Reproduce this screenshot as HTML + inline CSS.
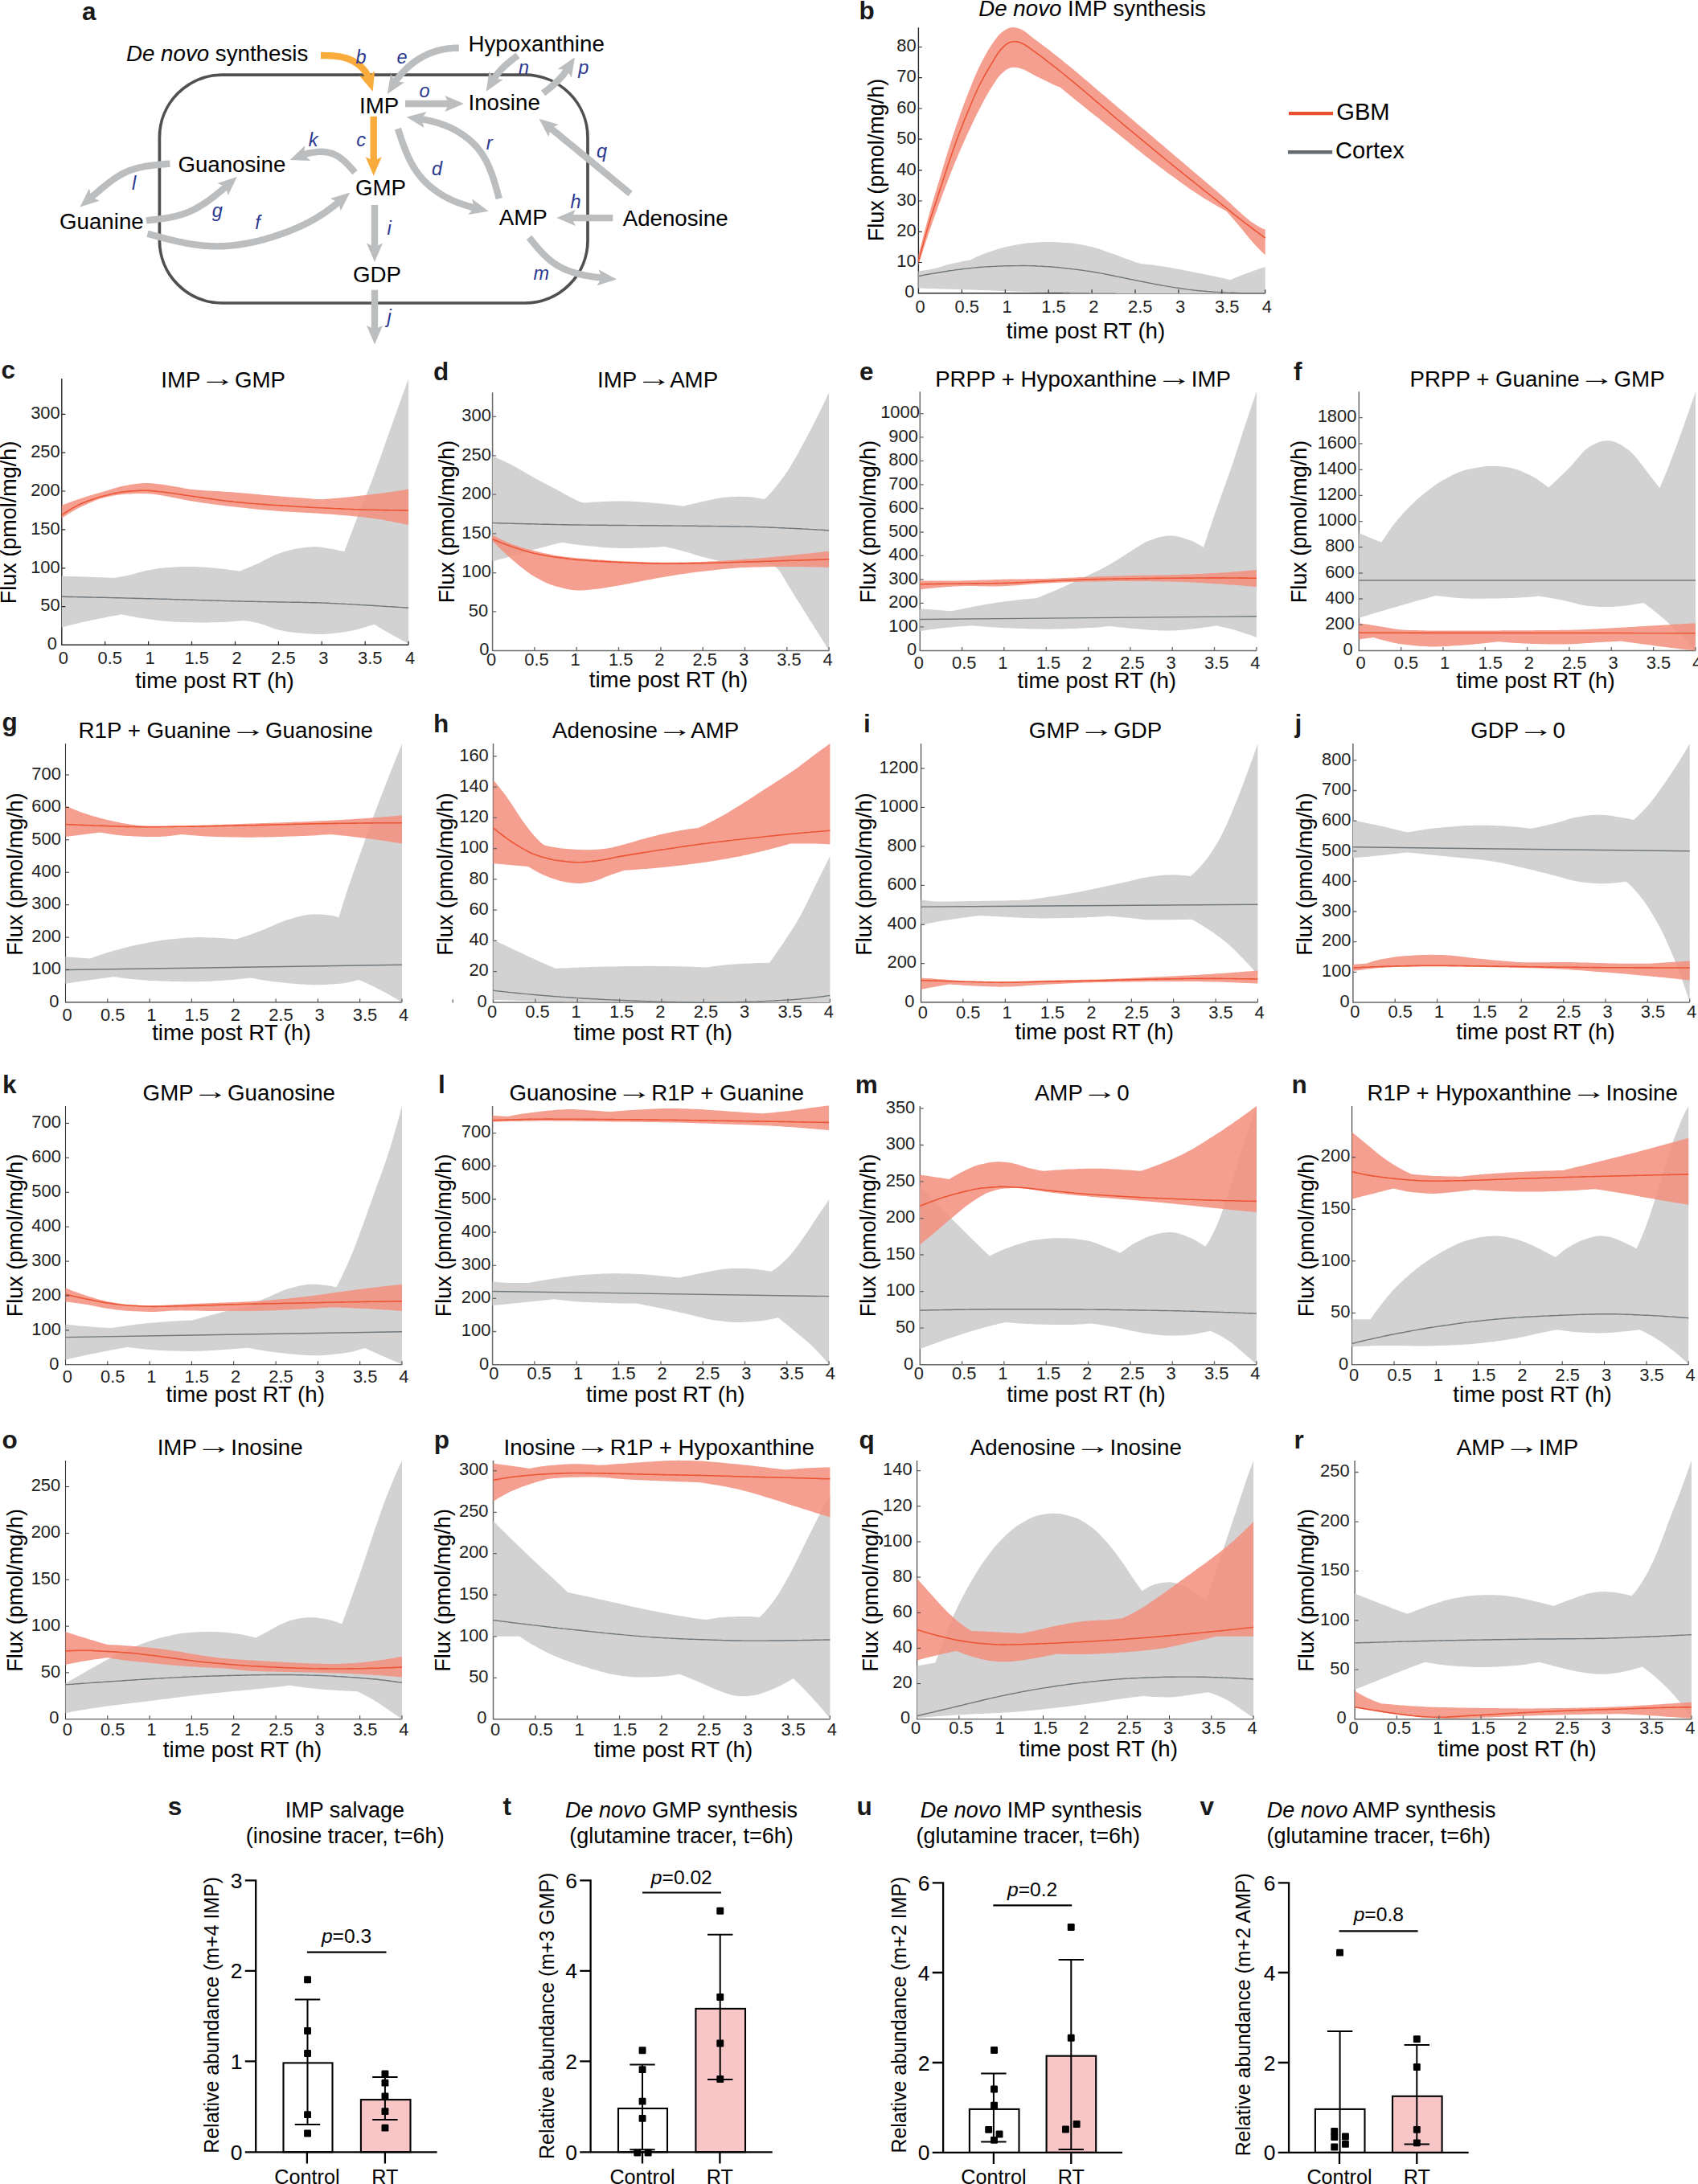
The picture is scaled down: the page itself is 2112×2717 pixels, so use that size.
<!DOCTYPE html>
<html><head><meta charset="utf-8"><title>Figure</title>
<style>html,body{margin:0;padding:0;background:#fff}svg{display:block}text{font-family:"Liberation Sans", sans-serif}</style></head><body>
<svg width="2112" height="2717" viewBox="0 0 2112 2717" font-family='"Liberation Sans", sans-serif' fill="#000">
<rect width="2112" height="2717" fill="#fff"/>
<g>
<text x="102" y="24.5" font-size="31.5" font-weight="bold" fill="#1a1a1a">a</text>
<rect x="198.4" y="93.2" width="532.6" height="283.8" rx="78" ry="78" fill="none" stroke="#505050" stroke-width="3.7"/>
<path d="M211.4,203.7 L209.9,203.8 L208.4,203.9 L206.8,204 L205.3,204.2 L203.8,204.3 L202.3,204.4 L200.8,204.5 L199.2,204.7 L197.7,204.8 L196.2,205 L194.7,205.1 L193.2,205.3 L191.7,205.4 L190.2,205.6 L188.6,205.8 L187.1,206 L185.6,206.2 L184.1,206.5 L182.6,206.7 L181.1,206.9 L179.6,207.2 L178.1,207.5 L176.6,207.8 L175.1,208.1 L173.6,208.4 L172.2,208.8 L170.7,209.2 L169.2,209.6 L167.7,210 L166.3,210.4 L164.8,210.9 L163.4,211.4 L162,211.9 L160.5,212.4 L159.1,213 L157.7,213.6 L156.3,214.2 L154.9,214.9 L153.6,215.6 L152.2,216.2 L150.9,217 L149.6,217.7 L148.2,218.5 L146.9,219.3 L145.6,220.1 L144.4,220.9 L143.1,221.8 L141.8,222.6 L140.6,223.5 L139.4,224.4 L138.1,225.3 L136.9,226.2 L135.7,227.1 L134.5,228.1 L133.3,229 L132.1,230 L130.9,230.9 L129.7,231.9 L128.6,232.8 L127.4,233.8 L126.2,234.8 L125,235.8 L123.9,236.7 L122.7,237.7 L121.5,238.7 L120.4,239.7 L119.2,240.7 L118,241.7 L116.9,242.6 L115.7,243.6 L114.6,244.6 L113.4,245.6" fill="none" stroke="#bbbdbf" stroke-width="8.4"/>
<path d="M99.5,257.5 L110.9,234.6 L113.7,245.3 L123.9,249.8Z" fill="#bbbdbf"/>
<path d="M181.9,274.3 L183.4,274.1 L184.9,274 L186.5,273.8 L188,273.7 L189.5,273.5 L191,273.3 L192.6,273.2 L194.1,273 L195.6,272.8 L197.1,272.6 L198.6,272.4 L200.2,272.2 L201.7,272 L203.2,271.8 L204.7,271.6 L206.2,271.3 L207.7,271.1 L209.2,270.8 L210.7,270.6 L212.3,270.3 L213.8,270 L215.3,269.7 L216.7,269.3 L218.2,269 L219.7,268.6 L221.2,268.2 L222.7,267.8 L224.2,267.4 L225.6,267 L227.1,266.5 L228.5,266 L230,265.5 L231.4,265 L232.9,264.4 L234.3,263.9 L235.7,263.3 L237.1,262.6 L238.5,262 L239.8,261.3 L241.2,260.7 L242.6,260 L243.9,259.2 L245.3,258.5 L246.6,257.7 L247.9,257 L249.2,256.2 L250.6,255.4 L251.8,254.6 L253.1,253.7 L254.4,252.9 L255.7,252 L257,251.2 L258.2,250.3 L259.5,249.4 L260.7,248.5 L261.9,247.6 L263.2,246.7 L264.4,245.8 L265.6,244.9 L266.8,243.9 L268,243 L269.2,242 L270.4,241.1 L271.6,240.1 L272.8,239.1 L274,238.2 L275.2,237.2 L276.3,236.2 L277.5,235.2 L278.7,234.2 L279.8,233.2 L281,232.2" fill="none" stroke="#bbbdbf" stroke-width="8.4"/>
<path d="M294.8,220.1 L283.7,243.1 L280.7,232.4 L270.5,228.1Z" fill="#bbbdbf"/>
<path d="M183.5,290.7 L185,291.1 L186.4,291.5 L187.9,291.9 L189.3,292.3 L190.8,292.7 L192.2,293.1 L193.7,293.5 L195.2,293.9 L196.6,294.3 L198.1,294.7 L199.5,295.1 L201,295.4 L202.5,295.8 L203.9,296.2 L205.4,296.6 L206.9,297 L208.3,297.3 L209.8,297.7 L211.3,298.1 L212.7,298.4 L214.2,298.8 L215.7,299.1 L217.1,299.5 L218.6,299.8 L220.1,300.1 L221.6,300.5 L223,300.8 L224.5,301.1 L226,301.4 L227.5,301.7 L229,302 L230.4,302.3 L231.9,302.6 L233.4,302.9 L234.9,303.1 L236.4,303.4 L237.9,303.6 L239.4,303.9 L240.9,304.1 L242.4,304.3 L243.9,304.5 L245.4,304.7 L246.9,304.9 L248.4,305.1 L249.9,305.3 L251.4,305.4 L252.9,305.6 L254.4,305.7 L255.9,305.8 L257.4,305.9 L258.9,306 L260.4,306.1 L261.9,306.2 L263.4,306.3 L264.9,306.3 L266.4,306.3 L267.9,306.4 L269.5,306.4 L271,306.4 L272.5,306.4 L274,306.3 L275.5,306.3 L277,306.2 L278.5,306.2 L280,306.1 L281.5,306 L283,305.9 L284.6,305.8 L286.1,305.6 L287.6,305.5 L289.1,305.4 L290.6,305.2 L292.1,305 L293.6,304.8 L295.1,304.7 L296.6,304.5 L298.1,304.2 L299.6,304 L301.1,303.8 L302.5,303.5 L304,303.3 L305.5,303 L307,302.8 L308.5,302.5 L310,302.2 L311.5,301.9 L312.9,301.6 L314.4,301.3 L315.9,300.9 L317.4,300.6 L318.8,300.3 L320.3,299.9 L321.8,299.6 L323.2,299.2 L324.7,298.8 L326.2,298.4 L327.6,298.1 L329.1,297.7 L330.5,297.2 L332,296.8 L333.5,296.4 L334.9,296 L336.4,295.6 L337.8,295.1 L339.2,294.7 L340.7,294.2 L342.1,293.8 L343.6,293.3 L345,292.8 L346.4,292.3 L347.9,291.8 L349.3,291.4 L350.7,290.8 L352.1,290.3 L353.6,289.8 L355,289.3 L356.4,288.8 L357.8,288.2 L359.2,287.7 L360.6,287.1 L362,286.6 L363.4,286 L364.8,285.4 L366.2,284.8 L367.6,284.2 L369,283.6 L370.4,283 L371.7,282.4 L373.1,281.8 L374.5,281.2 L375.9,280.5 L377.2,279.9 L378.6,279.2 L379.9,278.5 L381.3,277.8 L382.6,277.2 L384,276.5 L385.3,275.7 L386.6,275 L388,274.3 L389.3,273.6 L390.6,272.8 L391.9,272.1 L393.2,271.3 L394.5,270.5 L395.8,269.7 L397.1,268.9 L398.4,268.1 L399.6,267.3 L400.9,266.5 L402.2,265.7 L403.4,264.8 L404.7,264 L405.9,263.1 L407.1,262.2 L408.4,261.3 L409.6,260.5 L410.8,259.6 L412,258.6 L413.2,257.7 L414.4,256.8 L415.6,255.9 L416.8,254.9 L418,254 L419.1,253 L420.3,252.1 L421.4,251.1" fill="none" stroke="#bbbdbf" stroke-width="8.4"/>
<path d="M435.3,239.4 L423.8,262.2 L421,251.5 L410.9,246.9Z" fill="#bbbdbf"/>
<path d="M441.5,214.6 L440.5,213.4 L439.5,212.3 L438.5,211.1 L437.5,210 L436.5,208.9 L435.4,207.7 L434.4,206.6 L433.4,205.5 L432.3,204.4 L431.2,203.3 L430.1,202.2 L429,201.2 L427.9,200.2 L426.7,199.2 L425.6,198.2 L424.4,197.3 L423.1,196.3 L421.9,195.5 L420.6,194.6 L419.3,193.9 L417.9,193.1 L416.6,192.5 L415.2,191.8 L413.8,191.3 L412.3,190.8 L410.9,190.3 L409.4,190 L407.9,189.6 L406.4,189.4 L404.9,189.2 L403.3,189 L401.8,188.9 L400.3,188.8 L398.8,188.8 L397.2,188.9 L395.7,188.9 L394.2,189 L392.7,189.2 L391.2,189.3 L389.7,189.6 L388.1,189.8 L386.6,190.1 L385.2,190.4 L383.7,190.7 L382.2,191.1 L380.7,191.5 L379.2,191.9 L377.8,192.5" fill="none" stroke="#bbbdbf" stroke-width="8.4"/>
<path d="M360.7,199 L379.1,181.3 L378.2,192.4 L386.2,200Z" fill="#bbbdbf"/>
<path d="M570.8,59.7 L569.3,59.7 L567.7,59.7 L566.2,59.8 L564.7,59.8 L563.2,59.9 L561.6,60.1 L560.1,60.2 L558.6,60.4 L557.1,60.5 L555.6,60.7 L554,61 L552.5,61.2 L551,61.5 L549.5,61.8 L548,62.1 L546.5,62.5 L545.1,62.9 L543.6,63.3 L542.1,63.7 L540.7,64.2 L539.2,64.7 L537.8,65.2 L536.3,65.7 L534.9,66.2 L533.5,66.8 L532.1,67.4 L530.7,68.1 L529.3,68.7 L527.9,69.4 L526.6,70.1 L525.2,70.8 L523.9,71.6 L522.6,72.3 L521.3,73.1 L520,74 L518.7,74.8 L517.4,75.7 L516.2,76.5 L515,77.4 L513.7,78.4 L512.5,79.3 L511.3,80.3 L510.2,81.2 L509,82.2 L507.8,83.2 L506.7,84.3 L505.6,85.3 L504.5,86.4 L503.4,87.5 L502.4,88.6 L501.3,89.7 L500.3,90.8 L499.2,91.9 L498.2,93.1 L497.2,94.3 L496.3,95.4 L495.3,96.6 L494.4,97.8 L493.4,99 L492.5,100.3 L491.7,101.5" fill="none" stroke="#bbbdbf" stroke-width="8.4"/>
<path d="M481.8,117 L486,91.8 L491.9,101.2 L502.9,102.6Z" fill="#bbbdbf"/>
<path d="M644,69 L642.8,69.9 L641.5,70.9 L640.3,71.8 L639.1,72.7 L637.9,73.7 L636.7,74.6 L635.5,75.6 L634.3,76.6 L633.1,77.5 L631.9,78.5 L630.7,79.5 L629.5,80.6 L628.4,81.6 L627.3,82.6 L626.2,83.7 L625.1,84.8 L624,85.9 L622.9,87 L621.9,88.1 L620.9,89.3 L619.9,90.5 L618.9,91.7 L618,92.9 L617,94.1 L616.1,95.4 L615.2,96.6 L614.4,97.9" fill="none" stroke="#bbbdbf" stroke-width="8.4"/>
<path d="M604.7,113.7 L608.5,88.5 L614.5,97.8 L625.6,99Z" fill="#bbbdbf"/>
<path d="M675.7,115.9 L676.9,114.9 L678.2,113.9 L679.4,113 L680.6,112 L681.9,111 L683.1,110 L684.3,109 L685.5,108 L686.7,106.9 L687.9,105.9 L689.1,104.9 L690.3,103.8 L691.4,102.7 L692.6,101.6 L693.7,100.5 L694.8,99.4 L695.9,98.3 L697,97.1 L698,96 L699.1,94.8 L700.1,93.6 L701.1,92.3 L702,91.1 L703,89.8 L703.9,88.6 L704.8,87.3 L705.6,86" fill="none" stroke="#bbbdbf" stroke-width="8.4"/>
<path d="M715,71.3 L710.8,96.5 L705,87.1 L693.9,85.7Z" fill="#bbbdbf"/>
<path d="M504,129 L505.6,129 L507.1,129 L508.7,129 L510.2,129 L511.8,129 L513.3,129 L514.9,129 L516.4,129 L518,129 L519.5,129 L521.1,129 L522.6,129 L524.2,129 L525.7,129 L527.3,129 L528.9,129 L530.4,129 L532,129 L533.5,129 L535.1,129 L536.6,129 L538.2,129 L539.7,129 L541.3,129 L542.8,129 L544.4,129 L545.9,129 L547.5,129 L549,129 L550.6,129 L552.1,129 L553.7,129 L555.3,129 L556.8,129 L558.3,129" fill="none" stroke="#bbbdbf" stroke-width="8.4"/>
<path d="M577,129 L553.5,139 L558.3,129 L553.5,119Z" fill="#bbbdbf"/>
<path d="M620.8,247.2 L620.4,245.7 L620,244.3 L619.6,242.8 L619.2,241.3 L618.9,239.9 L618.5,238.4 L618.1,237 L617.7,235.5 L617.2,234 L616.8,232.6 L616.4,231.1 L616,229.7 L615.6,228.2 L615.1,226.8 L614.7,225.3 L614.2,223.9 L613.8,222.5 L613.3,221 L612.8,219.6 L612.3,218.2 L611.8,216.7 L611.3,215.3 L610.7,213.9 L610.2,212.5 L609.6,211.1 L609.1,209.7 L608.5,208.3 L607.9,206.9 L607.2,205.5 L606.6,204.1 L606,202.8 L605.3,201.4 L604.6,200.1 L603.9,198.7 L603.1,197.4 L602.4,196.1 L601.6,194.8 L600.8,193.5 L600,192.2 L599.2,191 L598.3,189.7 L597.4,188.5 L596.5,187.3 L595.6,186.1 L594.6,184.9 L593.7,183.8 L592.7,182.6 L591.7,181.5 L590.6,180.4 L589.6,179.3 L588.5,178.2 L587.4,177.2 L586.3,176.1 L585.2,175.1 L584,174.1 L582.9,173.1 L581.7,172.2 L580.5,171.2 L579.3,170.3 L578.1,169.4 L576.9,168.5 L575.7,167.7 L574.4,166.8 L573.1,166 L571.9,165.2 L570.6,164.4 L569.3,163.6 L568,162.8 L566.6,162.1 L565.3,161.4 L564,160.7 L562.6,160 L561.3,159.3 L559.9,158.7 L558.5,158 L557.1,157.4 L555.7,156.8 L554.3,156.3 L552.9,155.7 L551.5,155.2 L550.1,154.7 L548.7,154.2 L547.2,153.7 L545.8,153.2 L544.3,152.8 L542.9,152.4 L541.4,152 L540,151.6 L538.5,151.2 L537,150.8 L535.5,150.5 L534.1,150.2 L532.6,149.8 L531.1,149.5 L529.6,149.2 L528.1,149 L526.7,148.7 L525.2,148.4 L523.7,148.2" fill="none" stroke="#bbbdbf" stroke-width="8.4"/>
<path d="M505.7,145.5 L530.4,139.1 L524.2,148.3 L527.5,158.9Z" fill="#bbbdbf"/>
<path d="M494.9,160.1 L495.4,161.6 L495.9,163 L496.3,164.5 L496.8,165.9 L497.3,167.3 L497.8,168.8 L498.3,170.2 L498.7,171.7 L499.2,173.1 L499.7,174.6 L500.2,176 L500.8,177.5 L501.3,178.9 L501.8,180.3 L502.3,181.8 L502.9,183.2 L503.4,184.6 L504,186 L504.5,187.4 L505.1,188.9 L505.7,190.3 L506.3,191.7 L506.9,193.1 L507.5,194.5 L508.2,195.8 L508.8,197.2 L509.5,198.6 L510.2,200 L510.9,201.3 L511.6,202.7 L512.3,204 L513.1,205.3 L513.8,206.7 L514.6,208 L515.4,209.3 L516.2,210.6 L517.1,211.8 L517.9,213.1 L518.8,214.3 L519.7,215.6 L520.6,216.8 L521.6,218 L522.5,219.2 L523.5,220.4 L524.5,221.5 L525.5,222.7 L526.5,223.8 L527.6,224.9 L528.6,226 L529.7,227.1 L530.8,228.1 L531.9,229.2 L533.1,230.2 L534.2,231.2 L535.4,232.2 L536.6,233.2 L537.7,234.1 L538.9,235.1 L540.2,236 L541.4,236.9 L542.6,237.8 L543.9,238.7 L545.1,239.5 L546.4,240.4 L547.7,241.2 L549,242 L550.3,242.8 L551.6,243.6 L552.9,244.3 L554.3,245.1 L555.6,245.8 L557,246.5 L558.3,247.2 L559.7,247.8 L561.1,248.5 L562.5,249.1 L563.9,249.8 L565.3,250.4 L566.7,250.9 L568.1,251.5 L569.5,252.1 L570.9,252.6 L572.4,253.1 L573.8,253.6 L575.3,254.1 L576.7,254.6 L578.2,255.1 L579.6,255.5 L581.1,256 L582.5,256.4 L584,256.8 L585.5,257.2 L586.9,257.7 L588.4,258 L589.9,258.4" fill="none" stroke="#bbbdbf" stroke-width="8.4"/>
<path d="M607.7,262.7 L582.5,266.9 L589.5,258.3 L587.2,247.5Z" fill="#bbbdbf"/>
<path d="M784,241 L782.8,240 L781.6,239.1 L780.5,238.1 L779.3,237.1 L778.1,236.1 L776.9,235.2 L775.7,234.2 L774.6,233.2 L773.4,232.2 L772.2,231.3 L771,230.3 L769.8,229.3 L768.6,228.3 L767.5,227.4 L766.3,226.4 L765.1,225.4 L763.9,224.4 L762.7,223.5 L761.6,222.5 L760.4,221.5 L759.2,220.6 L758,219.6 L756.8,218.6 L755.7,217.6 L754.5,216.7 L753.3,215.7 L752.1,214.7 L750.9,213.7 L749.8,212.8 L748.6,211.8 L747.4,210.8 L746.2,209.8 L745,208.9 L743.9,207.9 L742.7,206.9 L741.5,205.9 L740.3,205 L739.1,204 L737.9,203 L736.8,202.1 L735.6,201.1 L734.4,200.1 L733.2,199.1 L732,198.2 L730.9,197.2 L729.7,196.2 L728.5,195.2 L727.3,194.3 L726.1,193.3 L725,192.3 L723.8,191.4 L722.6,190.4 L721.4,189.4 L720.2,188.4 L719,187.5 L717.9,186.5 L716.7,185.5 L715.5,184.6 L714.3,183.6 L713.1,182.6 L711.9,181.7 L710.7,180.7 L709.6,179.7 L708.4,178.7 L707.2,177.8 L706,176.8 L704.8,175.8 L703.6,174.9 L702.5,173.9 L701.3,172.9 L700.1,172 L698.9,171 L697.7,170 L696.5,169 L695.4,168.1 L694.2,167.1 L693,166.1 L691.8,165.2 L690.6,164.2 L689.4,163.2 L688.3,162.3 L687.1,161.3 L685.9,160.3 L684.7,159.4" fill="none" stroke="#bbbdbf" stroke-width="8.4"/>
<path d="M670.5,147.7 L695,154.9 L685,159.6 L682.3,170.3Z" fill="#bbbdbf"/>
<path d="M762.3,271.1 L760.7,271.1 L759.2,271.1 L757.6,271.1 L756.1,271.1 L754.5,271.1 L753,271.1 L751.4,271.1 L749.9,271.1 L748.3,271.1 L746.7,271.1 L745.2,271.1 L743.6,271.1 L742.1,271.1 L740.5,271.1 L739,271.1 L737.4,271.1 L735.9,271.1 L734.3,271.1 L732.7,271.1 L731.2,271.1 L729.6,271.1 L728.1,271.1 L726.5,271.1 L725,271.1 L723.4,271.1 L721.9,271.1 L720.3,271.1 L718.7,271.1 L717.2,271.1 L715.6,271.1 L714.1,271.1 L712.5,271.1 L711,271.1" fill="none" stroke="#bbbdbf" stroke-width="8.4"/>
<path d="M692.3,271.1 L715.8,261.1 L711,271.1 L715.8,281.1Z" fill="#bbbdbf"/>
<path d="M658.1,295.4 L659.1,296.6 L660,297.8 L661,299 L661.9,300.1 L662.9,301.3 L663.8,302.5 L664.8,303.7 L665.8,304.8 L666.8,306 L667.7,307.1 L668.7,308.3 L669.7,309.4 L670.7,310.6 L671.8,311.7 L672.8,312.8 L673.8,313.9 L674.9,315 L675.9,316.1 L677,317.2 L678.1,318.3 L679.2,319.3 L680.3,320.4 L681.4,321.4 L682.6,322.4 L683.7,323.4 L684.9,324.3 L686.1,325.3 L687.3,326.2 L688.5,327.1 L689.8,327.9 L691,328.8 L692.3,329.6 L693.6,330.4 L694.9,331.2 L696.3,331.9 L697.6,332.6 L699,333.3 L700.3,334 L701.7,334.6 L703.1,335.2 L704.5,335.8 L705.9,336.4 L707.3,336.9 L708.8,337.4 L710.2,337.9 L711.6,338.4 L713.1,338.9 L714.6,339.3 L716,339.7 L717.5,340.1 L718.9,340.5 L720.4,340.9 L721.9,341.3 L723.4,341.6 L724.9,341.9 L726.3,342.3 L727.8,342.6 L729.3,342.9 L730.8,343.2 L732.3,343.4 L733.8,343.7 L735.3,343.9 L736.8,344.2 L738.3,344.4 L739.8,344.6 L741.3,344.8 L742.8,345 L744.3,345.2 L745.8,345.4 L747.3,345.6 L748.8,345.8" fill="none" stroke="#bbbdbf" stroke-width="8.4"/>
<path d="M767,347.6 L742.6,355.2 L748.4,345.7 L744.6,335.3Z" fill="#bbbdbf"/>
<path d="M466,255 L466,256.5 L466,258.1 L466,259.6 L466,261.2 L466,262.7 L466,264.2 L466,265.8 L466,267.3 L466,268.9 L466,270.4 L466,272 L466,273.5 L466,275 L466,276.6 L466,278.1 L466,279.7 L466,281.2 L466,282.7 L466,284.3 L466,285.8 L466,287.4 L466,288.9 L466,290.4 L466,292 L466,293.5 L466,295.1 L466,296.6 L466,298.2 L466,299.7 L466,301.2 L466,302.8 L466,304.3 L466,305.9 L466,307.4" fill="none" stroke="#bbbdbf" stroke-width="8.4"/>
<path d="M466,325.9 L456,302.4 L466,307.2 L476,302.4Z" fill="#bbbdbf"/>
<path d="M466,360.7 L466,362.2 L466,363.8 L466,365.3 L466,366.9 L466,368.4 L466,369.9 L466,371.5 L466,373 L466,374.6 L466,376.1 L466,377.6 L466,379.2 L466,380.7 L466,382.3 L466,383.8 L466,385.4 L466,386.9 L466,388.4 L466,390 L466,391.5 L466,393.1 L466,394.6 L466,396.1 L466,397.7 L466,399.2 L466,400.8 L466,402.3 L466,403.8 L466,405.4 L466,406.9 L466,408.5 L466,410" fill="none" stroke="#bbbdbf" stroke-width="8.4"/>
<path d="M466,428.5 L456,405 L466,409.8 L476,405Z" fill="#bbbdbf"/>
<path d="M399,69 L400.5,69 L402.1,69 L403.6,69.1 L405.2,69.1 L406.7,69.1 L408.3,69.2 L409.8,69.2 L411.3,69.3 L412.9,69.4 L414.4,69.5 L416,69.6 L417.5,69.8 L419,70 L420.6,70.2 L422.1,70.4 L423.6,70.7 L425.1,71 L426.6,71.3 L428.1,71.7 L429.6,72.1 L431.1,72.5 L432.5,73 L434,73.6 L435.4,74.2 L436.8,74.8 L438.2,75.5 L439.6,76.2 L440.9,77 L442.2,77.8 L443.5,78.6 L444.8,79.5 L446,80.4 L447.2,81.4 L448.4,82.4 L449.5,83.5 L450.6,84.6 L451.6,85.7 L452.6,86.9 L453.6,88.1 L454.5,89.3 L455.4,90.6 L456.2,91.9 L456.9,93.3 L457.6,94.6 L458.1,96.1" fill="none" stroke="#f9ac3c" stroke-width="8.4"/>
<path d="M463.7,113.7 L447,94.3 L458,95.9 L466.1,88.3Z" fill="#f9ac3c"/>
<path d="M464.7,144.8 L464.7,146.3 L464.7,147.9 L464.7,149.4 L464.7,151 L464.7,152.5 L464.7,154.1 L464.7,155.6 L464.7,157.1 L464.7,158.7 L464.7,160.2 L464.7,161.8 L464.7,163.3 L464.7,164.8 L464.7,166.4 L464.7,167.9 L464.7,169.5 L464.7,171 L464.7,172.6 L464.7,174.1 L464.7,175.6 L464.7,177.2 L464.7,178.7 L464.7,180.3 L464.7,181.8 L464.7,183.3 L464.7,184.9 L464.7,186.4 L464.7,188 L464.7,189.5 L464.7,191.1 L464.7,192.6 L464.7,194.1 L464.7,195.7 L464.7,197.2 L464.7,198.8 L464.7,200.3" fill="none" stroke="#f9ac3c" stroke-width="8.4"/>
<path d="M464.7,218.8 L454.7,195.3 L464.7,200.1 L474.7,195.3Z" fill="#f9ac3c"/>
<g font-size="27.7">
<text x="582.5" y="63.7">Hypoxanthine</text>
<text x="447" y="140.5">IMP</text>
<text x="582.5" y="136.8">Inosine</text>
<text x="442" y="242.5">GMP</text>
<text x="620.8" y="280">AMP</text>
<text x="774.7" y="280.8">Adenosine</text>
<text x="439" y="350.7">GDP</text>
<text x="221.4" y="214">Guanosine</text>
<text x="74" y="284.5">Guanine</text>
<text x="157" y="76.2"><tspan font-style="italic">De novo</tspan> synthesis</text>
</g>
<g font-size="23.5" font-style="italic" fill="#2b3990">
<text x="442.5" y="78.8">b</text>
<text x="493.4" y="78.8">e</text>
<text x="645" y="91.9">n</text>
<text x="719.2" y="91.5">p</text>
<text x="521.6" y="121.2">o</text>
<text x="383.8" y="181.6">k</text>
<text x="443.2" y="181.6">c</text>
<text x="604.7" y="185.8">r</text>
<text x="536.9" y="217.6">d</text>
<text x="742" y="195.9">q</text>
<text x="709.4" y="258.7">h</text>
<text x="663.4" y="348.3">m</text>
<text x="481.5" y="291.7">i</text>
<text x="481.5" y="402.3">j</text>
<text x="163.9" y="235.7">l</text>
<text x="263.7" y="269.9">g</text>
<text x="317.2" y="284.5">f</text>
</g>
</g>
<path d="M1603,141.1 H1658" stroke="#e9502f" stroke-width="4.4"/>
<path d="M1602,189.3 H1657.2" stroke="#646c72" stroke-width="4.4"/>
<text x="1662.3" y="148.7" font-size="29.1">GBM</text>
<text x="1661" y="196.7" font-size="29.1">Cortex</text>
<path d="M563.2,1243.3 v4.2" stroke="#333" stroke-width="1"/>
<g>
<path d="M76.8,471.1 V802.3 H508.1" fill="none" stroke="#2a2a2a" stroke-width="1.4"/>
<clipPath id="clip-c"><rect x="75.8" y="470.1" width="434.3" height="333.2"/></clipPath>
<g clip-path="url(#clip-c)">
<path d="M76.8,716.7 L79.9,716.8 L83,716.9 L86,717 L89.1,717.1 L92.2,717.2 L95.3,717.3 L98.4,717.3 L101.4,717.4 L104.5,717.5 L107.6,717.6 L110.7,717.7 L113.8,717.8 L116.8,718 L119.9,718.1 L123,718.2 L126.1,718.3 L129.2,718.4 L132.2,718.5 L135.3,718.7 L138.4,718.8 L141.5,718.9 L144.5,718.5 L147.5,718 L150.5,717.5 L153.5,716.9 L156.5,716.3 L159.5,715.7 L162.5,715 L165.5,714.3 L168.6,713.5 L171.6,712.6 L174.6,711.7 L177.6,710.9 L180.6,710.1 L183.6,709.5 L186.6,709 L189.6,708.5 L192.6,708 L195.6,707.5 L198.6,707.1 L201.6,706.7 L204.6,706.4 L207.7,706.1 L210.7,705.9 L213.7,705.7 L216.7,705.6 L219.7,705.4 L222.7,705.2 L225.7,705.1 L228.7,705 L231.7,704.9 L234.7,704.9 L237.7,704.9 L240.7,705 L243.8,705.1 L246.8,705.2 L249.8,705.4 L252.8,705.6 L255.8,705.8 L258.8,706.1 L261.8,706.3 L264.8,706.6 L267.8,706.8 L270.8,707.1 L273.8,707.4 L276.8,707.7 L279.8,708.1 L282.9,708.5 L285.9,708.9 L288.9,709.3 L291.9,709.7 L294.9,710.1 L297.9,710.5 L300.9,709.4 L304,708.1 L307,706.9 L310,705.6 L313,704.4 L316.1,703 L319.1,701.7 L322.1,700.4 L325.2,698.9 L328.2,697.3 L331.2,695.8 L334.3,694.2 L337.3,692.7 L340.3,691.2 L343.3,689.9 L346.4,688.8 L349.4,687.7 L352.4,686.8 L355.5,685.8 L358.5,685 L361.5,684.2 L364.6,683.4 L367.6,682.8 L370.6,682.3 L373.6,681.9 L376.7,681.5 L379.7,681.1 L382.7,680.8 L385.8,680.5 L388.8,680.3 L391.8,680.3 L394.9,680.4 L397.9,680.6 L400.9,681 L403.9,681.4 L407,682 L410,682.5 L413,683.1 L416.1,683.6 L419.1,684.2 L422.1,684.9 L425.2,685.6 L428.2,686.3 L431.3,678.3 L434.3,670.2 L437.4,662.2 L440.5,654 L443.6,646 L446.6,638.1 L449.7,630.5 L452.8,623 L455.8,615.3 L458.9,607.4 L462,599.4 L465.1,591.2 L468.1,582.8 L471.2,574.4 L474.3,565.7 L477.4,557 L480.4,548.3 L483.5,539.6 L486.6,530.9 L489.7,522.2 L492.7,513.6 L495.8,505 L498.9,496.5 L502,488 L505,479.5 L508.1,471.1 L508.1,800.7 L505.1,799.1 L502,797.5 L499,795.9 L495.9,794.3 L492.9,792.6 L489.8,790.9 L486.8,789.2 L483.8,787.5 L480.7,785.8 L477.7,784 L474.6,782.2 L471.6,780.4 L468.5,778.6 L465.5,776.8 L462.5,777.7 L459.5,778.6 L456.5,779.6 L453.5,780.5 L450.5,781.3 L447.5,782.2 L444.5,783 L441.5,783.7 L438.4,784.4 L435.4,785 L432.4,785.6 L429.4,786 L426.4,786.5 L423.4,786.9 L420.4,787.3 L417.4,787.6 L414.4,788 L411.4,788.3 L408.4,788.5 L405.4,788.7 L402.4,788.9 L399.4,788.9 L396.4,788.9 L393.4,788.8 L390.4,788.7 L387.3,788.6 L384.3,788.4 L381.3,788.2 L378.3,788 L375.3,787.8 L372.3,787.6 L369.3,787.3 L366.3,787 L363.3,786.6 L360.3,786.2 L357.3,785.7 L354.3,785.2 L351.3,784.6 L348.3,784 L345.3,783.3 L342.3,782.5 L339.3,781.5 L336.2,780.3 L333.2,779.2 L330.2,778 L327.2,776.9 L324.2,776 L321.2,775.3 L318.2,774.6 L315.2,773.9 L312.2,773.3 L309.2,772.8 L306.2,772.4 L303.2,772.1 L300.1,772.3 L297.1,772.6 L294.1,772.8 L291,773.1 L288,773.3 L285,773.5 L281.9,773.7 L278.9,773.9 L275.9,774 L272.8,774.1 L269.8,774.2 L266.8,774.3 L263.7,774.3 L260.7,774.3 L257.7,774.4 L254.6,774.4 L251.6,774.4 L248.6,774.4 L245.5,774.3 L242.5,774.3 L239.4,774.3 L236.4,774.2 L233.4,774.2 L230.3,774.1 L227.3,774 L224.3,773.9 L221.2,773.8 L218.2,773.7 L215.2,773.5 L212.1,773.3 L209.1,773.1 L206.1,772.8 L203,772.5 L200,772.2 L197,771.8 L193.9,771.4 L190.9,771 L187.9,770.6 L184.8,770.2 L181.8,769.8 L178.7,769.4 L175.7,768.9 L172.7,768.4 L169.6,767.9 L166.6,767.3 L163.6,766.8 L160.5,766.2 L157.5,765.6 L154.5,764.9 L151.4,764.3 L148.3,764.9 L145.2,765.4 L142.1,766 L139,766.6 L135.9,767.1 L132.8,767.7 L129.7,768.4 L126.6,769 L123.4,769.6 L120.3,770.3 L117.2,770.9 L114.1,771.6 L111,772.2 L107.9,772.9 L104.8,773.6 L101.7,774.3 L98.6,775.1 L95.5,775.8 L92.4,776.5 L89.2,777.3 L86.1,778.1 L83,778.9 L79.9,779.7 L76.8,780.5Z" fill="#d2d2d2"/>
<path d="M76.8,742.2 L79.8,742.3 L82.8,742.4 L85.9,742.4 L88.9,742.5 L91.9,742.6 L94.9,742.6 L97.9,742.7 L100.9,742.7 L103.9,742.8 L107,742.9 L110,742.9 L113,743 L116,743.1 L119,743.1 L122,743.2 L125.1,743.3 L128.1,743.3 L131.1,743.4 L134.1,743.5 L137.1,743.6 L140.1,743.6 L143.2,743.7 L146.2,743.8 L149.2,743.8 L152.2,743.9 L155.2,744 L158.2,744.1 L161.3,744.1 L164.3,744.2 L167.3,744.3 L170.3,744.4 L173.3,744.4 L176.3,744.5 L179.4,744.6 L182.4,744.7 L185.4,744.8 L188.4,744.8 L191.4,744.9 L194.4,745 L197.4,745.1 L200.5,745.2 L203.5,745.2 L206.5,745.3 L209.5,745.4 L212.5,745.5 L215.5,745.6 L218.6,745.7 L221.6,745.8 L224.6,745.9 L227.6,746 L230.6,746 L233.6,746.1 L236.7,746.2 L239.7,746.3 L242.7,746.4 L245.7,746.5 L248.7,746.6 L251.7,746.7 L254.8,746.8 L257.8,746.9 L260.8,747 L263.8,747 L266.8,747.1 L269.8,747.2 L272.8,747.3 L275.9,747.4 L278.9,747.5 L281.9,747.6 L284.9,747.6 L287.9,747.7 L290.9,747.8 L294,747.9 L297,748 L300,748 L303,748.1 L306,748.2 L309,748.2 L312.1,748.3 L315.1,748.3 L318.1,748.4 L321.1,748.5 L324.1,748.5 L327.1,748.6 L330.2,748.6 L333.2,748.7 L336.2,748.7 L339.2,748.8 L342.2,748.8 L345.2,748.9 L348.2,748.9 L351.3,749 L354.3,749 L357.3,749.1 L360.3,749.1 L363.3,749.2 L366.3,749.2 L369.4,749.3 L372.4,749.3 L375.4,749.4 L378.4,749.5 L381.4,749.5 L384.4,749.6 L387.5,749.7 L390.5,749.7 L393.5,749.8 L396.5,749.9 L399.5,750 L402.5,750.1 L405.6,750.2 L408.6,750.3 L411.6,750.5 L414.6,750.6 L417.6,750.7 L420.6,750.9 L423.6,751.1 L426.7,751.2 L429.7,751.4 L432.7,751.6 L435.7,751.7 L438.7,751.9 L441.7,752.1 L444.8,752.3 L447.8,752.5 L450.8,752.6 L453.8,752.8 L456.8,753 L459.8,753.2 L462.9,753.3 L465.9,753.5 L468.9,753.7 L471.9,753.9 L474.9,754.1 L477.9,754.3 L481,754.5 L484,754.6 L487,754.8 L490,755 L493,755.2 L496,755.4 L499.1,755.6 L502.1,755.8 L505.1,756 L508.1,756.2" fill="none" stroke="#70787d" stroke-width="1.45"/>
<path d="M76.8,628.7 L79.8,627.6 L82.9,626.4 L85.9,625.3 L88.9,624.2 L91.9,623.1 L94.9,622 L98,621 L101,620 L104,619 L107,618 L110.1,617.1 L113.1,616.1 L116.1,615.2 L119.1,614.3 L122.1,613.5 L125.2,612.6 L128.2,611.7 L131.2,610.8 L134.2,610 L137.3,609 L140.3,608.1 L143.3,607.2 L146.3,606.3 L149.3,605.5 L152.4,604.8 L155.4,604.2 L158.4,603.7 L161.4,603.1 L164.5,602.6 L167.5,602.2 L170.5,601.8 L173.5,601.5 L176.5,601.2 L179.6,601.1 L182.6,601 L185.6,601.1 L188.6,601.3 L191.7,601.5 L194.7,601.9 L197.7,602.2 L200.7,602.6 L203.7,603.1 L206.8,603.5 L209.8,603.9 L212.8,604.4 L215.8,604.9 L218.9,605.5 L221.9,606 L224.9,606.6 L227.9,607.2 L230.9,607.8 L234,608.3 L237,608.7 L240,609 L243,609.3 L246.1,609.5 L249.1,609.8 L252.1,610 L255.1,610.2 L258.1,610.4 L261.2,610.6 L264.2,610.8 L267.2,611 L270.2,611.1 L273.3,611.3 L276.3,611.5 L279.3,611.7 L282.3,611.9 L285.3,612.1 L288.4,612.3 L291.4,612.5 L294.4,612.8 L297.4,613 L300.5,613.3 L303.5,613.5 L306.5,613.8 L309.5,614 L312.5,614.3 L315.6,614.6 L318.6,614.9 L321.6,615.1 L324.6,615.4 L327.7,615.7 L330.7,615.9 L333.7,616.2 L336.7,616.4 L339.8,616.7 L342.8,616.9 L345.8,617.2 L348.8,617.4 L351.8,617.7 L354.9,617.9 L357.9,618.2 L360.9,618.4 L363.9,618.6 L367,618.9 L370,619.1 L373,619.3 L376,619.5 L379,619.8 L382.1,620 L385.1,620.2 L388.1,620.4 L391.1,620.7 L394.2,620.9 L397.2,621.1 L400.2,621.3 L403.3,621.1 L406.4,620.8 L409.4,620.6 L412.5,620.3 L415.6,620.1 L418.7,619.8 L421.8,619.5 L424.9,619.2 L427.9,618.9 L431,618.6 L434.1,618.3 L437.2,618 L440.3,617.6 L443.4,617.2 L446.4,616.9 L449.5,616.5 L452.6,616.2 L455.7,615.8 L458.8,615.4 L461.9,615.1 L464.9,614.7 L468,614.3 L471.1,614 L474.2,613.6 L477.3,613.2 L480.4,612.8 L483.4,612.4 L486.5,611.9 L489.6,611.5 L492.7,611 L495.8,610.6 L498.9,610.1 L501.9,609.6 L505,609.1 L508.1,608.5 L508.1,653 L505.1,652.4 L502.1,651.8 L499.1,651.2 L496,650.6 L493,650 L490,649.4 L487,648.8 L484,648.2 L481,647.7 L477.9,647.1 L474.9,646.6 L471.9,646.1 L468.9,645.7 L465.9,645.2 L462.9,644.8 L459.8,644.4 L456.8,644 L453.8,643.7 L450.8,643.3 L447.8,643 L444.8,642.7 L441.7,642.4 L438.7,642.1 L435.7,641.8 L432.7,641.6 L429.7,641.3 L426.7,641 L423.6,640.8 L420.6,640.5 L417.6,640.3 L414.6,640.1 L411.6,639.8 L408.6,639.6 L405.6,639.4 L402.5,639.2 L399.5,639 L396.5,638.8 L393.5,638.6 L390.5,638.4 L387.5,638.2 L384.4,638.1 L381.4,637.9 L378.4,637.8 L375.4,637.6 L372.4,637.4 L369.4,637.3 L366.3,637.1 L363.3,637 L360.3,636.8 L357.3,636.6 L354.3,636.4 L351.3,636.2 L348.2,636 L345.2,635.8 L342.2,635.6 L339.2,635.3 L336.2,635.1 L333.2,634.8 L330.2,634.5 L327.1,634.3 L324.1,634 L321.1,633.7 L318.1,633.4 L315.1,633.1 L312.1,632.8 L309,632.4 L306,632.1 L303,631.8 L300,631.5 L297,631.1 L294,630.8 L290.9,630.5 L287.9,630.1 L284.9,629.8 L281.9,629.4 L278.9,629.1 L275.9,628.7 L272.8,628.3 L269.8,627.9 L266.8,627.6 L263.8,627.2 L260.8,626.7 L257.8,626.3 L254.8,625.9 L251.7,625.5 L248.7,625 L245.7,624.6 L242.7,624.1 L239.7,623.6 L236.7,623.2 L233.6,622.6 L230.6,622 L227.6,621.4 L224.6,620.8 L221.6,620.2 L218.6,619.5 L215.5,618.9 L212.5,618.4 L209.5,617.8 L206.5,617.3 L203.5,616.7 L200.5,616.2 L197.4,615.7 L194.4,615.2 L191.4,614.8 L188.4,614.5 L185.4,614.2 L182.4,614 L179.4,613.9 L176.3,613.9 L173.3,613.9 L170.3,613.9 L167.3,614.1 L164.3,614.2 L161.3,614.4 L158.2,614.6 L155.2,614.8 L152.2,615 L149.2,615.4 L146.2,615.8 L143.2,616.3 L140.1,616.8 L137.1,617.4 L134.1,618 L131.1,618.7 L128.1,619.4 L125.1,620.3 L122,621.3 L119,622.4 L116,623.7 L113,625 L110,626.3 L107,627.7 L103.9,629.1 L100.9,630.5 L97.9,632 L94.9,633.6 L91.9,635.3 L88.9,637 L85.9,638.8 L82.8,640.7 L79.8,642.7 L76.8,644.6Z" fill="rgb(243,145,127)" fill-opacity="0.87"/>
<path d="M76.8,640.6 L79.8,638.6 L82.8,636.7 L85.9,634.8 L88.9,632.9 L91.9,631.2 L94.9,629.6 L97.9,628 L100.9,626.7 L103.9,625.4 L107,624.2 L110,623.1 L113,622 L116,620.9 L119,619.9 L122,619 L125.1,618.1 L128.1,617.3 L131.1,616.5 L134.1,615.8 L137.1,615 L140.1,614.3 L143.2,613.6 L146.2,613 L149.2,612.5 L152.2,612 L155.2,611.7 L158.2,611.4 L161.3,611.1 L164.3,610.9 L167.3,610.7 L170.3,610.5 L173.3,610.4 L176.3,610.3 L179.4,610.3 L182.4,610.3 L185.4,610.4 L188.4,610.6 L191.4,610.9 L194.4,611.1 L197.4,611.5 L200.5,611.8 L203.5,612.2 L206.5,612.6 L209.5,613 L212.5,613.3 L215.5,613.8 L218.6,614.2 L221.6,614.7 L224.6,615.1 L227.6,615.6 L230.6,616.1 L233.6,616.5 L236.7,617 L239.7,617.4 L242.7,617.8 L245.7,618.3 L248.7,618.7 L251.7,619.1 L254.8,619.6 L257.8,620 L260.8,620.4 L263.8,620.9 L266.8,621.3 L269.8,621.7 L272.8,622.1 L275.9,622.5 L278.9,622.9 L281.9,623.3 L284.9,623.6 L287.9,623.9 L290.9,624.3 L294,624.6 L297,624.9 L300,625.1 L303,625.4 L306,625.7 L309,626 L312.1,626.2 L315.1,626.5 L318.1,626.7 L321.1,626.9 L324.1,627.2 L327.1,627.4 L330.2,627.6 L333.2,627.9 L336.2,628.1 L339.2,628.3 L342.2,628.5 L345.2,628.7 L348.2,628.9 L351.3,629.1 L354.3,629.3 L357.3,629.4 L360.3,629.6 L363.3,629.8 L366.3,630 L369.4,630.2 L372.4,630.4 L375.4,630.5 L378.4,630.7 L381.4,630.9 L384.4,631.1 L387.5,631.2 L390.5,631.4 L393.5,631.5 L396.5,631.7 L399.5,631.8 L402.5,632 L405.6,632.1 L408.6,632.3 L411.6,632.4 L414.6,632.5 L417.6,632.7 L420.6,632.8 L423.6,632.9 L426.7,633.1 L429.7,633.2 L432.7,633.3 L435.7,633.5 L438.7,633.6 L441.7,633.7 L444.8,633.8 L447.8,633.9 L450.8,634 L453.8,634 L456.8,634.1 L459.8,634.2 L462.9,634.2 L465.9,634.3 L468.9,634.4 L471.9,634.5 L474.9,634.5 L477.9,634.6 L481,634.6 L484,634.7 L487,634.7 L490,634.8 L493,634.8 L496,634.9 L499.1,634.9 L502.1,634.9 L505.1,635 L508.1,635" fill="none" stroke="#ec5535" stroke-width="1.6"/>
</g>
<path d="M76.8,754.7 h4.5 M76.8,706.8 h4.5 M76.8,658.9 h4.5 M76.8,611 h4.5 M76.8,563.1 h4.5 M76.8,515.3 h4.5 M130.7,802.3 v-4.5 M184.6,802.3 v-4.5 M238.5,802.3 v-4.5 M292.5,802.3 v-4.5 M346.4,802.3 v-4.5 M400.3,802.3 v-4.5 M454.2,802.3 v-4.5 M508.1,802.3 v-4.5 " stroke="#2a2a2a" stroke-width="1.2" fill="none"/>
<g font-size="21.9" fill="#1e1e1e">
<text x="71" y="808" text-anchor="end">0</text>
<text x="74.7" y="760.4" text-anchor="end">50</text>
<text x="74.7" y="712.5" text-anchor="end">100</text>
<text x="74.7" y="664.6" text-anchor="end">150</text>
<text x="74.7" y="616.7" text-anchor="end">200</text>
<text x="74.7" y="568.8" text-anchor="end">250</text>
<text x="74.7" y="521" text-anchor="end">300</text>
<text x="78.8" y="825.6" text-anchor="middle">0</text>
<text x="136.8" y="825.6" text-anchor="middle">0.5</text>
<text x="186.6" y="825.6" text-anchor="middle">1</text>
<text x="244.6" y="825.6" text-anchor="middle">1.5</text>
<text x="294.5" y="825.6" text-anchor="middle">2</text>
<text x="352.5" y="825.6" text-anchor="middle">2.5</text>
<text x="402.3" y="825.6" text-anchor="middle">3</text>
<text x="460.3" y="825.6" text-anchor="middle">3.5</text>
<text x="510.1" y="825.6" text-anchor="middle">4</text>
</g>
<text x="277.7" y="481.5" font-size="27.7" text-anchor="middle">IMP <tspan dx="-8.5" dy="-2" textLength="44.5" lengthAdjust="spacingAndGlyphs">→</tspan><tspan dx="-8.5" dy="2"> GMP</tspan></text>
<text x="267.1" y="856.4" font-size="27.7" text-anchor="middle">time post RT (h)</text>
<text transform="translate(19.9,649.9) rotate(-90)" font-size="27" text-anchor="middle">Flux (pmol/mg/h)</text>
<text x="1.6" y="471.1" font-size="31.5" font-weight="bold" fill="#1a1a1a">c</text>
</g>
<g>
<path d="M612.6,488.2 V809.4 H1031.1" fill="none" stroke="#686868" stroke-width="1.5"/>
<clipPath id="clip-d"><rect x="611.6" y="487.2" width="421.5" height="323.2"/></clipPath>
<g clip-path="url(#clip-d)">
<path d="M612.6,567.5 L615.6,568.7 L618.6,570 L621.6,571.3 L624.6,572.7 L627.6,574.1 L630.6,575.6 L633.7,577.1 L636.7,578.6 L639.7,580.1 L642.7,581.7 L645.7,583.4 L648.7,585.2 L651.7,586.9 L654.7,588.7 L657.7,590.5 L660.8,592.3 L663.8,594 L666.8,595.7 L669.8,597.3 L672.8,598.9 L675.8,600.5 L678.8,602.1 L681.8,603.6 L684.9,605.2 L687.9,606.7 L690.9,608.3 L693.9,609.9 L696.9,611.5 L699.9,613.2 L702.9,614.9 L705.9,616.6 L708.9,618.2 L712,619.8 L715,621.3 L718,622.7 L721,623.9 L724,625 L727,625.6 L730.1,625.3 L733.2,625.1 L736.2,624.8 L739.3,624.6 L742.4,624.4 L745.4,624.2 L748.5,624.1 L751.6,623.9 L754.6,623.8 L757.7,623.7 L760.8,623.6 L763.9,623.5 L766.9,623.5 L770,623.5 L773.1,623.5 L776.1,623.5 L779.2,623.5 L782.3,623.6 L785.4,623.7 L788.4,623.9 L791.5,624 L794.6,624.2 L797.6,624.4 L800.7,624.7 L803.8,624.9 L806.8,625.1 L809.9,625.4 L813,625.7 L816.1,625.9 L819.1,626.2 L822.2,626.5 L825.3,626.7 L828.3,627 L831.4,627.4 L834.5,627.7 L837.6,628.1 L840.6,628.5 L843.7,628.9 L846.8,629.3 L849.8,629.7 L852.9,628.9 L856,628.1 L859,627.4 L862.1,626.7 L865.1,625.9 L868.2,625.2 L871.3,624.5 L874.3,623.9 L877.4,623.2 L880.5,622.6 L883.5,621.9 L886.6,621.2 L889.6,620.6 L892.7,620 L895.8,619.5 L898.8,619.1 L901.9,618.7 L905,618.4 L908,618.2 L911.1,618 L914.1,617.9 L917.2,617.8 L920.3,617.8 L923.3,617.8 L926.4,617.9 L929.5,618 L932.5,618.3 L935.6,618.6 L938.6,619 L941.7,619.5 L944.8,619.9 L947.8,620.5 L950.9,621 L954,618 L957.1,614.8 L960.2,611.4 L963.2,607.8 L966.3,604 L969.4,600.1 L972.5,596 L975.6,591.7 L978.7,587.3 L981.8,582.6 L984.8,577.6 L987.9,572.3 L991,566.9 L994.1,561.3 L997.2,555.5 L1000.3,549.7 L1003.4,544 L1006.4,538.2 L1009.5,532.3 L1012.6,526.3 L1015.7,520.2 L1018.8,514 L1021.9,507.7 L1025,501.3 L1028,494.8 L1031.1,488.2 L1031.1,809.4 L1028.1,804.5 L1025.1,799.6 L1022.1,794.8 L1019.1,789.9 L1016.1,785.2 L1013,780.4 L1010,775.6 L1007,770.9 L1004,766.1 L1001,761.3 L998,756.5 L995,751.6 L991.9,746.7 L988.9,741.9 L985.9,737 L982.9,732.2 L979.9,727.4 L976.9,722.3 L973.9,717 L970.8,712.2 L967.8,708.2 L964.8,705.4 L961.8,703.5 L958.8,702.4 L955.8,701.9 L952.8,702.1 L949.8,701.9 L946.8,701.7 L943.7,701.5 L940.7,701.3 L937.7,701.1 L934.7,700.9 L931.7,700.8 L928.7,700.6 L925.7,700.4 L922.7,700.2 L919.7,700 L916.7,699.8 L913.7,699.6 L910.7,699.5 L907.7,699.2 L904.7,699 L901.7,698.8 L898.7,698.4 L895.7,698 L892.6,697.4 L889.6,696.8 L886.6,696.1 L883.6,695.3 L880.6,694.5 L877.6,693.8 L874.6,693 L871.6,692.2 L868.6,691.3 L865.6,690.4 L862.6,689.4 L859.6,688.5 L856.6,687.6 L853.6,686.7 L850.6,685.8 L847.6,685.1 L844.6,684.3 L841.5,683.5 L838.5,682.8 L835.5,682.1 L832.5,681.4 L829.5,680.7 L826.5,680.1 L823.5,680.3 L820.4,680.6 L817.4,680.8 L814.4,681 L811.3,681.1 L808.3,681.3 L805.3,681.4 L802.2,681.5 L799.2,681.6 L796.2,681.7 L793.1,681.8 L790.1,681.8 L787.1,681.9 L784,681.9 L781,681.9 L777.9,681.9 L774.9,681.9 L771.9,681.9 L768.8,681.9 L765.8,681.8 L762.8,681.7 L759.7,681.5 L756.7,681.4 L753.7,681.2 L750.6,680.9 L747.6,680.7 L744.6,680.4 L741.5,680.1 L738.5,679.8 L735.5,679.5 L732.4,679.2 L729.4,678.9 L726.3,678.6 L723.3,678.2 L720.3,677.9 L717.2,677.6 L714.2,677.2 L711.2,676.8 L708.1,676.3 L705.1,675.8 L702.1,675.3 L699,674.8 L695.9,675.5 L692.9,676.2 L689.8,677 L686.7,677.8 L683.6,678.6 L680.5,679.4 L677.4,680.2 L674.3,681 L671.2,681.8 L668.2,682.7 L665.1,683.5 L662,684.4 L658.9,685.4 L655.8,686.3 L652.7,687.3 L649.6,688.2 L646.5,689.2 L643.5,690.1 L640.4,691 L637.3,691.8 L634.2,692.6 L631.1,693.5 L628,694.3 L624.9,695.1 L621.8,695.8 L618.8,696.6 L615.7,697.4 L612.6,698.1Z" fill="#d2d2d2"/>
<path d="M612.6,650.5 L615.6,650.6 L618.6,650.7 L621.6,650.8 L624.6,650.9 L627.6,650.9 L630.6,651 L633.7,651.1 L636.7,651.2 L639.7,651.3 L642.7,651.4 L645.7,651.4 L648.7,651.5 L651.7,651.6 L654.7,651.7 L657.7,651.8 L660.8,651.8 L663.8,651.9 L666.8,652 L669.8,652.1 L672.8,652.1 L675.8,652.2 L678.8,652.3 L681.8,652.3 L684.8,652.4 L687.9,652.5 L690.9,652.5 L693.9,652.6 L696.9,652.6 L699.9,652.7 L702.9,652.8 L705.9,652.8 L708.9,652.9 L711.9,652.9 L715,652.9 L718,653 L721,653 L724,653.1 L727,653.1 L730,653.1 L733,653.2 L736,653.2 L739,653.2 L742.1,653.2 L745.1,653.3 L748.1,653.3 L751.1,653.3 L754.1,653.3 L757.1,653.4 L760.1,653.4 L763.1,653.4 L766.1,653.4 L769.2,653.5 L772.2,653.5 L775.2,653.5 L778.2,653.5 L781.2,653.6 L784.2,653.6 L787.2,653.6 L790.2,653.6 L793.2,653.6 L796.3,653.7 L799.3,653.7 L802.3,653.7 L805.3,653.7 L808.3,653.8 L811.3,653.8 L814.3,653.8 L817.3,653.8 L820.3,653.9 L823.4,653.9 L826.4,653.9 L829.4,654 L832.4,654 L835.4,654 L838.4,654.1 L841.4,654.1 L844.4,654.1 L847.4,654.1 L850.5,654.2 L853.5,654.2 L856.5,654.2 L859.5,654.3 L862.5,654.3 L865.5,654.3 L868.5,654.4 L871.5,654.4 L874.5,654.4 L877.6,654.5 L880.6,654.5 L883.6,654.5 L886.6,654.6 L889.6,654.6 L892.6,654.6 L895.6,654.7 L898.6,654.7 L901.6,654.8 L904.7,654.8 L907.7,654.9 L910.7,654.9 L913.7,654.9 L916.7,655 L919.7,655 L922.7,655.1 L925.7,655.1 L928.7,655.2 L931.8,655.2 L934.8,655.3 L937.8,655.4 L940.8,655.5 L943.8,655.6 L946.8,655.7 L949.8,655.8 L952.8,655.9 L955.8,656 L958.9,656.2 L961.9,656.3 L964.9,656.4 L967.9,656.6 L970.9,656.7 L973.9,656.8 L976.9,657 L979.9,657.1 L982.9,657.2 L986,657.4 L989,657.5 L992,657.7 L995,657.8 L998,658 L1001,658.1 L1004,658.3 L1007,658.5 L1010,658.6 L1013.1,658.8 L1016.1,659 L1019.1,659.1 L1022.1,659.3 L1025.1,659.5 L1028.1,659.7 L1031.1,659.8" fill="none" stroke="#70787d" stroke-width="1.45"/>
<path d="M612.6,665.4 L615.6,667 L618.6,668.6 L621.6,670.2 L624.6,671.7 L627.6,673.1 L630.6,674.5 L633.7,675.7 L636.7,676.9 L639.7,678 L642.7,679 L645.7,680 L648.7,680.9 L651.7,681.8 L654.7,682.7 L657.7,683.5 L660.8,684.3 L663.8,685 L666.8,685.7 L669.8,686.5 L672.8,687.2 L675.8,687.9 L678.8,688.5 L681.8,689.2 L684.8,689.8 L687.9,690.4 L690.9,690.9 L693.9,691.4 L696.9,691.8 L699.9,692.2 L702.9,692.6 L705.9,692.9 L708.9,693.3 L711.9,693.6 L715,693.9 L718,694.2 L721,694.5 L724,694.7 L727,694.9 L730,695.2 L733,695.4 L736,695.7 L739,695.9 L742.1,696.1 L745.1,696.4 L748.1,696.6 L751.1,696.8 L754.1,697 L757.1,697.2 L760.1,697.4 L763.1,697.6 L766.1,697.7 L769.2,697.9 L772.2,698 L775.2,698.2 L778.2,698.3 L781.2,698.4 L784.2,698.5 L787.2,698.6 L790.2,698.8 L793.2,698.9 L796.3,699 L799.3,699.1 L802.3,699.2 L805.3,699.3 L808.3,699.4 L811.3,699.4 L814.3,699.5 L817.3,699.6 L820.3,699.6 L823.4,699.6 L826.4,699.6 L829.4,699.7 L832.4,699.6 L835.4,699.6 L838.4,699.6 L841.4,699.6 L844.4,699.5 L847.4,699.5 L850.5,699.4 L853.5,699.4 L856.5,699.3 L859.5,699.2 L862.5,699.1 L865.5,699 L868.5,699 L871.5,698.9 L874.5,698.8 L877.6,698.7 L880.6,698.6 L883.6,698.4 L886.6,698.3 L889.6,698.2 L892.6,698 L895.6,697.8 L898.6,697.7 L901.6,697.5 L904.7,697.3 L907.7,697.1 L910.7,696.9 L913.7,696.7 L916.7,696.5 L919.7,696.3 L922.7,696.1 L925.7,695.8 L928.7,695.6 L931.8,695.4 L934.8,695.2 L937.8,695 L940.8,694.7 L943.8,694.5 L946.8,694.2 L949.8,694 L952.8,693.7 L955.8,693.4 L958.9,693.1 L961.9,692.9 L964.9,692.6 L967.9,692.3 L970.9,692 L973.9,691.7 L976.9,691.4 L979.9,691.1 L982.9,690.9 L986,690.6 L989,690.3 L992,690 L995,689.6 L998,689.3 L1001,689 L1004,688.7 L1007,688.4 L1010,688 L1013.1,687.7 L1016.1,687.4 L1019.1,687 L1022.1,686.7 L1025.1,686.3 L1028.1,686 L1031.1,685.7 L1031.1,705.9 L1028.1,705.8 L1025.1,705.7 L1022.1,705.6 L1019.1,705.6 L1016.1,705.5 L1013.1,705.4 L1010,705.4 L1007,705.3 L1004,705.2 L1001,705.2 L998,705.1 L995,705.1 L992,705 L989,705 L986,705 L982.9,705 L979.9,704.9 L976.9,704.9 L973.9,704.9 L970.9,704.9 L967.9,705 L964.9,705 L961.9,705 L958.9,705.1 L955.8,705.1 L952.8,705.2 L949.8,705.3 L946.8,705.4 L943.8,705.4 L940.8,705.5 L937.8,705.6 L934.8,705.7 L931.8,705.8 L928.7,705.9 L925.7,706 L922.7,706.1 L919.7,706.3 L916.7,706.5 L913.7,706.7 L910.7,707 L907.7,707.2 L904.7,707.5 L901.6,707.8 L898.6,708.1 L895.6,708.4 L892.6,708.7 L889.6,709.1 L886.6,709.4 L883.6,709.7 L880.6,710.1 L877.6,710.4 L874.5,710.7 L871.5,711.1 L868.5,711.4 L865.5,711.8 L862.5,712.2 L859.5,712.6 L856.5,713 L853.5,713.5 L850.5,713.9 L847.4,714.3 L844.4,714.8 L841.4,715.3 L838.4,715.8 L835.4,716.2 L832.4,716.7 L829.4,717.2 L826.4,717.7 L823.4,718.2 L820.3,718.7 L817.3,719.3 L814.3,719.8 L811.3,720.4 L808.3,721 L805.3,721.6 L802.3,722.1 L799.3,722.7 L796.3,723.3 L793.2,723.9 L790.2,724.5 L787.2,725.1 L784.2,725.7 L781.2,726.2 L778.2,726.8 L775.2,727.4 L772.2,727.9 L769.2,728.4 L766.1,729 L763.1,729.5 L760.1,730 L757.1,730.5 L754.1,731 L751.1,731.5 L748.1,732 L745.1,732.4 L742.1,732.8 L739,733.1 L736,733.5 L733,733.7 L730,734 L727,734.2 L724,734.4 L721,734.5 L718,734.5 L715,734.3 L711.9,733.9 L708.9,733.5 L705.9,732.9 L702.9,732.2 L699.9,731.5 L696.9,730.7 L693.9,730 L690.9,729.2 L687.9,728.3 L684.8,727.2 L681.8,726 L678.8,724.7 L675.8,723.2 L672.8,721.7 L669.8,720.1 L666.8,718.5 L663.8,716.8 L660.8,714.9 L657.7,712.8 L654.7,710.6 L651.7,708.3 L648.7,705.9 L645.7,703.4 L642.7,700.9 L639.7,698.4 L636.7,695.9 L633.7,693.3 L630.6,690.6 L627.6,687.8 L624.6,685 L621.6,682.1 L618.6,679.2 L615.6,676.2 L612.6,673.2Z" fill="rgb(243,145,127)" fill-opacity="0.87"/>
<path d="M612.6,670.7 L615.6,672 L618.6,673.2 L621.6,674.5 L624.6,675.7 L627.6,676.8 L630.6,678 L633.7,679.1 L636.7,680.1 L639.7,681.1 L642.7,682.1 L645.7,683.1 L648.7,684 L651.7,684.9 L654.7,685.8 L657.7,686.7 L660.8,687.5 L663.8,688.2 L666.8,688.8 L669.8,689.5 L672.8,690.1 L675.8,690.6 L678.8,691.2 L681.8,691.7 L684.8,692.2 L687.9,692.7 L690.9,693.1 L693.9,693.5 L696.9,693.9 L699.9,694.3 L702.9,694.7 L705.9,695.1 L708.9,695.5 L711.9,695.8 L715,696.1 L718,696.4 L721,696.6 L724,696.8 L727,697 L730,697.3 L733,697.5 L736,697.7 L739,697.9 L742.1,698.1 L745.1,698.2 L748.1,698.4 L751.1,698.6 L754.1,698.8 L757.1,698.9 L760.1,699.1 L763.1,699.2 L766.1,699.3 L769.2,699.5 L772.2,699.6 L775.2,699.7 L778.2,699.8 L781.2,699.9 L784.2,700.1 L787.2,700.2 L790.2,700.3 L793.2,700.4 L796.3,700.5 L799.3,700.6 L802.3,700.7 L805.3,700.8 L808.3,700.9 L811.3,701 L814.3,701.1 L817.3,701.1 L820.3,701.2 L823.4,701.2 L826.4,701.2 L829.4,701.2 L832.4,701.2 L835.4,701.2 L838.4,701.2 L841.4,701.2 L844.4,701.1 L847.4,701.1 L850.5,701.1 L853.5,701 L856.5,701 L859.5,700.9 L862.5,700.9 L865.5,700.8 L868.5,700.7 L871.5,700.7 L874.5,700.6 L877.6,700.5 L880.6,700.5 L883.6,700.4 L886.6,700.3 L889.6,700.2 L892.6,700.2 L895.6,700.1 L898.6,700 L901.6,699.9 L904.7,699.8 L907.7,699.7 L910.7,699.6 L913.7,699.5 L916.7,699.4 L919.7,699.3 L922.7,699.2 L925.7,699.1 L928.7,699 L931.8,698.9 L934.8,698.9 L937.8,698.8 L940.8,698.7 L943.8,698.6 L946.8,698.5 L949.8,698.4 L952.8,698.3 L955.8,698.2 L958.9,698.1 L961.9,698 L964.9,697.9 L967.9,697.8 L970.9,697.7 L973.9,697.6 L976.9,697.5 L979.9,697.4 L982.9,697.3 L986,697.3 L989,697.2 L992,697.1 L995,697 L998,696.9 L1001,696.8 L1004,696.7 L1007,696.6 L1010,696.5 L1013.1,696.4 L1016.1,696.4 L1019.1,696.3 L1022.1,696.2 L1025.1,696.1 L1028.1,696 L1031.1,695.9" fill="none" stroke="#ec5535" stroke-width="1.6"/>
</g>
<path d="M612.6,760.9 h4.5 M612.6,712.7 h4.5 M612.6,663.9 h4.5 M612.6,615.1 h4.5 M612.6,566.9 h4.5 M612.6,518.4 h4.5 M664.9,809.4 v-4.5 M717.2,809.4 v-4.5 M769.5,809.4 v-4.5 M821.9,809.4 v-4.5 M874.2,809.4 v-4.5 M926.5,809.4 v-4.5 M978.8,809.4 v-4.5 M1031.1,809.4 v-4.5 " stroke="#686868" stroke-width="1.3" fill="none"/>
<g font-size="21.9" fill="#1e1e1e">
<text x="608.4" y="815.1" text-anchor="end">0</text>
<text x="607.1" y="766.6" text-anchor="end">50</text>
<text x="610.9" y="718.4" text-anchor="end">100</text>
<text x="610.9" y="669.6" text-anchor="end">150</text>
<text x="610.9" y="620.8" text-anchor="end">200</text>
<text x="610.9" y="572.6" text-anchor="end">250</text>
<text x="610.9" y="524.1" text-anchor="end">300</text>
<text x="611.1" y="827.8" text-anchor="middle">0</text>
<text x="667.5" y="827.8" text-anchor="middle">0.5</text>
<text x="715.7" y="827.8" text-anchor="middle">1</text>
<text x="772.1" y="827.8" text-anchor="middle">1.5</text>
<text x="820.4" y="827.8" text-anchor="middle">2</text>
<text x="876.8" y="827.8" text-anchor="middle">2.5</text>
<text x="925" y="827.8" text-anchor="middle">3</text>
<text x="981.4" y="827.8" text-anchor="middle">3.5</text>
<text x="1029.6" y="827.8" text-anchor="middle">4</text>
</g>
<text x="818.1" y="481.5" font-size="27.7" text-anchor="middle">IMP <tspan dx="-8.5" dy="-2" textLength="44.5" lengthAdjust="spacingAndGlyphs">→</tspan><tspan dx="-8.5" dy="2"> AMP</tspan></text>
<text x="831.5" y="855.1" font-size="27.7" text-anchor="middle">time post RT (h)</text>
<text transform="translate(565.3,649.1) rotate(-90)" font-size="27" text-anchor="middle">Flux (pmol/mg/h)</text>
<text x="538.9" y="472.7" font-size="31.5" font-weight="bold" fill="#1a1a1a">d</text>
</g>
<g>
<path d="M1144.3,487.3 V809.4 H1562.9" fill="none" stroke="#686868" stroke-width="1.5"/>
<clipPath id="clip-e"><rect x="1143.3" y="486.3" width="421.5" height="324.1"/></clipPath>
<g clip-path="url(#clip-e)">
<path d="M1144.3,757.2 L1183.5,760.3 L1186.5,759.6 L1189.5,759 L1192.6,758.4 L1195.6,757.8 L1198.6,757.2 L1201.6,756.6 L1204.6,756 L1207.7,755.4 L1210.7,754.8 L1213.7,754.3 L1216.7,753.7 L1219.7,753.2 L1222.8,752.6 L1225.8,752.1 L1228.8,751.6 L1231.8,751 L1234.8,750.5 L1237.9,750.1 L1240.9,749.6 L1243.9,749.1 L1246.9,748.7 L1249.9,748.3 L1253,747.9 L1256,747.5 L1259,747.2 L1262,746.8 L1265,746.5 L1268.1,746.1 L1271.1,745.8 L1274.1,745.5 L1277.1,745.2 L1280.2,744.9 L1283.2,744.6 L1286.2,744.4 L1289.2,744.1 L1292.2,742.9 L1295.2,741.7 L1298.2,740.5 L1301.3,739.3 L1304.3,738 L1307.3,736.8 L1310.3,735.5 L1313.3,734.2 L1316.3,732.9 L1319.3,731.6 L1322.3,730.2 L1325.3,728.9 L1328.4,727.5 L1331.4,726.1 L1334.4,724.7 L1337.4,723.3 L1340.4,721.9 L1343.4,720.5 L1346.4,719.1 L1349.4,717.6 L1352.4,716.2 L1355.4,714.8 L1358.5,713.3 L1361.5,711.9 L1364.5,710.4 L1367.5,709 L1370.5,707.5 L1373.5,705.9 L1376.5,704.3 L1379.5,702.7 L1382.5,701 L1385.5,699.1 L1388.6,697.2 L1391.6,695.3 L1394.6,693.4 L1397.6,691.4 L1400.6,689.5 L1403.6,687.6 L1406.6,685.7 L1409.6,683.8 L1412.6,681.8 L1415.7,679.9 L1418.7,678 L1421.7,676.2 L1424.7,674.6 L1427.7,673.2 L1430.7,672 L1433.7,670.9 L1436.7,669.9 L1439.7,668.9 L1442.7,668.1 L1445.8,667.4 L1448.8,666.9 L1451.8,666.5 L1454.8,666.4 L1457.8,666.5 L1460.8,666.8 L1463.8,667.3 L1466.8,668 L1469.8,668.8 L1472.8,669.7 L1475.9,670.7 L1478.9,671.7 L1481.9,672.8 L1484.9,674.1 L1487.9,675.7 L1490.9,677.3 L1493.9,679.1 L1496.9,681 L1500.1,671.5 L1503.2,662.1 L1506.4,652.8 L1509.5,643.6 L1512.6,634.6 L1515.8,625.7 L1518.9,617 L1522,608.3 L1525.2,599.6 L1528.3,590.7 L1531.5,581.7 L1534.6,572.4 L1537.7,562.9 L1540.9,553.2 L1544,543.5 L1547.2,533.8 L1550.3,524.3 L1553.4,514.9 L1556.6,505.6 L1559.7,496.4 L1562.9,487.3 L1562.9,792.9 L1559.7,791.8 L1556.6,790.6 L1553.5,789.5 L1550.4,788.4 L1547.3,787.4 L1544.2,786.4 L1541.1,785.4 L1538,784.5 L1534.9,783.6 L1531.8,782.8 L1528.7,781.9 L1525.5,781.1 L1522.4,780.4 L1519.3,779.7 L1516.2,779 L1513.1,778.3 L1510.1,778.8 L1507,779.3 L1504,779.7 L1500.9,780.2 L1497.9,780.6 L1494.9,781 L1491.8,781.4 L1488.8,781.7 L1485.8,782.1 L1482.7,782.4 L1479.7,782.8 L1476.6,783.1 L1473.6,783.5 L1470.6,783.8 L1467.5,784 L1464.5,784.2 L1461.4,784.4 L1458.4,784.5 L1455.4,784.6 L1452.3,784.6 L1449.3,784.5 L1446.2,784.5 L1443.2,784.4 L1440.2,784.2 L1437.1,784.1 L1434.1,783.9 L1431.1,783.7 L1428,783.5 L1425,783.3 L1421.9,783.1 L1418.9,782.8 L1415.9,782.5 L1412.8,782.2 L1409.8,782 L1406.7,781.7 L1403.7,781.4 L1400.7,781.1 L1397.6,780.8 L1394.6,780.5 L1391.5,780.2 L1388.5,779.9 L1385.5,779.6 L1382.4,779.3 L1379.4,778.9 L1376.4,779.3 L1373.4,779.6 L1370.4,779.9 L1367.4,780.2 L1364.4,780.5 L1361.4,780.7 L1358.4,780.9 L1355.4,781.1 L1352.4,781.2 L1349.4,781.3 L1346.4,781.5 L1343.4,781.6 L1340.4,781.7 L1337.4,781.9 L1334.4,782 L1331.4,782.1 L1328.4,782.2 L1325.4,782.3 L1322.4,782.4 L1319.4,782.5 L1316.4,782.5 L1313.4,782.6 L1310.4,782.6 L1307.4,782.7 L1304.4,782.7 L1301.4,782.7 L1298.4,782.7 L1295.4,782.6 L1292.4,782.6 L1289.4,782.5 L1286.4,782.5 L1283.4,782.4 L1280.4,782.3 L1277.4,782.2 L1274.4,782.1 L1271.4,782 L1268.4,781.9 L1265.4,781.8 L1262.4,781.7 L1259.4,781.6 L1256.4,781.4 L1253.4,781.3 L1250.4,781.2 L1247.4,781.1 L1244.4,780.9 L1241.4,780.8 L1238.4,780.6 L1235.4,780.4 L1232.4,780.2 L1229.4,780 L1226.4,779.8 L1223.4,779.5 L1220.4,779.3 L1217.4,779.1 L1214.4,778.8 L1211.4,778.6 L1208.4,778.3 L1205.3,778.5 L1202.3,778.7 L1199.2,778.9 L1196.2,779.1 L1193.1,779.4 L1190.1,779.6 L1187,779.9 L1184,780.2 L1180.9,780.4 L1177.9,780.7 L1174.8,781.1 L1171.8,781.4 L1168.7,781.8 L1165.7,782.1 L1162.6,782.5 L1159.6,782.9 L1156.5,783.3 L1153.5,783.8 L1150.4,784.2 L1147.4,784.7 L1144.3,785.2Z" fill="#d2d2d2"/>
<path d="M1144.3,770.5 L1562.9,766.8" fill="none" stroke="#70787d" stroke-width="1.45"/>
<path d="M1144.3,722.3 L1147.3,722.4 L1150.3,722.4 L1153.3,722.4 L1156.4,722.5 L1159.4,722.5 L1162.4,722.5 L1165.4,722.5 L1168.4,722.5 L1171.4,722.5 L1174.4,722.5 L1177.4,722.5 L1180.4,722.5 L1183.5,722.5 L1186.5,722.5 L1189.5,722.4 L1192.5,722.4 L1195.5,722.4 L1198.5,722.3 L1201.5,722.2 L1204.5,722.2 L1207.5,722.1 L1210.6,722 L1213.6,721.9 L1216.6,721.8 L1219.6,721.7 L1222.6,721.6 L1225.6,721.5 L1228.6,721.4 L1231.6,721.3 L1234.6,721.2 L1237.7,721.1 L1240.7,721 L1243.7,720.9 L1246.7,720.8 L1249.7,720.8 L1252.7,720.7 L1255.7,720.6 L1258.7,720.6 L1261.7,720.5 L1264.8,720.5 L1267.8,720.5 L1270.8,720.4 L1273.8,720.4 L1276.8,720.3 L1279.8,720.3 L1282.8,720.2 L1285.8,720.2 L1288.8,720.1 L1291.9,720.1 L1294.9,720 L1297.9,720 L1300.9,719.9 L1303.9,719.8 L1306.9,719.7 L1309.9,719.6 L1312.9,719.5 L1315.9,719.4 L1319,719.2 L1322,719.1 L1325,719 L1328,718.8 L1331,718.7 L1334,718.5 L1337,718.4 L1340,718.3 L1343,718.1 L1346.1,718 L1349.1,717.9 L1352.1,717.8 L1355.1,717.7 L1358.1,717.6 L1361.1,717.5 L1364.1,717.3 L1367.1,717.2 L1370.1,717.1 L1373.2,717 L1376.2,716.9 L1379.2,716.8 L1382.2,716.8 L1385.2,716.7 L1388.2,716.6 L1391.2,716.5 L1394.2,716.4 L1397.2,716.3 L1400.3,716.2 L1403.3,716.2 L1406.3,716.1 L1409.3,716 L1412.3,716 L1415.3,715.9 L1418.3,715.8 L1421.3,715.8 L1424.3,715.7 L1427.4,715.7 L1430.4,715.7 L1433.4,715.6 L1436.4,715.6 L1439.4,715.5 L1442.4,715.5 L1445.4,715.4 L1448.4,715.4 L1451.4,715.3 L1454.5,715.3 L1457.5,715.2 L1460.5,715.1 L1463.5,715 L1466.5,714.9 L1469.5,714.8 L1472.5,714.7 L1475.5,714.6 L1478.5,714.5 L1481.6,714.4 L1484.6,714.2 L1487.6,714.1 L1490.6,714 L1493.6,713.8 L1496.6,713.7 L1499.6,713.5 L1502.6,713.4 L1505.6,713.2 L1508.7,713.1 L1511.7,712.9 L1514.7,712.8 L1517.7,712.6 L1520.7,712.4 L1523.7,712.2 L1526.7,712 L1529.7,711.8 L1532.7,711.5 L1535.8,711.3 L1538.8,711.1 L1541.8,710.8 L1544.8,710.6 L1547.8,710.3 L1550.8,710 L1553.8,709.8 L1556.8,709.5 L1559.8,709.2 L1562.9,709 L1562.9,730.1 L1559.8,729.9 L1556.8,729.6 L1553.8,729.3 L1550.8,729.1 L1547.8,728.8 L1544.8,728.6 L1541.8,728.3 L1538.8,728.1 L1535.8,727.8 L1532.7,727.6 L1529.7,727.4 L1526.7,727.2 L1523.7,727 L1520.7,726.7 L1517.7,726.5 L1514.7,726.4 L1511.7,726.2 L1508.7,726 L1505.6,725.8 L1502.6,725.7 L1499.6,725.5 L1496.6,725.3 L1493.6,725.1 L1490.6,725 L1487.6,724.8 L1484.6,724.6 L1481.6,724.5 L1478.5,724.3 L1475.5,724.2 L1472.5,724.1 L1469.5,723.9 L1466.5,723.8 L1463.5,723.7 L1460.5,723.7 L1457.5,723.6 L1454.5,723.5 L1451.4,723.5 L1448.4,723.4 L1445.4,723.4 L1442.4,723.3 L1439.4,723.3 L1436.4,723.2 L1433.4,723.2 L1430.4,723.1 L1427.4,723.1 L1424.3,723.1 L1421.3,723 L1418.3,723 L1415.3,723 L1412.3,723 L1409.3,723 L1406.3,723 L1403.3,723 L1400.3,723 L1397.2,723 L1394.2,723 L1391.2,723 L1388.2,723.1 L1385.2,723.1 L1382.2,723.1 L1379.2,723.2 L1376.2,723.2 L1373.2,723.3 L1370.1,723.3 L1367.1,723.4 L1364.1,723.4 L1361.1,723.5 L1358.1,723.5 L1355.1,723.6 L1352.1,723.6 L1349.1,723.7 L1346.1,723.8 L1343,723.8 L1340,723.9 L1337,724 L1334,724.1 L1331,724.2 L1328,724.3 L1325,724.5 L1322,724.6 L1319,724.7 L1315.9,724.8 L1312.9,724.9 L1309.9,725.1 L1306.9,725.2 L1303.9,725.4 L1300.9,725.5 L1297.9,725.7 L1294.9,725.8 L1291.9,726 L1288.8,726.3 L1285.8,726.5 L1282.8,726.7 L1279.8,727 L1276.8,727.2 L1273.8,727.5 L1270.8,727.7 L1267.8,728 L1264.8,728.2 L1261.7,728.4 L1258.7,728.6 L1255.7,728.8 L1252.7,729 L1249.7,729.1 L1246.7,729.3 L1243.7,729.3 L1240.7,729.4 L1237.7,729.4 L1234.6,729.4 L1231.6,729.4 L1228.6,729.4 L1225.6,729.3 L1222.6,729.3 L1219.6,729.2 L1216.6,729.2 L1213.6,729.1 L1210.6,729.1 L1207.5,729.1 L1204.5,729.1 L1201.5,729.1 L1198.5,729.1 L1195.5,729.2 L1192.5,729.3 L1189.5,729.4 L1186.5,729.6 L1183.5,729.7 L1180.4,729.9 L1177.4,730.1 L1174.4,730.4 L1171.4,730.6 L1168.4,730.9 L1165.4,731.1 L1162.4,731.4 L1159.4,731.7 L1156.4,732 L1153.3,732.3 L1150.3,732.6 L1147.3,732.9 L1144.3,733.2Z" fill="rgb(243,145,127)" fill-opacity="0.87"/>
<path d="M1144.3,726.7 L1147.3,726.7 L1150.3,726.6 L1153.3,726.6 L1156.4,726.6 L1159.4,726.5 L1162.4,726.5 L1165.4,726.4 L1168.4,726.4 L1171.4,726.4 L1174.4,726.3 L1177.4,726.3 L1180.4,726.3 L1183.5,726.2 L1186.5,726.2 L1189.5,726.2 L1192.5,726.1 L1195.5,726.1 L1198.5,726 L1201.5,726 L1204.5,726 L1207.5,726 L1210.6,725.9 L1213.6,725.9 L1216.6,725.9 L1219.6,725.8 L1222.6,725.8 L1225.6,725.8 L1228.6,725.7 L1231.6,725.7 L1234.6,725.7 L1237.7,725.6 L1240.7,725.6 L1243.7,725.5 L1246.7,725.5 L1249.7,725.4 L1252.7,725.4 L1255.7,725.3 L1258.7,725.2 L1261.7,725 L1264.8,724.9 L1267.8,724.8 L1270.8,724.6 L1273.8,724.5 L1276.8,724.3 L1279.8,724.1 L1282.8,724 L1285.8,723.8 L1288.8,723.6 L1291.9,723.5 L1294.9,723.3 L1297.9,723.1 L1300.9,723 L1303.9,722.9 L1306.9,722.7 L1309.9,722.6 L1312.9,722.5 L1315.9,722.3 L1319,722.2 L1322,722 L1325,721.9 L1328,721.8 L1331,721.6 L1334,721.5 L1337,721.4 L1340,721.3 L1343,721.1 L1346.1,721 L1349.1,720.9 L1352.1,720.9 L1355.1,720.8 L1358.1,720.7 L1361.1,720.6 L1364.1,720.6 L1367.1,720.5 L1370.1,720.4 L1373.2,720.4 L1376.2,720.3 L1379.2,720.3 L1382.2,720.2 L1385.2,720.1 L1388.2,720.1 L1391.2,720 L1394.2,720 L1397.2,720 L1400.3,719.9 L1403.3,719.9 L1406.3,719.8 L1409.3,719.8 L1412.3,719.8 L1415.3,719.7 L1418.3,719.7 L1421.3,719.6 L1424.3,719.6 L1427.4,719.6 L1430.4,719.5 L1433.4,719.5 L1436.4,719.4 L1439.4,719.4 L1442.4,719.4 L1445.4,719.3 L1448.4,719.3 L1451.4,719.3 L1454.5,719.3 L1457.5,719.2 L1460.5,719.2 L1463.5,719.2 L1466.5,719.2 L1469.5,719.1 L1472.5,719.1 L1475.5,719.1 L1478.5,719.1 L1481.6,719.1 L1484.6,719 L1487.6,719 L1490.6,719 L1493.6,719 L1496.6,719 L1499.6,719 L1502.6,718.9 L1505.6,718.9 L1508.7,718.9 L1511.7,718.9 L1514.7,718.9 L1517.7,718.9 L1520.7,718.9 L1523.7,718.9 L1526.7,719 L1529.7,719 L1532.7,719 L1535.8,719 L1538.8,719 L1541.8,719.1 L1544.8,719.1 L1547.8,719.1 L1550.8,719.1 L1553.8,719.2 L1556.8,719.2 L1559.8,719.2 L1562.9,719.2" fill="none" stroke="#ec5535" stroke-width="1.6"/>
</g>
<path d="M1144.3,779.9 h4.5 M1144.3,750.3 h4.5 M1144.3,720.8 h4.5 M1144.3,691.3 h4.5 M1144.3,662 h4.5 M1144.3,632.5 h4.5 M1144.3,602.9 h4.5 M1144.3,573.4 h4.5 M1144.3,543.9 h4.5 M1144.3,514.6 h4.5 M1196.6,809.4 v-4.5 M1248.9,809.4 v-4.5 M1301.3,809.4 v-4.5 M1353.6,809.4 v-4.5 M1405.9,809.4 v-4.5 M1458.2,809.4 v-4.5 M1510.5,809.4 v-4.5 M1562.9,809.4 v-4.5 " stroke="#686868" stroke-width="1.3" fill="none"/>
<g font-size="21.9" fill="#1e1e1e">
<text x="1140.3" y="815.1" text-anchor="end">0</text>
<text x="1141.9" y="785.6" text-anchor="end">100</text>
<text x="1141.9" y="756" text-anchor="end">200</text>
<text x="1141.9" y="726.5" text-anchor="end">300</text>
<text x="1141.9" y="697" text-anchor="end">400</text>
<text x="1141.9" y="667.7" text-anchor="end">500</text>
<text x="1141.9" y="638.2" text-anchor="end">600</text>
<text x="1141.9" y="608.6" text-anchor="end">700</text>
<text x="1141.9" y="579.1" text-anchor="end">800</text>
<text x="1141.9" y="549.6" text-anchor="end">900</text>
<text x="1143.9" y="520.3" text-anchor="end">1000</text>
<text x="1142.8" y="832.1" text-anchor="middle">0</text>
<text x="1199.2" y="832.1" text-anchor="middle">0.5</text>
<text x="1247.4" y="832.1" text-anchor="middle">1</text>
<text x="1303.9" y="832.1" text-anchor="middle">1.5</text>
<text x="1352.1" y="832.1" text-anchor="middle">2</text>
<text x="1408.5" y="832.1" text-anchor="middle">2.5</text>
<text x="1456.7" y="832.1" text-anchor="middle">3</text>
<text x="1513.1" y="832.1" text-anchor="middle">3.5</text>
<text x="1561.4" y="832.1" text-anchor="middle">4</text>
</g>
<text x="1347.1" y="480.9" font-size="27.7" text-anchor="middle">PRPP + Hypoxanthine <tspan dx="-8.5" dy="-2" textLength="44.5" lengthAdjust="spacingAndGlyphs">→</tspan><tspan dx="-8.5" dy="2"> IMP</tspan></text>
<text x="1364.3" y="856.4" font-size="27.7" text-anchor="middle">time post RT (h)</text>
<text transform="translate(1089.3,649.1) rotate(-90)" font-size="27" text-anchor="middle">Flux (pmol/mg/h)</text>
<text x="1069.1" y="472.7" font-size="31.5" font-weight="bold" fill="#1a1a1a">e</text>
</g>
<g>
<path d="M1690.3,487.3 V809.4 H2108.9" fill="none" stroke="#686868" stroke-width="1.5"/>
<clipPath id="clip-f"><rect x="1689.3" y="486.3" width="421.5" height="324.1"/></clipPath>
<g clip-path="url(#clip-f)">
<path d="M1690.3,663.3 L1718.3,674.8 L1721.3,670.1 L1724.4,665.6 L1727.4,661.1 L1730.4,656.8 L1733.4,652.8 L1736.4,648.9 L1739.4,645.3 L1742.4,641.9 L1745.4,638.6 L1748.4,635.3 L1751.4,632.2 L1754.5,629.1 L1757.5,626.2 L1760.5,623.3 L1763.5,620.6 L1766.5,618 L1769.5,615.6 L1772.5,613.1 L1775.5,610.7 L1778.5,608.4 L1781.6,606.1 L1784.6,603.9 L1787.6,601.8 L1790.6,599.9 L1793.6,598.1 L1796.6,596.4 L1799.6,594.8 L1802.6,593.2 L1805.6,591.6 L1808.6,590.1 L1811.7,588.7 L1814.7,587.4 L1817.7,586.3 L1820.7,585.3 L1823.7,584.5 L1826.7,583.8 L1829.7,583.2 L1832.7,582.5 L1835.7,581.9 L1838.7,581.4 L1841.8,580.9 L1844.8,580.5 L1847.8,580.2 L1850.8,580 L1853.8,579.9 L1856.8,579.9 L1859.8,579.9 L1862.8,580.1 L1865.8,580.3 L1868.9,580.6 L1871.9,580.9 L1874.9,581.3 L1877.9,581.7 L1880.9,582.4 L1883.9,583.2 L1886.9,584.2 L1889.9,585.3 L1892.9,586.6 L1895.9,587.9 L1899,589.2 L1902,590.5 L1905,592 L1908,593.7 L1911,595.6 L1914,597.6 L1917,599.7 L1920,601.8 L1923,604.1 L1926,606.4 L1929.1,603.7 L1932.1,601 L1935.1,598.3 L1938.1,595.5 L1941.1,592.6 L1944.1,589.7 L1947.1,586.8 L1950.1,583.8 L1953.1,580.8 L1956.1,577.4 L1959.1,573.8 L1962.1,570.2 L1965.2,566.7 L1968.2,563.3 L1971.2,560.3 L1974.2,557.8 L1977.2,555.7 L1980.2,553.9 L1983.2,552.4 L1986.2,551 L1989.2,549.9 L1992.2,549.1 L1995.2,548.5 L1998.2,548.2 L2001.3,548.2 L2004.3,548.6 L2007.3,549.4 L2010.3,550.5 L2013.3,551.9 L2016.3,553.5 L2019.3,555.3 L2022.3,557.4 L2025.3,559.5 L2028.3,562 L2031.3,565 L2034.3,568.4 L2037.4,572.1 L2040.4,576 L2043.4,580 L2046.4,584 L2049.4,587.9 L2052.4,591.7 L2055.4,595.5 L2058.4,599.4 L2061.4,603.3 L2064.4,607.3 L2067.6,599.6 L2070.8,591.9 L2074,583.9 L2077.1,575.8 L2080.3,567.6 L2083.5,559.2 L2086.7,550.7 L2089.8,542 L2093,533.2 L2096.2,524.3 L2099.4,515.3 L2102.5,506.1 L2105.7,496.7 L2108.9,487.3 L2108.9,809.4 L2105.8,806 L2102.7,802.6 L2099.7,799.3 L2096.6,796 L2093.5,792.8 L2090.4,789.7 L2087.3,786.6 L2084.3,783.6 L2081.2,780.6 L2078.1,777.7 L2075,774.9 L2071.9,772.1 L2068.9,769.4 L2065.8,766.8 L2062.7,764.2 L2059.6,761.7 L2056.5,759.2 L2053.5,756.8 L2050.4,754.5 L2047.3,752.2 L2044.2,750 L2041.2,750.5 L2038.1,751 L2035.1,751.6 L2032.1,752 L2029,752.5 L2026,752.9 L2023,753.4 L2019.9,753.7 L2016.9,754.1 L2013.8,754.4 L2010.8,754.6 L2007.8,754.8 L2004.7,755 L2001.7,755 L1998.7,755.1 L1995.6,755.1 L1992.6,755 L1989.5,754.9 L1986.5,754.7 L1983.5,754.5 L1980.4,754.3 L1977.4,754 L1974.4,753.7 L1971.3,753.2 L1968.3,752.7 L1965.2,752.1 L1962.2,751.4 L1959.2,750.6 L1956.1,749.8 L1953.1,749 L1950.1,748.2 L1947,747.5 L1944,746.8 L1940.9,746.2 L1937.9,745.6 L1934.9,745 L1931.8,744.5 L1928.8,743.9 L1925.8,743.4 L1922.7,742.9 L1919.7,742.5 L1916.6,742 L1913.6,741.6 L1910.6,741.9 L1907.5,742.2 L1904.5,742.4 L1901.5,742.7 L1898.4,742.9 L1895.4,743.1 L1892.4,743.4 L1889.3,743.6 L1886.3,743.7 L1883.3,743.9 L1880.2,744 L1877.2,744.1 L1874.1,744.2 L1871.1,744.2 L1868.1,744.3 L1865,744.4 L1862,744.4 L1859,744.5 L1855.9,744.5 L1852.9,744.6 L1849.9,744.6 L1846.8,744.7 L1843.8,744.7 L1840.8,744.7 L1837.7,744.7 L1834.7,744.7 L1831.7,744.7 L1828.6,744.7 L1825.6,744.6 L1822.5,744.5 L1819.5,744.3 L1816.5,744.2 L1813.4,743.9 L1810.4,743.7 L1807.4,743.4 L1804.3,743.1 L1801.3,742.8 L1798.3,742.5 L1795.2,742.1 L1792.2,741.8 L1789.2,741.4 L1786.1,741 L1783,741.8 L1779.9,742.7 L1776.9,743.5 L1773.8,744.4 L1770.7,745.2 L1767.6,746.1 L1764.5,747 L1761.4,747.8 L1758.3,748.7 L1755.2,749.6 L1752.1,750.4 L1749,751.3 L1746,752.2 L1742.9,753.1 L1739.8,754 L1736.7,754.9 L1733.6,755.8 L1730.5,756.7 L1727.4,757.6 L1724.3,758.5 L1721.2,759.4 L1718.2,760.3 L1715.1,761.2 L1712,762.1 L1708.9,763.1 L1705.8,764 L1702.7,764.9 L1699.6,765.9 L1696.5,766.8 L1693.4,767.7 L1690.3,768.7Z" fill="#d2d2d2"/>
<path d="M1690.3,722 L2108.9,722" fill="none" stroke="#70787d" stroke-width="1.45"/>
<path d="M1690.3,775.2 L1693.4,775.7 L1696.4,776.2 L1699.4,776.6 L1702.4,777.1 L1705.4,777.6 L1708.4,778 L1711.4,778.5 L1714.4,779 L1717.4,779.4 L1720.5,779.9 L1723.5,780.4 L1726.5,781 L1729.5,781.5 L1732.5,782.1 L1735.5,782.5 L1738.5,783 L1741.5,783.3 L1744.5,783.5 L1747.6,783.7 L1750.6,783.8 L1753.6,783.9 L1756.6,784 L1759.6,784.1 L1762.6,784.1 L1765.6,784.2 L1768.6,784.3 L1771.6,784.3 L1774.7,784.4 L1777.7,784.4 L1780.7,784.5 L1783.7,784.5 L1786.7,784.5 L1789.7,784.5 L1792.7,784.5 L1795.7,784.5 L1798.7,784.5 L1801.8,784.5 L1804.8,784.5 L1807.8,784.5 L1810.8,784.5 L1813.8,784.5 L1816.8,784.5 L1819.8,784.5 L1822.8,784.5 L1825.8,784.5 L1828.9,784.5 L1831.9,784.5 L1834.9,784.5 L1837.9,784.4 L1840.9,784.4 L1843.9,784.4 L1846.9,784.4 L1849.9,784.4 L1852.9,784.4 L1856,784.4 L1859,784.4 L1862,784.4 L1865,784.4 L1868,784.3 L1871,784.3 L1874,784.3 L1877,784.3 L1880,784.3 L1883.1,784.3 L1886.1,784.3 L1889.1,784.3 L1892.1,784.2 L1895.1,784.2 L1898.1,784.2 L1901.1,784.2 L1904.1,784.2 L1907.1,784.2 L1910.2,784.1 L1913.2,784.1 L1916.2,784.1 L1919.2,784.1 L1922.2,784 L1925.2,784 L1928.2,784 L1931.2,783.9 L1934.2,783.9 L1937.3,783.9 L1940.3,783.8 L1943.3,783.8 L1946.3,783.8 L1949.3,783.7 L1952.3,783.7 L1955.3,783.6 L1958.3,783.6 L1961.3,783.5 L1964.4,783.4 L1967.4,783.3 L1970.4,783.2 L1973.4,783.1 L1976.4,782.9 L1979.4,782.8 L1982.4,782.6 L1985.4,782.5 L1988.4,782.3 L1991.5,782.1 L1994.5,781.9 L1997.5,781.8 L2000.5,781.6 L2003.5,781.4 L2006.5,781.3 L2009.5,781.1 L2012.5,780.9 L2015.5,780.8 L2018.6,780.6 L2021.6,780.4 L2024.6,780.3 L2027.6,780.1 L2030.6,779.9 L2033.6,779.7 L2036.6,779.5 L2039.6,779.3 L2042.6,779.2 L2045.7,779 L2048.7,778.8 L2051.7,778.6 L2054.7,778.4 L2057.7,778.3 L2060.7,778.1 L2063.7,777.9 L2066.7,777.7 L2069.7,777.5 L2072.8,777.4 L2075.8,777.2 L2078.8,777 L2081.8,776.8 L2084.8,776.6 L2087.8,776.5 L2090.8,776.3 L2093.8,776.1 L2096.8,775.9 L2099.9,775.7 L2102.9,775.6 L2105.9,775.4 L2108.9,775.2 L2108.9,809.4 L2105.8,809.1 L2102.7,808.7 L2099.6,808.4 L2096.5,808.1 L2093.4,807.7 L2090.4,807.4 L2087.3,807 L2084.2,806.6 L2081.1,806.3 L2078,805.9 L2074.9,805.5 L2071.8,805.1 L2068.7,804.7 L2065.6,804.3 L2062.6,803.9 L2059.5,803.5 L2056.4,803.1 L2053.3,802.6 L2050.2,802.2 L2047.1,801.8 L2044,801.4 L2040.9,801 L2037.8,800.6 L2034.8,800.2 L2031.7,799.7 L2028.6,799.3 L2025.5,798.9 L2022.4,798.5 L2019.3,798 L2016.2,797.6 L2013.2,797.8 L2010.1,797.9 L2007.1,798.1 L2004,798.3 L2001,798.4 L1997.9,798.6 L1994.9,798.8 L1991.8,798.9 L1988.8,799.1 L1985.8,799.3 L1982.7,799.5 L1979.7,799.7 L1976.6,799.9 L1973.6,800.1 L1970.5,800.3 L1967.5,800.5 L1964.4,800.7 L1961.4,800.9 L1958.3,801 L1955.3,801.2 L1952.2,801.3 L1949.2,801.4 L1946.1,801.4 L1943.1,801.5 L1940,801.5 L1937,801.5 L1933.9,801.5 L1930.9,801.5 L1927.9,801.4 L1924.8,801.4 L1921.8,801.3 L1918.7,801.3 L1915.7,801.2 L1912.6,801.1 L1909.6,801 L1906.5,800.9 L1903.5,800.8 L1900.4,800.7 L1897.4,800.6 L1894.3,800.4 L1891.3,800.3 L1888.2,800.1 L1885.2,799.9 L1882.1,799.7 L1879.1,799.4 L1876,799.2 L1873,799 L1870,798.7 L1866.9,798.5 L1863.9,798.2 L1860.8,798.6 L1857.8,798.9 L1854.7,799.3 L1851.7,799.6 L1848.6,799.9 L1845.6,800.2 L1842.5,800.5 L1839.5,800.9 L1836.4,801.1 L1833.4,801.4 L1830.3,801.7 L1827.3,802 L1824.2,802.2 L1821.2,802.4 L1818.1,802.7 L1815.1,802.9 L1812,803.1 L1809,803.3 L1805.9,803.5 L1802.9,803.7 L1799.8,803.9 L1796.8,804.1 L1793.7,804.2 L1790.7,804.3 L1787.6,804.4 L1784.6,804.5 L1781.5,804.5 L1778.5,804.4 L1775.5,804.3 L1772.4,804.1 L1769.4,803.9 L1766.3,803.7 L1763.3,803.4 L1760.2,803.2 L1757.2,802.9 L1754.1,802.5 L1751.1,802.2 L1748,801.9 L1745,801.6 L1741.9,801.2 L1738.9,800.7 L1735.8,800.1 L1732.8,799.5 L1729.7,798.8 L1726.7,798.1 L1723.6,797.3 L1720.6,796.6 L1717.5,795.8 L1714.5,795 L1711.4,794 L1708.4,792.9 L1690.3,795.4Z" fill="rgb(243,145,127)" fill-opacity="0.87"/>
<path d="M1690.3,787.3 L2108.9,787.6" fill="none" stroke="#ec5535" stroke-width="1.6"/>
</g>
<path d="M1690.3,777.1 h4.5 M1690.3,745 h4.5 M1690.3,713 h4.5 M1690.3,680.7 h4.5 M1690.3,648.7 h4.5 M1690.3,616.3 h4.5 M1690.3,584.3 h4.5 M1690.3,551.9 h4.5 M1690.3,519.6 h4.5 M1742.7,809.4 v-4.5 M1795,809.4 v-4.5 M1847.3,809.4 v-4.5 M1899.6,809.4 v-4.5 M1951.9,809.4 v-4.5 M2004.3,809.4 v-4.5 M2056.6,809.4 v-4.5 M2108.9,809.4 v-4.5 " stroke="#686868" stroke-width="1.3" fill="none"/>
<g font-size="21.9" fill="#1e1e1e">
<text x="1682.7" y="815.1" text-anchor="end">0</text>
<text x="1684.7" y="782.8" text-anchor="end">200</text>
<text x="1684.7" y="750.7" text-anchor="end">400</text>
<text x="1684.7" y="718.7" text-anchor="end">600</text>
<text x="1684.7" y="686.4" text-anchor="end">800</text>
<text x="1687.4" y="654.4" text-anchor="end">1000</text>
<text x="1687.4" y="622" text-anchor="end">1200</text>
<text x="1687.4" y="590" text-anchor="end">1400</text>
<text x="1687.4" y="557.6" text-anchor="end">1600</text>
<text x="1687.4" y="525.3" text-anchor="end">1800</text>
<text x="1692.5" y="832.1" text-anchor="middle">0</text>
<text x="1749" y="832.1" text-anchor="middle">0.5</text>
<text x="1797.2" y="832.1" text-anchor="middle">1</text>
<text x="1853.6" y="832.1" text-anchor="middle">1.5</text>
<text x="1901.8" y="832.1" text-anchor="middle">2</text>
<text x="1958.2" y="832.1" text-anchor="middle">2.5</text>
<text x="2006.5" y="832.1" text-anchor="middle">3</text>
<text x="2062.9" y="832.1" text-anchor="middle">3.5</text>
<text x="2111.1" y="832.1" text-anchor="middle">4</text>
</g>
<text x="1912.1" y="480.9" font-size="27.7" text-anchor="middle">PRPP + Guanine <tspan dx="-8.5" dy="-2" textLength="44.5" lengthAdjust="spacingAndGlyphs">→</tspan><tspan dx="-8.5" dy="2"> GMP</tspan></text>
<text x="1910" y="856.4" font-size="27.7" text-anchor="middle">time post RT (h)</text>
<text transform="translate(1625,649.1) rotate(-90)" font-size="27" text-anchor="middle">Flux (pmol/mg/h)</text>
<text x="1608.9" y="472.7" font-size="31.5" font-weight="bold" fill="#1a1a1a">f</text>
</g>
<g>
<path d="M81.5,925.1 V1246.9 H500" fill="none" stroke="#383838" stroke-width="1.1"/>
<clipPath id="clip-g"><rect x="80.5" y="924.1" width="421.5" height="323.8"/></clipPath>
<g clip-path="url(#clip-g)">
<path d="M81.5,1190.3 L111.9,1192.5 L115,1191.4 L118,1190.3 L121,1189.2 L124.1,1188.2 L127.1,1187.2 L130.1,1186.2 L133.2,1185.2 L136.2,1184.3 L139.2,1183.4 L142.3,1182.5 L145.3,1181.7 L148.3,1180.9 L151.4,1180 L154.4,1179.2 L157.4,1178.5 L160.5,1177.7 L163.5,1177 L166.5,1176.3 L169.5,1175.7 L172.6,1175.1 L175.6,1174.5 L178.6,1173.9 L181.7,1173.3 L184.7,1172.7 L187.7,1172.1 L190.8,1171.6 L193.8,1171 L196.8,1170.5 L199.9,1170 L202.9,1169.6 L205.9,1169.2 L209,1168.8 L212,1168.5 L215,1168.2 L218.1,1167.9 L221.1,1167.6 L224.1,1167.4 L227.2,1167.1 L230.2,1166.8 L233.2,1166.6 L236.2,1166.4 L239.3,1166.3 L242.3,1166.2 L245.3,1166.1 L248.4,1166.1 L251.4,1166.1 L254.4,1166.2 L257.5,1166.3 L260.5,1166.4 L263.5,1166.5 L266.6,1166.6 L269.6,1166.8 L272.6,1167 L275.7,1167.1 L278.7,1167.3 L281.7,1167.5 L284.8,1167.8 L287.8,1168 L290.8,1168.3 L293.9,1168.6 L296.9,1167.6 L299.9,1166.6 L303,1165.6 L306,1164.6 L309,1163.5 L312.1,1162.4 L315.1,1161.4 L318.1,1160.3 L321.2,1159.1 L324.2,1158 L327.2,1156.8 L330.3,1155.5 L333.3,1154.2 L336.3,1152.9 L339.4,1151.5 L342.4,1150.2 L345.5,1148.8 L348.5,1147.6 L351.5,1146.4 L354.6,1145.3 L357.6,1144.3 L360.6,1143.4 L363.7,1142.5 L366.7,1141.6 L369.7,1140.8 L372.8,1140 L375.8,1139.3 L378.8,1138.7 L381.9,1138.2 L384.9,1137.8 L388,1137.5 L391,1137.4 L394,1137.4 L397.1,1137.5 L400.1,1137.6 L403.1,1137.9 L406.2,1138.2 L409.2,1138.6 L412.2,1139 L415.3,1139.6 L418.3,1140.4 L421.3,1141.2 L424.4,1131.4 L427.4,1121.8 L430.4,1112.4 L433.4,1103.3 L436.5,1094.4 L439.5,1085.7 L442.5,1077.3 L445.5,1068.9 L448.6,1060.6 L451.6,1052.1 L454.6,1043.6 L457.7,1035 L460.7,1026.5 L463.7,1018 L466.7,1009.8 L469.8,1001.7 L472.8,993.8 L475.8,986 L478.8,978.2 L481.9,970.5 L484.9,962.8 L487.9,955.2 L490.9,947.6 L494,940 L497,932.5 L500,925.1 L500,1246.9 L496.8,1245 L493.7,1243.1 L490.5,1241.2 L487.4,1239.4 L484.2,1237.6 L481,1235.8 L477.9,1234.1 L474.7,1232.4 L471.5,1230.8 L468.4,1229.2 L465.2,1227.6 L462,1226.1 L458.9,1224.6 L455.7,1223.1 L452.5,1221.7 L449.4,1220.3 L446.2,1218.9 L443.2,1219.7 L440.2,1220.4 L437.2,1221.2 L434.2,1221.8 L431.2,1222.4 L428.2,1223 L425.2,1223.4 L422.2,1223.7 L419.2,1223.9 L416.2,1224.2 L413.2,1224.4 L410.1,1224.6 L407.1,1224.8 L404.1,1224.9 L401.1,1225.1 L398.1,1225.2 L395.1,1225.2 L392.1,1225.2 L389.1,1225.2 L386.1,1225.1 L383.1,1225 L380.1,1224.8 L377.1,1224.6 L374.1,1224.4 L371.1,1224.2 L368.1,1224 L365.1,1223.7 L362.1,1223.5 L359,1223.2 L356,1222.9 L353,1222.6 L350,1222.3 L347,1222 L344,1221.6 L341,1221.3 L338,1221 L335,1220.6 L332,1220.1 L329,1219.7 L326,1219.2 L323,1218.7 L320,1218.1 L317,1217.6 L314,1217 L311,1216.5 L307.9,1216.9 L304.9,1217.3 L301.9,1217.6 L298.8,1218 L295.8,1218.3 L292.8,1218.6 L289.8,1218.9 L286.7,1219.1 L283.7,1219.3 L280.7,1219.5 L277.7,1219.8 L274.6,1220 L271.6,1220.1 L268.6,1220.3 L265.6,1220.5 L262.5,1220.7 L259.5,1220.8 L256.5,1220.9 L253.5,1221 L250.4,1221.1 L247.4,1221.1 L244.4,1221.2 L241.4,1221.2 L238.3,1221.2 L235.3,1221.2 L232.3,1221.2 L229.2,1221.2 L226.2,1221.1 L223.2,1221.1 L220.2,1221 L217.1,1221 L214.1,1220.9 L211.1,1220.8 L208.1,1220.7 L205,1220.6 L202,1220.5 L199,1220.4 L196,1220.3 L192.9,1220.1 L189.9,1220 L186.9,1219.9 L183.9,1219.7 L180.8,1219.6 L177.8,1219.3 L174.8,1219.1 L171.7,1218.8 L168.7,1218.5 L165.7,1218.2 L162.7,1217.9 L159.6,1217.5 L156.6,1217.2 L153.6,1216.8 L150.6,1216.4 L147.5,1216 L144.5,1215.6 L141.5,1215.2 L138.5,1215.6 L135.5,1216 L132.5,1216.4 L129.5,1216.8 L126.5,1217.2 L123.5,1217.6 L120.5,1218 L117.5,1218.4 L114.5,1218.8 L111.5,1219.2 L108.5,1219.7 L105.5,1220.1 L102.5,1220.5 L99.5,1221 L96.5,1221.4 L93.5,1221.8 L90.5,1222.3 L87.5,1222.7 L84.5,1223.2 L81.5,1223.6Z" fill="#d2d2d2"/>
<path d="M81.5,1206.5 L500,1200.3" fill="none" stroke="#70787d" stroke-width="1.45"/>
<path d="M81.5,1002.2 L84.5,1003.6 L87.5,1004.9 L90.5,1006.3 L93.5,1007.6 L96.5,1008.8 L99.5,1010 L102.5,1011.1 L105.6,1012.1 L108.6,1013.1 L111.6,1014 L114.6,1014.9 L117.6,1015.8 L120.6,1016.6 L123.6,1017.4 L126.6,1018.2 L129.6,1019 L132.7,1019.7 L135.7,1020.4 L138.7,1021.1 L141.7,1021.7 L144.7,1022.4 L147.7,1023.1 L150.7,1023.7 L153.7,1024.2 L156.7,1024.8 L159.8,1025.3 L162.8,1025.7 L165.8,1026.1 L168.8,1026.5 L171.8,1026.9 L174.8,1027.3 L177.8,1027.6 L180.8,1027.8 L183.8,1028 L186.9,1028 L189.9,1028 L192.9,1028 L195.9,1028 L198.9,1027.9 L201.9,1027.9 L204.9,1027.9 L207.9,1027.8 L210.9,1027.8 L214,1027.7 L217,1027.6 L220,1027.6 L223,1027.5 L226,1027.4 L229,1027.4 L232,1027.3 L235,1027.2 L238,1027.1 L241.1,1027 L244.1,1026.9 L247.1,1026.8 L250.1,1026.7 L253.1,1026.6 L256.1,1026.5 L259.1,1026.4 L262.1,1026.3 L265.1,1026.2 L268.2,1026.1 L271.2,1026 L274.2,1025.9 L277.2,1025.8 L280.2,1025.7 L283.2,1025.6 L286.2,1025.5 L289.2,1025.4 L292.2,1025.3 L295.3,1025.2 L298.3,1025 L301.3,1024.9 L304.3,1024.8 L307.3,1024.7 L310.3,1024.6 L313.3,1024.5 L316.3,1024.4 L319.3,1024.3 L322.4,1024.2 L325.4,1024.1 L328.4,1024 L331.4,1023.9 L334.4,1023.8 L337.4,1023.7 L340.4,1023.6 L343.4,1023.5 L346.4,1023.4 L349.5,1023.3 L352.5,1023.2 L355.5,1023.1 L358.5,1023 L361.5,1022.9 L364.5,1022.7 L367.5,1022.6 L370.5,1022.5 L373.5,1022.4 L376.6,1022.3 L379.6,1022.2 L382.6,1022 L385.6,1021.9 L388.6,1021.8 L391.6,1021.6 L394.6,1021.5 L397.6,1021.3 L400.6,1021.2 L403.7,1021 L406.7,1020.9 L409.7,1020.7 L412.7,1020.6 L415.7,1020.4 L418.7,1020.3 L421.7,1020.1 L424.7,1019.9 L427.7,1019.7 L430.8,1019.6 L433.8,1019.4 L436.8,1019.2 L439.8,1019 L442.8,1018.8 L445.8,1018.6 L448.8,1018.4 L451.8,1018.2 L454.8,1018 L457.9,1017.8 L460.9,1017.6 L463.9,1017.3 L466.9,1017.1 L469.9,1016.9 L472.9,1016.6 L475.9,1016.4 L478.9,1016.1 L481.9,1015.9 L485,1015.6 L488,1015.4 L491,1015.1 L494,1014.9 L497,1014.6 L500,1014.3 L500,1049.5 L496.9,1049 L493.8,1048.5 L490.7,1048 L487.7,1047.5 L484.6,1047 L481.5,1046.5 L478.4,1046.1 L475.3,1045.6 L472.2,1045.2 L469.1,1044.7 L466,1044.3 L463,1043.9 L459.9,1043.5 L456.8,1043.1 L453.7,1042.7 L450.6,1042.3 L447.5,1041.9 L444.4,1041.5 L441.3,1041.2 L438.3,1040.8 L435.2,1040.5 L432.1,1040.1 L429,1039.8 L425.9,1039.5 L422.8,1039.2 L419.7,1038.8 L416.6,1038.5 L413.5,1038.2 L410.5,1038 L407.4,1038.2 L404.4,1038.4 L401.4,1038.6 L398.3,1038.8 L395.3,1039 L392.3,1039.2 L389.2,1039.4 L386.2,1039.5 L383.2,1039.7 L380.1,1039.9 L377.1,1040 L374.1,1040.1 L371,1040.2 L368,1040.3 L365,1040.4 L361.9,1040.5 L358.9,1040.6 L355.9,1040.7 L352.8,1040.8 L349.8,1040.9 L346.8,1041 L343.7,1041.1 L340.7,1041.2 L337.7,1041.3 L334.6,1041.3 L331.6,1041.4 L328.6,1041.5 L325.5,1041.5 L322.5,1041.6 L319.5,1041.6 L316.4,1041.7 L313.4,1041.7 L310.4,1041.7 L307.3,1041.7 L304.3,1041.7 L301.3,1041.7 L298.2,1041.6 L295.2,1041.6 L292.2,1041.5 L289.1,1041.5 L286.1,1041.4 L283.1,1041.3 L280,1041.3 L277,1041.2 L274,1041.1 L270.9,1041 L267.9,1040.9 L264.9,1040.8 L261.8,1040.7 L258.8,1040.5 L255.8,1040.4 L252.7,1040.2 L249.7,1040 L246.7,1039.8 L243.6,1039.5 L240.6,1039.3 L237.6,1039 L234.5,1038.8 L231.5,1038.5 L228.5,1038.2 L225.4,1038 L222.4,1038.4 L219.3,1038.9 L216.3,1039.3 L213.2,1039.7 L210.1,1040.1 L207.1,1040.4 L204,1040.6 L200.9,1040.8 L197.9,1041 L194.8,1041.1 L191.8,1041.1 L188.7,1041.1 L185.6,1041 L182.6,1040.9 L179.5,1040.9 L176.4,1040.8 L173.4,1040.7 L170.3,1040.5 L167.3,1040.4 L164.2,1040.3 L161.1,1040.1 L158.1,1039.9 L155,1039.7 L151.9,1039.4 L148.9,1039.1 L145.8,1038.8 L142.8,1038.4 L139.7,1038 L136.6,1037.5 L133.6,1037 L130.5,1036.5 L127.4,1036 L124.4,1035.5 L81.5,1041.1Z" fill="rgb(243,145,127)" fill-opacity="0.87"/>
<path d="M81.5,1025.5 L84.5,1025.7 L87.5,1025.8 L90.5,1025.9 L93.5,1026 L96.5,1026.2 L99.5,1026.3 L102.5,1026.4 L105.6,1026.6 L108.6,1026.7 L111.6,1026.8 L114.6,1026.9 L117.6,1027.1 L120.6,1027.2 L123.6,1027.3 L126.6,1027.4 L129.6,1027.5 L132.7,1027.6 L135.7,1027.8 L138.7,1027.9 L141.7,1028 L144.7,1028 L147.7,1028.1 L150.7,1028.2 L153.7,1028.3 L156.7,1028.4 L159.8,1028.4 L162.8,1028.5 L165.8,1028.5 L168.8,1028.6 L171.8,1028.6 L174.8,1028.6 L177.8,1028.6 L180.8,1028.6 L183.8,1028.6 L186.9,1028.6 L189.9,1028.6 L192.9,1028.6 L195.9,1028.6 L198.9,1028.6 L201.9,1028.5 L204.9,1028.5 L207.9,1028.5 L210.9,1028.4 L214,1028.4 L217,1028.4 L220,1028.3 L223,1028.3 L226,1028.3 L229,1028.2 L232,1028.2 L235,1028.1 L238,1028.1 L241.1,1028.1 L244.1,1028 L247.1,1028 L250.1,1027.9 L253.1,1027.9 L256.1,1027.8 L259.1,1027.8 L262.1,1027.7 L265.1,1027.7 L268.2,1027.6 L271.2,1027.5 L274.2,1027.5 L277.2,1027.4 L280.2,1027.4 L283.2,1027.3 L286.2,1027.3 L289.2,1027.2 L292.2,1027.1 L295.3,1027.1 L298.3,1027 L301.3,1027 L304.3,1026.9 L307.3,1026.8 L310.3,1026.8 L313.3,1026.7 L316.3,1026.7 L319.3,1026.6 L322.4,1026.5 L325.4,1026.4 L328.4,1026.4 L331.4,1026.3 L334.4,1026.2 L337.4,1026.1 L340.4,1026.1 L343.4,1026 L346.4,1025.9 L349.5,1025.8 L352.5,1025.8 L355.5,1025.7 L358.5,1025.6 L361.5,1025.5 L364.5,1025.4 L367.5,1025.4 L370.5,1025.3 L373.5,1025.2 L376.6,1025.1 L379.6,1025.1 L382.6,1025 L385.6,1024.9 L388.6,1024.9 L391.6,1024.8 L394.6,1024.8 L397.6,1024.7 L400.6,1024.6 L403.7,1024.6 L406.7,1024.6 L409.7,1024.5 L412.7,1024.5 L415.7,1024.4 L418.7,1024.4 L421.7,1024.3 L424.7,1024.3 L427.7,1024.3 L430.8,1024.2 L433.8,1024.2 L436.8,1024.1 L439.8,1024.1 L442.8,1024.1 L445.8,1024 L448.8,1024 L451.8,1024 L454.8,1023.9 L457.9,1023.9 L460.9,1023.9 L463.9,1023.9 L466.9,1023.8 L469.9,1023.8 L472.9,1023.8 L475.9,1023.8 L478.9,1023.8 L481.9,1023.7 L485,1023.7 L488,1023.7 L491,1023.7 L494,1023.7 L497,1023.7 L500,1023.7" fill="none" stroke="#ec5535" stroke-width="1.6"/>
</g>
<path d="M81.5,1206.5 h4.5 M81.5,1166.1 h4.5 M81.5,1125.7 h4.5 M81.5,1085.2 h4.5 M81.5,1044.8 h4.5 M81.5,1004.4 h4.5 M81.5,964 h4.5 M133.8,1246.9 v-4.5 M186.1,1246.9 v-4.5 M238.4,1246.9 v-4.5 M290.7,1246.9 v-4.5 M343.1,1246.9 v-4.5 M395.4,1246.9 v-4.5 M447.7,1246.9 v-4.5 M500,1246.9 v-4.5 " stroke="#383838" stroke-width="1.0" fill="none"/>
<g font-size="21.9" fill="#1e1e1e">
<text x="73.4" y="1252.6" text-anchor="end">0</text>
<text x="75.9" y="1212.2" text-anchor="end">100</text>
<text x="75.9" y="1171.8" text-anchor="end">200</text>
<text x="75.9" y="1131.4" text-anchor="end">300</text>
<text x="75.9" y="1090.9" text-anchor="end">400</text>
<text x="75.9" y="1050.5" text-anchor="end">500</text>
<text x="75.9" y="1010.1" text-anchor="end">600</text>
<text x="75.9" y="969.7" text-anchor="end">700</text>
<text x="83.7" y="1269.6" text-anchor="middle">0</text>
<text x="140.1" y="1269.6" text-anchor="middle">0.5</text>
<text x="188.3" y="1269.6" text-anchor="middle">1</text>
<text x="244.7" y="1269.6" text-anchor="middle">1.5</text>
<text x="292.9" y="1269.6" text-anchor="middle">2</text>
<text x="349.4" y="1269.6" text-anchor="middle">2.5</text>
<text x="397.6" y="1269.6" text-anchor="middle">3</text>
<text x="454" y="1269.6" text-anchor="middle">3.5</text>
<text x="502.2" y="1269.6" text-anchor="middle">4</text>
</g>
<text x="280.8" y="918.4" font-size="27.7" text-anchor="middle">R1P + Guanine <tspan dx="-8.5" dy="-2" textLength="44.5" lengthAdjust="spacingAndGlyphs">→</tspan><tspan dx="-8.5" dy="2"> Guanosine</tspan></text>
<text x="287.9" y="1294.2" font-size="27.7" text-anchor="middle">time post RT (h)</text>
<text transform="translate(28,1087.6) rotate(-90)" font-size="27" text-anchor="middle">Flux (pmol/mg/h)</text>
<text x="2.5" y="908.6" font-size="31.5" font-weight="bold" fill="#1a1a1a">g</text>
</g>
<g>
<path d="M613.5,925.1 V1246.9 H1032.4" fill="none" stroke="#686868" stroke-width="1.5"/>
<clipPath id="clip-h"><rect x="612.5" y="924.1" width="421.9" height="323.8"/></clipPath>
<g clip-path="url(#clip-h)">
<path d="M613.5,1169.2 L616.6,1170.7 L619.7,1172.1 L622.8,1173.6 L626,1175 L629.1,1176.5 L632.2,1178 L635.3,1179.4 L638.4,1180.9 L641.5,1182.4 L644.6,1183.8 L647.7,1185.3 L650.8,1186.8 L653.9,1188.3 L657,1189.7 L660.2,1191.2 L663.3,1192.6 L666.4,1194.1 L669.5,1195.5 L672.6,1196.9 L675.7,1198.2 L678.8,1199.6 L681.9,1201 L685,1202.3 L688.1,1203.6 L691.3,1204.9 L694.3,1204.8 L697.3,1204.6 L700.4,1204.5 L703.4,1204.3 L706.4,1204.2 L709.5,1204.1 L712.5,1203.9 L715.5,1203.8 L718.6,1203.7 L721.6,1203.5 L724.6,1203.4 L727.7,1203.3 L730.7,1203.2 L733.7,1203.1 L736.8,1203 L739.8,1202.9 L742.8,1202.8 L745.9,1202.8 L748.9,1202.7 L751.9,1202.6 L755,1202.6 L758,1202.5 L761,1202.4 L764.1,1202.4 L767.1,1202.3 L770.1,1202.3 L773.2,1202.2 L776.2,1202.1 L779.2,1202.1 L782.3,1202 L785.3,1202 L788.3,1202 L791.4,1201.9 L794.4,1201.9 L797.5,1201.9 L800.5,1201.9 L803.5,1201.8 L806.6,1201.8 L809.6,1201.8 L812.6,1201.8 L815.7,1201.9 L818.7,1201.9 L821.7,1201.9 L824.8,1201.9 L827.8,1202 L830.8,1202 L833.9,1202.1 L836.9,1202.1 L839.9,1202.2 L843,1202.2 L846,1202.3 L849,1202.4 L852.1,1202.5 L855.1,1202.5 L858.1,1202.6 L861.2,1202.7 L864.2,1202.8 L867.2,1202.9 L870.3,1203 L873.3,1203.2 L876.3,1203.3 L879.4,1203.4 L882.5,1203 L885.6,1202.5 L888.7,1202.1 L891.8,1201.7 L894.9,1201.3 L898,1201 L901.1,1200.6 L904.3,1200.3 L907.4,1200 L910.5,1199.8 L913.6,1199.5 L916.7,1199.3 L919.8,1199.2 L922.9,1199 L926,1198.8 L929.1,1198.7 L932.2,1198.5 L935.3,1198.4 L938.5,1198.2 L941.6,1198.1 L944.7,1198 L947.8,1197.9 L950.9,1197.9 L954,1197.8 L957.1,1197.8 L960.1,1193.6 L963.1,1189.3 L966.1,1185 L969.2,1180.6 L972.2,1176.2 L975.2,1171.7 L978.2,1167.1 L981.2,1162.6 L984.2,1158 L987.2,1153.3 L990.2,1148.4 L993.2,1143.3 L996.2,1137.9 L999.3,1132.1 L1002.3,1126.1 L1005.3,1119.9 L1008.3,1113.7 L1011.3,1107.5 L1014.3,1101.4 L1017.3,1095.4 L1020.3,1089.3 L1023.3,1083.3 L1026.3,1077.2 L1029.4,1071.1 L1032.4,1065 L1032.4,1246.9 L1029.4,1246.9 L1026.3,1246.9 L1023.3,1246.9 L1020.3,1246.9 L1017.3,1246.9 L1014.3,1246.9 L1011.3,1246.9 L1008.3,1246.9 L1005.2,1246.9 L1002.2,1246.9 L999.2,1246.9 L996.2,1246.9 L993.2,1246.9 L990.2,1246.9 L987.2,1246.9 L984.2,1246.9 L981.1,1246.9 L978.1,1246.9 L975.1,1246.9 L972.1,1246.9 L969.1,1246.9 L966.1,1246.9 L963.1,1246.9 L960,1246.9 L957,1246.9 L954,1246.9 L951,1246.9 L948,1246.9 L945,1246.9 L942,1246.9 L939,1246.9 L935.9,1246.9 L932.9,1246.9 L929.9,1246.9 L926.9,1246.9 L923.9,1246.9 L920.9,1246.9 L917.9,1246.9 L914.8,1246.8 L911.8,1246.8 L908.8,1246.8 L905.8,1246.8 L902.8,1246.8 L899.8,1246.8 L896.8,1246.8 L893.8,1246.8 L890.7,1246.8 L887.7,1246.8 L884.7,1246.8 L881.7,1246.8 L878.7,1246.8 L875.7,1246.8 L872.7,1246.8 L869.6,1246.8 L866.6,1246.8 L863.6,1246.8 L860.6,1246.8 L857.6,1246.8 L854.6,1246.7 L851.6,1246.7 L848.6,1246.7 L845.5,1246.7 L842.5,1246.7 L839.5,1246.7 L836.5,1246.7 L833.5,1246.7 L830.5,1246.7 L827.5,1246.7 L824.4,1246.7 L821.4,1246.7 L818.4,1246.7 L815.4,1246.7 L812.4,1246.6 L809.4,1246.6 L806.4,1246.6 L803.4,1246.6 L800.3,1246.6 L797.3,1246.6 L794.3,1246.6 L791.3,1246.6 L788.3,1246.6 L785.3,1246.6 L782.3,1246.6 L779.2,1246.5 L776.2,1246.5 L773.2,1246.5 L770.2,1246.5 L767.2,1246.5 L764.2,1246.5 L761.2,1246.5 L758.2,1246.5 L755.1,1246.5 L752.1,1246.5 L749.1,1246.4 L746.1,1246.4 L743.1,1246.4 L740.1,1246.4 L737.1,1246.4 L734,1246.4 L731,1246.4 L728,1246.4 L725,1246.3 L722,1246.3 L719,1246.3 L716,1246.3 L713,1246.3 L709.9,1246.3 L706.9,1246.3 L703.9,1246.2 L700.9,1246.2 L697.9,1246.1 L694.9,1246.1 L691.9,1246 L688.8,1246 L685.8,1245.9 L682.8,1245.9 L679.8,1245.8 L676.8,1245.7 L673.8,1245.6 L670.8,1245.6 L667.8,1245.5 L664.7,1245.4 L661.7,1245.3 L658.7,1245.2 L655.7,1245.1 L652.7,1245.1 L649.7,1245 L646.7,1244.9 L643.6,1244.8 L640.6,1244.7 L637.6,1244.6 L634.6,1244.5 L631.6,1244.4 L628.6,1244.3 L625.6,1244.2 L622.6,1244.1 L619.5,1244 L616.5,1243.9 L613.5,1243.8Z" fill="#d2d2d2"/>
<path d="M613.5,1232.3 L616.5,1232.6 L619.5,1233 L622.6,1233.3 L625.6,1233.6 L628.6,1233.9 L631.6,1234.3 L634.6,1234.6 L637.6,1234.9 L640.6,1235.2 L643.6,1235.5 L646.7,1235.8 L649.7,1236.1 L652.7,1236.4 L655.7,1236.6 L658.7,1236.9 L661.7,1237.2 L664.7,1237.5 L667.8,1237.7 L670.8,1238 L673.8,1238.2 L676.8,1238.5 L679.8,1238.7 L682.8,1239 L685.8,1239.2 L688.8,1239.5 L691.9,1239.7 L694.9,1239.9 L697.9,1240.2 L700.9,1240.4 L703.9,1240.6 L706.9,1240.8 L709.9,1241 L713,1241.2 L716,1241.4 L719,1241.6 L722,1241.8 L725,1242 L728,1242.2 L731,1242.3 L734,1242.5 L737.1,1242.7 L740.1,1242.8 L743.1,1243 L746.1,1243.2 L749.1,1243.3 L752.1,1243.5 L755.1,1243.6 L758.2,1243.8 L761.2,1243.9 L764.2,1244 L767.2,1244.2 L770.2,1244.3 L773.2,1244.4 L776.2,1244.5 L779.2,1244.7 L782.3,1244.8 L785.3,1244.9 L788.3,1245 L791.3,1245.2 L794.3,1245.3 L797.3,1245.4 L800.3,1245.5 L803.4,1245.6 L806.4,1245.7 L809.4,1245.8 L812.4,1245.9 L815.4,1246 L818.4,1246.1 L821.4,1246.2 L824.4,1246.3 L827.5,1246.3 L830.5,1246.4 L833.5,1246.4 L836.5,1246.5 L839.5,1246.5 L842.5,1246.6 L845.5,1246.6 L848.6,1246.7 L851.6,1246.7 L854.6,1246.8 L857.6,1246.8 L860.6,1246.8 L863.6,1246.9 L866.6,1246.9 L869.6,1246.9 L872.7,1246.9 L875.7,1246.9 L878.7,1246.9 L881.7,1246.9 L884.7,1246.9 L887.7,1246.9 L890.7,1246.9 L893.8,1246.9 L896.8,1246.8 L899.8,1246.8 L902.8,1246.7 L905.8,1246.7 L908.8,1246.7 L911.8,1246.6 L914.8,1246.6 L917.9,1246.5 L920.9,1246.4 L923.9,1246.4 L926.9,1246.3 L929.9,1246.3 L932.9,1246.2 L935.9,1246.1 L939,1246.1 L942,1246 L945,1245.8 L948,1245.7 L951,1245.6 L954,1245.4 L957,1245.3 L960,1245.1 L963.1,1245 L966.1,1244.8 L969.1,1244.6 L972.1,1244.4 L975.1,1244.2 L978.1,1244.1 L981.1,1243.9 L984.2,1243.7 L987.2,1243.5 L990.2,1243.2 L993.2,1243 L996.2,1242.7 L999.2,1242.4 L1002.2,1242.1 L1005.2,1241.8 L1008.3,1241.5 L1011.3,1241.1 L1014.3,1240.8 L1017.3,1240.4 L1020.3,1240 L1023.3,1239.7 L1026.3,1239.3 L1029.4,1238.9 L1032.4,1238.5" fill="none" stroke="#70787d" stroke-width="1.45"/>
<path d="M613.5,970.2 L616.5,973.7 L619.6,977.4 L622.6,981.3 L625.7,985.2 L628.7,989.3 L631.7,993.5 L634.8,997.9 L637.8,1002.6 L640.8,1007.3 L643.9,1012 L646.9,1016.5 L649.9,1020.9 L653,1025.1 L656,1029.3 L659,1033.3 L662.1,1037 L665.1,1040.5 L668.2,1043.7 L671.2,1046.7 L674.2,1049.4 L677.3,1051.6 L680.4,1052.3 L683.5,1052.9 L686.6,1053.5 L689.7,1054.1 L692.8,1054.6 L695.9,1055 L699,1055.4 L702.1,1055.7 L705.2,1055.9 L708.4,1056.2 L711.5,1056.4 L714.6,1056.7 L717.7,1056.9 L720.8,1057 L723.9,1057.1 L727,1057.2 L730.1,1057.2 L733.2,1057.2 L736.3,1057.1 L739.4,1057 L742.6,1056.8 L745.7,1056.5 L748.8,1056.2 L751.9,1055.9 L755,1055.5 L758.1,1055.1 L761.2,1054.4 L764.2,1053.6 L767.3,1052.9 L770.4,1052.1 L773.4,1051.3 L776.5,1050.5 L779.6,1049.6 L782.6,1048.8 L785.7,1047.9 L788.8,1047 L791.8,1046 L794.9,1045.1 L798,1044.3 L801,1043.4 L804.1,1042.6 L807.2,1041.8 L810.2,1041 L813.3,1040.2 L816.4,1039.4 L819.4,1038.6 L822.5,1037.9 L825.6,1037.2 L828.6,1036.6 L831.7,1036 L834.8,1035.3 L837.8,1034.8 L840.9,1034.2 L844,1033.6 L847,1033.1 L850.1,1032.6 L853.2,1032.1 L856.2,1031.6 L859.3,1031.1 L862.4,1030.7 L865.4,1030.3 L868.5,1029.9 L871.5,1028.5 L874.6,1027.2 L877.6,1025.7 L880.6,1024.2 L883.7,1022.7 L886.7,1021.2 L889.7,1019.6 L892.8,1018 L895.8,1016.3 L898.8,1014.7 L901.9,1012.9 L904.9,1011.2 L907.9,1009.3 L911,1007.5 L914,1005.6 L917,1003.8 L920.1,1001.9 L923.1,1000 L926.2,998.1 L929.2,996.2 L932.2,994.2 L935.3,992.3 L938.3,990.3 L941.3,988.3 L944.4,986.3 L947.4,984.3 L950.4,982.3 L953.5,980.3 L956.5,978.4 L959.5,976.4 L962.6,974.4 L965.6,972.5 L968.6,970.6 L971.7,968.7 L974.7,966.7 L977.7,964.8 L980.8,962.8 L983.8,960.7 L986.8,958.7 L989.9,956.6 L992.9,954.4 L996,952.1 L999,949.8 L1002,947.5 L1005.1,945.2 L1008.1,942.8 L1011.1,940.5 L1014.2,938.3 L1017.2,936.1 L1020.2,933.8 L1023.3,931.6 L1026.3,929.4 L1029.3,927.3 L1032.4,925.1 L1032.4,1050.4 L1029.3,1050.2 L1026.3,1050.1 L1023.2,1049.9 L1020.2,1049.8 L1017.1,1049.7 L1014.1,1049.6 L1011,1049.5 L1008,1049.5 L1004.9,1049.5 L1001.9,1049.5 L998.8,1049.5 L995.8,1049.5 L992.7,1049.5 L989.7,1049.5 L986.6,1049.5 L983.5,1049.5 L980.5,1050.3 L977.5,1051.2 L974.4,1052.1 L971.4,1052.9 L968.3,1053.7 L965.3,1054.5 L962.3,1055.3 L959.2,1056.1 L956.2,1056.9 L953.1,1057.6 L950.1,1058.4 L947.1,1059.1 L944,1059.9 L941,1060.6 L937.9,1061.3 L934.9,1062 L931.9,1062.7 L928.8,1063.4 L925.8,1064.1 L922.7,1064.7 L919.7,1065.4 L916.6,1066 L913.6,1066.5 L910.6,1067.1 L907.5,1067.7 L904.5,1068.2 L901.4,1068.8 L898.4,1069.3 L895.4,1069.8 L892.3,1070.3 L889.3,1070.8 L886.2,1071.3 L883.2,1071.8 L880.2,1072.2 L877.1,1072.7 L874.1,1073.1 L871,1073.5 L868,1073.9 L865,1074.3 L861.9,1074.7 L858.9,1075.1 L855.8,1075.5 L852.8,1075.9 L849.7,1076.2 L846.7,1076.6 L843.7,1076.9 L840.6,1077.3 L837.6,1077.6 L834.5,1077.9 L831.5,1078.3 L828.5,1078.6 L825.4,1078.9 L822.4,1079.2 L819.3,1079.5 L816.3,1079.8 L813.3,1080.1 L810.2,1080.4 L807.2,1080.6 L804.1,1080.9 L801.1,1081.1 L798,1081.3 L795,1081.6 L792,1081.8 L788.9,1082 L785.9,1082.2 L782.8,1082.4 L779.8,1082.6 L776.8,1082.7 L773.7,1083.7 L770.6,1084.7 L767.6,1085.7 L764.5,1086.7 L761.4,1087.8 L758.3,1088.9 L755.3,1090 L752.2,1091.3 L749.1,1092.7 L746.1,1093.9 L743,1095.1 L739.9,1096 L736.9,1096.7 L733.8,1097.3 L730.7,1097.9 L727.6,1098.3 L724.6,1098.7 L721.5,1098.9 L718.4,1098.9 L715.4,1098.8 L712.3,1098.5 L709.2,1098.2 L706.2,1097.7 L703.1,1097.2 L700,1096.6 L697,1095.9 L693.9,1095.1 L690.8,1094.1 L687.7,1093 L684.7,1091.9 L681.6,1090.7 L678.5,1089.5 L675.5,1088.2 L672.4,1086.8 L669.3,1085.3 L666.3,1083.6 L663.2,1081.8 L660.1,1080 L657,1078.1 L613.5,1074.3Z" fill="rgb(243,145,127)" fill-opacity="0.87"/>
<path d="M613.5,1029.9 L616.5,1032.4 L619.5,1034.8 L622.6,1037.2 L625.6,1039.5 L628.6,1041.8 L631.6,1043.9 L634.6,1046 L637.6,1048 L640.6,1049.9 L643.6,1051.7 L646.7,1053.6 L649.7,1055.4 L652.7,1057.1 L655.7,1058.8 L658.7,1060.3 L661.7,1061.7 L664.7,1062.9 L667.8,1063.9 L670.8,1064.9 L673.8,1065.9 L676.8,1066.8 L679.8,1067.6 L682.8,1068.4 L685.8,1069.1 L688.8,1069.7 L691.9,1070.2 L694.9,1070.6 L697.9,1071 L700.9,1071.4 L703.9,1071.8 L706.9,1072.1 L709.9,1072.4 L713,1072.6 L716,1072.8 L719,1072.8 L722,1072.7 L725,1072.6 L728,1072.4 L731,1072.1 L734,1071.8 L737.1,1071.4 L740.1,1071.1 L743.1,1070.7 L746.1,1070.2 L749.1,1069.8 L752.1,1069.3 L755.1,1068.7 L758.2,1068.1 L761.2,1067.5 L764.2,1066.8 L767.2,1066.2 L770.2,1065.6 L773.2,1065.1 L776.2,1064.6 L779.2,1064.1 L782.3,1063.6 L785.3,1063.1 L788.3,1062.6 L791.3,1062.1 L794.3,1061.6 L797.3,1061.1 L800.3,1060.6 L803.4,1060.2 L806.4,1059.7 L809.4,1059.2 L812.4,1058.8 L815.4,1058.3 L818.4,1057.8 L821.4,1057.4 L824.4,1056.9 L827.5,1056.5 L830.5,1056 L833.5,1055.6 L836.5,1055.1 L839.5,1054.7 L842.5,1054.2 L845.5,1053.8 L848.6,1053.3 L851.6,1052.9 L854.6,1052.4 L857.6,1052 L860.6,1051.6 L863.6,1051.2 L866.6,1050.8 L869.6,1050.3 L872.7,1049.9 L875.7,1049.5 L878.7,1049.2 L881.7,1048.8 L884.7,1048.4 L887.7,1048 L890.7,1047.7 L893.8,1047.3 L896.8,1046.9 L899.8,1046.6 L902.8,1046.2 L905.8,1045.9 L908.8,1045.5 L911.8,1045.2 L914.8,1044.8 L917.9,1044.5 L920.9,1044.2 L923.9,1043.8 L926.9,1043.5 L929.9,1043.2 L932.9,1042.8 L935.9,1042.5 L939,1042.2 L942,1041.8 L945,1041.5 L948,1041.2 L951,1040.8 L954,1040.5 L957,1040.2 L960,1039.9 L963.1,1039.6 L966.1,1039.2 L969.1,1038.9 L972.1,1038.6 L975.1,1038.3 L978.1,1038 L981.1,1037.7 L984.2,1037.4 L987.2,1037.2 L990.2,1036.9 L993.2,1036.6 L996.2,1036.3 L999.2,1036.1 L1002.2,1035.8 L1005.2,1035.5 L1008.3,1035.3 L1011.3,1035 L1014.3,1034.7 L1017.3,1034.5 L1020.3,1034.2 L1023.3,1034 L1026.3,1033.8 L1029.4,1033.5 L1032.4,1033.3" fill="none" stroke="#ec5535" stroke-width="1.6"/>
</g>
<path d="M613.5,1208.7 h4.5 M613.5,1170.4 h4.5 M613.5,1132.2 h4.5 M613.5,1093.9 h4.5 M613.5,1055.7 h4.5 M613.5,1017.4 h4.5 M613.5,979.2 h4.5 M613.5,940.9 h4.5 M665.9,1246.9 v-4.5 M718.2,1246.9 v-4.5 M770.6,1246.9 v-4.5 M822.9,1246.9 v-4.5 M875.3,1246.9 v-4.5 M927.7,1246.9 v-4.5 M980,1246.9 v-4.5 M1032.4,1246.9 v-4.5 " stroke="#686868" stroke-width="1.3" fill="none"/>
<g font-size="21.9" fill="#1e1e1e">
<text x="605.6" y="1252.6" text-anchor="end">0</text>
<text x="607.8" y="1214.4" text-anchor="end">20</text>
<text x="607.8" y="1176.1" text-anchor="end">40</text>
<text x="607.8" y="1137.9" text-anchor="end">60</text>
<text x="607.8" y="1099.6" text-anchor="end">80</text>
<text x="607.8" y="1061.4" text-anchor="end">100</text>
<text x="607.8" y="1023.1" text-anchor="end">120</text>
<text x="607.8" y="984.9" text-anchor="end">140</text>
<text x="607.8" y="946.6" text-anchor="end">160</text>
<text x="612" y="1265.6" text-anchor="middle">0</text>
<text x="668.5" y="1265.6" text-anchor="middle">0.5</text>
<text x="716.7" y="1265.6" text-anchor="middle">1</text>
<text x="773.2" y="1265.6" text-anchor="middle">1.5</text>
<text x="821.4" y="1265.6" text-anchor="middle">2</text>
<text x="877.9" y="1265.6" text-anchor="middle">2.5</text>
<text x="926.2" y="1265.6" text-anchor="middle">3</text>
<text x="982.6" y="1265.6" text-anchor="middle">3.5</text>
<text x="1030.9" y="1265.6" text-anchor="middle">4</text>
</g>
<text x="803.2" y="918.4" font-size="27.7" text-anchor="middle">Adenosine <tspan dx="-8.5" dy="-2" textLength="44.5" lengthAdjust="spacingAndGlyphs">→</tspan><tspan dx="-8.5" dy="2"> AMP</tspan></text>
<text x="812.2" y="1294.2" font-size="27.7" text-anchor="middle">time post RT (h)</text>
<text transform="translate(563.4,1087.6) rotate(-90)" font-size="27" text-anchor="middle">Flux (pmol/mg/h)</text>
<text x="538.9" y="910.5" font-size="31.5" font-weight="bold" fill="#1a1a1a">h</text>
</g>
<g>
<path d="M1145.6,925.1 V1246.9 H1564.4" fill="none" stroke="#383838" stroke-width="1.1"/>
<clipPath id="clip-i"><rect x="1144.6" y="924.1" width="421.9" height="323.8"/></clipPath>
<g clip-path="url(#clip-i)">
<path d="M1145.6,1119.4 L1148.6,1119.8 L1151.7,1120.2 L1154.7,1120.5 L1157.8,1120.9 L1160.8,1121.2 L1163.9,1121.4 L1166.9,1121.5 L1170,1121.6 L1173,1121.6 L1176.1,1121.6 L1179.1,1121.5 L1182.2,1121.5 L1185.2,1121.4 L1188.3,1121.4 L1191.3,1121.3 L1194.4,1121.3 L1197.5,1121.2 L1200.5,1121.2 L1203.6,1121.1 L1206.6,1121.1 L1209.7,1121 L1212.7,1121 L1215.8,1120.9 L1218.8,1120.9 L1221.9,1120.8 L1224.9,1120.8 L1228,1120.7 L1231,1120.7 L1234.1,1120.6 L1237.1,1120.6 L1240.2,1120.5 L1243.3,1120.5 L1246.3,1120.4 L1249.4,1120.4 L1252.4,1120.3 L1255.5,1120.2 L1258.5,1120.1 L1261.6,1120 L1264.6,1119.9 L1267.7,1119.9 L1270.7,1119.8 L1273.8,1119.6 L1276.8,1119.5 L1279.9,1119.4 L1282.9,1119 L1286,1118.5 L1289,1118.1 L1292,1117.6 L1295.1,1117.2 L1298.1,1116.7 L1301.2,1116.3 L1304.2,1115.8 L1307.2,1115.3 L1310.3,1114.9 L1313.3,1114.4 L1316.4,1113.9 L1319.4,1113.4 L1322.4,1113 L1325.5,1112.5 L1328.5,1112 L1331.5,1111.5 L1334.6,1111 L1337.6,1110.4 L1340.7,1109.9 L1343.7,1109.3 L1346.7,1108.7 L1349.8,1108.1 L1352.8,1107.5 L1355.9,1106.8 L1358.9,1106.2 L1361.9,1105.6 L1365,1104.9 L1368,1104.3 L1371.1,1103.6 L1374.1,1103 L1377.1,1102.3 L1380.2,1101.6 L1383.2,1101 L1386.2,1100.3 L1389.3,1099.6 L1392.3,1098.9 L1395.4,1098.3 L1398.4,1097.6 L1401.4,1096.9 L1404.5,1096.2 L1407.5,1095.4 L1410.6,1094.7 L1413.6,1094 L1416.6,1093.2 L1419.7,1092.6 L1422.7,1091.9 L1425.8,1091.4 L1428.8,1090.9 L1431.8,1090.4 L1434.9,1090 L1437.9,1089.7 L1440.9,1089.3 L1444,1089 L1447,1088.8 L1450.1,1088.6 L1453.1,1088.4 L1456.1,1088.4 L1459.2,1088.3 L1462.2,1088.4 L1465.3,1088.5 L1468.3,1088.7 L1471.3,1089 L1474.4,1089.3 L1477.4,1089.6 L1480.5,1089.9 L1483.6,1087.6 L1486.7,1084.8 L1489.8,1081.6 L1492.9,1078.2 L1496,1074.6 L1499.1,1070.9 L1502.2,1066.9 L1505.3,1062.5 L1508.4,1057.8 L1511.5,1052.8 L1514.7,1047.5 L1517.8,1042 L1520.9,1036 L1524,1029.4 L1527.1,1022.5 L1530.2,1015.4 L1533.3,1008.1 L1536.4,1000.6 L1539.5,992.9 L1542.6,984.8 L1545.8,976.5 L1548.9,968.1 L1552,959.8 L1555.1,951.3 L1558.2,942.7 L1561.3,933.9 L1564.4,925.1 L1564.4,1212.7 L1561.4,1209.2 L1558.3,1205.8 L1555.3,1202.4 L1552.2,1199.1 L1549.2,1195.8 L1546.1,1192.6 L1543,1189.4 L1540,1186.2 L1536.9,1183.1 L1533.9,1180.2 L1530.8,1177.3 L1527.8,1174.7 L1524.7,1172.1 L1521.7,1169.7 L1518.6,1167.3 L1515.6,1165 L1512.5,1162.8 L1509.5,1160.6 L1506.4,1158.5 L1503.4,1156.5 L1500.3,1154.5 L1497.3,1152.5 L1494.2,1150.6 L1491.2,1148.8 L1488.1,1147 L1485.1,1145.3 L1482,1143.7 L1479,1143.8 L1476,1143.9 L1473,1144 L1469.9,1144 L1466.9,1144.1 L1463.9,1144.1 L1460.9,1144.2 L1457.9,1144.2 L1454.8,1144.2 L1451.8,1144.3 L1448.8,1144.3 L1445.8,1144.3 L1442.8,1144.3 L1439.8,1144.3 L1436.7,1144.3 L1433.7,1144.3 L1430.7,1144.3 L1427.7,1144.3 L1424.7,1144.2 L1421.6,1143.9 L1418.6,1143.6 L1415.6,1143.2 L1412.6,1142.8 L1409.6,1142.4 L1406.6,1142.1 L1403.5,1141.8 L1400.5,1141.5 L1397.5,1141.2 L1394.5,1140.9 L1391.5,1140.7 L1388.4,1140.4 L1385.4,1140.1 L1382.4,1139.9 L1379.4,1139.6 L1376.3,1139.8 L1373.3,1140 L1370.2,1140.2 L1367.2,1140.4 L1364.1,1140.6 L1361.1,1140.8 L1358,1140.9 L1355,1141.1 L1351.9,1141.2 L1348.9,1141.4 L1345.8,1141.5 L1342.8,1141.6 L1339.7,1141.7 L1336.7,1141.8 L1333.6,1141.9 L1330.6,1141.9 L1327.5,1142 L1324.5,1142.1 L1321.4,1142.1 L1318.4,1142.2 L1315.3,1142.2 L1312.3,1142.3 L1309.2,1142.3 L1306.2,1142.3 L1303.1,1142.4 L1300.1,1142.4 L1297,1142.4 L1294,1142.4 L1290.9,1142.3 L1287.9,1142.3 L1284.8,1142.2 L1281.8,1142.2 L1278.7,1142.1 L1275.7,1142 L1272.6,1141.9 L1269.6,1141.7 L1266.5,1141.6 L1263.5,1141.4 L1260.4,1141.2 L1257.4,1141 L1254.3,1140.9 L1251.3,1140.7 L1248.2,1140.6 L1245.2,1140.4 L1242.1,1140.2 L1239.1,1140.1 L1236,1139.9 L1233,1139.8 L1229.9,1139.6 L1226.8,1139.5 L1223.8,1139.3 L1220.7,1139.2 L1217.7,1139 L1214.7,1139.4 L1211.7,1139.8 L1208.7,1140.2 L1205.7,1140.6 L1202.7,1141 L1199.7,1141.4 L1196.7,1141.8 L1193.6,1142.3 L1190.6,1142.7 L1187.6,1143.2 L1184.6,1143.6 L1181.6,1144.1 L1178.6,1144.6 L1175.6,1145.1 L1172.6,1145.6 L1169.6,1146.1 L1166.6,1146.6 L1163.6,1147.1 L1160.6,1147.7 L1157.6,1148.2 L1154.6,1148.8 L1151.6,1149.4 L1148.6,1149.9 L1145.6,1150.5Z" fill="#d2d2d2"/>
<path d="M1145.6,1128.1 L1564.4,1125.3" fill="none" stroke="#70787d" stroke-width="1.45"/>
<path d="M1145.6,1216.5 L1148.6,1216.7 L1151.6,1216.9 L1154.6,1217.1 L1157.6,1217.3 L1160.6,1217.5 L1163.6,1217.8 L1166.6,1218 L1169.7,1218.2 L1172.7,1218.4 L1175.7,1218.6 L1178.7,1218.8 L1181.7,1219 L1184.7,1219.3 L1187.7,1219.5 L1190.8,1219.7 L1193.8,1220 L1196.8,1220.2 L1199.8,1220.4 L1202.8,1220.7 L1205.8,1220.9 L1208.8,1221 L1211.8,1221.2 L1214.9,1221.3 L1217.9,1221.4 L1220.9,1221.5 L1223.9,1221.6 L1226.9,1221.6 L1229.9,1221.6 L1232.9,1221.6 L1236,1221.6 L1239,1221.6 L1242,1221.6 L1245,1221.5 L1248,1221.4 L1251,1221.4 L1254,1221.3 L1257,1221.2 L1260.1,1221.1 L1263.1,1221 L1266.1,1220.9 L1269.1,1220.8 L1272.1,1220.7 L1275.1,1220.6 L1278.1,1220.5 L1281.2,1220.4 L1284.2,1220.2 L1287.2,1220.1 L1290.2,1220 L1293.2,1219.9 L1296.2,1219.8 L1299.2,1219.7 L1302.2,1219.6 L1305.3,1219.5 L1308.3,1219.5 L1311.3,1219.4 L1314.3,1219.3 L1317.3,1219.3 L1320.3,1219.2 L1323.3,1219.2 L1326.4,1219.1 L1329.4,1219.1 L1332.4,1219 L1335.4,1219 L1338.4,1218.9 L1341.4,1218.9 L1344.4,1218.8 L1347.4,1218.8 L1350.5,1218.7 L1353.5,1218.6 L1356.5,1218.6 L1359.5,1218.5 L1362.5,1218.4 L1365.5,1218.4 L1368.5,1218.3 L1371.6,1218.2 L1374.6,1218.1 L1377.6,1218 L1380.6,1217.9 L1383.6,1217.8 L1386.6,1217.7 L1389.6,1217.5 L1392.6,1217.4 L1395.7,1217.3 L1398.7,1217.2 L1401.7,1217 L1404.7,1216.9 L1407.7,1216.8 L1410.7,1216.6 L1413.7,1216.5 L1416.8,1216.4 L1419.8,1216.2 L1422.8,1216.1 L1425.8,1216 L1428.8,1215.8 L1431.8,1215.7 L1434.8,1215.6 L1437.8,1215.4 L1440.9,1215.3 L1443.9,1215.2 L1446.9,1215 L1449.9,1214.9 L1452.9,1214.7 L1455.9,1214.6 L1458.9,1214.4 L1462,1214.3 L1465,1214.1 L1468,1214 L1471,1213.8 L1474,1213.7 L1477,1213.5 L1480,1213.4 L1483,1213.2 L1486.1,1213 L1489.1,1212.9 L1492.1,1212.7 L1495.1,1212.5 L1498.1,1212.3 L1501.1,1212.1 L1504.1,1211.9 L1507.2,1211.7 L1510.2,1211.5 L1513.2,1211.3 L1516.2,1211.1 L1519.2,1210.9 L1522.2,1210.7 L1525.2,1210.5 L1528.2,1210.3 L1531.3,1210 L1534.3,1209.8 L1537.3,1209.6 L1540.3,1209.4 L1543.3,1209.1 L1546.3,1208.9 L1549.3,1208.6 L1552.4,1208.4 L1555.4,1208.2 L1558.4,1207.9 L1561.4,1207.7 L1564.4,1207.4 L1564.4,1223.6 L1561.4,1223.5 L1558.4,1223.3 L1555.4,1223.2 L1552.4,1223.1 L1549.4,1222.9 L1546.4,1222.8 L1543.4,1222.7 L1540.4,1222.5 L1537.4,1222.4 L1534.4,1222.3 L1531.4,1222.2 L1528.4,1222 L1525.4,1221.9 L1522.4,1221.8 L1519.4,1221.7 L1516.4,1221.6 L1513.4,1221.5 L1510.4,1221.4 L1507.4,1221.4 L1504.4,1221.3 L1501.4,1221.2 L1498.4,1221.2 L1495.4,1221.2 L1492.4,1221.1 L1489.4,1221.1 L1486.4,1221.1 L1483.4,1221.1 L1480.4,1221.1 L1477.4,1221 L1474.4,1221 L1471.4,1221 L1468.4,1221 L1465.4,1221 L1462.4,1221 L1459.4,1221 L1456.4,1221 L1453.4,1221 L1450.4,1221 L1447.4,1221 L1444.4,1221 L1441.4,1221 L1438.4,1221.1 L1435.4,1221.1 L1432.4,1221.1 L1429.4,1221.1 L1426.4,1221.1 L1423.4,1221.2 L1420.4,1221.2 L1417.4,1221.2 L1414.4,1221.3 L1411.4,1221.3 L1408.4,1221.3 L1405.4,1221.4 L1402.4,1221.4 L1399.4,1221.5 L1396.4,1221.5 L1393.4,1221.5 L1390.4,1221.6 L1387.4,1221.6 L1384.4,1221.7 L1381.4,1221.8 L1378.4,1221.8 L1375.4,1221.9 L1372.4,1221.9 L1369.4,1222 L1366.4,1222.1 L1363.4,1222.1 L1360.4,1222.2 L1357.4,1222.3 L1354.4,1222.4 L1351.4,1222.5 L1348.4,1222.6 L1345.4,1222.7 L1342.4,1222.8 L1339.4,1223 L1336.4,1223.1 L1333.4,1223.2 L1330.4,1223.3 L1327.4,1223.5 L1324.4,1223.6 L1321.4,1223.8 L1318.4,1223.9 L1315.4,1224 L1312.4,1224.2 L1309.4,1224.3 L1306.4,1224.5 L1303.4,1224.6 L1300.4,1224.8 L1297.4,1224.9 L1294.4,1225.1 L1291.4,1225.3 L1288.4,1225.5 L1285.4,1225.7 L1282.4,1225.9 L1279.4,1226.1 L1276.4,1226.3 L1273.4,1226.5 L1270.4,1226.7 L1267.4,1226.9 L1264.4,1227.1 L1261.4,1227.2 L1258.4,1227.4 L1255.4,1227.5 L1252.4,1227.6 L1249.4,1227.6 L1246.4,1227.7 L1243.4,1227.7 L1240.4,1227.6 L1237.4,1227.6 L1234.4,1227.5 L1231.4,1227.3 L1228.4,1227.2 L1225.4,1227.1 L1222.4,1226.9 L1219.4,1226.8 L1216.4,1226.7 L1213.4,1226.5 L1210.4,1226.4 L1207.4,1226.2 L1204.4,1226 L1201.4,1225.9 L1198.4,1225.7 L1195.4,1225.5 L1192.4,1225.3 L1189.4,1225.1 L1186.4,1224.9 L1183.4,1224.7 L1180.4,1224.5 L1145.6,1230.8Z" fill="rgb(243,145,127)" fill-opacity="0.87"/>
<path d="M1145.6,1219.6 L1148.6,1219.7 L1151.6,1219.8 L1154.6,1219.9 L1157.6,1220 L1160.6,1220 L1163.6,1220.1 L1166.6,1220.2 L1169.7,1220.3 L1172.7,1220.4 L1175.7,1220.5 L1178.7,1220.6 L1181.7,1220.7 L1184.7,1220.8 L1187.7,1220.8 L1190.8,1220.9 L1193.8,1221 L1196.8,1221.1 L1199.8,1221.2 L1202.8,1221.2 L1205.8,1221.3 L1208.8,1221.4 L1211.8,1221.4 L1214.9,1221.5 L1217.9,1221.6 L1220.9,1221.6 L1223.9,1221.7 L1226.9,1221.8 L1229.9,1221.9 L1232.9,1221.9 L1236,1222 L1239,1222 L1242,1222 L1245,1222.1 L1248,1222.1 L1251,1222 L1254,1222 L1257,1222 L1260.1,1222 L1263.1,1221.9 L1266.1,1221.9 L1269.1,1221.8 L1272.1,1221.8 L1275.1,1221.7 L1278.1,1221.7 L1281.2,1221.6 L1284.2,1221.5 L1287.2,1221.5 L1290.2,1221.4 L1293.2,1221.3 L1296.2,1221.3 L1299.2,1221.2 L1302.2,1221.2 L1305.3,1221.1 L1308.3,1221.1 L1311.3,1221 L1314.3,1220.9 L1317.3,1220.9 L1320.3,1220.8 L1323.3,1220.8 L1326.4,1220.7 L1329.4,1220.7 L1332.4,1220.6 L1335.4,1220.5 L1338.4,1220.5 L1341.4,1220.4 L1344.4,1220.4 L1347.4,1220.3 L1350.5,1220.2 L1353.5,1220.2 L1356.5,1220.1 L1359.5,1220 L1362.5,1220 L1365.5,1219.9 L1368.5,1219.8 L1371.6,1219.8 L1374.6,1219.7 L1377.6,1219.6 L1380.6,1219.5 L1383.6,1219.5 L1386.6,1219.4 L1389.6,1219.3 L1392.6,1219.2 L1395.7,1219.1 L1398.7,1219.1 L1401.7,1219 L1404.7,1218.9 L1407.7,1218.8 L1410.7,1218.7 L1413.7,1218.7 L1416.8,1218.6 L1419.8,1218.5 L1422.8,1218.5 L1425.8,1218.4 L1428.8,1218.3 L1431.8,1218.3 L1434.8,1218.2 L1437.8,1218.1 L1440.9,1218.1 L1443.9,1218 L1446.9,1218 L1449.9,1217.9 L1452.9,1217.9 L1455.9,1217.8 L1458.9,1217.8 L1462,1217.7 L1465,1217.7 L1468,1217.6 L1471,1217.6 L1474,1217.5 L1477,1217.5 L1480,1217.5 L1483,1217.4 L1486.1,1217.4 L1489.1,1217.4 L1492.1,1217.4 L1495.1,1217.4 L1498.1,1217.4 L1501.1,1217.4 L1504.1,1217.4 L1507.2,1217.4 L1510.2,1217.4 L1513.2,1217.4 L1516.2,1217.4 L1519.2,1217.4 L1522.2,1217.5 L1525.2,1217.5 L1528.2,1217.5 L1531.3,1217.5 L1534.3,1217.6 L1537.3,1217.6 L1540.3,1217.7 L1543.3,1217.7 L1546.3,1217.7 L1549.3,1217.8 L1552.4,1217.8 L1555.4,1217.9 L1558.4,1217.9 L1561.4,1218 L1564.4,1218" fill="none" stroke="#ec5535" stroke-width="1.6"/>
</g>
<path d="M1145.6,1198.7 h4.5 M1145.6,1150.2 h4.5 M1145.6,1101.4 h4.5 M1145.6,1052.9 h4.5 M1145.6,1004.4 h4.5 M1145.6,955.9 h4.5 M1197.9,1246.9 v-4.5 M1250.3,1246.9 v-4.5 M1302.6,1246.9 v-4.5 M1355,1246.9 v-4.5 M1407.3,1246.9 v-4.5 M1459.7,1246.9 v-4.5 M1512.1,1246.9 v-4.5 M1564.4,1246.9 v-4.5 " stroke="#383838" stroke-width="1.0" fill="none"/>
<g font-size="21.9" fill="#1e1e1e">
<text x="1137.5" y="1252.6" text-anchor="end">0</text>
<text x="1140" y="1204.4" text-anchor="end">200</text>
<text x="1140" y="1155.9" text-anchor="end">400</text>
<text x="1140" y="1107.1" text-anchor="end">600</text>
<text x="1140" y="1058.6" text-anchor="end">800</text>
<text x="1142.1" y="1010.1" text-anchor="end">1000</text>
<text x="1142.1" y="961.6" text-anchor="end">1200</text>
<text x="1147.9" y="1266.5" text-anchor="middle">0</text>
<text x="1204.3" y="1266.5" text-anchor="middle">0.5</text>
<text x="1252.6" y="1266.5" text-anchor="middle">1</text>
<text x="1309" y="1266.5" text-anchor="middle">1.5</text>
<text x="1357.3" y="1266.5" text-anchor="middle">2</text>
<text x="1413.7" y="1266.5" text-anchor="middle">2.5</text>
<text x="1462" y="1266.5" text-anchor="middle">3</text>
<text x="1518.5" y="1266.5" text-anchor="middle">3.5</text>
<text x="1566.7" y="1266.5" text-anchor="middle">4</text>
</g>
<text x="1362.6" y="918.4" font-size="27.7" text-anchor="middle">GMP <tspan dx="-8.5" dy="-2" textLength="44.5" lengthAdjust="spacingAndGlyphs">→</tspan><tspan dx="-8.5" dy="2"> GDP</tspan></text>
<text x="1361.2" y="1292.9" font-size="27.7" text-anchor="middle">time post RT (h)</text>
<text transform="translate(1084,1087.6) rotate(-90)" font-size="27" text-anchor="middle">Flux (pmol/mg/h)</text>
<text x="1074" y="910.5" font-size="31.5" font-weight="bold" fill="#1a1a1a">i</text>
</g>
<g>
<path d="M1682.9,925.1 V1246.9 H2101.7" fill="none" stroke="#686868" stroke-width="1.5"/>
<clipPath id="clip-j"><rect x="1681.9" y="924.1" width="421.9" height="323.8"/></clipPath>
<g clip-path="url(#clip-j)">
<path d="M1682.9,1020.6 L1686,1021.1 L1689,1021.7 L1692.1,1022.3 L1695.2,1022.9 L1698.2,1023.6 L1701.3,1024.2 L1704.4,1024.8 L1707.4,1025.5 L1710.5,1026.1 L1713.6,1026.8 L1716.6,1027.5 L1719.7,1028.1 L1722.8,1028.8 L1725.8,1029.5 L1728.9,1030.2 L1732,1031 L1735,1031.7 L1738.1,1032.4 L1741.2,1033.2 L1744.2,1033.9 L1747.3,1034.7 L1750.4,1035.5 L1753.4,1035 L1756.4,1034.4 L1759.4,1033.9 L1762.4,1033.4 L1765.5,1032.9 L1768.5,1032.5 L1771.5,1032 L1774.5,1031.6 L1777.5,1031.2 L1780.5,1030.8 L1783.6,1030.5 L1786.6,1030.1 L1789.6,1029.9 L1792.6,1029.6 L1795.6,1029.3 L1798.6,1029 L1801.7,1028.7 L1804.7,1028.4 L1807.7,1028.2 L1810.7,1027.9 L1813.7,1027.7 L1816.8,1027.5 L1819.8,1027.3 L1822.8,1027.1 L1825.8,1027 L1828.8,1026.9 L1831.8,1026.8 L1834.9,1026.7 L1837.9,1026.7 L1840.9,1026.7 L1843.9,1026.7 L1846.9,1026.8 L1850,1026.8 L1853,1026.9 L1856,1027 L1859,1027.1 L1862,1027.2 L1865,1027.3 L1868.1,1027.5 L1871.1,1027.6 L1874.1,1027.8 L1877.1,1027.9 L1880.1,1028.2 L1883.2,1028.4 L1886.2,1028.7 L1889.2,1029 L1892.2,1029.4 L1895.2,1029.7 L1898.2,1030.1 L1901.3,1030.4 L1904.3,1030.8 L1907.3,1030.2 L1910.4,1029.6 L1913.4,1028.9 L1916.4,1028.3 L1919.5,1027.6 L1922.5,1026.9 L1925.5,1026.2 L1928.6,1025.5 L1931.6,1024.8 L1934.6,1024 L1937.7,1023.2 L1940.7,1022.3 L1943.7,1021.4 L1946.8,1020.4 L1949.8,1019.5 L1952.9,1018.6 L1955.9,1017.8 L1958.9,1017.1 L1962,1016.4 L1965,1015.9 L1968,1015.4 L1971.1,1015 L1974.1,1014.6 L1977.1,1014.2 L1980.2,1014 L1983.2,1013.8 L1986.2,1013.7 L1989.3,1013.7 L1992.3,1013.8 L1995.3,1014 L1998.4,1014.2 L2001.4,1014.6 L2004.5,1015 L2007.5,1015.4 L2010.5,1015.9 L2013.6,1016.4 L2016.6,1016.9 L2019.6,1017.4 L2022.7,1018 L2025.7,1018.6 L2028.7,1019.2 L2031.8,1019.9 L2034.8,1017.4 L2037.9,1014.6 L2040.9,1011.6 L2043.9,1008.5 L2047,1005.2 L2050,1001.7 L2053.1,998.2 L2056.1,994.3 L2059.2,990.3 L2062.2,986.1 L2065.2,981.8 L2068.3,977.5 L2071.3,973.2 L2074.4,968.8 L2077.4,964.3 L2080.4,959.7 L2083.5,955.1 L2086.5,950.3 L2089.6,945.5 L2092.6,940.6 L2095.7,935.5 L2098.7,930.3 L2101.7,925.1 L2101.7,1246.9 L2098.7,1237.8 L2095.6,1228.8 L2092.6,1220.1 L2089.5,1211.6 L2086.5,1203.4 L2083.4,1195.6 L2080.4,1188.2 L2077.3,1181 L2074.3,1174 L2071.2,1167.2 L2068.2,1160.8 L2065.1,1154.7 L2062.1,1149.1 L2059,1143.7 L2056,1138.5 L2052.9,1133.4 L2049.9,1128.6 L2046.8,1124 L2043.8,1119.8 L2040.7,1115.9 L2037.7,1112.1 L2034.6,1108.5 L2031.6,1105.1 L2028.5,1101.9 L2025.5,1099.1 L2022.4,1096.7 L2019.4,1097.1 L2016.4,1097.5 L2013.4,1097.9 L2010.4,1098.2 L2007.3,1098.5 L2004.3,1098.8 L2001.3,1099 L1998.3,1099.1 L1995.2,1099.2 L1992.2,1099.2 L1989.2,1099.2 L1986.2,1099 L1983.1,1098.9 L1980.1,1098.7 L1977.1,1098.4 L1974.1,1098.1 L1971.1,1097.8 L1968,1097.4 L1965,1097 L1962,1096.5 L1959,1096 L1955.9,1095.3 L1952.9,1094.6 L1949.9,1093.8 L1946.9,1093 L1943.8,1092.1 L1940.8,1091.3 L1937.8,1090.4 L1934.8,1089.6 L1931.8,1088.8 L1928.7,1088.1 L1925.7,1087.3 L1922.7,1086.5 L1919.7,1085.7 L1916.6,1085 L1913.6,1084.2 L1910.6,1083.4 L1907.6,1082.6 L1904.5,1081.9 L1901.5,1081.2 L1898.5,1080.4 L1895.5,1079.7 L1892.4,1079.1 L1889.4,1078.4 L1886.4,1077.7 L1883.4,1077 L1880.4,1076.3 L1877.3,1075.6 L1874.3,1075 L1871.3,1074.3 L1868.3,1073.7 L1865.2,1073.1 L1862.2,1072.5 L1859.2,1072 L1856.2,1071.5 L1853.1,1071 L1850.1,1070.5 L1847.1,1070.2 L1844.1,1069.8 L1841.1,1069.4 L1838,1069.1 L1835,1068.8 L1832,1068.5 L1829,1068.2 L1825.9,1067.9 L1822.9,1067.6 L1819.9,1067.4 L1816.9,1067.1 L1813.8,1066.8 L1810.8,1066.5 L1807.8,1066.2 L1804.8,1066 L1801.8,1065.6 L1798.7,1065.3 L1795.7,1065 L1792.7,1064.7 L1789.7,1064.4 L1786.6,1064.1 L1783.6,1063.8 L1780.6,1063.5 L1777.6,1063.2 L1774.5,1062.9 L1771.5,1062.5 L1768.5,1062.2 L1765.5,1061.9 L1762.5,1061.6 L1759.4,1061.3 L1756.4,1061 L1753.4,1060.7 L1750.4,1060.4 L1747.3,1060.7 L1744.2,1061.1 L1741.2,1061.5 L1738.1,1061.9 L1735,1062.2 L1732,1062.6 L1728.9,1062.9 L1725.8,1063.2 L1722.8,1063.6 L1719.7,1063.9 L1716.6,1064.2 L1713.6,1064.5 L1710.5,1064.8 L1707.4,1065.1 L1704.4,1065.4 L1701.3,1065.7 L1698.2,1065.9 L1695.2,1066.2 L1692.1,1066.5 L1689,1066.7 L1686,1067 L1682.9,1067.2Z" fill="#d2d2d2"/>
<path d="M1682.9,1053.8 L2101.7,1058.8" fill="none" stroke="#70787d" stroke-width="1.45"/>
<path d="M1682.9,1199.7 L1699.1,1198.7 L1702.1,1197.7 L1705.1,1196.8 L1708.1,1195.8 L1711.1,1195 L1714.1,1194.2 L1717.1,1193.6 L1720.1,1193 L1723.1,1192.5 L1726.1,1191.9 L1729.1,1191.4 L1732.1,1191 L1735.1,1190.5 L1738.1,1190.1 L1741.1,1189.8 L1744.1,1189.5 L1747.1,1189.3 L1750.1,1189.1 L1753.1,1188.9 L1756.1,1188.7 L1759.1,1188.5 L1762.1,1188.3 L1765.1,1188.2 L1768.1,1188.1 L1771.1,1188 L1774.1,1187.9 L1777.1,1187.8 L1780.1,1187.8 L1783.1,1187.8 L1786.1,1187.9 L1789.1,1187.9 L1792.2,1188 L1795.2,1188.1 L1798.2,1188.3 L1801.2,1188.4 L1804.2,1188.6 L1807.2,1188.9 L1810.2,1189.2 L1813.2,1189.5 L1816.2,1189.9 L1819.2,1190.3 L1822.2,1190.6 L1825.2,1191 L1828.2,1191.4 L1831.2,1191.7 L1834.2,1192 L1837.2,1192.4 L1840.2,1192.7 L1843.2,1193 L1846.2,1193.3 L1849.2,1193.6 L1852.2,1193.9 L1855.2,1194.2 L1858.2,1194.5 L1861.2,1194.8 L1864.2,1195 L1867.2,1195.3 L1870.2,1195.6 L1873.2,1195.8 L1876.2,1196.1 L1879.2,1196.3 L1882.3,1196.6 L1885.3,1196.8 L1888.3,1196.9 L1891.3,1197.1 L1894.3,1197.2 L1897.3,1197.2 L1900.3,1197.2 L1903.3,1197.3 L1906.3,1197.3 L1909.3,1197.3 L1912.3,1197.3 L1915.3,1197.2 L1918.3,1197.2 L1921.3,1197.2 L1924.3,1197.2 L1927.3,1197.2 L1930.3,1197.1 L1933.3,1197.1 L1936.3,1197.1 L1939.3,1197.1 L1942.3,1197.1 L1945.3,1197.1 L1948.3,1197.1 L1951.3,1197.1 L1954.3,1197.1 L1957.3,1197.2 L1960.3,1197.2 L1963.3,1197.3 L1966.3,1197.4 L1969.3,1197.5 L1972.3,1197.5 L1975.4,1197.6 L1978.4,1197.7 L1981.4,1197.8 L1984.4,1197.9 L1987.4,1198 L1990.4,1198.1 L1993.4,1198.1 L1996.4,1198.2 L1999.4,1198.3 L2002.4,1198.4 L2005.4,1198.5 L2008.4,1198.5 L2011.4,1198.6 L2014.4,1198.7 L2017.4,1198.7 L2020.4,1198.7 L2023.4,1198.8 L2026.4,1198.8 L2029.4,1198.8 L2032.4,1198.8 L2035.4,1198.8 L2038.4,1198.8 L2041.4,1198.8 L2044.4,1198.8 L2047.4,1198.8 L2050.4,1198.7 L2101.7,1195.6 L2101.7,1219.6 L2098.7,1219.2 L2095.7,1218.9 L2092.7,1218.6 L2089.7,1218.2 L2086.7,1217.9 L2083.7,1217.6 L2080.6,1217.3 L2077.6,1217 L2074.6,1216.7 L2071.6,1216.3 L2068.6,1216 L2065.6,1215.7 L2062.6,1215.4 L2059.6,1215.1 L2056.5,1214.9 L2053.5,1214.6 L2050.5,1214.3 L2047.5,1214 L2044.5,1213.7 L2041.5,1213.5 L2038.5,1213.2 L2035.4,1212.9 L2032.4,1212.6 L2029.4,1212.4 L2026.4,1212.1 L2023.4,1211.8 L2020.4,1211.6 L2017.4,1211.3 L2014.4,1211.1 L2011.3,1210.8 L2008.3,1210.6 L2005.3,1210.3 L2002.3,1210.1 L1999.3,1209.8 L1996.3,1209.6 L1993.3,1209.4 L1990.2,1209.1 L1987.2,1208.9 L1984.2,1208.7 L1981.2,1208.5 L1978.2,1208.2 L1975.2,1208 L1972.2,1207.8 L1969.2,1207.5 L1966.1,1207.3 L1963.1,1207.1 L1960.1,1206.9 L1957.1,1206.7 L1954.1,1206.5 L1951.1,1206.2 L1948.1,1206.1 L1945,1205.9 L1942,1205.7 L1939,1205.5 L1936,1205.4 L1933,1205.2 L1930,1205.1 L1927,1205 L1924,1204.9 L1920.9,1204.8 L1917.9,1204.7 L1914.9,1204.6 L1911.9,1204.5 L1908.9,1204.4 L1905.9,1204.3 L1902.9,1204.2 L1899.8,1204.2 L1896.8,1204.1 L1893.8,1204 L1890.8,1203.9 L1887.8,1203.9 L1884.8,1203.8 L1881.8,1203.7 L1878.8,1203.7 L1875.7,1203.6 L1872.7,1203.6 L1869.7,1203.5 L1866.7,1203.4 L1863.7,1203.4 L1860.7,1203.3 L1857.7,1203.3 L1854.6,1203.2 L1851.6,1203.2 L1848.6,1203.1 L1845.6,1203.1 L1842.6,1203 L1839.6,1203 L1836.6,1202.9 L1833.6,1202.9 L1830.5,1202.8 L1827.5,1202.8 L1824.5,1202.7 L1821.5,1202.7 L1818.5,1202.6 L1815.5,1202.6 L1812.5,1202.6 L1809.4,1202.5 L1806.4,1202.5 L1803.4,1202.5 L1800.4,1202.4 L1797.4,1202.4 L1794.4,1202.4 L1791.4,1202.4 L1788.4,1202.4 L1785.3,1202.4 L1782.3,1202.4 L1779.3,1202.4 L1776.3,1202.5 L1773.3,1202.5 L1770.3,1202.5 L1767.3,1202.5 L1764.2,1202.6 L1761.2,1202.6 L1758.2,1202.6 L1755.2,1202.7 L1752.2,1202.7 L1749.2,1202.7 L1746.2,1202.8 L1743.2,1202.8 L1740.1,1202.9 L1737.1,1203 L1734.1,1203.1 L1731.1,1203.2 L1728.1,1203.4 L1725.1,1203.6 L1722.1,1203.8 L1719,1203.9 L1716,1204.1 L1713,1204.3 L1710,1204.6 L1707,1204.9 L1704,1205.2 L1701,1205.6 L1698,1206 L1694.9,1206.4 L1691.9,1206.8 L1688.9,1207.2 L1685.9,1207.6 L1682.9,1208.1Z" fill="rgb(243,145,127)" fill-opacity="0.87"/>
<path d="M1682.9,1204 L1685.9,1203.9 L1688.9,1203.7 L1691.9,1203.6 L1694.9,1203.4 L1698,1203.3 L1701,1203.2 L1704,1203 L1707,1202.9 L1710,1202.8 L1713,1202.7 L1716,1202.5 L1719,1202.4 L1722.1,1202.3 L1725.1,1202.2 L1728.1,1202.1 L1731.1,1202 L1734.1,1202 L1737.1,1201.9 L1740.1,1201.8 L1743.2,1201.8 L1746.2,1201.7 L1749.2,1201.6 L1752.2,1201.6 L1755.2,1201.5 L1758.2,1201.5 L1761.2,1201.4 L1764.2,1201.3 L1767.3,1201.3 L1770.3,1201.3 L1773.3,1201.2 L1776.3,1201.2 L1779.3,1201.2 L1782.3,1201.2 L1785.3,1201.2 L1788.4,1201.2 L1791.4,1201.3 L1794.4,1201.3 L1797.4,1201.3 L1800.4,1201.3 L1803.4,1201.4 L1806.4,1201.4 L1809.4,1201.4 L1812.5,1201.5 L1815.5,1201.5 L1818.5,1201.5 L1821.5,1201.6 L1824.5,1201.6 L1827.5,1201.7 L1830.5,1201.7 L1833.6,1201.7 L1836.6,1201.8 L1839.6,1201.8 L1842.6,1201.9 L1845.6,1201.9 L1848.6,1201.9 L1851.6,1202 L1854.6,1202 L1857.7,1202.1 L1860.7,1202.1 L1863.7,1202.1 L1866.7,1202.2 L1869.7,1202.2 L1872.7,1202.3 L1875.7,1202.3 L1878.8,1202.4 L1881.8,1202.4 L1884.8,1202.4 L1887.8,1202.5 L1890.8,1202.5 L1893.8,1202.6 L1896.8,1202.6 L1899.8,1202.7 L1902.9,1202.7 L1905.9,1202.8 L1908.9,1202.8 L1911.9,1202.8 L1914.9,1202.9 L1917.9,1202.9 L1920.9,1203 L1924,1203 L1927,1203.1 L1930,1203.1 L1933,1203.1 L1936,1203.2 L1939,1203.2 L1942,1203.2 L1945,1203.3 L1948.1,1203.3 L1951.1,1203.3 L1954.1,1203.4 L1957.1,1203.4 L1960.1,1203.4 L1963.1,1203.4 L1966.1,1203.5 L1969.2,1203.5 L1972.2,1203.5 L1975.2,1203.5 L1978.2,1203.5 L1981.2,1203.6 L1984.2,1203.6 L1987.2,1203.6 L1990.2,1203.6 L1993.3,1203.7 L1996.3,1203.7 L1999.3,1203.7 L2002.3,1203.7 L2005.3,1203.7 L2008.3,1203.7 L2011.3,1203.8 L2014.4,1203.8 L2017.4,1203.8 L2020.4,1203.8 L2023.4,1203.8 L2026.4,1203.8 L2029.4,1203.8 L2032.4,1203.9 L2035.4,1203.9 L2038.5,1203.9 L2041.5,1203.9 L2044.5,1203.9 L2047.5,1203.9 L2050.5,1203.9 L2053.5,1203.9 L2056.5,1203.9 L2059.6,1204 L2062.6,1204 L2065.6,1204 L2068.6,1204 L2071.6,1204 L2074.6,1204 L2077.6,1204 L2080.6,1204 L2083.7,1204 L2086.7,1204 L2089.7,1204 L2092.7,1204 L2095.7,1204 L2098.7,1204 L2101.7,1204" fill="none" stroke="#ec5535" stroke-width="1.6"/>
</g>
<path d="M1682.9,1209.3 h4.5 M1682.9,1171.7 h4.5 M1682.9,1134 h4.5 M1682.9,1096.4 h4.5 M1682.9,1058.8 h4.5 M1682.9,1021.2 h4.5 M1682.9,983.5 h4.5 M1682.9,945.9 h4.5 M1735.2,1246.9 v-4.5 M1787.6,1246.9 v-4.5 M1840,1246.9 v-4.5 M1892.3,1246.9 v-4.5 M1944.7,1246.9 v-4.5 M1997,1246.9 v-4.5 M2049.4,1246.9 v-4.5 M2101.7,1246.9 v-4.5 " stroke="#686868" stroke-width="1.3" fill="none"/>
<g font-size="21.9" fill="#1e1e1e">
<text x="1678.6" y="1252.6" text-anchor="end">0</text>
<text x="1680.5" y="1215" text-anchor="end">100</text>
<text x="1680.5" y="1177.4" text-anchor="end">200</text>
<text x="1680.5" y="1139.7" text-anchor="end">300</text>
<text x="1680.5" y="1102.1" text-anchor="end">400</text>
<text x="1680.5" y="1064.5" text-anchor="end">500</text>
<text x="1680.5" y="1026.9" text-anchor="end">600</text>
<text x="1680.5" y="989.2" text-anchor="end">700</text>
<text x="1680.5" y="951.6" text-anchor="end">800</text>
<text x="1685.4" y="1265.6" text-anchor="middle">0</text>
<text x="1741.8" y="1265.6" text-anchor="middle">0.5</text>
<text x="1790.1" y="1265.6" text-anchor="middle">1</text>
<text x="1846.6" y="1265.6" text-anchor="middle">1.5</text>
<text x="1894.8" y="1265.6" text-anchor="middle">2</text>
<text x="1951.3" y="1265.6" text-anchor="middle">2.5</text>
<text x="1999.5" y="1265.6" text-anchor="middle">3</text>
<text x="2056" y="1265.6" text-anchor="middle">3.5</text>
<text x="2104.2" y="1265.6" text-anchor="middle">4</text>
</g>
<text x="1888.1" y="918.4" font-size="27.7" text-anchor="middle">GDP <tspan dx="-8.5" dy="-2" textLength="44.5" lengthAdjust="spacingAndGlyphs">→</tspan><tspan dx="-8.5" dy="2"> 0</tspan></text>
<text x="1910" y="1292.9" font-size="27.7" text-anchor="middle">time post RT (h)</text>
<text transform="translate(1631.9,1087.6) rotate(-90)" font-size="27" text-anchor="middle">Flux (pmol/mg/h)</text>
<text x="1610.4" y="910.5" font-size="31.5" font-weight="bold" fill="#1a1a1a">j</text>
</g>
<g>
<path d="M81.5,1376 V1697.8 H500" fill="none" stroke="#383838" stroke-width="1.1"/>
<clipPath id="clip-k"><rect x="80.5" y="1375" width="421.5" height="323.8"/></clipPath>
<g clip-path="url(#clip-k)">
<path d="M81.5,1647.4 L84.5,1647.8 L87.6,1648.2 L90.7,1648.5 L93.8,1648.9 L96.9,1649.2 L99.9,1649.5 L103,1649.8 L106.1,1650.1 L109.2,1650.3 L112.2,1650.6 L115.3,1650.8 L118.4,1651 L121.5,1651.2 L124.5,1651.4 L127.6,1651.5 L130.7,1651.7 L133.8,1651.9 L136.9,1652 L139.9,1652.1 L142.9,1651.6 L146,1651.1 L149,1650.6 L152,1650.2 L155,1649.7 L158,1649.3 L161,1648.8 L164.1,1648.4 L167.1,1648 L170.1,1647.6 L173.1,1647.3 L176.1,1646.9 L179.1,1646.6 L182.1,1646.3 L185.2,1646 L188.2,1645.7 L191.2,1645.5 L194.2,1645.2 L197.2,1645 L200.2,1644.7 L203.3,1644.5 L206.3,1644.3 L209.3,1644 L212.3,1643.8 L215.3,1643.6 L218.3,1643.4 L221.3,1643.3 L224.4,1643.1 L227.4,1642.9 L230.4,1642.8 L233.4,1642.7 L236.4,1642.6 L239.4,1642.5 L242.5,1641.6 L245.5,1640.8 L248.5,1640 L251.6,1639.1 L254.6,1638.3 L257.6,1637.5 L260.6,1636.6 L263.7,1635.8 L266.7,1635 L269.7,1634.2 L272.8,1633.4 L275.8,1632.6 L278.8,1631.8 L281.9,1631 L284.9,1630.1 L287.9,1629.3 L291,1628.5 L294,1627.6 L297,1626.7 L300,1625.8 L303.1,1624.9 L306.1,1623.9 L309.1,1622.9 L312.2,1621.8 L315.2,1620.7 L318.2,1619.7 L321.3,1618.5 L324.3,1617.4 L327.3,1616.3 L330.3,1615.1 L333.4,1613.9 L336.4,1612.5 L339.4,1611.1 L342.5,1609.7 L345.5,1608.3 L348.5,1606.9 L351.6,1605.7 L354.6,1604.5 L357.6,1603.6 L360.7,1602.7 L363.7,1601.9 L366.7,1601.1 L369.7,1600.3 L372.8,1599.6 L375.8,1599 L378.8,1598.5 L381.9,1598.1 L384.9,1597.8 L387.9,1597.7 L391,1597.7 L394,1597.8 L397,1598 L400.1,1598.3 L403.1,1598.7 L406.1,1599.1 L409.1,1599.5 L412.2,1600.1 L415.2,1600.7 L418.2,1601.4 L421.3,1595.8 L424.3,1589.8 L427.3,1583.5 L430.3,1577 L433.4,1570.2 L436.4,1563.1 L439.4,1555.7 L442.5,1547.9 L445.5,1539.8 L448.5,1531.6 L451.6,1523.4 L454.6,1515.1 L457.6,1506.6 L460.6,1498.1 L463.7,1489.5 L466.7,1481 L469.7,1472.6 L472.8,1464.4 L475.8,1456.1 L478.8,1447.5 L481.8,1438.6 L484.9,1429.1 L487.9,1419.2 L490.9,1408.8 L494,1398.1 L497,1387.2 L500,1376 L500,1697.2 L496.9,1695.9 L493.9,1694.7 L490.8,1693.4 L487.7,1692.1 L484.7,1690.8 L481.6,1689.5 L478.5,1688.1 L475.5,1686.8 L472.4,1685.4 L469.3,1684.1 L466.3,1682.7 L463.2,1681.3 L460.1,1679.9 L457.1,1678.4 L454,1677 L450.9,1677.9 L447.9,1678.8 L444.9,1679.7 L441.8,1680.6 L438.8,1681.4 L435.7,1682.1 L432.7,1682.7 L429.6,1683.1 L426.6,1683.5 L423.5,1683.9 L420.5,1684.2 L417.5,1684.6 L414.4,1684.9 L411.4,1685.2 L408.3,1685.5 L405.3,1685.8 L402.2,1686 L399.2,1686.2 L396.1,1686.3 L393.1,1686.3 L390.1,1686.3 L387,1686.3 L384,1686.1 L380.9,1686 L377.9,1685.8 L374.8,1685.6 L371.8,1685.4 L368.7,1685.1 L365.7,1684.8 L362.7,1684.5 L359.6,1684.2 L356.6,1683.9 L353.5,1683.6 L350.5,1683.2 L347.4,1682.9 L344.4,1682.5 L341.3,1682.2 L338.3,1681.8 L335.2,1681.4 L332.2,1680.9 L329.2,1680.5 L326.1,1680 L323.1,1679.5 L320,1678.9 L317,1678.4 L313.9,1677.8 L310.9,1677.2 L307.8,1676.7 L304.8,1676.9 L301.8,1677.2 L298.7,1677.5 L295.7,1677.7 L292.6,1678 L289.6,1678.2 L286.5,1678.4 L283.5,1678.6 L280.4,1678.9 L277.4,1679.1 L274.3,1679.3 L271.3,1679.5 L268.2,1679.7 L265.2,1679.9 L262.2,1680.1 L259.1,1680.3 L256.1,1680.4 L253,1680.6 L250,1680.7 L246.9,1680.8 L243.9,1680.8 L240.8,1680.9 L237.8,1680.9 L234.7,1680.9 L231.7,1680.9 L228.6,1680.8 L225.6,1680.8 L222.6,1680.7 L219.5,1680.7 L216.5,1680.6 L213.4,1680.5 L210.4,1680.4 L207.3,1680.3 L204.3,1680.2 L201.2,1680 L198.2,1679.9 L195.1,1679.7 L192.1,1679.5 L189,1679.3 L186,1679 L183,1678.7 L179.9,1678.4 L176.9,1678.1 L173.8,1677.8 L170.8,1677.5 L167.7,1677.1 L164.7,1676.8 L161.6,1676.4 L158.6,1676 L155.5,1676.6 L152.4,1677.1 L149.3,1677.6 L146.2,1678.2 L143.2,1678.7 L140.1,1679.3 L137,1679.8 L133.9,1680.4 L130.8,1681 L127.7,1681.6 L124.7,1682.2 L121.6,1682.8 L118.5,1683.4 L115.4,1684.1 L112.3,1684.7 L109.2,1685.4 L106.1,1686 L103.1,1686.7 L100,1687.4 L96.9,1688 L93.8,1688.7 L90.7,1689.4 L87.6,1690.1 L84.6,1690.9 L81.5,1691.6Z" fill="#d2d2d2"/>
<path d="M81.5,1663.6 L500,1656.8" fill="none" stroke="#70787d" stroke-width="1.45"/>
<path d="M81.5,1602.3 L84.5,1603.5 L87.5,1604.7 L90.5,1605.9 L93.5,1607 L96.5,1608.1 L99.5,1609.2 L102.5,1610.2 L105.6,1611.3 L108.6,1612.2 L111.6,1613.2 L114.6,1614.1 L117.6,1615 L120.6,1615.9 L123.6,1616.8 L126.6,1617.6 L129.6,1618.3 L132.7,1618.9 L135.7,1619.5 L138.7,1620.1 L141.7,1620.6 L144.7,1621.1 L147.7,1621.6 L150.7,1622.1 L153.7,1622.5 L156.7,1622.8 L159.8,1623.1 L162.8,1623.2 L165.8,1623.4 L168.8,1623.6 L171.8,1623.7 L174.8,1623.9 L177.8,1624 L180.8,1624.1 L183.8,1624.2 L186.9,1624.2 L189.9,1624.2 L192.9,1624.1 L195.9,1624 L198.9,1623.9 L201.9,1623.8 L204.9,1623.7 L207.9,1623.5 L210.9,1623.4 L214,1623.3 L217,1623.1 L220,1623 L223,1622.8 L226,1622.7 L229,1622.6 L232,1622.4 L235,1622.3 L238,1622.1 L241.1,1622 L244.1,1621.8 L247.1,1621.7 L250.1,1621.6 L253.1,1621.4 L256.1,1621.3 L259.1,1621.2 L262.1,1621.1 L265.1,1621 L268.2,1620.9 L271.2,1620.8 L274.2,1620.6 L277.2,1620.5 L280.2,1620.4 L283.2,1620.3 L286.2,1620.2 L289.2,1620.1 L292.2,1620 L295.3,1619.8 L298.3,1619.7 L301.3,1619.6 L304.3,1619.5 L307.3,1619.3 L310.3,1619.2 L313.3,1619 L316.3,1618.8 L319.3,1618.7 L322.4,1618.5 L325.4,1618.3 L328.4,1618 L331.4,1617.8 L334.4,1617.6 L337.4,1617.3 L340.4,1617.1 L343.4,1616.8 L346.4,1616.5 L349.5,1616.3 L352.5,1616 L355.5,1615.7 L358.5,1615.4 L361.5,1615.1 L364.5,1614.8 L367.5,1614.4 L370.5,1614.1 L373.5,1613.8 L376.6,1613.5 L379.6,1613.1 L382.6,1612.8 L385.6,1612.4 L388.6,1612 L391.6,1611.6 L394.6,1611.2 L397.6,1610.8 L400.6,1610.3 L403.7,1609.9 L406.7,1609.5 L409.7,1609 L412.7,1608.6 L415.7,1608.2 L418.7,1607.7 L421.7,1607.3 L424.7,1606.9 L427.7,1606.5 L430.8,1606.1 L433.8,1605.7 L436.8,1605.3 L439.8,1604.9 L442.8,1604.5 L445.8,1604.1 L448.8,1603.8 L451.8,1603.4 L454.8,1603 L457.9,1602.6 L460.9,1602.3 L463.9,1601.9 L466.9,1601.5 L469.9,1601.2 L472.9,1600.8 L475.9,1600.5 L478.9,1600.1 L481.9,1599.8 L485,1599.4 L488,1599.1 L491,1598.7 L494,1598.4 L497,1598 L500,1597.7 L500,1631 L496.9,1630.7 L493.8,1630.5 L490.8,1630.3 L487.7,1630.1 L484.6,1629.8 L481.5,1629.6 L478.4,1629.4 L475.3,1629.2 L472.2,1629 L469.1,1628.9 L466.1,1628.7 L463,1628.5 L459.9,1628.3 L456.8,1628.1 L453.7,1628 L450.6,1627.8 L447.5,1627.7 L444.4,1627.5 L441.4,1627.4 L438.3,1627.2 L435.2,1627.1 L432.1,1627 L429,1626.9 L425.9,1626.7 L422.8,1626.6 L419.7,1626.5 L416.7,1626.4 L413.6,1626.3 L410.5,1626.5 L407.5,1626.7 L404.5,1626.9 L401.5,1627.1 L398.5,1627.3 L395.5,1627.5 L392.4,1627.7 L389.4,1627.9 L386.4,1628.1 L383.4,1628.3 L380.4,1628.4 L377.3,1628.6 L374.3,1628.7 L371.3,1628.9 L368.3,1629 L365.3,1629.1 L362.2,1629.3 L359.2,1629.4 L356.2,1629.5 L353.2,1629.7 L350.2,1629.8 L347.1,1629.9 L344.1,1630.1 L341.1,1630.2 L338.1,1630.3 L335.1,1630.4 L332.1,1630.5 L329,1630.6 L326,1630.7 L323,1630.8 L320,1630.8 L317,1630.9 L313.9,1630.9 L310.9,1631 L307.9,1631 L304.9,1631 L301.9,1631 L298.8,1631 L295.8,1631 L292.8,1631 L289.8,1631 L286.8,1631 L283.7,1631 L280.7,1631 L277.7,1631 L274.7,1631 L271.7,1631 L268.7,1631 L265.6,1631 L262.6,1630.9 L259.6,1630.9 L256.6,1630.9 L253.6,1630.8 L250.5,1630.8 L247.5,1630.7 L244.5,1630.6 L241.5,1630.6 L238.5,1630.5 L235.4,1630.5 L232.4,1630.4 L229.4,1630.4 L226.4,1630.3 L223.4,1630.3 L220.3,1630.4 L217.3,1630.5 L214.3,1630.6 L211.3,1630.8 L208.3,1631 L205.3,1631.2 L202.2,1631.4 L199.2,1631.6 L196.2,1631.8 L193.2,1631.9 L190.2,1631.9 L187.1,1631.9 L184.1,1631.9 L181.1,1631.8 L178.1,1631.7 L175.1,1631.6 L172,1631.5 L169,1631.3 L166,1631.2 L163,1631 L160,1630.9 L156.9,1630.6 L153.9,1630.4 L150.9,1630.1 L147.9,1629.7 L144.9,1629.4 L141.9,1629 L138.8,1628.6 L135.8,1628.1 L132.8,1627.7 L129.8,1627.2 L126.8,1626.7 L123.7,1626.1 L120.7,1625.4 L117.7,1624.8 L114.7,1624.2 L111.7,1623.7 L108.6,1623.1 L105.6,1622.7 L102.6,1622.2 L99.6,1621.8 L96.6,1621.3 L93.5,1620.9 L90.5,1620.5 L87.5,1620.1 L84.5,1619.8 L81.5,1619.4Z" fill="rgb(243,145,127)" fill-opacity="0.87"/>
<path d="M81.5,1610.1 L84.5,1610.9 L87.5,1611.6 L90.5,1612.3 L93.5,1613 L96.5,1613.7 L99.5,1614.4 L102.5,1615 L105.6,1615.7 L108.6,1616.3 L111.6,1616.9 L114.6,1617.5 L117.6,1618.1 L120.6,1618.7 L123.6,1619.3 L126.6,1619.9 L129.6,1620.4 L132.7,1620.9 L135.7,1621.3 L138.7,1621.7 L141.7,1622.1 L144.7,1622.5 L147.7,1622.8 L150.7,1623.2 L153.7,1623.5 L156.7,1623.8 L159.8,1624 L162.8,1624.2 L165.8,1624.4 L168.8,1624.5 L171.8,1624.7 L174.8,1624.9 L177.8,1625 L180.8,1625.2 L183.8,1625.3 L186.9,1625.3 L189.9,1625.4 L192.9,1625.4 L195.9,1625.3 L198.9,1625.3 L201.9,1625.2 L204.9,1625.2 L207.9,1625.1 L210.9,1625.1 L214,1625 L217,1624.9 L220,1624.9 L223,1624.8 L226,1624.7 L229,1624.6 L232,1624.6 L235,1624.5 L238,1624.4 L241.1,1624.3 L244.1,1624.2 L247.1,1624.2 L250.1,1624.1 L253.1,1624 L256.1,1623.9 L259.1,1623.8 L262.1,1623.7 L265.1,1623.6 L268.2,1623.5 L271.2,1623.4 L274.2,1623.3 L277.2,1623.2 L280.2,1623.1 L283.2,1623 L286.2,1622.9 L289.2,1622.9 L292.2,1622.8 L295.3,1622.7 L298.3,1622.6 L301.3,1622.5 L304.3,1622.4 L307.3,1622.3 L310.3,1622.3 L313.3,1622.2 L316.3,1622.1 L319.3,1622.1 L322.4,1622 L325.4,1621.9 L328.4,1621.9 L331.4,1621.8 L334.4,1621.7 L337.4,1621.7 L340.4,1621.6 L343.4,1621.6 L346.4,1621.5 L349.5,1621.5 L352.5,1621.4 L355.5,1621.3 L358.5,1621.3 L361.5,1621.2 L364.5,1621.2 L367.5,1621.1 L370.5,1621.1 L373.5,1621 L376.6,1620.9 L379.6,1620.9 L382.6,1620.8 L385.6,1620.7 L388.6,1620.7 L391.6,1620.6 L394.6,1620.6 L397.6,1620.5 L400.6,1620.4 L403.7,1620.4 L406.7,1620.3 L409.7,1620.2 L412.7,1620.2 L415.7,1620.1 L418.7,1620.1 L421.7,1620 L424.7,1619.9 L427.7,1619.9 L430.8,1619.8 L433.8,1619.8 L436.8,1619.7 L439.8,1619.7 L442.8,1619.6 L445.8,1619.6 L448.8,1619.5 L451.8,1619.5 L454.8,1619.4 L457.9,1619.4 L460.9,1619.3 L463.9,1619.3 L466.9,1619.3 L469.9,1619.2 L472.9,1619.2 L475.9,1619.1 L478.9,1619.1 L481.9,1619 L485,1619 L488,1619 L491,1618.9 L494,1618.9 L497,1618.9 L500,1618.8" fill="none" stroke="#ec5535" stroke-width="1.6"/>
</g>
<path d="M81.5,1654.9 h4.5 M81.5,1612 h4.5 M81.5,1569.1 h4.5 M81.5,1526.2 h4.5 M81.5,1483.3 h4.5 M81.5,1440.3 h4.5 M81.5,1397.4 h4.5 M133.8,1697.8 v-4.5 M186.1,1697.8 v-4.5 M238.4,1697.8 v-4.5 M290.7,1697.8 v-4.5 M343.1,1697.8 v-4.5 M395.4,1697.8 v-4.5 M447.7,1697.8 v-4.5 M500,1697.8 v-4.5 " stroke="#383838" stroke-width="1.0" fill="none"/>
<g font-size="21.9" fill="#1e1e1e">
<text x="73.4" y="1703.5" text-anchor="end">0</text>
<text x="75.9" y="1660.6" text-anchor="end">100</text>
<text x="75.9" y="1617.7" text-anchor="end">200</text>
<text x="75.9" y="1574.8" text-anchor="end">300</text>
<text x="75.9" y="1531.9" text-anchor="end">400</text>
<text x="75.9" y="1489" text-anchor="end">500</text>
<text x="75.9" y="1446" text-anchor="end">600</text>
<text x="75.9" y="1403.1" text-anchor="end">700</text>
<text x="83.8" y="1719.6" text-anchor="middle">0</text>
<text x="140.2" y="1719.6" text-anchor="middle">0.5</text>
<text x="188.4" y="1719.6" text-anchor="middle">1</text>
<text x="244.8" y="1719.6" text-anchor="middle">1.5</text>
<text x="293" y="1719.6" text-anchor="middle">2</text>
<text x="349.5" y="1719.6" text-anchor="middle">2.5</text>
<text x="397.7" y="1719.6" text-anchor="middle">3</text>
<text x="454.1" y="1719.6" text-anchor="middle">3.5</text>
<text x="502.3" y="1719.6" text-anchor="middle">4</text>
</g>
<text x="297.3" y="1368.7" font-size="27.7" text-anchor="middle">GMP <tspan dx="-8.5" dy="-2" textLength="44.5" lengthAdjust="spacingAndGlyphs">→</tspan><tspan dx="-8.5" dy="2"> Guanosine</tspan></text>
<text x="305.2" y="1743.5" font-size="27.7" text-anchor="middle">time post RT (h)</text>
<text transform="translate(28,1536.9) rotate(-90)" font-size="27" text-anchor="middle">Flux (pmol/mg/h)</text>
<text x="3.1" y="1360.4" font-size="31.5" font-weight="bold" fill="#1a1a1a">k</text>
</g>
<g>
<path d="M612.6,1376 V1697.8 H1031.1" fill="none" stroke="#686868" stroke-width="1.5"/>
<clipPath id="clip-l"><rect x="611.6" y="1375" width="421.5" height="323.8"/></clipPath>
<g clip-path="url(#clip-l)">
<path d="M612.6,1594.3 L615.6,1594.6 L618.7,1595 L621.8,1595.3 L624.9,1595.6 L627.9,1595.8 L631,1596 L634.1,1596.1 L637.1,1596.1 L640.2,1596.1 L643.3,1596.1 L646.3,1596.1 L649.4,1596.1 L652.5,1596 L655.5,1595.9 L658.6,1595.8 L661.6,1595.3 L664.7,1594.7 L667.7,1594.1 L670.8,1593.6 L673.8,1593.1 L676.9,1592.6 L679.9,1592 L683,1591.6 L686,1591.1 L689.1,1590.6 L692.1,1590.2 L695.2,1589.7 L698.2,1589.3 L701.3,1588.8 L704.3,1588.4 L707.4,1588 L710.4,1587.6 L713.5,1587.2 L716.5,1586.9 L719.6,1586.6 L722.6,1586.3 L725.7,1586.1 L728.7,1585.9 L731.8,1585.7 L734.8,1585.4 L737.9,1585.2 L740.9,1585.1 L744,1584.9 L747,1584.7 L750.1,1584.6 L753.1,1584.5 L756.1,1584.4 L759.2,1584.3 L762.2,1584.3 L765.3,1584.3 L768.3,1584.3 L771.4,1584.3 L774.4,1584.4 L777.5,1584.4 L780.5,1584.5 L783.6,1584.6 L786.6,1584.7 L789.7,1584.8 L792.7,1585 L795.8,1585.1 L798.8,1585.3 L801.9,1585.5 L804.9,1585.8 L808,1586 L811,1586.3 L814.1,1586.6 L817.1,1586.8 L820.2,1587.1 L823.2,1587.4 L826.3,1587.7 L829.3,1588 L832.4,1588.3 L835.4,1588.6 L838.5,1588.9 L841.5,1589.3 L844.6,1589.6 L847.6,1588.9 L850.6,1588.3 L853.6,1587.7 L856.6,1587 L859.6,1586.4 L862.6,1585.8 L865.6,1585.2 L868.6,1584.6 L871.6,1584 L874.6,1583.4 L877.6,1582.8 L880.6,1582.2 L883.6,1581.5 L886.6,1580.9 L889.6,1580.4 L892.6,1579.9 L895.6,1579.4 L898.6,1579 L901.6,1578.7 L904.6,1578.4 L907.6,1578.2 L910.6,1578.1 L913.6,1578 L916.6,1577.9 L919.6,1577.9 L922.6,1577.9 L925.6,1578 L928.6,1578.1 L931.6,1578.2 L934.6,1578.4 L937.6,1578.7 L940.7,1579.1 L943.7,1579.5 L946.7,1579.9 L949.7,1580.3 L952.7,1580.8 L955.7,1581.3 L958.7,1581.8 L961.7,1580.3 L964.7,1578.3 L967.7,1576 L970.7,1573.4 L973.8,1570.6 L976.8,1567.7 L979.8,1564.7 L982.8,1561.4 L985.8,1557.8 L988.9,1554 L991.9,1549.9 L994.9,1545.7 L997.9,1541.5 L1000.9,1537.3 L1004,1532.9 L1007,1528.4 L1010,1523.8 L1013,1519.2 L1016,1514.6 L1019,1510.1 L1022.1,1505.6 L1025.1,1501.2 L1028.1,1496.9 L1031.1,1492.6 L1031.1,1697.2 L1028.1,1693.7 L1025.1,1690.3 L1022.1,1686.9 L1019.1,1683.7 L1016.1,1680.5 L1013.1,1677.5 L1010.1,1674.6 L1007.1,1671.8 L1004.1,1669.1 L1001.1,1666.5 L998.1,1664 L995.1,1661.5 L992,1659 L989,1656.5 L986,1654 L983,1651.5 L980,1649.1 L977,1646.6 L974,1644.2 L971,1641.7 L968,1639.3 L965,1640 L961.9,1640.6 L958.9,1641.2 L955.9,1641.8 L952.9,1642.3 L949.8,1642.8 L946.8,1643.2 L943.8,1643.5 L940.7,1643.8 L937.7,1644 L934.7,1644.3 L931.7,1644.5 L928.6,1644.7 L925.6,1644.8 L922.6,1644.9 L919.5,1645 L916.5,1644.9 L913.5,1644.9 L910.4,1644.7 L907.4,1644.5 L904.4,1644.3 L901.4,1644 L898.3,1643.6 L895.3,1643.2 L892.3,1642.8 L889.2,1642.4 L886.2,1641.9 L883.2,1641.4 L880.2,1640.9 L877.1,1640.2 L874.1,1639.5 L871.1,1638.8 L868,1638 L865,1637.3 L862,1636.5 L859,1635.7 L855.9,1635 L852.9,1634.3 L849.9,1633.6 L846.8,1633 L843.8,1632.3 L840.8,1631.6 L837.7,1630.9 L834.7,1630.3 L831.7,1629.6 L828.7,1629 L825.6,1628.3 L822.6,1627.7 L819.6,1627 L816.5,1626.4 L813.5,1625.8 L810.5,1625.2 L807.5,1624.6 L804.4,1624 L801.4,1623.4 L798.4,1622.8 L795.3,1622.2 L792.3,1621.6 L789.3,1621.6 L786.3,1621.6 L783.3,1621.6 L780.2,1621.5 L777.2,1621.5 L774.2,1621.5 L771.2,1621.4 L768.2,1621.3 L765.1,1621.3 L762.1,1621.2 L759.1,1621.1 L756.1,1621 L753.1,1620.9 L750.1,1620.8 L747,1620.7 L744,1620.6 L741,1620.5 L738,1620.4 L735,1620.3 L731.9,1620.1 L728.9,1620 L725.9,1619.9 L722.9,1619.7 L719.9,1619.5 L716.9,1619.2 L713.8,1619 L710.8,1618.7 L707.8,1618.4 L704.8,1618.1 L701.8,1617.7 L698.8,1617.4 L695.7,1617.1 L692.7,1616.7 L689.7,1616.3 L686.6,1616.6 L683.5,1617 L680.4,1617.3 L677.4,1617.6 L674.3,1617.9 L671.2,1618.2 L668.1,1618.5 L665,1618.8 L661.9,1619.1 L658.8,1619.4 L655.8,1619.7 L652.7,1620 L649.6,1620.4 L646.5,1620.7 L643.4,1621 L640.3,1621.3 L637.3,1621.6 L634.2,1621.9 L631.1,1622.2 L628,1622.5 L624.9,1622.9 L621.8,1623.2 L618.7,1623.5 L615.7,1623.8 L612.6,1624.1Z" fill="#d2d2d2"/>
<path d="M612.6,1606.4 L1031.1,1612.6" fill="none" stroke="#70787d" stroke-width="1.45"/>
<path d="M612.6,1387.8 L630.6,1389 L633.7,1388.4 L636.8,1387.9 L639.8,1387.3 L642.9,1386.8 L646,1386.3 L649,1385.8 L652.1,1385.3 L655.2,1384.9 L658.3,1384.5 L661.3,1384.1 L664.4,1383.7 L667.5,1383.3 L670.5,1382.9 L673.6,1382.5 L676.7,1382.2 L679.8,1381.9 L682.8,1381.6 L685.9,1381.4 L689,1381.1 L692,1380.8 L695.1,1380.6 L698.2,1380.4 L701.3,1380.2 L704.3,1380.1 L707.4,1380 L710.5,1380 L713.5,1380.1 L716.6,1380.2 L719.7,1380.4 L722.8,1380.6 L725.8,1380.8 L728.9,1381 L732,1381.2 L735,1381.4 L738.1,1381.6 L741.2,1381.8 L744.3,1382.1 L747.3,1382.3 L750.4,1382.6 L753.5,1382.8 L756.6,1383.1 L759.6,1382.9 L762.6,1382.7 L765.7,1382.4 L768.7,1382.2 L771.7,1382 L774.8,1381.8 L777.8,1381.5 L780.8,1381.3 L783.9,1381.1 L786.9,1381 L789.9,1380.8 L793,1380.6 L796,1380.4 L799,1380.3 L802.1,1380.1 L805.1,1379.9 L808.2,1379.8 L811.2,1379.6 L814.2,1379.5 L817.3,1379.3 L820.3,1379.2 L823.3,1379.1 L826.4,1379.1 L829.4,1379 L832.4,1379 L835.5,1379 L838.5,1379 L841.5,1379.1 L844.6,1379.1 L847.6,1379.2 L850.7,1379.2 L853.7,1379.3 L856.7,1379.4 L859.8,1379.5 L862.8,1379.7 L865.8,1379.8 L868.9,1380 L871.9,1380.1 L874.9,1380.3 L878,1380.5 L881,1380.7 L884,1381 L887.1,1381.2 L890.1,1381.4 L893.1,1381.6 L896.2,1381.8 L899.2,1382.1 L902.3,1382.3 L905.3,1382.5 L908.3,1382.7 L911.4,1382.9 L914.4,1383.1 L917.4,1383.3 L920.5,1383.5 L923.5,1383.7 L926.5,1383.9 L929.6,1384.1 L932.6,1384.3 L935.6,1384.5 L938.7,1384.7 L941.7,1384.9 L944.8,1385.1 L947.8,1385.3 L950.9,1385 L954,1384.8 L957,1384.5 L960.1,1384.2 L963.2,1383.9 L966.3,1383.6 L969.4,1383.2 L972.5,1382.9 L975.6,1382.6 L978.7,1382.2 L981.7,1381.9 L984.8,1381.5 L987.9,1381.1 L991,1380.6 L994.1,1380.2 L997.2,1379.8 L1000.3,1379.4 L1003.3,1378.9 L1006.4,1378.5 L1009.5,1378.1 L1012.6,1377.7 L1015.7,1377.3 L1018.8,1376.9 L1021.9,1376.5 L1025,1376.1 L1028,1375.7 L1031.1,1375.3 L1031.1,1406.1 L1028.1,1405.8 L1025.1,1405.6 L1022.1,1405.3 L1019.1,1405 L1016.1,1404.7 L1013.1,1404.5 L1010,1404.2 L1007,1404 L1004,1403.7 L1001,1403.5 L998,1403.2 L995,1403 L992,1402.8 L989,1402.5 L986,1402.3 L982.9,1402.1 L979.9,1401.9 L976.9,1401.7 L973.9,1401.5 L970.9,1401.3 L967.9,1401.1 L964.9,1400.9 L961.9,1400.8 L958.9,1400.6 L955.8,1400.5 L952.8,1400.3 L949.8,1400.2 L946.8,1400.1 L943.8,1399.9 L940.8,1399.8 L937.8,1399.7 L934.8,1399.6 L931.8,1399.5 L928.7,1399.3 L925.7,1399.2 L922.7,1399.1 L919.7,1399 L916.7,1398.9 L913.7,1398.8 L910.7,1398.7 L907.7,1398.6 L904.7,1398.5 L901.6,1398.4 L898.6,1398.3 L895.6,1398.2 L892.6,1398.1 L889.6,1398 L886.6,1397.9 L883.6,1397.8 L880.6,1397.7 L877.6,1397.6 L874.5,1397.5 L871.5,1397.4 L868.5,1397.3 L865.5,1397.2 L862.5,1397.1 L859.5,1397 L856.5,1396.9 L853.5,1396.8 L850.5,1396.8 L847.4,1396.7 L844.4,1396.6 L841.4,1396.5 L838.4,1396.5 L835.4,1396.4 L832.4,1396.4 L829.4,1396.3 L826.4,1396.3 L823.4,1396.2 L820.3,1396.2 L817.3,1396.1 L814.3,1396.1 L811.3,1396 L808.3,1396 L805.3,1395.9 L802.3,1395.9 L799.3,1395.8 L796.3,1395.8 L793.2,1395.8 L790.2,1395.7 L787.2,1395.7 L784.2,1395.7 L781.2,1395.6 L778.2,1395.6 L775.2,1395.5 L772.2,1395.5 L769.2,1395.5 L766.1,1395.4 L763.1,1395.4 L760.1,1395.4 L757.1,1395.3 L754.1,1395.3 L751.1,1395.2 L748.1,1395.2 L745.1,1395.2 L742.1,1395.1 L739,1395.1 L736,1395.1 L733,1395 L730,1395 L727,1395 L724,1394.9 L721,1394.9 L718,1394.9 L715,1394.8 L711.9,1394.8 L708.9,1394.8 L705.9,1394.8 L702.9,1394.7 L699.9,1394.7 L696.9,1394.7 L693.9,1394.7 L690.9,1394.7 L687.9,1394.6 L684.8,1394.6 L681.8,1394.6 L678.8,1394.6 L675.8,1394.6 L672.8,1394.6 L669.8,1394.6 L666.8,1394.7 L663.8,1394.7 L660.8,1394.7 L657.7,1394.8 L654.7,1394.8 L651.7,1394.8 L648.7,1394.9 L645.7,1394.9 L642.7,1395 L639.7,1395 L636.7,1395.1 L633.7,1395.1 L630.6,1395.2 L627.6,1395.3 L624.6,1395.3 L621.6,1395.4 L618.6,1395.4 L615.6,1395.5 L612.6,1395.6Z" fill="rgb(243,145,127)" fill-opacity="0.87"/>
<path d="M612.6,1393.7 L615.6,1393.6 L618.6,1393.5 L621.6,1393.4 L624.6,1393.3 L627.6,1393.2 L630.6,1393.1 L633.7,1393 L636.7,1393 L639.7,1392.9 L642.7,1392.8 L645.7,1392.7 L648.7,1392.6 L651.7,1392.5 L654.7,1392.5 L657.7,1392.4 L660.8,1392.3 L663.8,1392.3 L666.8,1392.2 L669.8,1392.2 L672.8,1392.2 L675.8,1392.2 L678.8,1392.1 L681.8,1392.1 L684.8,1392.1 L687.9,1392.2 L690.9,1392.2 L693.9,1392.2 L696.9,1392.2 L699.9,1392.2 L702.9,1392.2 L705.9,1392.2 L708.9,1392.2 L711.9,1392.3 L715,1392.3 L718,1392.3 L721,1392.3 L724,1392.3 L727,1392.4 L730,1392.4 L733,1392.4 L736,1392.4 L739,1392.4 L742.1,1392.5 L745.1,1392.5 L748.1,1392.5 L751.1,1392.5 L754.1,1392.6 L757.1,1392.6 L760.1,1392.6 L763.1,1392.6 L766.1,1392.7 L769.2,1392.7 L772.2,1392.7 L775.2,1392.7 L778.2,1392.8 L781.2,1392.8 L784.2,1392.8 L787.2,1392.9 L790.2,1392.9 L793.2,1392.9 L796.3,1392.9 L799.3,1393 L802.3,1393 L805.3,1393 L808.3,1393.1 L811.3,1393.1 L814.3,1393.1 L817.3,1393.1 L820.3,1393.2 L823.4,1393.2 L826.4,1393.2 L829.4,1393.3 L832.4,1393.3 L835.4,1393.3 L838.4,1393.4 L841.4,1393.4 L844.4,1393.5 L847.4,1393.5 L850.5,1393.5 L853.5,1393.6 L856.5,1393.6 L859.5,1393.7 L862.5,1393.7 L865.5,1393.8 L868.5,1393.8 L871.5,1393.9 L874.5,1393.9 L877.6,1393.9 L880.6,1394 L883.6,1394 L886.6,1394.1 L889.6,1394.1 L892.6,1394.2 L895.6,1394.2 L898.6,1394.3 L901.6,1394.3 L904.7,1394.4 L907.7,1394.4 L910.7,1394.5 L913.7,1394.5 L916.7,1394.5 L919.7,1394.6 L922.7,1394.6 L925.7,1394.7 L928.7,1394.7 L931.8,1394.8 L934.8,1394.8 L937.8,1394.9 L940.8,1394.9 L943.8,1394.9 L946.8,1395 L949.8,1395 L952.8,1395.1 L955.8,1395.1 L958.9,1395.2 L961.9,1395.2 L964.9,1395.3 L967.9,1395.3 L970.9,1395.4 L973.9,1395.4 L976.9,1395.5 L979.9,1395.5 L982.9,1395.6 L986,1395.6 L989,1395.7 L992,1395.7 L995,1395.8 L998,1395.9 L1001,1395.9 L1004,1396 L1007,1396 L1010,1396.1 L1013.1,1396.1 L1016.1,1396.2 L1019.1,1396.3 L1022.1,1396.3 L1025.1,1396.4 L1028.1,1396.4 L1031.1,1396.5" fill="none" stroke="#ec5535" stroke-width="1.6"/>
</g>
<path d="M612.6,1656.5 h4.5 M612.6,1615.4 h4.5 M612.6,1574.4 h4.5 M612.6,1533 h4.5 M612.6,1492 h4.5 M612.6,1450.6 h4.5 M612.6,1409.6 h4.5 M664.9,1697.8 v-4.5 M717.2,1697.8 v-4.5 M769.5,1697.8 v-4.5 M821.9,1697.8 v-4.5 M874.2,1697.8 v-4.5 M926.5,1697.8 v-4.5 M978.8,1697.8 v-4.5 M1031.1,1697.8 v-4.5 " stroke="#686868" stroke-width="1.3" fill="none"/>
<g font-size="21.9" fill="#1e1e1e">
<text x="608.3" y="1703.5" text-anchor="end">0</text>
<text x="610.4" y="1662.2" text-anchor="end">100</text>
<text x="610.4" y="1621.1" text-anchor="end">200</text>
<text x="610.4" y="1580.1" text-anchor="end">300</text>
<text x="610.4" y="1538.7" text-anchor="end">400</text>
<text x="610.4" y="1497.7" text-anchor="end">500</text>
<text x="610.4" y="1456.3" text-anchor="end">600</text>
<text x="610.4" y="1415.3" text-anchor="end">700</text>
<text x="614.4" y="1715.5" text-anchor="middle">0</text>
<text x="670.8" y="1715.5" text-anchor="middle">0.5</text>
<text x="719" y="1715.5" text-anchor="middle">1</text>
<text x="775.4" y="1715.5" text-anchor="middle">1.5</text>
<text x="823.7" y="1715.5" text-anchor="middle">2</text>
<text x="880.1" y="1715.5" text-anchor="middle">2.5</text>
<text x="928.3" y="1715.5" text-anchor="middle">3</text>
<text x="984.7" y="1715.5" text-anchor="middle">3.5</text>
<text x="1032.9" y="1715.5" text-anchor="middle">4</text>
</g>
<text x="816.6" y="1368.7" font-size="27.7" text-anchor="middle">Guanosine <tspan dx="-8.5" dy="-2" textLength="44.5" lengthAdjust="spacingAndGlyphs">→</tspan><tspan dx="-8.5" dy="2"> R1P + Guanine</tspan></text>
<text x="827.8" y="1743.5" font-size="27.7" text-anchor="middle">time post RT (h)</text>
<text transform="translate(561.3,1536.9) rotate(-90)" font-size="27" text-anchor="middle">Flux (pmol/mg/h)</text>
<text x="545.1" y="1360.4" font-size="31.5" font-weight="bold" fill="#1a1a1a">l</text>
</g>
<g>
<path d="M1144.3,1376 V1697.8 H1562.9" fill="none" stroke="#686868" stroke-width="1.5"/>
<clipPath id="clip-m"><rect x="1143.3" y="1375" width="421.5" height="323.8"/></clipPath>
<g clip-path="url(#clip-m)">
<path d="M1144.3,1475.5 L1147.4,1478.8 L1150.5,1482.2 L1153.6,1485.5 L1156.7,1488.7 L1159.7,1492 L1162.8,1495.2 L1165.9,1498.4 L1169,1501.5 L1172.1,1504.6 L1175.2,1507.7 L1178.3,1510.7 L1181.4,1513.8 L1184.4,1516.9 L1187.5,1519.9 L1190.6,1523 L1193.7,1526.1 L1196.8,1529.2 L1199.9,1532.3 L1203,1535.4 L1206.1,1538.5 L1209.1,1541.5 L1212.2,1544.6 L1215.3,1547.6 L1218.4,1550.6 L1221.5,1553.6 L1224.6,1556.6 L1227.7,1559.6 L1230.8,1562.5 L1233.8,1561.1 L1236.8,1559.6 L1239.8,1558.2 L1242.8,1556.8 L1245.8,1555.5 L1248.8,1554.2 L1251.8,1553 L1254.8,1551.9 L1257.9,1550.8 L1260.9,1549.8 L1263.9,1548.8 L1266.9,1547.8 L1269.9,1546.9 L1272.9,1546 L1275.9,1545.1 L1278.9,1544.3 L1282,1543.6 L1285,1543 L1288,1542.5 L1291,1542.1 L1294,1541.8 L1297,1541.4 L1300,1541.1 L1303,1540.9 L1306,1540.6 L1309.1,1540.5 L1312.1,1540.3 L1315.1,1540.2 L1318.1,1540.2 L1321.1,1540.2 L1324.1,1540.2 L1327.1,1540.4 L1330.1,1540.6 L1333.2,1540.8 L1336.2,1541.1 L1339.2,1541.5 L1342.2,1541.9 L1345.2,1542.3 L1348.2,1542.7 L1351.2,1543.2 L1354.2,1543.8 L1357.2,1544.6 L1360.3,1545.6 L1363.3,1546.6 L1366.3,1547.7 L1369.3,1548.9 L1372.3,1550.1 L1375.3,1551.3 L1378.3,1552.4 L1381.3,1553.6 L1384.4,1554.9 L1387.4,1556.1 L1390.4,1557.5 L1393.4,1558.8 L1396.4,1556.6 L1399.4,1554.4 L1402.4,1552.2 L1405.5,1550.2 L1408.5,1548.3 L1411.5,1546.6 L1414.5,1545 L1417.6,1543.4 L1420.6,1541.9 L1423.6,1540.5 L1426.6,1539.1 L1429.6,1537.9 L1432.7,1536.9 L1435.7,1536 L1438.7,1535.3 L1441.7,1534.6 L1444.7,1534 L1447.8,1533.5 L1450.8,1533.2 L1453.8,1533 L1456.8,1533 L1459.8,1533.3 L1462.9,1533.8 L1465.9,1534.6 L1468.9,1535.5 L1471.9,1536.6 L1474.9,1537.7 L1478,1538.9 L1481,1540.1 L1484,1541.5 L1487,1543.1 L1490,1544.9 L1493.1,1546.7 L1496.1,1548.7 L1499.1,1550.7 L1502.1,1546.7 L1505.2,1541.6 L1508.2,1535.7 L1511.3,1529.3 L1514.3,1522.5 L1517.3,1514.9 L1520.4,1506.5 L1523.4,1497.6 L1526.4,1488.4 L1529.5,1479.2 L1532.5,1469.7 L1535.5,1459.9 L1538.6,1450 L1541.6,1440.1 L1544.6,1430.6 L1547.7,1421.2 L1550.7,1412 L1553.7,1402.8 L1556.8,1393.8 L1559.8,1384.8 L1562.9,1376 L1562.9,1697.2 L1559.8,1694.6 L1556.8,1691.9 L1553.8,1689.3 L1550.7,1686.7 L1547.7,1684.2 L1544.7,1681.6 L1541.7,1678.9 L1538.6,1676.2 L1535.6,1673.6 L1532.6,1671.1 L1529.6,1668.9 L1526.5,1666.9 L1523.5,1665 L1520.5,1663.2 L1517.4,1661.5 L1514.4,1659.8 L1511.4,1658.4 L1508.4,1657 L1505.3,1655.8 L1502.3,1656.5 L1499.2,1657.1 L1496.2,1657.7 L1493.1,1658.3 L1490.1,1658.9 L1487.1,1659.4 L1484,1659.9 L1481,1660.3 L1477.9,1660.7 L1474.9,1661 L1471.8,1661.2 L1468.8,1661.3 L1465.7,1661.4 L1462.7,1661.5 L1459.6,1661.5 L1456.6,1661.6 L1453.5,1661.5 L1450.5,1661.4 L1447.5,1661.3 L1444.4,1661.1 L1441.4,1660.8 L1438.3,1660.5 L1435.3,1660.2 L1432.2,1659.8 L1429.2,1659.3 L1426.1,1658.9 L1423.1,1658.4 L1420,1657.9 L1417,1657.3 L1413.9,1656.8 L1410.9,1656.3 L1407.9,1655.7 L1404.8,1655 L1401.8,1654.3 L1398.7,1653.6 L1395.7,1652.9 L1392.6,1652.3 L1389.6,1651.6 L1386.5,1651 L1383.5,1650.4 L1380.4,1649.9 L1377.4,1649.4 L1374.3,1648.9 L1371.3,1648.4 L1368.3,1648 L1365.2,1647.5 L1362.2,1647.2 L1359.1,1646.8 L1356.1,1646.5 L1353,1646.7 L1350,1647 L1347,1647.2 L1344,1647.4 L1341,1647.6 L1337.9,1647.8 L1334.9,1647.9 L1331.9,1648 L1328.9,1648 L1325.9,1648.1 L1322.8,1648 L1319.8,1648 L1316.8,1648 L1313.8,1648 L1310.8,1647.9 L1307.7,1647.9 L1304.7,1647.8 L1301.7,1647.7 L1298.7,1647.7 L1295.7,1647.6 L1292.6,1647.5 L1289.6,1647.4 L1286.6,1647.4 L1283.6,1647.2 L1280.6,1647.1 L1277.5,1647 L1274.5,1646.8 L1271.5,1646.6 L1268.5,1646.4 L1265.4,1646.2 L1262.4,1646 L1259.4,1645.7 L1256.4,1645.5 L1253.4,1645.2 L1250.3,1644.9 L1247.3,1645.7 L1244.3,1646.4 L1241.3,1647.1 L1238.2,1647.9 L1235.2,1648.6 L1232.2,1649.4 L1229.1,1650.2 L1226.1,1651 L1223.1,1651.8 L1220.1,1652.7 L1217,1653.5 L1214,1654.4 L1211,1655.3 L1207.9,1656.2 L1204.9,1657.1 L1201.9,1658.1 L1198.8,1659.1 L1195.8,1660 L1192.8,1661 L1189.8,1662 L1186.7,1663 L1183.7,1664 L1180.7,1665.1 L1177.6,1666.1 L1174.6,1667.1 L1171.6,1668.2 L1168.5,1669.3 L1165.5,1670.3 L1162.5,1671.4 L1159.5,1672.5 L1156.4,1673.6 L1153.4,1674.8 L1150.4,1675.9 L1147.3,1677.1 L1144.3,1678.2Z" fill="#d2d2d2"/>
<path d="M1144.3,1630 L1147.3,1630 L1150.3,1629.9 L1153.3,1629.9 L1156.4,1629.8 L1159.4,1629.8 L1162.4,1629.7 L1165.4,1629.7 L1168.4,1629.6 L1171.4,1629.6 L1174.4,1629.5 L1177.4,1629.5 L1180.4,1629.4 L1183.5,1629.4 L1186.5,1629.3 L1189.5,1629.3 L1192.5,1629.2 L1195.5,1629.2 L1198.5,1629.2 L1201.5,1629.1 L1204.5,1629.1 L1207.5,1629 L1210.6,1629 L1213.6,1629 L1216.6,1628.9 L1219.6,1628.9 L1222.6,1628.9 L1225.6,1628.9 L1228.6,1628.8 L1231.6,1628.8 L1234.6,1628.8 L1237.7,1628.8 L1240.7,1628.8 L1243.7,1628.8 L1246.7,1628.8 L1249.7,1628.8 L1252.7,1628.8 L1255.7,1628.7 L1258.7,1628.7 L1261.7,1628.7 L1264.8,1628.7 L1267.8,1628.7 L1270.8,1628.7 L1273.8,1628.7 L1276.8,1628.7 L1279.8,1628.8 L1282.8,1628.8 L1285.8,1628.8 L1288.8,1628.8 L1291.9,1628.8 L1294.9,1628.8 L1297.9,1628.8 L1300.9,1628.8 L1303.9,1628.8 L1306.9,1628.8 L1309.9,1628.8 L1312.9,1628.8 L1315.9,1628.9 L1319,1628.9 L1322,1628.9 L1325,1628.9 L1328,1628.9 L1331,1628.9 L1334,1629 L1337,1629 L1340,1629 L1343,1629 L1346.1,1629 L1349.1,1629.1 L1352.1,1629.1 L1355.1,1629.1 L1358.1,1629.1 L1361.1,1629.1 L1364.1,1629.2 L1367.1,1629.2 L1370.1,1629.2 L1373.2,1629.3 L1376.2,1629.3 L1379.2,1629.3 L1382.2,1629.4 L1385.2,1629.4 L1388.2,1629.4 L1391.2,1629.5 L1394.2,1629.5 L1397.2,1629.6 L1400.3,1629.6 L1403.3,1629.7 L1406.3,1629.7 L1409.3,1629.8 L1412.3,1629.8 L1415.3,1629.9 L1418.3,1629.9 L1421.3,1630 L1424.3,1630 L1427.4,1630.1 L1430.4,1630.1 L1433.4,1630.2 L1436.4,1630.2 L1439.4,1630.3 L1442.4,1630.4 L1445.4,1630.4 L1448.4,1630.5 L1451.4,1630.5 L1454.5,1630.6 L1457.5,1630.6 L1460.5,1630.7 L1463.5,1630.8 L1466.5,1630.8 L1469.5,1630.9 L1472.5,1631 L1475.5,1631.1 L1478.5,1631.1 L1481.6,1631.2 L1484.6,1631.3 L1487.6,1631.4 L1490.6,1631.5 L1493.6,1631.6 L1496.6,1631.7 L1499.6,1631.8 L1502.6,1631.9 L1505.6,1632 L1508.7,1632.1 L1511.7,1632.2 L1514.7,1632.3 L1517.7,1632.4 L1520.7,1632.5 L1523.7,1632.6 L1526.7,1632.7 L1529.7,1632.8 L1532.7,1632.9 L1535.8,1633 L1538.8,1633.1 L1541.8,1633.3 L1544.8,1633.4 L1547.8,1633.5 L1550.8,1633.6 L1553.8,1633.7 L1556.8,1633.8 L1559.8,1633.9 L1562.9,1634.1" fill="none" stroke="#70787d" stroke-width="1.45"/>
<path d="M1144.3,1461.5 L1147.3,1461.9 L1150.3,1462.4 L1153.3,1462.8 L1156.3,1463.3 L1159.3,1463.7 L1162.3,1464.2 L1165.4,1464.7 L1168.4,1465.1 L1171.4,1465.6 L1174.4,1466.1 L1177.4,1466.6 L1180.4,1467.1 L1183.4,1465.2 L1186.4,1463.5 L1189.5,1461.7 L1192.5,1460.1 L1195.5,1458.6 L1198.6,1457.1 L1201.6,1455.6 L1204.6,1454.1 L1207.6,1452.7 L1210.7,1451.3 L1213.7,1450.2 L1216.7,1449.3 L1219.8,1448.6 L1222.8,1447.9 L1225.8,1447.2 L1228.9,1446.6 L1231.9,1446.1 L1234.9,1445.7 L1237.9,1445.5 L1241,1445.3 L1244,1445.3 L1247,1445.5 L1250.1,1445.7 L1253.1,1446.1 L1256.1,1446.6 L1259.2,1447.1 L1262.2,1447.7 L1265.2,1448.5 L1268.2,1449.4 L1271.3,1450.4 L1274.3,1451.5 L1277.3,1452.4 L1280.4,1453.2 L1283.4,1453.9 L1286.4,1454.6 L1289.5,1455.3 L1292.5,1455.9 L1295.5,1456.4 L1298.5,1456.8 L1301.6,1456.6 L1304.7,1456.3 L1307.8,1456.1 L1310.8,1455.8 L1313.9,1455.6 L1317,1455.4 L1320,1455.2 L1323.1,1455 L1326.2,1454.8 L1329.2,1454.6 L1332.3,1454.5 L1335.4,1454.4 L1338.4,1454.2 L1341.5,1454.1 L1344.6,1454 L1347.7,1453.9 L1350.7,1453.8 L1353.8,1453.8 L1356.9,1453.7 L1359.9,1453.7 L1363,1453.7 L1366.1,1453.7 L1369.1,1453.8 L1372.2,1453.8 L1375.3,1454 L1378.4,1454.1 L1381.4,1454.2 L1384.5,1454.4 L1387.6,1454.6 L1390.6,1454.8 L1393.7,1455 L1396.8,1455.2 L1399.8,1455.4 L1402.9,1455.6 L1406,1455.8 L1409.1,1456 L1412.1,1456.3 L1415.2,1456.6 L1418.3,1456.8 L1421.3,1455.9 L1424.3,1454.9 L1427.3,1453.9 L1430.3,1452.9 L1433.3,1451.8 L1436.3,1450.7 L1439.3,1449.6 L1442.4,1448.4 L1445.4,1447.2 L1448.4,1446 L1451.4,1444.8 L1454.4,1443.5 L1457.4,1442.2 L1460.4,1440.9 L1463.4,1439.5 L1466.5,1438.1 L1469.5,1436.7 L1472.5,1435.2 L1475.5,1433.6 L1478.5,1432.1 L1481.5,1430.4 L1484.5,1428.7 L1487.5,1426.9 L1490.6,1425.1 L1493.6,1423.3 L1496.6,1421.4 L1499.6,1419.5 L1502.6,1417.6 L1505.6,1415.6 L1508.6,1413.7 L1511.6,1411.8 L1514.7,1409.8 L1517.7,1407.9 L1520.7,1405.9 L1523.7,1403.8 L1526.7,1401.8 L1529.7,1399.7 L1532.7,1397.7 L1535.7,1395.6 L1538.8,1393.5 L1541.8,1391.4 L1544.8,1389.2 L1547.8,1387 L1550.8,1384.9 L1553.8,1382.7 L1556.8,1380.4 L1559.8,1378.2 L1562.9,1376 L1562.9,1508.1 L1559.8,1507.8 L1556.8,1507.5 L1553.8,1507.2 L1550.8,1507 L1547.8,1506.7 L1544.8,1506.4 L1541.8,1506.1 L1538.8,1505.8 L1535.8,1505.5 L1532.7,1505.2 L1529.7,1504.9 L1526.7,1504.5 L1523.7,1504.2 L1520.7,1503.9 L1517.7,1503.6 L1514.7,1503.3 L1511.7,1503 L1508.7,1502.7 L1505.6,1502.4 L1502.6,1502.1 L1499.6,1501.7 L1496.6,1501.4 L1493.6,1501.1 L1490.6,1500.8 L1487.6,1500.4 L1484.6,1500.1 L1481.6,1499.8 L1478.5,1499.5 L1475.5,1499.1 L1472.5,1498.8 L1469.5,1498.5 L1466.5,1498.2 L1463.5,1497.9 L1460.5,1497.6 L1457.5,1497.3 L1454.5,1497 L1451.4,1496.7 L1448.4,1496.4 L1445.4,1496.1 L1442.4,1495.9 L1439.4,1495.6 L1436.4,1495.3 L1433.4,1495.1 L1430.4,1494.8 L1427.4,1494.5 L1424.3,1494.3 L1421.3,1494 L1418.3,1493.8 L1415.3,1493.5 L1412.3,1493.3 L1409.3,1493 L1406.3,1492.7 L1403.3,1492.5 L1400.3,1492.2 L1397.2,1492 L1394.2,1491.8 L1391.2,1491.5 L1388.2,1491.3 L1385.2,1491 L1382.2,1490.8 L1379.2,1490.6 L1376.2,1490.3 L1373.2,1490.1 L1370.1,1489.9 L1367.1,1489.6 L1364.1,1489.4 L1361.1,1489.1 L1358.1,1488.9 L1355.1,1488.6 L1352.1,1488.3 L1349.1,1488 L1346.1,1487.8 L1343,1487.5 L1340,1487.2 L1337,1486.9 L1334,1486.5 L1331,1486.2 L1328,1485.9 L1325,1485.6 L1322,1485.3 L1319,1484.9 L1315.9,1484.6 L1312.9,1484.2 L1309.9,1483.9 L1306.9,1483.5 L1303.9,1483.1 L1300.9,1482.7 L1297.9,1482.3 L1294.9,1481.8 L1291.9,1481.3 L1288.8,1480.8 L1285.8,1480.3 L1282.8,1479.8 L1279.8,1479.3 L1276.8,1478.9 L1273.8,1478.6 L1270.8,1478.3 L1267.8,1478.2 L1264.8,1478.1 L1261.7,1478.1 L1258.7,1478.1 L1255.7,1478.2 L1252.7,1478.4 L1249.7,1478.5 L1246.7,1478.8 L1243.7,1479.3 L1240.7,1479.9 L1237.7,1480.8 L1234.6,1481.7 L1231.6,1482.7 L1228.6,1483.8 L1225.6,1485.1 L1222.6,1486.7 L1219.6,1488.4 L1216.6,1490.3 L1213.6,1492.2 L1210.6,1494.2 L1207.5,1496.2 L1204.5,1498.4 L1201.5,1500.6 L1198.5,1503 L1195.5,1505.4 L1192.5,1507.9 L1189.5,1510.4 L1186.5,1512.9 L1183.5,1515.4 L1180.4,1518 L1177.4,1520.6 L1174.4,1523.2 L1171.4,1525.8 L1168.4,1528.4 L1165.4,1531 L1162.4,1533.5 L1159.4,1536.1 L1156.4,1538.6 L1153.3,1541.1 L1150.3,1543.6 L1147.3,1546.1 L1144.3,1548.6Z" fill="rgb(243,145,127)" fill-opacity="0.87"/>
<path d="M1144.3,1500.4 L1147.3,1499.1 L1150.3,1497.9 L1153.3,1496.8 L1156.4,1495.6 L1159.4,1494.5 L1162.4,1493.4 L1165.4,1492.3 L1168.4,1491.3 L1171.4,1490.3 L1174.4,1489.3 L1177.4,1488.4 L1180.4,1487.5 L1183.5,1486.6 L1186.5,1485.7 L1189.5,1484.9 L1192.5,1484.1 L1195.5,1483.4 L1198.5,1482.6 L1201.5,1481.9 L1204.5,1481.2 L1207.5,1480.5 L1210.6,1479.8 L1213.6,1479.2 L1216.6,1478.7 L1219.6,1478.3 L1222.6,1477.9 L1225.6,1477.7 L1228.6,1477.4 L1231.6,1477.1 L1234.6,1476.9 L1237.7,1476.7 L1240.7,1476.5 L1243.7,1476.4 L1246.7,1476.4 L1249.7,1476.4 L1252.7,1476.5 L1255.7,1476.6 L1258.7,1476.7 L1261.7,1476.9 L1264.8,1477 L1267.8,1477.2 L1270.8,1477.4 L1273.8,1477.7 L1276.8,1477.9 L1279.8,1478.2 L1282.8,1478.6 L1285.8,1478.9 L1288.8,1479.3 L1291.9,1479.6 L1294.9,1480 L1297.9,1480.4 L1300.9,1480.7 L1303.9,1481 L1306.9,1481.3 L1309.9,1481.6 L1312.9,1481.9 L1315.9,1482.2 L1319,1482.5 L1322,1482.8 L1325,1483.1 L1328,1483.4 L1331,1483.7 L1334,1484 L1337,1484.3 L1340,1484.5 L1343,1484.8 L1346.1,1485.1 L1349.1,1485.3 L1352.1,1485.6 L1355.1,1485.8 L1358.1,1486 L1361.1,1486.2 L1364.1,1486.4 L1367.1,1486.6 L1370.1,1486.8 L1373.2,1487 L1376.2,1487.2 L1379.2,1487.4 L1382.2,1487.6 L1385.2,1487.8 L1388.2,1488 L1391.2,1488.1 L1394.2,1488.3 L1397.2,1488.5 L1400.3,1488.6 L1403.3,1488.8 L1406.3,1489 L1409.3,1489.1 L1412.3,1489.3 L1415.3,1489.4 L1418.3,1489.6 L1421.3,1489.7 L1424.3,1489.9 L1427.4,1490 L1430.4,1490.2 L1433.4,1490.3 L1436.4,1490.4 L1439.4,1490.6 L1442.4,1490.7 L1445.4,1490.8 L1448.4,1491 L1451.4,1491.1 L1454.5,1491.2 L1457.5,1491.3 L1460.5,1491.5 L1463.5,1491.6 L1466.5,1491.7 L1469.5,1491.8 L1472.5,1491.9 L1475.5,1492.1 L1478.5,1492.2 L1481.6,1492.3 L1484.6,1492.4 L1487.6,1492.5 L1490.6,1492.6 L1493.6,1492.7 L1496.6,1492.8 L1499.6,1492.9 L1502.6,1493 L1505.6,1493.1 L1508.7,1493.2 L1511.7,1493.2 L1514.7,1493.3 L1517.7,1493.4 L1520.7,1493.5 L1523.7,1493.6 L1526.7,1493.7 L1529.7,1493.7 L1532.7,1493.8 L1535.8,1493.9 L1538.8,1494 L1541.8,1494 L1544.8,1494.1 L1547.8,1494.2 L1550.8,1494.2 L1553.8,1494.3 L1556.8,1494.3 L1559.8,1494.4 L1562.9,1494.4" fill="none" stroke="#ec5535" stroke-width="1.6"/>
</g>
<path d="M1144.3,1652.1 h4.5 M1144.3,1606.7 h4.5 M1144.3,1561 h4.5 M1144.3,1515.6 h4.5 M1144.3,1469.9 h4.5 M1144.3,1424.5 h4.5 M1144.3,1378.8 h4.5 M1196.6,1697.8 v-4.5 M1248.9,1697.8 v-4.5 M1301.3,1697.8 v-4.5 M1353.6,1697.8 v-4.5 M1405.9,1697.8 v-4.5 M1458.2,1697.8 v-4.5 M1510.5,1697.8 v-4.5 M1562.9,1697.8 v-4.5 " stroke="#686868" stroke-width="1.3" fill="none"/>
<g font-size="21.9" fill="#1e1e1e">
<text x="1136.2" y="1703.5" text-anchor="end">0</text>
<text x="1138.3" y="1657.8" text-anchor="end">50</text>
<text x="1138.3" y="1612.4" text-anchor="end">100</text>
<text x="1138.3" y="1566.7" text-anchor="end">150</text>
<text x="1138.3" y="1521.3" text-anchor="end">200</text>
<text x="1138.3" y="1475.6" text-anchor="end">250</text>
<text x="1138.3" y="1430.2" text-anchor="end">300</text>
<text x="1138.3" y="1384.5" text-anchor="end">350</text>
<text x="1142.8" y="1715.5" text-anchor="middle">0</text>
<text x="1199.2" y="1715.5" text-anchor="middle">0.5</text>
<text x="1247.4" y="1715.5" text-anchor="middle">1</text>
<text x="1303.9" y="1715.5" text-anchor="middle">1.5</text>
<text x="1352.1" y="1715.5" text-anchor="middle">2</text>
<text x="1408.5" y="1715.5" text-anchor="middle">2.5</text>
<text x="1456.7" y="1715.5" text-anchor="middle">3</text>
<text x="1513.1" y="1715.5" text-anchor="middle">3.5</text>
<text x="1561.4" y="1715.5" text-anchor="middle">4</text>
</g>
<text x="1345.8" y="1368.7" font-size="27.7" text-anchor="middle">AMP <tspan dx="-8.5" dy="-2" textLength="44.5" lengthAdjust="spacingAndGlyphs">→</tspan><tspan dx="-8.5" dy="2"> 0</tspan></text>
<text x="1350.9" y="1743.5" font-size="27.7" text-anchor="middle">time post RT (h)</text>
<text transform="translate(1089.3,1536.9) rotate(-90)" font-size="27" text-anchor="middle">Flux (pmol/mg/h)</text>
<text x="1063.8" y="1360.4" font-size="31.5" font-weight="bold" fill="#1a1a1a">m</text>
</g>
<g>
<path d="M1681.6,1376 V1697.8 H2100.2" fill="none" stroke="#383838" stroke-width="1.1"/>
<clipPath id="clip-n"><rect x="1680.6" y="1375" width="421.5" height="323.8"/></clipPath>
<g clip-path="url(#clip-n)">
<path d="M1681.6,1641.2 L1704.7,1641.2 L1707.7,1636.8 L1710.7,1632.6 L1713.7,1628.4 L1716.8,1624.4 L1719.8,1620.5 L1722.8,1616.7 L1725.8,1613 L1728.9,1609.4 L1731.9,1606 L1734.9,1602.8 L1738,1599.7 L1741,1596.7 L1744,1593.9 L1747,1591.1 L1750.1,1588.4 L1753.1,1585.8 L1756.1,1583.2 L1759.1,1580.7 L1762.2,1578.2 L1765.2,1575.8 L1768.2,1573.5 L1771.3,1571.4 L1774.3,1569.3 L1777.3,1567.3 L1780.3,1565.3 L1783.4,1563.4 L1786.4,1561.5 L1789.4,1559.7 L1792.5,1558 L1795.5,1556.3 L1798.5,1554.7 L1801.5,1553 L1804.6,1551.4 L1807.6,1549.9 L1810.6,1548.4 L1813.6,1547 L1816.7,1545.8 L1819.7,1544.7 L1822.7,1543.8 L1825.8,1542.8 L1828.8,1542 L1831.8,1541.2 L1834.8,1540.4 L1837.9,1539.8 L1840.9,1539.2 L1843.9,1538.8 L1847,1538.4 L1850,1538.1 L1853,1537.9 L1856,1537.7 L1859.1,1537.6 L1862.1,1537.6 L1865.1,1537.7 L1868.1,1538 L1871.2,1538.4 L1874.2,1539 L1877.2,1539.6 L1880.3,1540.3 L1883.3,1541 L1886.3,1541.8 L1889.3,1542.7 L1892.4,1543.8 L1895.4,1544.9 L1898.4,1546.1 L1901.5,1547.4 L1904.5,1548.6 L1907.5,1550 L1910.5,1551.4 L1913.6,1553 L1916.6,1554.6 L1919.6,1556.2 L1922.6,1557.7 L1925.7,1559.3 L1928.7,1560.9 L1931.7,1562.5 L1934.8,1564.1 L1937.8,1561.5 L1940.9,1558.9 L1943.9,1556.5 L1947,1554.2 L1950,1552.2 L1953.1,1550.4 L1956.1,1548.6 L1959.2,1546.9 L1962.2,1545.4 L1965.3,1544 L1968.3,1542.8 L1971.4,1541.7 L1974.4,1540.7 L1977.5,1539.8 L1980.6,1538.9 L1983.6,1538.3 L1986.7,1537.8 L1989.7,1537.6 L1992.8,1537.6 L1995.8,1537.8 L1998.9,1538.2 L2001.9,1538.8 L2005,1539.5 L2008,1540.5 L2011.1,1541.7 L2014.1,1543.1 L2017.2,1544.5 L2020.2,1545.8 L2023.3,1547.2 L2026.3,1548.7 L2029.4,1550.1 L2032.5,1551.7 L2035.5,1553.2 L2038.6,1546.7 L2041.7,1539.6 L2044.7,1531.9 L2047.8,1523.9 L2050.9,1515.2 L2054,1506 L2057.1,1496.4 L2060.1,1486.7 L2063.2,1476.8 L2066.3,1466.6 L2069.4,1456.5 L2072.5,1446.7 L2075.5,1436.9 L2078.6,1427.3 L2081.7,1418.1 L2084.8,1409.8 L2087.9,1402.1 L2090.9,1394.7 L2094,1387.8 L2097.1,1381.5 L2100.2,1376 L2100.2,1697.2 L2097.2,1694.3 L2094.1,1691.5 L2091.1,1688.8 L2088.1,1686.1 L2085,1683.5 L2082,1681.1 L2079,1678.7 L2075.9,1676.4 L2072.9,1674.1 L2069.9,1671.9 L2066.8,1669.8 L2063.8,1667.7 L2060.8,1665.8 L2057.7,1663.9 L2054.7,1662.1 L2051.7,1660.4 L2048.6,1658.8 L2045.6,1657.2 L2042.6,1655.7 L2039.5,1654.3 L2036.5,1654.6 L2033.5,1655 L2030.5,1655.3 L2027.5,1655.7 L2024.5,1656 L2021.4,1656.3 L2018.4,1656.5 L2015.4,1656.8 L2012.4,1657.1 L2009.4,1657.4 L2006.3,1657.6 L2003.3,1657.9 L2000.3,1658.1 L1997.3,1658.2 L1994.3,1658.3 L1991.3,1658.4 L1988.2,1658.4 L1985.2,1658.4 L1982.2,1658.3 L1979.2,1658.2 L1976.2,1658.1 L1973.1,1657.9 L1970.1,1657.8 L1967.1,1657.6 L1964.1,1657.4 L1961.1,1657.2 L1958.1,1657 L1955,1656.7 L1952,1656.3 L1949,1656 L1946,1655.6 L1943,1655.1 L1940,1654.7 L1936.9,1654.3 L1933.9,1654.8 L1930.9,1655.3 L1927.9,1655.8 L1924.9,1656.4 L1921.9,1657 L1918.9,1657.6 L1915.9,1658.2 L1912.9,1658.9 L1909.9,1659.6 L1906.9,1660.3 L1903.9,1661 L1900.9,1661.7 L1897.9,1662.4 L1894.9,1663 L1891.9,1663.6 L1888.9,1664.2 L1885.9,1664.7 L1882.9,1665.3 L1879.9,1665.8 L1876.9,1666.3 L1873.9,1666.8 L1870.9,1667.3 L1867.9,1667.7 L1864.9,1668.1 L1861.8,1668.5 L1858.8,1668.9 L1855.8,1669.3 L1852.8,1669.6 L1849.8,1670 L1846.8,1670.3 L1843.8,1670.7 L1840.8,1671 L1837.8,1671.3 L1834.8,1671.6 L1831.8,1671.9 L1828.8,1672.2 L1825.8,1672.4 L1822.8,1672.6 L1819.8,1672.8 L1816.8,1673 L1813.8,1673.1 L1810.8,1673.2 L1807.8,1673.4 L1804.8,1673.5 L1801.8,1673.7 L1798.8,1673.8 L1795.8,1673.9 L1792.8,1674 L1789.8,1674.1 L1786.8,1674.2 L1783.8,1674.3 L1780.8,1674.4 L1777.7,1674.4 L1774.7,1674.5 L1771.7,1674.5 L1768.7,1674.5 L1765.7,1674.5 L1762.7,1674.4 L1759.7,1674.4 L1756.7,1674.4 L1753.7,1674.3 L1750.7,1674.2 L1747.7,1674.2 L1744.7,1674.1 L1741.7,1674.1 L1738.7,1674 L1735.7,1673.9 L1732.7,1673.9 L1729.7,1673.9 L1726.7,1673.9 L1723.7,1673.9 L1720.7,1673.9 L1717.7,1673.9 L1714.7,1674 L1711.7,1674.1 L1708.7,1674.2 L1705.7,1674.3 L1702.7,1674.4 L1699.7,1674.5 L1696.7,1674.7 L1693.7,1674.8 L1690.6,1675 L1687.6,1675.1 L1684.6,1675.3 L1681.6,1675.4Z" fill="#d2d2d2"/>
<path d="M1681.6,1671.4 L1684.7,1670.7 L1687.7,1669.9 L1690.7,1669.2 L1693.7,1668.5 L1696.7,1667.8 L1699.7,1667.1 L1702.7,1666.4 L1705.7,1665.8 L1708.7,1665.1 L1711.8,1664.4 L1714.8,1663.7 L1717.8,1663.1 L1720.8,1662.4 L1723.8,1661.8 L1726.8,1661.2 L1729.8,1660.5 L1732.8,1660 L1735.8,1659.4 L1738.9,1658.8 L1741.9,1658.2 L1744.9,1657.7 L1747.9,1657.1 L1750.9,1656.5 L1753.9,1656 L1756.9,1655.4 L1759.9,1654.9 L1762.9,1654.4 L1766,1653.8 L1769,1653.3 L1772,1652.8 L1775,1652.3 L1778,1651.8 L1781,1651.3 L1784,1650.9 L1787,1650.4 L1790,1649.9 L1793.1,1649.5 L1796.1,1649 L1799.1,1648.6 L1802.1,1648.2 L1805.1,1647.7 L1808.1,1647.3 L1811.1,1646.9 L1814.1,1646.4 L1817.1,1646 L1820.2,1645.6 L1823.2,1645.2 L1826.2,1644.9 L1829.2,1644.5 L1832.2,1644.1 L1835.2,1643.8 L1838.2,1643.5 L1841.2,1643.2 L1844.2,1642.8 L1847.3,1642.5 L1850.3,1642.2 L1853.3,1641.9 L1856.3,1641.6 L1859.3,1641.3 L1862.3,1641 L1865.3,1640.8 L1868.3,1640.5 L1871.3,1640.2 L1874.4,1640 L1877.4,1639.7 L1880.4,1639.5 L1883.4,1639.3 L1886.4,1639.1 L1889.4,1638.9 L1892.4,1638.7 L1895.4,1638.5 L1898.4,1638.3 L1901.5,1638.2 L1904.5,1638 L1907.5,1637.9 L1910.5,1637.7 L1913.5,1637.5 L1916.5,1637.4 L1919.5,1637.2 L1922.5,1637.1 L1925.5,1637 L1928.6,1636.8 L1931.6,1636.7 L1934.6,1636.6 L1937.6,1636.5 L1940.6,1636.3 L1943.6,1636.2 L1946.6,1636.1 L1949.6,1636 L1952.6,1635.9 L1955.7,1635.8 L1958.7,1635.6 L1961.7,1635.5 L1964.7,1635.4 L1967.7,1635.3 L1970.7,1635.2 L1973.7,1635.1 L1976.7,1635 L1979.7,1634.9 L1982.8,1634.9 L1985.8,1634.8 L1988.8,1634.7 L1991.8,1634.7 L1994.8,1634.7 L1997.8,1634.7 L2000.8,1634.7 L2003.8,1634.7 L2006.8,1634.8 L2009.9,1634.8 L2012.9,1634.9 L2015.9,1635 L2018.9,1635.1 L2021.9,1635.2 L2024.9,1635.3 L2027.9,1635.4 L2030.9,1635.5 L2033.9,1635.7 L2037,1635.8 L2040,1635.9 L2043,1636.1 L2046,1636.2 L2049,1636.3 L2052,1636.4 L2055,1636.6 L2058,1636.8 L2061,1636.9 L2064.1,1637.1 L2067.1,1637.3 L2070.1,1637.5 L2073.1,1637.7 L2076.1,1637.9 L2079.1,1638.1 L2082.1,1638.3 L2085.1,1638.5 L2088.1,1638.7 L2091.2,1639 L2094.2,1639.2 L2097.2,1639.4 L2100.2,1639.7" fill="none" stroke="#70787d" stroke-width="1.45"/>
<path d="M1681.6,1408.6 L1684.7,1411 L1687.8,1413.5 L1690.8,1415.9 L1693.9,1418.4 L1696.9,1420.9 L1700,1423.4 L1703,1426 L1706.1,1428.6 L1709.2,1431.2 L1712.2,1433.8 L1715.3,1436.3 L1718.3,1438.6 L1721.4,1440.8 L1724.4,1443 L1727.5,1445.1 L1730.6,1447 L1733.6,1449 L1736.7,1450.8 L1739.7,1452.6 L1742.8,1454.3 L1745.9,1456 L1748.9,1457.6 L1752,1459.1 L1755,1460.6 L1758.1,1460.9 L1761.2,1461.2 L1764.4,1461.5 L1767.5,1461.8 L1770.6,1462.1 L1773.7,1462.3 L1776.8,1462.6 L1779.9,1462.8 L1783,1462.9 L1786.1,1463 L1789.2,1463.1 L1792.3,1463.2 L1795.4,1463.3 L1798.6,1463.4 L1801.7,1463.5 L1804.8,1463.5 L1807.9,1463.6 L1811,1463.6 L1814.1,1463.7 L1817.2,1463.7 L1820.2,1463.3 L1823.3,1463 L1826.3,1462.6 L1829.3,1462.3 L1832.3,1462 L1835.3,1461.7 L1838.4,1461.4 L1841.4,1461.1 L1844.4,1460.9 L1847.4,1460.6 L1850.4,1460.4 L1853.5,1460.2 L1856.5,1460 L1859.5,1459.7 L1862.5,1459.5 L1865.5,1459.4 L1868.6,1459.2 L1871.6,1459 L1874.6,1458.8 L1877.6,1458.6 L1880.7,1458.5 L1883.7,1458.3 L1886.7,1458.2 L1889.7,1458 L1892.7,1457.9 L1895.8,1457.7 L1898.8,1457.6 L1901.8,1457.4 L1904.8,1457.3 L1907.8,1457.2 L1910.9,1457 L1913.9,1456.9 L1916.9,1456.8 L1919.9,1456.7 L1922.9,1456.6 L1926,1456.5 L1929,1456.4 L1932,1456.2 L1935,1456.2 L1938,1456.1 L1941.1,1456 L1944.1,1455.9 L1947.1,1455.2 L1950.1,1454.5 L1953.1,1453.8 L1956.1,1453.1 L1959.1,1452.3 L1962.1,1451.6 L1965.1,1450.9 L1968.1,1450.2 L1971.1,1449.4 L1974.1,1448.7 L1977.1,1448 L1980.1,1447.2 L1983.1,1446.5 L1986.1,1445.7 L1989.1,1445 L1992.1,1444.2 L1995.1,1443.4 L1998.1,1442.7 L2001.1,1441.9 L2004.1,1441.2 L2007.1,1440.4 L2010.1,1439.7 L2013.1,1439 L2016.1,1438.2 L2019.1,1437.5 L2022.1,1436.7 L2025.1,1436 L2028.1,1435.2 L2031.1,1434.5 L2034.1,1433.7 L2037.1,1432.9 L2040.1,1432.1 L2043.1,1431.3 L2046.1,1430.5 L2049.2,1429.7 L2052.2,1428.9 L2055.2,1428.1 L2058.2,1427.2 L2061.2,1426.4 L2064.2,1425.6 L2067.2,1424.8 L2070.2,1424 L2073.2,1423.1 L2076.2,1422.3 L2079.2,1421.5 L2082.2,1420.7 L2085.2,1419.9 L2088.2,1419.1 L2091.2,1418.2 L2094.2,1417.4 L2097.2,1416.6 L2100.2,1415.8 L2100.2,1498.8 L2097.1,1498.3 L2094,1497.8 L2091,1497.3 L2087.9,1496.8 L2084.8,1496.3 L2081.8,1495.8 L2078.7,1495.3 L2075.6,1494.8 L2072.6,1494.3 L2069.5,1493.8 L2066.4,1493.2 L2063.4,1492.7 L2060.3,1492.2 L2057.2,1491.6 L2054.2,1491.1 L2051.1,1490.5 L2048,1490 L2044.9,1489.4 L2041.9,1488.9 L2038.8,1488.3 L2035.7,1487.7 L2032.7,1487.2 L2029.6,1486.6 L2026.5,1486.1 L2023.5,1485.5 L2020.4,1485 L2017.3,1484.5 L2014.3,1484 L2011.2,1483.5 L2008.1,1483 L2005.1,1482.5 L2002,1482 L1998.9,1481.5 L1995.9,1481 L1992.8,1480.6 L1989.7,1480.1 L1986.6,1479.7 L1983.6,1479.2 L1980.6,1479.4 L1977.5,1479.6 L1974.5,1479.9 L1971.5,1480.1 L1968.5,1480.3 L1965.5,1480.5 L1962.5,1480.7 L1959.4,1480.9 L1956.4,1481 L1953.4,1481.2 L1950.4,1481.3 L1947.4,1481.5 L1944.4,1481.6 L1941.3,1481.7 L1938.3,1481.8 L1935.3,1481.9 L1932.3,1482 L1929.3,1482.1 L1926.3,1482.2 L1923.3,1482.3 L1920.2,1482.4 L1917.2,1482.4 L1914.2,1482.5 L1911.2,1482.5 L1908.2,1482.6 L1905.2,1482.6 L1902.1,1482.6 L1899.1,1482.6 L1896.1,1482.6 L1893.1,1482.6 L1890.1,1482.6 L1887.1,1482.5 L1884,1482.4 L1881,1482.3 L1878,1482.2 L1875,1482.1 L1872,1482 L1869,1481.9 L1865.9,1481.8 L1862.9,1481.7 L1859.9,1481.5 L1856.9,1481.4 L1853.9,1481.3 L1850.9,1481.1 L1847.8,1481 L1844.8,1480.8 L1841.8,1480.7 L1838.8,1480.5 L1835.8,1480.3 L1832.8,1480.1 L1829.7,1480.5 L1826.7,1480.9 L1823.7,1481.2 L1820.7,1481.6 L1817.7,1481.9 L1814.7,1482.2 L1811.7,1482.6 L1808.6,1482.9 L1805.6,1483.2 L1802.6,1483.5 L1799.6,1483.8 L1796.6,1484.1 L1793.6,1484.4 L1790.5,1484.6 L1787.5,1484.7 L1784.5,1484.9 L1781.5,1484.9 L1778.5,1484.8 L1775.5,1484.7 L1772.5,1484.5 L1769.4,1484.3 L1766.4,1484 L1763.4,1483.8 L1760.4,1483.5 L1757.4,1483.2 L1754.4,1482.8 L1751.3,1482.4 L1748.3,1481.9 L1745.3,1481.3 L1742.3,1480.6 L1739.3,1480 L1736.3,1479.3 L1733.3,1478.6 L1730.2,1479.3 L1727.2,1480.1 L1724.1,1480.8 L1721.1,1481.6 L1718.1,1482.4 L1715,1483.1 L1712,1483.9 L1709,1484.7 L1705.9,1485.4 L1702.9,1486.2 L1699.9,1487 L1696.8,1487.7 L1693.8,1488.5 L1690.7,1489.3 L1687.7,1490.1 L1684.7,1490.9 L1681.6,1491.6Z" fill="rgb(243,145,127)" fill-opacity="0.87"/>
<path d="M1681.6,1457.8 L1684.7,1458.4 L1687.7,1459.1 L1690.7,1459.7 L1693.7,1460.4 L1696.7,1461 L1699.7,1461.6 L1702.7,1462.1 L1705.7,1462.6 L1708.7,1463.1 L1711.8,1463.5 L1714.8,1463.9 L1717.8,1464.4 L1720.8,1464.7 L1723.8,1465.1 L1726.8,1465.5 L1729.8,1465.8 L1732.8,1466.1 L1735.8,1466.4 L1738.9,1466.7 L1741.9,1467 L1744.9,1467.3 L1747.9,1467.6 L1750.9,1467.8 L1753.9,1468.1 L1756.9,1468.3 L1759.9,1468.4 L1762.9,1468.6 L1766,1468.7 L1769,1468.9 L1772,1469 L1775,1469.1 L1778,1469.2 L1781,1469.2 L1784,1469.3 L1787,1469.3 L1790,1469.2 L1793.1,1469.2 L1796.1,1469.2 L1799.1,1469.1 L1802.1,1469.1 L1805.1,1469 L1808.1,1469 L1811.1,1468.9 L1814.1,1468.8 L1817.1,1468.8 L1820.2,1468.7 L1823.2,1468.6 L1826.2,1468.5 L1829.2,1468.4 L1832.2,1468.3 L1835.2,1468.3 L1838.2,1468.2 L1841.2,1468.1 L1844.2,1468 L1847.3,1467.9 L1850.3,1467.8 L1853.3,1467.6 L1856.3,1467.5 L1859.3,1467.4 L1862.3,1467.3 L1865.3,1467.2 L1868.3,1467.1 L1871.3,1467 L1874.4,1466.9 L1877.4,1466.8 L1880.4,1466.6 L1883.4,1466.5 L1886.4,1466.4 L1889.4,1466.3 L1892.4,1466.2 L1895.4,1466.1 L1898.4,1466 L1901.5,1465.9 L1904.5,1465.8 L1907.5,1465.7 L1910.5,1465.7 L1913.5,1465.6 L1916.5,1465.5 L1919.5,1465.4 L1922.5,1465.3 L1925.5,1465.2 L1928.6,1465.1 L1931.6,1465 L1934.6,1464.9 L1937.6,1464.8 L1940.6,1464.7 L1943.6,1464.7 L1946.6,1464.6 L1949.6,1464.5 L1952.6,1464.4 L1955.7,1464.3 L1958.7,1464.2 L1961.7,1464.2 L1964.7,1464.1 L1967.7,1464 L1970.7,1463.9 L1973.7,1463.8 L1976.7,1463.8 L1979.7,1463.7 L1982.8,1463.6 L1985.8,1463.5 L1988.8,1463.5 L1991.8,1463.4 L1994.8,1463.3 L1997.8,1463.2 L2000.8,1463.2 L2003.8,1463.1 L2006.8,1463 L2009.9,1463 L2012.9,1462.9 L2015.9,1462.8 L2018.9,1462.7 L2021.9,1462.7 L2024.9,1462.6 L2027.9,1462.5 L2030.9,1462.5 L2033.9,1462.4 L2037,1462.3 L2040,1462.2 L2043,1462.2 L2046,1462.1 L2049,1462 L2052,1462 L2055,1461.9 L2058,1461.8 L2061,1461.7 L2064.1,1461.7 L2067.1,1461.6 L2070.1,1461.5 L2073.1,1461.5 L2076.1,1461.4 L2079.1,1461.3 L2082.1,1461.3 L2085.1,1461.2 L2088.1,1461.1 L2091.2,1461.1 L2094.2,1461 L2097.2,1460.9 L2100.2,1460.9" fill="none" stroke="#ec5535" stroke-width="1.6"/>
</g>
<path d="M1681.6,1633.4 h4.5 M1681.6,1568.8 h4.5 M1681.6,1504.4 h4.5 M1681.6,1439.7 h4.5 M1734,1697.8 v-4.5 M1786.3,1697.8 v-4.5 M1838.6,1697.8 v-4.5 M1890.9,1697.8 v-4.5 M1943.2,1697.8 v-4.5 M1995.5,1697.8 v-4.5 M2047.9,1697.8 v-4.5 M2100.2,1697.8 v-4.5 " stroke="#383838" stroke-width="1.0" fill="none"/>
<g font-size="21.9" fill="#1e1e1e">
<text x="1677.3" y="1703.5" text-anchor="end">0</text>
<text x="1679.4" y="1639.1" text-anchor="end">50</text>
<text x="1679.4" y="1574.5" text-anchor="end">100</text>
<text x="1679.4" y="1510.1" text-anchor="end">150</text>
<text x="1679.4" y="1445.4" text-anchor="end">200</text>
<text x="1684.1" y="1718" text-anchor="middle">0</text>
<text x="1740.6" y="1718" text-anchor="middle">0.5</text>
<text x="1788.8" y="1718" text-anchor="middle">1</text>
<text x="1845.2" y="1718" text-anchor="middle">1.5</text>
<text x="1893.4" y="1718" text-anchor="middle">2</text>
<text x="1949.8" y="1718" text-anchor="middle">2.5</text>
<text x="1998" y="1718" text-anchor="middle">3</text>
<text x="2054.5" y="1718" text-anchor="middle">3.5</text>
<text x="2102.7" y="1718" text-anchor="middle">4</text>
</g>
<text x="1893.7" y="1368.7" font-size="27.7" text-anchor="middle">R1P + Hypoxanthine <tspan dx="-8.5" dy="-2" textLength="44.5" lengthAdjust="spacingAndGlyphs">→</tspan><tspan dx="-8.5" dy="2"> Inosine</tspan></text>
<text x="1906.1" y="1743.5" font-size="27.7" text-anchor="middle">time post RT (h)</text>
<text transform="translate(1633.7,1536.9) rotate(-90)" font-size="27" text-anchor="middle">Flux (pmol/mg/h)</text>
<text x="1606.4" y="1360.4" font-size="31.5" font-weight="bold" fill="#1a1a1a">n</text>
</g>
<g>
<path d="M81.5,1816.9 V2138.7 H500" fill="none" stroke="#383838" stroke-width="1.1"/>
<clipPath id="clip-o"><rect x="80.5" y="1815.9" width="421.5" height="323.8"/></clipPath>
<g clip-path="url(#clip-o)">
<path d="M81.5,2094.3 L84.5,2092.5 L87.5,2090.7 L90.6,2089 L93.6,2087.2 L96.6,2085.5 L99.6,2083.8 L102.7,2082 L105.7,2080.3 L108.7,2078.6 L111.8,2076.8 L114.8,2075.1 L117.8,2073.4 L120.9,2071.6 L123.9,2069.9 L126.9,2068.3 L129.9,2066.6 L133,2065 L136,2063.4 L139,2061.9 L142.1,2060.3 L145.1,2058.8 L148.1,2057.3 L151.2,2055.8 L154.2,2054.4 L157.2,2053.1 L160.2,2051.7 L163.3,2050.4 L166.3,2049.1 L169.3,2047.8 L172.4,2046.6 L175.4,2045.4 L178.4,2044.3 L181.5,2043.2 L184.5,2042.2 L187.5,2041.2 L190.5,2040.2 L193.6,2039.2 L196.6,2038.3 L199.6,2037.5 L202.7,2036.7 L205.7,2036 L208.7,2035.4 L211.8,2034.7 L214.8,2034 L217.8,2033.4 L220.8,2032.8 L223.9,2032.3 L226.9,2031.8 L229.9,2031.5 L233,2031.2 L236,2030.9 L239,2030.7 L242,2030.5 L245.1,2030.3 L248.1,2030.2 L251.1,2030.1 L254.2,2030 L257.2,2029.9 L260.2,2029.9 L263.3,2029.9 L266.3,2030 L269.3,2030.1 L272.3,2030.2 L275.4,2030.4 L278.4,2030.7 L281.4,2030.9 L284.5,2031.2 L287.5,2031.6 L290.5,2031.9 L293.6,2032.2 L296.6,2032.7 L299.6,2033.2 L302.6,2033.8 L305.7,2034.4 L308.7,2035.1 L311.7,2035.9 L314.8,2036.6 L317.8,2037.4 L320.9,2035.9 L323.9,2034.4 L327,2032.8 L330.1,2031.2 L333.2,2029.6 L336.2,2027.8 L339.3,2026 L342.4,2024.2 L345.5,2022.5 L348.5,2021 L351.6,2019.7 L354.7,2018.4 L357.8,2017.2 L360.8,2016.1 L363.9,2015.2 L367,2014.4 L370.1,2013.8 L373.1,2013.3 L376.2,2012.9 L379.3,2012.6 L382.3,2012.3 L385.4,2012.2 L388.5,2012.2 L391.6,2012.3 L394.6,2012.6 L397.7,2013 L400.8,2013.4 L403.9,2013.9 L406.9,2014.5 L410,2015.2 L413.1,2016.1 L416.2,2017.1 L419.2,2018.1 L422.3,2019.2 L425.4,2020.3 L428.5,2011.7 L431.6,2003.1 L434.7,1994.5 L437.8,1985.7 L440.9,1977 L444,1968.2 L447.2,1959.3 L450.3,1950.3 L453.4,1941.1 L456.5,1931.8 L459.6,1922.4 L462.7,1913.1 L465.8,1903.9 L468.9,1894.9 L472,1886 L475.1,1877.1 L478.2,1868.6 L481.4,1860.3 L484.5,1852.5 L487.6,1844.8 L490.7,1837.4 L493.8,1830.3 L496.9,1823.4 L500,1816.9 L500,2138.7 L496.9,2136.6 L493.9,2134.5 L490.8,2132.4 L487.7,2130.3 L484.6,2128.2 L481.6,2126.1 L478.5,2124 L475.4,2121.8 L472.3,2119.8 L469.3,2117.8 L466.2,2115.9 L463.1,2114.1 L460,2112.3 L457,2110.6 L453.9,2108.9 L450.8,2107.3 L447.7,2105.7 L444.7,2104.2 L441.6,2104.1 L438.4,2104 L435.3,2103.8 L432.2,2103.7 L429.1,2103.5 L426,2103.3 L422.9,2103.2 L419.8,2103 L416.7,2102.8 L413.6,2102.6 L410.5,2102.4 L407.3,2102.1 L404.2,2101.9 L401.1,2101.6 L398,2101.4 L394.9,2101.1 L391.8,2100.8 L388.7,2100.5 L385.6,2100.2 L382.5,2099.8 L379.4,2099.4 L376.3,2099 L373.1,2098.6 L370,2098.2 L366.9,2097.7 L363.8,2097.3 L360.7,2096.8 L357.7,2097.1 L354.7,2097.5 L351.7,2097.9 L348.7,2098.2 L345.7,2098.5 L342.7,2098.9 L339.7,2099.2 L336.7,2099.5 L333.7,2099.8 L330.7,2100.1 L327.7,2100.4 L324.7,2100.7 L321.7,2101 L318.7,2101.3 L315.7,2101.6 L312.7,2101.9 L309.7,2102.2 L306.7,2102.5 L303.7,2102.8 L300.7,2103.1 L297.7,2103.4 L294.7,2103.6 L291.6,2103.9 L288.6,2104.2 L285.6,2104.5 L282.6,2104.8 L279.6,2105.1 L276.6,2105.4 L273.6,2105.7 L270.6,2106 L267.6,2106.3 L264.6,2106.6 L261.6,2106.9 L258.6,2107.2 L255.6,2107.5 L252.6,2107.8 L249.6,2108.2 L246.6,2108.5 L243.6,2108.9 L240.6,2109.2 L237.6,2109.6 L234.6,2109.9 L231.6,2110.3 L228.6,2110.7 L225.6,2111 L222.6,2111.4 L219.6,2111.8 L216.6,2112.2 L213.6,2112.6 L210.6,2113 L207.6,2113.4 L204.6,2113.7 L201.6,2114.1 L198.6,2114.5 L195.6,2114.9 L192.6,2115.3 L189.6,2115.7 L186.6,2116 L183.6,2116.4 L180.6,2116.8 L177.6,2117.2 L174.5,2117.5 L171.5,2117.9 L168.5,2118.2 L165.5,2118.6 L162.5,2119 L159.5,2119.3 L156.5,2119.7 L153.5,2120.1 L150.5,2120.4 L147.5,2120.8 L144.5,2121.2 L141.5,2121.5 L138.5,2121.9 L135.5,2122.3 L132.5,2122.7 L129.5,2123.1 L126.5,2123.5 L123.5,2123.9 L120.5,2124.4 L117.5,2124.8 L114.5,2125.3 L111.5,2125.7 L108.5,2126.2 L105.5,2126.7 L102.5,2127.2 L99.5,2127.7 L96.5,2128.3 L93.5,2128.8 L90.5,2129.3 L87.5,2129.9 L84.5,2130.4 L81.5,2131Z" fill="#d2d2d2"/>
<path d="M81.5,2095.8 L84.5,2095.6 L87.5,2095.4 L90.5,2095.2 L93.5,2094.9 L96.5,2094.7 L99.5,2094.5 L102.5,2094.3 L105.6,2094.1 L108.6,2093.9 L111.6,2093.6 L114.6,2093.4 L117.6,2093.2 L120.6,2093 L123.6,2092.8 L126.6,2092.6 L129.6,2092.4 L132.7,2092.2 L135.7,2092 L138.7,2091.8 L141.7,2091.6 L144.7,2091.4 L147.7,2091.2 L150.7,2091 L153.7,2090.7 L156.7,2090.5 L159.8,2090.4 L162.8,2090.2 L165.8,2090 L168.8,2089.8 L171.8,2089.6 L174.8,2089.4 L177.8,2089.2 L180.8,2089 L183.8,2088.8 L186.9,2088.7 L189.9,2088.5 L192.9,2088.3 L195.9,2088.1 L198.9,2088 L201.9,2087.8 L204.9,2087.6 L207.9,2087.4 L210.9,2087.3 L214,2087.1 L217,2086.9 L220,2086.8 L223,2086.6 L226,2086.5 L229,2086.3 L232,2086.2 L235,2086.1 L238,2085.9 L241.1,2085.8 L244.1,2085.7 L247.1,2085.6 L250.1,2085.5 L253.1,2085.4 L256.1,2085.3 L259.1,2085.2 L262.1,2085.1 L265.1,2085 L268.2,2084.9 L271.2,2084.9 L274.2,2084.8 L277.2,2084.7 L280.2,2084.6 L283.2,2084.5 L286.2,2084.5 L289.2,2084.4 L292.2,2084.3 L295.3,2084.3 L298.3,2084.2 L301.3,2084.1 L304.3,2084 L307.3,2084 L310.3,2083.9 L313.3,2083.8 L316.3,2083.8 L319.3,2083.7 L322.4,2083.7 L325.4,2083.6 L328.4,2083.6 L331.4,2083.5 L334.4,2083.5 L337.4,2083.4 L340.4,2083.4 L343.4,2083.4 L346.4,2083.4 L349.5,2083.4 L352.5,2083.4 L355.5,2083.4 L358.5,2083.5 L361.5,2083.5 L364.5,2083.5 L367.5,2083.6 L370.5,2083.7 L373.5,2083.7 L376.6,2083.8 L379.6,2083.9 L382.6,2084 L385.6,2084.1 L388.6,2084.1 L391.6,2084.2 L394.6,2084.3 L397.6,2084.4 L400.6,2084.5 L403.7,2084.6 L406.7,2084.8 L409.7,2084.9 L412.7,2085.1 L415.7,2085.3 L418.7,2085.5 L421.7,2085.6 L424.7,2085.8 L427.7,2086 L430.8,2086.2 L433.8,2086.4 L436.8,2086.6 L439.8,2086.8 L442.8,2087 L445.8,2087.2 L448.8,2087.5 L451.8,2087.7 L454.8,2087.9 L457.9,2088.2 L460.9,2088.5 L463.9,2088.7 L466.9,2089 L469.9,2089.3 L472.9,2089.7 L475.9,2090 L478.9,2090.4 L481.9,2090.8 L485,2091.2 L488,2091.6 L491,2092 L494,2092.5 L497,2092.9 L500,2093.3" fill="none" stroke="#70787d" stroke-width="1.45"/>
<path d="M81.5,2029.9 L84.5,2030.9 L87.6,2031.9 L90.7,2032.9 L93.8,2033.9 L96.8,2034.9 L99.9,2035.9 L103,2036.8 L106.1,2037.8 L109.1,2038.7 L112.2,2039.7 L115.3,2040.6 L118.3,2041.5 L121.4,2042.5 L124.5,2043.4 L127.6,2044.3 L130.6,2045.2 L133.7,2046.1 L136.7,2046.2 L139.7,2046.3 L142.7,2046.5 L145.7,2046.6 L148.7,2046.8 L151.7,2047 L154.7,2047.2 L157.7,2047.4 L160.7,2047.6 L163.7,2047.8 L166.7,2048 L169.7,2048.2 L172.7,2048.5 L175.7,2048.8 L178.7,2049 L181.8,2049.3 L184.8,2049.6 L187.8,2049.9 L190.8,2050.3 L193.8,2050.6 L196.8,2051 L199.8,2051.3 L202.8,2051.7 L205.8,2052.1 L208.8,2052.6 L211.8,2053 L214.8,2053.4 L217.8,2053.9 L220.8,2054.3 L223.8,2054.8 L226.8,2055.3 L229.8,2055.9 L232.8,2056.4 L235.8,2057 L238.8,2057.5 L241.8,2058 L244.8,2058.5 L247.8,2059 L250.8,2059.4 L253.8,2059.9 L256.8,2060.3 L259.8,2060.8 L262.8,2061.2 L265.8,2061.6 L268.8,2062 L271.8,2062.4 L274.8,2062.7 L277.8,2063 L280.8,2063.3 L283.8,2063.5 L286.8,2063.7 L289.8,2064 L292.8,2064.2 L295.8,2064.4 L298.8,2064.6 L301.8,2064.8 L304.9,2065 L307.9,2065.2 L310.9,2065.4 L313.9,2065.5 L316.9,2065.7 L319.9,2065.9 L322.9,2066.1 L325.9,2066.3 L328.9,2066.5 L331.9,2066.6 L334.9,2066.8 L337.9,2067 L340.9,2067.2 L343.9,2067.3 L346.9,2067.5 L349.9,2067.6 L352.9,2067.8 L355.9,2068 L358.9,2068.1 L361.9,2068.3 L364.9,2068.4 L367.9,2068.5 L370.9,2068.7 L373.9,2068.8 L376.9,2068.9 L379.9,2069.1 L382.9,2069.2 L385.9,2069.3 L388.9,2069.4 L391.9,2069.5 L394.9,2069.6 L397.9,2069.7 L400.9,2069.8 L403.9,2069.9 L406.9,2070 L409.9,2070 L412.9,2070 L415.9,2070 L418.9,2069.9 L421.9,2069.9 L425,2069.7 L428,2069.6 L431,2069.4 L434,2069.2 L437,2069.1 L440,2068.9 L443,2068.7 L446,2068.5 L449,2068.2 L452,2067.9 L455,2067.6 L458,2067.2 L461,2066.9 L464,2066.5 L467,2066.1 L470,2065.7 L473,2065.3 L476,2064.9 L479,2064.4 L482,2064 L485,2063.5 L488,2062.9 L491,2062.4 L494,2061.8 L497,2061.3 L500,2060.7 L500,2086.5 L497,2086.2 L494,2086 L491,2085.7 L488,2085.5 L485,2085.2 L482,2085 L479,2084.8 L476,2084.6 L473,2084.3 L470,2084.1 L467,2083.9 L464,2083.7 L461,2083.6 L458,2083.4 L455,2083.2 L452,2083 L449,2082.8 L446,2082.7 L443,2082.5 L440,2082.4 L437,2082.2 L434,2082.1 L431,2082 L428,2081.8 L425,2081.7 L421.9,2081.6 L418.9,2081.5 L415.9,2081.4 L412.9,2081.3 L409.9,2081.2 L406.9,2081.1 L403.9,2081 L400.9,2080.9 L397.9,2080.9 L394.9,2080.8 L391.9,2080.7 L388.9,2080.6 L385.9,2080.6 L382.9,2080.5 L379.9,2080.4 L376.9,2080.4 L373.9,2080.3 L370.9,2080.2 L367.9,2080.2 L364.9,2080.1 L361.9,2080.1 L358.9,2080 L355.9,2079.9 L352.9,2079.9 L349.9,2079.8 L346.9,2079.8 L343.9,2079.7 L340.9,2079.6 L337.9,2079.6 L334.9,2079.5 L331.9,2079.4 L328.9,2079.4 L325.9,2079.3 L322.9,2079.2 L319.9,2079.1 L316.9,2079 L313.9,2078.9 L310.9,2078.7 L307.9,2078.5 L304.9,2078.3 L301.8,2078 L298.8,2077.7 L295.8,2077.3 L292.8,2077 L289.8,2076.6 L286.8,2076.3 L283.8,2075.9 L280.8,2075.7 L277.8,2075.5 L274.8,2075.3 L271.8,2075.2 L268.8,2075 L265.8,2074.9 L262.8,2074.7 L259.8,2074.6 L256.8,2074.5 L253.8,2074.3 L250.8,2074.2 L247.8,2074 L244.8,2073.8 L241.8,2073.6 L238.8,2073.4 L235.8,2073.2 L232.8,2073 L229.8,2072.8 L226.8,2072.6 L223.8,2072.4 L220.8,2072.1 L217.8,2071.9 L214.8,2071.6 L211.8,2071.4 L208.8,2071.1 L205.8,2070.8 L202.8,2070.5 L199.8,2070.2 L196.8,2069.8 L193.8,2069.5 L190.8,2069.2 L187.8,2068.9 L184.8,2068.6 L181.8,2068.3 L178.7,2068 L175.7,2067.7 L172.7,2067.4 L169.7,2067.1 L166.7,2066.8 L163.7,2066.5 L160.7,2066.2 L157.7,2065.8 L154.7,2065.4 L151.7,2065 L148.7,2064.6 L145.7,2064.1 L142.7,2063.7 L139.7,2063.2 L136.7,2062.7 L133.7,2062.2 L130.6,2062.6 L127.6,2063 L124.5,2063.4 L121.4,2063.9 L118.3,2064.3 L115.3,2064.8 L112.2,2065.2 L109.1,2065.7 L106.1,2066.2 L103,2066.8 L99.9,2067.3 L96.8,2067.9 L93.8,2068.4 L90.7,2069 L87.6,2069.7 L84.5,2070.3 L81.5,2071Z" fill="rgb(243,145,127)" fill-opacity="0.87"/>
<path d="M81.5,2053.9 L84.5,2053.7 L87.5,2053.6 L90.5,2053.5 L93.5,2053.4 L96.5,2053.3 L99.5,2053.2 L102.5,2053.2 L105.6,2053.2 L108.6,2053.2 L111.6,2053.3 L114.6,2053.4 L117.6,2053.6 L120.6,2053.7 L123.6,2053.9 L126.6,2054.1 L129.6,2054.2 L132.7,2054.4 L135.7,2054.6 L138.7,2054.8 L141.7,2054.9 L144.7,2055.1 L147.7,2055.3 L150.7,2055.5 L153.7,2055.7 L156.7,2055.9 L159.8,2056.2 L162.8,2056.4 L165.8,2056.7 L168.8,2057 L171.8,2057.3 L174.8,2057.7 L177.8,2058.1 L180.8,2058.4 L183.8,2058.8 L186.9,2059.2 L189.9,2059.5 L192.9,2059.9 L195.9,2060.3 L198.9,2060.7 L201.9,2061.1 L204.9,2061.5 L207.9,2061.9 L210.9,2062.3 L214,2062.7 L217,2063.1 L220,2063.5 L223,2063.9 L226,2064.3 L229,2064.7 L232,2065.1 L235,2065.5 L238,2065.9 L241.1,2066.3 L244.1,2066.7 L247.1,2067 L250.1,2067.4 L253.1,2067.7 L256.1,2068 L259.1,2068.2 L262.1,2068.5 L265.1,2068.8 L268.2,2069 L271.2,2069.3 L274.2,2069.5 L277.2,2069.8 L280.2,2070.1 L283.2,2070.3 L286.2,2070.6 L289.2,2070.8 L292.2,2071.1 L295.3,2071.3 L298.3,2071.6 L301.3,2071.8 L304.3,2072.1 L307.3,2072.3 L310.3,2072.5 L313.3,2072.7 L316.3,2072.8 L319.3,2073 L322.4,2073.1 L325.4,2073.3 L328.4,2073.4 L331.4,2073.6 L334.4,2073.7 L337.4,2073.9 L340.4,2074 L343.4,2074.1 L346.4,2074.3 L349.5,2074.4 L352.5,2074.5 L355.5,2074.7 L358.5,2074.8 L361.5,2074.9 L364.5,2075 L367.5,2075.1 L370.5,2075.2 L373.5,2075.3 L376.6,2075.4 L379.6,2075.5 L382.6,2075.6 L385.6,2075.6 L388.6,2075.7 L391.6,2075.8 L394.6,2075.8 L397.6,2075.9 L400.6,2075.9 L403.7,2075.9 L406.7,2075.9 L409.7,2076 L412.7,2076 L415.7,2076 L418.7,2076 L421.7,2076 L424.7,2076 L427.7,2076 L430.8,2076 L433.8,2075.9 L436.8,2075.9 L439.8,2075.9 L442.8,2075.8 L445.8,2075.8 L448.8,2075.7 L451.8,2075.7 L454.8,2075.6 L457.9,2075.5 L460.9,2075.4 L463.9,2075.4 L466.9,2075.3 L469.9,2075.2 L472.9,2075.1 L475.9,2075 L478.9,2074.9 L481.9,2074.8 L485,2074.7 L488,2074.6 L491,2074.4 L494,2074.3 L497,2074.2 L500,2074.1" fill="none" stroke="#ec5535" stroke-width="1.6"/>
</g>
<path d="M81.5,2080.9 h4.5 M81.5,2023.1 h4.5 M81.5,1965.2 h4.5 M81.5,1907.4 h4.5 M81.5,1849.6 h4.5 M133.8,2138.7 v-4.5 M186.1,2138.7 v-4.5 M238.4,2138.7 v-4.5 M290.7,2138.7 v-4.5 M343.1,2138.7 v-4.5 M395.4,2138.7 v-4.5 M447.7,2138.7 v-4.5 M500,2138.7 v-4.5 " stroke="#383838" stroke-width="1.0" fill="none"/>
<g font-size="21.9" fill="#1e1e1e">
<text x="73.4" y="2144.4" text-anchor="end">0</text>
<text x="75.2" y="2086.6" text-anchor="end">50</text>
<text x="75.2" y="2028.8" text-anchor="end">100</text>
<text x="75.2" y="1970.9" text-anchor="end">150</text>
<text x="75.2" y="1913.1" text-anchor="end">200</text>
<text x="75.2" y="1855.3" text-anchor="end">250</text>
<text x="83.8" y="2159.3" text-anchor="middle">0</text>
<text x="140.2" y="2159.3" text-anchor="middle">0.5</text>
<text x="188.4" y="2159.3" text-anchor="middle">1</text>
<text x="244.8" y="2159.3" text-anchor="middle">1.5</text>
<text x="293" y="2159.3" text-anchor="middle">2</text>
<text x="349.5" y="2159.3" text-anchor="middle">2.5</text>
<text x="397.7" y="2159.3" text-anchor="middle">3</text>
<text x="454.1" y="2159.3" text-anchor="middle">3.5</text>
<text x="502.3" y="2159.3" text-anchor="middle">4</text>
</g>
<text x="286.1" y="1810.3" font-size="27.7" text-anchor="middle">IMP <tspan dx="-8.5" dy="-2" textLength="44.5" lengthAdjust="spacingAndGlyphs">→</tspan><tspan dx="-8.5" dy="2"> Inosine</tspan></text>
<text x="301.6" y="2185.7" font-size="27.7" text-anchor="middle">time post RT (h)</text>
<text transform="translate(28,1978.4) rotate(-90)" font-size="27" text-anchor="middle">Flux (pmol/mg/h)</text>
<text x="2.5" y="1802" font-size="31.5" font-weight="bold" fill="#1a1a1a">o</text>
</g>
<g>
<path d="M613.5,1816.9 V2138.7 H1032.4" fill="none" stroke="#686868" stroke-width="1.5"/>
<clipPath id="clip-p"><rect x="612.5" y="1815.9" width="421.9" height="323.8"/></clipPath>
<g clip-path="url(#clip-p)">
<path d="M613.5,1892.2 L616.6,1895.3 L619.7,1898.4 L622.7,1901.5 L625.8,1904.6 L628.9,1907.6 L632,1910.7 L635.1,1913.7 L638.1,1916.7 L641.2,1919.7 L644.3,1922.6 L647.4,1925.6 L650.5,1928.6 L653.5,1931.5 L656.6,1934.5 L659.7,1937.4 L662.8,1940.3 L665.8,1943.2 L668.9,1946.1 L672,1949 L675.1,1951.9 L678.2,1954.7 L681.2,1957.5 L684.3,1960.3 L687.4,1963.1 L690.5,1966 L693.6,1968.9 L696.6,1971.8 L699.7,1974.8 L702.8,1977.8 L705.9,1980.8 L708.9,1981.4 L711.9,1982.1 L714.9,1982.7 L717.9,1983.4 L720.9,1984 L724,1984.7 L727,1985.4 L730,1986 L733,1986.7 L736,1987.4 L739.1,1988 L742.1,1988.7 L745.1,1989.4 L748.1,1990 L751.1,1990.7 L754.1,1991.4 L757.2,1992.1 L760.2,1992.8 L763.2,1993.4 L766.2,1994.1 L769.2,1994.8 L772.2,1995.5 L775.3,1996.2 L778.3,1996.8 L781.3,1997.5 L784.3,1998.2 L787.3,1998.8 L790.3,1999.5 L793.4,2000.1 L796.4,2000.8 L799.4,2001.4 L802.4,2002 L805.4,2002.7 L808.4,2003.3 L811.5,2003.9 L814.5,2004.5 L817.5,2005.1 L820.5,2005.7 L823.5,2006.3 L826.5,2006.9 L829.6,2007.4 L832.6,2008 L835.6,2008.5 L838.6,2009.1 L841.6,2009.6 L844.6,2010.1 L847.7,2010.6 L850.7,2011.1 L853.7,2011.6 L856.7,2012.1 L859.7,2012.5 L862.7,2013 L865.8,2013.4 L868.8,2013.8 L871.8,2014.2 L874.8,2014.6 L877.8,2015 L880.9,2014.4 L883.9,2013.9 L886.9,2013.4 L890,2013 L893,2012.6 L896.1,2012.3 L899.1,2012 L902.1,2011.8 L905.2,2011.6 L908.2,2011.5 L911.3,2011.3 L914.3,2011.2 L917.3,2011.1 L920.4,2011 L923.4,2011 L926.4,2010.9 L929.5,2011 L932.5,2011.1 L935.6,2011.2 L938.6,2011.4 L941.6,2011.6 L944.7,2011.9 L947.7,2009.1 L950.7,2006 L953.7,2002.5 L956.8,1998.8 L959.8,1994.9 L962.8,1990.8 L965.8,1986.5 L968.9,1981.9 L971.9,1976.9 L974.9,1971.8 L977.9,1966.4 L981,1960.9 L984,1955.3 L987,1949.4 L990,1943.4 L993.1,1937.2 L996.1,1931 L999.1,1924.8 L1002.1,1918.7 L1005.2,1912.6 L1008.2,1906.6 L1011.2,1900.5 L1014.2,1894.4 L1017.2,1888.4 L1020.3,1882.5 L1023.3,1876.7 L1026.3,1870.9 L1029.3,1865.2 L1032.4,1859.5 L1032.4,2137.8 L1029.3,2134.1 L1026.3,2130.4 L1023.2,2126.8 L1020.2,2123.3 L1017.1,2119.8 L1014.1,2116.4 L1011,2113 L1008,2109.7 L1004.9,2106.4 L1001.9,2103.2 L998.8,2100.1 L995.8,2097 L992.8,2094 L989.7,2091 L986.7,2088.1 L983.6,2089.9 L980.6,2091.7 L977.6,2093.4 L974.6,2095.1 L971.6,2096.7 L968.6,2098.1 L965.6,2099.5 L962.6,2100.8 L959.6,2102 L956.6,2103.3 L953.5,2104.5 L950.5,2105.6 L947.5,2106.6 L944.5,2107.5 L941.5,2108.3 L938.5,2108.9 L935.5,2109.3 L932.5,2109.7 L929.5,2110 L926.5,2110.2 L923.4,2110.2 L920.4,2110.1 L917.4,2109.9 L914.4,2109.5 L911.4,2108.9 L908.4,2108.1 L905.4,2107.2 L902.4,2106.3 L899.4,2105.2 L896.3,2104.1 L893.3,2103 L890.3,2101.8 L887.3,2100.5 L884.3,2099.2 L881.3,2097.8 L878.3,2096.4 L875.3,2095 L872.3,2093.7 L869.3,2092.4 L866.2,2091.1 L863.2,2089.9 L860.2,2088.7 L857.2,2087.5 L854.2,2086.3 L851.2,2085.1 L848.2,2083.9 L845.2,2082.8 L842.2,2083.3 L839.1,2083.7 L836.1,2084.2 L833.1,2084.6 L830.1,2084.9 L827.1,2085.3 L824.1,2085.5 L821.1,2085.7 L818,2085.9 L815,2086.1 L812,2086.2 L809,2086.3 L806,2086.4 L803,2086.5 L799.9,2086.5 L796.9,2086.6 L793.9,2086.5 L790.9,2086.5 L787.9,2086.3 L784.9,2086.1 L781.9,2085.8 L778.8,2085.5 L775.8,2085.1 L772.8,2084.7 L769.8,2084.2 L766.8,2083.8 L763.8,2083.3 L760.7,2082.7 L757.7,2082.1 L754.7,2081.4 L751.7,2080.6 L748.7,2079.8 L745.7,2078.9 L742.7,2078.1 L739.6,2077.2 L736.6,2076.4 L733.6,2075.5 L730.6,2074.6 L727.6,2073.6 L724.6,2072.7 L721.5,2071.7 L718.5,2070.7 L715.5,2069.7 L712.5,2068.7 L709.5,2067.7 L706.5,2066.6 L703.5,2065.5 L700.4,2064.4 L697.4,2063.2 L694.4,2062 L691.4,2060.8 L688.4,2059.5 L685.4,2058.2 L682.3,2056.7 L679.3,2055.2 L676.3,2053.7 L673.3,2052.1 L670.3,2050.5 L667.3,2048.8 L664.3,2047.1 L661.2,2045.4 L658.2,2043.5 L655.2,2041.7 L652.2,2039.8 L649.2,2037.8 L646.2,2035.8 L613.5,2035.8Z" fill="#d2d2d2"/>
<path d="M613.5,2015.6 L616.5,2016 L619.5,2016.4 L622.6,2016.8 L625.6,2017.1 L628.6,2017.5 L631.6,2017.9 L634.6,2018.3 L637.6,2018.7 L640.6,2019 L643.6,2019.4 L646.7,2019.8 L649.7,2020.1 L652.7,2020.5 L655.7,2020.9 L658.7,2021.2 L661.7,2021.6 L664.7,2021.9 L667.8,2022.3 L670.8,2022.6 L673.8,2023 L676.8,2023.3 L679.8,2023.7 L682.8,2024 L685.8,2024.4 L688.8,2024.7 L691.9,2025 L694.9,2025.4 L697.9,2025.7 L700.9,2026.1 L703.9,2026.4 L706.9,2026.7 L709.9,2027 L713,2027.4 L716,2027.7 L719,2028 L722,2028.3 L725,2028.7 L728,2029 L731,2029.3 L734,2029.6 L737.1,2030 L740.1,2030.3 L743.1,2030.6 L746.1,2030.9 L749.1,2031.2 L752.1,2031.6 L755.1,2031.9 L758.2,2032.2 L761.2,2032.5 L764.2,2032.8 L767.2,2033.1 L770.2,2033.3 L773.2,2033.6 L776.2,2033.9 L779.2,2034.1 L782.3,2034.4 L785.3,2034.7 L788.3,2034.9 L791.3,2035.2 L794.3,2035.4 L797.3,2035.7 L800.3,2035.9 L803.4,2036.1 L806.4,2036.4 L809.4,2036.6 L812.4,2036.8 L815.4,2037 L818.4,2037.2 L821.4,2037.4 L824.4,2037.6 L827.5,2037.7 L830.5,2037.9 L833.5,2038.1 L836.5,2038.2 L839.5,2038.4 L842.5,2038.5 L845.5,2038.7 L848.6,2038.8 L851.6,2038.9 L854.6,2039.1 L857.6,2039.2 L860.6,2039.3 L863.6,2039.4 L866.6,2039.5 L869.6,2039.6 L872.7,2039.7 L875.7,2039.8 L878.7,2039.9 L881.7,2040 L884.7,2040.1 L887.7,2040.2 L890.7,2040.3 L893.8,2040.4 L896.8,2040.5 L899.8,2040.6 L902.8,2040.7 L905.8,2040.7 L908.8,2040.8 L911.8,2040.9 L914.8,2040.9 L917.9,2041 L920.9,2041 L923.9,2041.1 L926.9,2041.1 L929.9,2041.1 L932.9,2041.1 L935.9,2041.1 L939,2041.1 L942,2041.1 L945,2041.1 L948,2041.1 L951,2041.1 L954,2041.1 L957,2041 L960,2041 L963.1,2041 L966.1,2041 L969.1,2040.9 L972.1,2040.9 L975.1,2040.9 L978.1,2040.8 L981.1,2040.8 L984.2,2040.8 L987.2,2040.7 L990.2,2040.7 L993.2,2040.6 L996.2,2040.6 L999.2,2040.5 L1002.2,2040.5 L1005.2,2040.4 L1008.3,2040.4 L1011.3,2040.3 L1014.3,2040.3 L1017.3,2040.2 L1020.3,2040.1 L1023.3,2040.1 L1026.3,2040 L1029.4,2039.9 L1032.4,2039.9" fill="none" stroke="#70787d" stroke-width="1.45"/>
<path d="M613.5,1820.6 L616.5,1821 L619.5,1821.4 L622.5,1821.8 L625.5,1822.2 L628.5,1822.6 L631.5,1823 L634.6,1823.4 L637.6,1823.8 L640.6,1824.3 L643.6,1824.7 L646.6,1825.1 L649.6,1825.5 L652.6,1826 L655.6,1826.4 L658.6,1826.9 L661.6,1826.3 L664.6,1825.7 L667.6,1825.2 L670.6,1824.7 L673.6,1824.3 L676.6,1823.9 L679.6,1823.5 L682.6,1823.2 L685.6,1822.9 L688.6,1822.7 L691.6,1822.4 L694.6,1822.2 L697.6,1822 L700.6,1821.7 L703.6,1821.6 L706.6,1821.4 L709.6,1821.3 L712.6,1821.3 L715.6,1821.3 L718.6,1821.3 L721.6,1821.3 L724.7,1821.4 L727.7,1821.5 L730.7,1821.7 L733.7,1821.8 L736.7,1822 L739.7,1822.3 L742.7,1822.5 L745.7,1822.8 L748.7,1822.6 L751.7,1822.4 L754.7,1822.2 L757.7,1822 L760.7,1821.8 L763.7,1821.5 L766.7,1821.3 L769.7,1821.1 L772.7,1820.9 L775.8,1820.7 L778.8,1820.5 L781.8,1820.3 L784.8,1820.1 L787.8,1819.8 L790.8,1819.6 L793.8,1819.4 L796.8,1819.2 L799.8,1819 L802.8,1818.8 L805.8,1818.6 L808.8,1818.4 L811.9,1818.2 L814.9,1818 L817.9,1817.8 L820.9,1817.7 L823.9,1817.5 L826.9,1817.3 L829.9,1817.2 L832.9,1817.1 L835.9,1817 L838.9,1816.9 L841.9,1816.9 L845,1816.8 L848,1816.9 L851,1816.9 L854,1816.9 L857,1817 L860,1817.1 L863,1817.2 L866,1817.3 L869,1817.5 L872,1817.6 L875,1817.8 L878,1818 L881.1,1818.2 L884.1,1818.5 L887.1,1818.7 L890.1,1819 L893.1,1819.3 L896.1,1819.6 L899.1,1819.8 L902.1,1820.1 L905.1,1820.4 L908.1,1820.7 L911.1,1820.9 L914.1,1821.2 L917.2,1821.5 L920.2,1821.8 L923.2,1822.2 L926.2,1822.5 L929.2,1822.8 L932.2,1823.1 L935.2,1823.5 L938.2,1823.8 L941.2,1824.2 L944.2,1824.5 L947.2,1824.9 L950.3,1825.3 L953.3,1825.6 L956.3,1826 L959.3,1826.4 L962.3,1826.7 L965.3,1827.1 L968.3,1827.4 L971.3,1827.8 L974.3,1828.1 L977.3,1828.4 L980.4,1828.1 L983.4,1827.9 L986.5,1827.6 L989.6,1827.4 L992.6,1827.1 L995.7,1826.9 L998.7,1826.7 L1001.8,1826.5 L1004.8,1826.3 L1007.9,1826.2 L1011,1826 L1014,1825.9 L1017.1,1825.8 L1020.1,1825.7 L1023.2,1825.5 L1026.3,1825.5 L1029.3,1825.4 L1032.4,1825.3 L1032.4,1887.5 L1029.4,1886.6 L1026.4,1885.6 L1023.3,1884.7 L1020.3,1883.8 L1017.3,1882.8 L1014.3,1881.9 L1011.3,1881 L1008.3,1880 L1005.3,1879.1 L1002.3,1878.1 L999.3,1877.2 L996.3,1876.3 L993.3,1875.3 L990.3,1874.3 L987.3,1873.4 L984.2,1872.4 L981.2,1871.4 L978.2,1870.5 L975.2,1869.5 L972.2,1868.5 L969.2,1867.6 L966.2,1866.6 L963.2,1865.7 L960.2,1864.7 L957.2,1863.8 L954.2,1862.9 L951.2,1861.9 L948.1,1861 L945.1,1860.1 L942.1,1859.2 L939.1,1858.3 L936.1,1857.4 L933.1,1856.6 L930.1,1855.8 L927.1,1855.1 L924.1,1854.3 L921.1,1853.6 L918.1,1852.8 L915.1,1852.1 L912.1,1851.5 L909,1850.8 L906,1850.2 L903,1849.6 L900,1849 L897,1848.5 L894,1848 L891,1847.4 L888,1846.9 L885,1846.4 L882,1845.9 L879,1845.5 L876,1845 L873,1844.6 L869.9,1844.3 L866.9,1844 L863.9,1843.9 L860.9,1843.8 L857.9,1843.7 L854.9,1843.6 L851.9,1843.5 L848.8,1843.4 L845.8,1843.3 L842.8,1843.2 L839.8,1843.1 L836.8,1842.9 L833.8,1842.8 L830.7,1842.7 L827.7,1842.6 L824.7,1842.5 L821.7,1842.4 L818.7,1842.2 L815.7,1842.1 L812.6,1842 L809.6,1841.9 L806.6,1841.7 L803.6,1841.6 L800.6,1841.5 L797.5,1841.3 L794.5,1841.2 L791.5,1841 L788.5,1840.9 L785.5,1840.7 L782.5,1840.6 L779.4,1840.4 L776.4,1840.2 L773.4,1840 L770.4,1839.8 L767.4,1839.5 L764.4,1839.2 L761.3,1838.9 L758.3,1838.6 L755.3,1838.4 L752.3,1838.1 L749.3,1837.9 L746.3,1837.8 L743.2,1837.7 L740.2,1837.6 L737.2,1837.5 L734.2,1837.5 L731.2,1837.5 L728.2,1837.6 L725.1,1837.6 L722.1,1837.6 L719.1,1837.7 L716.1,1837.7 L713.1,1837.8 L710.1,1837.8 L707,1837.9 L704,1838.1 L701,1838.2 L698,1838.4 L695,1838.6 L692,1838.9 L688.9,1839.1 L685.9,1839.4 L682.9,1839.8 L679.9,1840.3 L676.9,1841 L673.9,1841.8 L670.8,1842.7 L667.8,1843.6 L664.8,1844.6 L661.8,1845.5 L658.8,1846.4 L655.8,1847.4 L652.7,1848.4 L649.7,1849.6 L646.7,1850.7 L643.7,1851.9 L640.7,1853.2 L637.6,1854.5 L634.6,1855.8 L631.6,1857.3 L628.6,1858.9 L625.6,1860.6 L622.6,1862.3 L619.5,1864.1 L616.5,1866 L613.5,1867.9Z" fill="rgb(243,145,127)" fill-opacity="0.87"/>
<path d="M613.5,1841.5 L616.5,1840.9 L619.5,1840.3 L622.6,1839.8 L625.6,1839.2 L628.6,1838.7 L631.6,1838.2 L634.6,1837.8 L637.6,1837.4 L640.6,1837 L643.6,1836.7 L646.7,1836.4 L649.7,1836.1 L652.7,1835.8 L655.7,1835.5 L658.7,1835.2 L661.7,1835 L664.7,1834.7 L667.8,1834.5 L670.8,1834.3 L673.8,1834.1 L676.8,1833.9 L679.8,1833.7 L682.8,1833.5 L685.8,1833.4 L688.8,1833.2 L691.9,1833.1 L694.9,1833 L697.9,1832.9 L700.9,1832.8 L703.9,1832.7 L706.9,1832.6 L709.9,1832.5 L713,1832.5 L716,1832.5 L719,1832.5 L722,1832.5 L725,1832.5 L728,1832.5 L731,1832.6 L734,1832.6 L737.1,1832.7 L740.1,1832.7 L743.1,1832.8 L746.1,1832.8 L749.1,1832.9 L752.1,1832.9 L755.1,1833 L758.2,1833.1 L761.2,1833.1 L764.2,1833.2 L767.2,1833.2 L770.2,1833.3 L773.2,1833.4 L776.2,1833.4 L779.2,1833.5 L782.3,1833.6 L785.3,1833.6 L788.3,1833.7 L791.3,1833.8 L794.3,1833.9 L797.3,1833.9 L800.3,1834 L803.4,1834.1 L806.4,1834.2 L809.4,1834.2 L812.4,1834.3 L815.4,1834.4 L818.4,1834.4 L821.4,1834.5 L824.4,1834.6 L827.5,1834.6 L830.5,1834.7 L833.5,1834.8 L836.5,1834.8 L839.5,1834.9 L842.5,1834.9 L845.5,1835 L848.6,1835 L851.6,1835.1 L854.6,1835.1 L857.6,1835.2 L860.6,1835.2 L863.6,1835.3 L866.6,1835.4 L869.6,1835.4 L872.7,1835.5 L875.7,1835.5 L878.7,1835.6 L881.7,1835.7 L884.7,1835.8 L887.7,1835.9 L890.7,1836 L893.8,1836 L896.8,1836.1 L899.8,1836.2 L902.8,1836.3 L905.8,1836.4 L908.8,1836.5 L911.8,1836.6 L914.8,1836.7 L917.9,1836.8 L920.9,1836.9 L923.9,1837 L926.9,1837.1 L929.9,1837.1 L932.9,1837.2 L935.9,1837.3 L939,1837.4 L942,1837.4 L945,1837.5 L948,1837.6 L951,1837.6 L954,1837.7 L957,1837.8 L960,1837.8 L963.1,1837.9 L966.1,1838 L969.1,1838 L972.1,1838.1 L975.1,1838.2 L978.1,1838.3 L981.1,1838.3 L984.2,1838.4 L987.2,1838.5 L990.2,1838.6 L993.2,1838.7 L996.2,1838.8 L999.2,1838.8 L1002.2,1838.9 L1005.2,1839 L1008.3,1839.1 L1011.3,1839.2 L1014.3,1839.3 L1017.3,1839.4 L1020.3,1839.5 L1023.3,1839.6 L1026.3,1839.7 L1029.4,1839.8 L1032.4,1839.9" fill="none" stroke="#ec5535" stroke-width="1.6"/>
</g>
<path d="M613.5,2087.4 h4.5 M613.5,2035.8 h4.5 M613.5,1984.2 h4.5 M613.5,1932.6 h4.5 M613.5,1881.3 h4.5 M613.5,1829.7 h4.5 M665.9,2138.7 v-4.5 M718.2,2138.7 v-4.5 M770.6,2138.7 v-4.5 M822.9,2138.7 v-4.5 M875.3,2138.7 v-4.5 M927.7,2138.7 v-4.5 M980,2138.7 v-4.5 M1032.4,2138.7 v-4.5 " stroke="#686868" stroke-width="1.3" fill="none"/>
<g font-size="21.9" fill="#1e1e1e">
<text x="605.4" y="2144.4" text-anchor="end">0</text>
<text x="607.5" y="2093.1" text-anchor="end">50</text>
<text x="607.5" y="2041.5" text-anchor="end">100</text>
<text x="607.5" y="1989.9" text-anchor="end">150</text>
<text x="607.5" y="1938.3" text-anchor="end">200</text>
<text x="607.5" y="1887" text-anchor="end">250</text>
<text x="607.5" y="1835.4" text-anchor="end">300</text>
<text x="616" y="2159.3" text-anchor="middle">0</text>
<text x="672.5" y="2159.3" text-anchor="middle">0.5</text>
<text x="720.7" y="2159.3" text-anchor="middle">1</text>
<text x="777.2" y="2159.3" text-anchor="middle">1.5</text>
<text x="825.4" y="2159.3" text-anchor="middle">2</text>
<text x="881.9" y="2159.3" text-anchor="middle">2.5</text>
<text x="930.2" y="2159.3" text-anchor="middle">3</text>
<text x="986.6" y="2159.3" text-anchor="middle">3.5</text>
<text x="1034.9" y="2159.3" text-anchor="middle">4</text>
</g>
<text x="819.7" y="1810.3" font-size="27.7" text-anchor="middle">Inosine <tspan dx="-8.5" dy="-2" textLength="44.5" lengthAdjust="spacingAndGlyphs">→</tspan><tspan dx="-8.5" dy="2"> R1P + Hypoxanthine</tspan></text>
<text x="837.4" y="2185.7" font-size="27.7" text-anchor="middle">time post RT (h)</text>
<text transform="translate(559.7,1978.4) rotate(-90)" font-size="27" text-anchor="middle">Flux (pmol/mg/h)</text>
<text x="539.8" y="1802" font-size="31.5" font-weight="bold" fill="#1a1a1a">p</text>
</g>
<g>
<path d="M1140.6,1816.9 V2138.7 H1559.1" fill="none" stroke="#383838" stroke-width="1.1"/>
<clipPath id="clip-q"><rect x="1139.6" y="1815.9" width="421.5" height="323.8"/></clipPath>
<g clip-path="url(#clip-q)">
<path d="M1140.6,2072.5 L1163.3,2068.5 L1166.3,2060.4 L1169.3,2052.4 L1172.4,2044.5 L1175.4,2036.7 L1178.4,2028.9 L1181.4,2021.1 L1184.5,2013.7 L1187.5,2006.8 L1190.5,2000.3 L1193.5,1994.1 L1196.6,1988.1 L1199.6,1982.4 L1202.6,1976.8 L1205.6,1971.4 L1208.7,1966.1 L1211.7,1960.9 L1214.7,1955.9 L1217.7,1951.1 L1220.8,1946.6 L1223.8,1942.3 L1226.8,1938 L1229.8,1933.9 L1232.9,1929.9 L1235.9,1926.1 L1238.9,1922.6 L1241.9,1919.2 L1245,1916.1 L1248,1913.1 L1251,1910.1 L1254,1907.3 L1257.1,1904.5 L1260.1,1902 L1263.1,1899.7 L1266.1,1897.6 L1269.2,1895.8 L1272.2,1894 L1275.2,1892.2 L1278.2,1890.5 L1281.3,1889 L1284.3,1887.6 L1287.3,1886.4 L1290.3,1885.5 L1293.4,1884.8 L1296.4,1884.2 L1299.4,1883.8 L1302.4,1883.3 L1305.5,1883 L1308.5,1882.8 L1311.5,1882.8 L1314.5,1882.9 L1317.6,1883.1 L1320.6,1883.6 L1323.6,1884.2 L1326.7,1884.9 L1329.7,1885.7 L1332.7,1886.6 L1335.7,1887.5 L1338.8,1888.5 L1341.8,1889.8 L1344.8,1891.4 L1347.8,1893.2 L1350.9,1895.2 L1353.9,1897.3 L1356.9,1899.4 L1359.9,1901.7 L1363,1904.2 L1366,1907.1 L1369,1910.2 L1372,1913.4 L1375.1,1916.8 L1378.1,1920.2 L1381.1,1923.7 L1384.1,1927.4 L1387.2,1931.4 L1390.2,1935.5 L1393.2,1939.7 L1396.2,1944 L1399.3,1948.3 L1402.3,1952.8 L1405.3,1957.4 L1408.3,1962 L1411.4,1966.5 L1414.4,1970.8 L1417.4,1975.1 L1420.4,1979.2 L1423.5,1977.3 L1426.6,1975.4 L1429.6,1973.7 L1432.7,1972.4 L1435.7,1971.3 L1438.8,1970.5 L1441.9,1969.8 L1444.9,1969.1 L1448,1968.7 L1451.1,1968.4 L1454.1,1968.3 L1457.2,1968.6 L1460.2,1969.1 L1463.3,1969.8 L1466.4,1970.8 L1469.4,1971.8 L1472.5,1972.9 L1475.5,1974.3 L1478.6,1976 L1481.7,1977.9 L1484.7,1980 L1487.8,1982.1 L1490.9,1984.1 L1493.9,1986.2 L1497,1988.4 L1500,1990.7 L1503.2,1981.8 L1506.3,1972.8 L1509.4,1963.8 L1512.5,1954.6 L1515.6,1945.4 L1518.7,1936.1 L1521.8,1926.7 L1524.9,1917.3 L1528,1908 L1531.1,1898.7 L1534.2,1889.4 L1537.4,1880 L1540.5,1870.6 L1543.6,1861.2 L1546.7,1851.8 L1549.8,1842.6 L1552.9,1833.8 L1556,1825.2 L1559.1,1816.9 L1559.1,2137.2 L1556,2135 L1552.8,2132.8 L1549.6,2130.6 L1546.5,2128.5 L1543.3,2126.3 L1540.2,2124.1 L1537,2121.8 L1533.8,2119.6 L1530.7,2117.5 L1527.5,2115.5 L1524.3,2113.9 L1521.2,2112.3 L1518,2110.9 L1514.9,2109.5 L1511.7,2108.2 L1508.5,2107.1 L1505.4,2106 L1502.2,2105.2 L1499.2,2105.7 L1496.1,2106.2 L1493.1,2106.7 L1490,2107.1 L1487,2107.6 L1483.9,2108 L1480.9,2108.4 L1477.8,2108.9 L1474.8,2109.3 L1471.7,2109.8 L1468.7,2110.2 L1465.6,2110.6 L1462.6,2110.9 L1459.5,2111.2 L1456.5,2111.3 L1453.4,2111.4 L1450.4,2111.4 L1447.3,2111.3 L1444.3,2111.3 L1441.2,2111.2 L1438.2,2111.1 L1435.1,2111 L1432.1,2110.8 L1429,2110.5 L1426,2110.2 L1422.9,2109.8 L1419.9,2110.2 L1416.9,2110.5 L1413.9,2110.9 L1410.9,2111.2 L1407.9,2111.6 L1404.9,2112 L1401.9,2112.4 L1398.9,2112.8 L1395.9,2113.2 L1392.9,2113.7 L1389.9,2114.1 L1386.9,2114.6 L1383.9,2115 L1380.9,2115.5 L1377.9,2116 L1374.9,2116.4 L1371.9,2116.9 L1368.9,2117.3 L1365.9,2117.8 L1362.9,2118.2 L1359.8,2118.6 L1356.8,2119 L1353.8,2119.4 L1350.8,2119.9 L1347.8,2120.3 L1344.8,2120.7 L1341.8,2121.1 L1338.8,2121.5 L1335.8,2121.9 L1332.8,2122.3 L1329.8,2122.7 L1326.8,2123 L1323.8,2123.4 L1320.8,2123.8 L1317.8,2124.1 L1314.8,2124.4 L1311.8,2124.8 L1308.8,2125.1 L1305.8,2125.5 L1302.8,2125.8 L1299.8,2126.2 L1296.8,2126.5 L1293.8,2126.8 L1290.8,2127.1 L1287.8,2127.4 L1284.8,2127.7 L1281.8,2128 L1278.7,2128.3 L1275.7,2128.6 L1272.7,2128.9 L1269.7,2129.1 L1266.7,2129.4 L1263.7,2129.6 L1260.7,2129.9 L1257.7,2130.1 L1254.7,2130.3 L1251.7,2130.4 L1248.7,2130.6 L1245.7,2130.8 L1242.7,2130.9 L1239.7,2131.1 L1236.7,2131.2 L1233.7,2131.3 L1230.7,2131.5 L1227.7,2131.6 L1224.7,2131.7 L1221.7,2131.9 L1218.7,2132 L1215.7,2132.1 L1212.7,2132.3 L1209.7,2132.4 L1206.7,2132.5 L1203.7,2132.7 L1200.7,2132.9 L1197.6,2133 L1194.6,2133.2 L1191.6,2133.4 L1188.6,2133.6 L1185.6,2133.8 L1182.6,2134 L1179.6,2134.2 L1176.6,2134.4 L1173.6,2134.6 L1170.6,2134.9 L1167.6,2135.1 L1164.6,2135.3 L1161.6,2135.5 L1158.6,2135.8 L1155.6,2136 L1152.6,2136.2 L1149.6,2136.5 L1146.6,2136.7 L1143.6,2136.9 L1140.6,2137.2Z" fill="#d2d2d2"/>
<path d="M1140.6,2134.7 L1143.6,2134 L1146.6,2133.3 L1149.6,2132.5 L1152.6,2131.8 L1155.6,2131.1 L1158.6,2130.4 L1161.7,2129.7 L1164.7,2128.9 L1167.7,2128.2 L1170.7,2127.5 L1173.7,2126.8 L1176.7,2126.1 L1179.7,2125.4 L1182.7,2124.7 L1185.7,2123.9 L1188.8,2123.2 L1191.8,2122.5 L1194.8,2121.8 L1197.8,2121.1 L1200.8,2120.3 L1203.8,2119.6 L1206.8,2118.9 L1209.8,2118.2 L1212.8,2117.4 L1215.9,2116.7 L1218.9,2116 L1221.9,2115.2 L1224.9,2114.5 L1227.9,2113.8 L1230.9,2113.1 L1233.9,2112.4 L1236.9,2111.7 L1239.9,2111.1 L1243,2110.4 L1246,2109.8 L1249,2109.1 L1252,2108.5 L1255,2107.9 L1258,2107.3 L1261,2106.7 L1264,2106.1 L1267,2105.5 L1270.1,2104.9 L1273.1,2104.3 L1276.1,2103.7 L1279.1,2103.2 L1282.1,2102.6 L1285.1,2102.1 L1288.1,2101.6 L1291.1,2101.1 L1294.1,2100.6 L1297.2,2100.1 L1300.2,2099.6 L1303.2,2099.2 L1306.2,2098.7 L1309.2,2098.2 L1312.2,2097.8 L1315.2,2097.3 L1318.2,2096.9 L1321.2,2096.5 L1324.3,2096.1 L1327.3,2095.6 L1330.3,2095.2 L1333.3,2094.8 L1336.3,2094.5 L1339.3,2094.1 L1342.3,2093.7 L1345.3,2093.4 L1348.3,2093 L1351.4,2092.7 L1354.4,2092.4 L1357.4,2092.1 L1360.4,2091.8 L1363.4,2091.5 L1366.4,2091.1 L1369.4,2090.8 L1372.4,2090.5 L1375.4,2090.2 L1378.5,2090 L1381.5,2089.7 L1384.5,2089.4 L1387.5,2089.2 L1390.5,2088.9 L1393.5,2088.7 L1396.5,2088.5 L1399.5,2088.3 L1402.5,2088.1 L1405.6,2088 L1408.6,2087.8 L1411.6,2087.7 L1414.6,2087.6 L1417.6,2087.4 L1420.6,2087.3 L1423.6,2087.2 L1426.6,2087 L1429.6,2086.9 L1432.7,2086.8 L1435.7,2086.7 L1438.7,2086.6 L1441.7,2086.5 L1444.7,2086.4 L1447.7,2086.3 L1450.7,2086.3 L1453.7,2086.2 L1456.7,2086.2 L1459.8,2086.2 L1462.8,2086.1 L1465.8,2086.1 L1468.8,2086.1 L1471.8,2086.1 L1474.8,2086.1 L1477.8,2086.1 L1480.8,2086.1 L1483.8,2086.1 L1486.9,2086.1 L1489.9,2086.2 L1492.9,2086.2 L1495.9,2086.3 L1498.9,2086.3 L1501.9,2086.4 L1504.9,2086.5 L1507.9,2086.6 L1510.9,2086.7 L1514,2086.8 L1517,2086.9 L1520,2087 L1523,2087.1 L1526,2087.3 L1529,2087.4 L1532,2087.5 L1535,2087.7 L1538,2087.8 L1541.1,2088 L1544.1,2088.1 L1547.1,2088.3 L1550.1,2088.5 L1553.1,2088.6 L1556.1,2088.8 L1559.1,2089" fill="none" stroke="#70787d" stroke-width="1.45"/>
<path d="M1140.6,1963.7 L1143.7,1967.2 L1146.7,1970.7 L1149.8,1974.1 L1152.9,1977.6 L1156,1981 L1159.1,1984.4 L1162.1,1987.8 L1165.2,1991.3 L1168.3,1994.7 L1171.4,1998 L1174.5,2001.3 L1177.6,2004.4 L1180.6,2007.4 L1183.7,2010.3 L1186.8,2013.1 L1189.9,2015.7 L1193,2018.2 L1196,2020.6 L1199.1,2022.9 L1202.2,2025.1 L1205.3,2027.1 L1208.4,2029 L1211.5,2029.1 L1214.6,2029.2 L1217.7,2029.4 L1220.8,2029.5 L1223.9,2029.6 L1227,2029.8 L1230.1,2029.9 L1233.2,2030.1 L1236.4,2030.2 L1239.5,2030.4 L1242.6,2030.5 L1245.7,2030.7 L1248.8,2030.9 L1251.9,2031 L1255,2031.2 L1258.1,2031.4 L1261.2,2031.5 L1264.3,2031.7 L1267.4,2031.9 L1270.6,2032.1 L1273.6,2031.4 L1276.6,2030.8 L1279.7,2030.2 L1282.7,2029.5 L1285.7,2028.9 L1288.8,2028.2 L1291.8,2027.5 L1294.8,2026.9 L1297.9,2026.2 L1300.9,2025.5 L1303.9,2024.8 L1307,2024 L1310,2023.3 L1313,2022.7 L1316.1,2022 L1319.1,2021.4 L1322.1,2020.9 L1325.2,2020.3 L1328.2,2019.8 L1331.2,2019.2 L1334.3,2018.7 L1337.3,2018.3 L1340.3,2017.8 L1343.4,2017.4 L1346.4,2017 L1349.4,2016.7 L1352.5,2016.4 L1355.5,2016.2 L1358.5,2016.1 L1361.6,2015.9 L1364.6,2015.8 L1367.6,2015.6 L1370.7,2015.5 L1373.7,2015.4 L1376.7,2015.2 L1379.8,2015 L1382.8,2014.7 L1385.8,2014.4 L1388.9,2014.1 L1391.9,2013.8 L1394.9,2013.4 L1398,2012.2 L1401,2010.8 L1404.1,2009.4 L1407.1,2007.8 L1410.1,2006.2 L1413.2,2004.5 L1416.2,2002.8 L1419.3,2001 L1422.3,1999.2 L1425.3,1997.2 L1428.4,1995.2 L1431.4,1993.1 L1434.5,1991 L1437.5,1988.9 L1440.5,1986.8 L1443.6,1984.7 L1446.6,1982.5 L1449.7,1980.4 L1452.7,1978.2 L1455.7,1976 L1458.8,1973.8 L1461.8,1971.6 L1464.9,1969.4 L1467.9,1967.1 L1471,1964.9 L1474,1962.7 L1477,1960.5 L1480.1,1958.4 L1483.1,1956.2 L1486.2,1954 L1489.2,1951.8 L1492.2,1949.6 L1495.3,1947.4 L1498.3,1945.2 L1501.4,1942.9 L1504.4,1940.7 L1507.4,1938.4 L1510.5,1936.1 L1513.5,1933.8 L1516.6,1931.5 L1519.6,1929.1 L1522.6,1926.6 L1525.7,1924.2 L1528.7,1921.6 L1531.8,1919 L1534.8,1916.4 L1537.8,1913.6 L1540.9,1910.8 L1543.9,1908 L1547,1905.1 L1550,1902.1 L1553,1899.2 L1556.1,1896.1 L1559.1,1893.1 L1559.1,2035.8 L1513.1,2035.8 L1510.1,2036.5 L1507.1,2037.3 L1504.1,2038 L1501,2038.7 L1498,2039.4 L1495,2040.1 L1492,2040.7 L1489,2041.4 L1486,2042.1 L1482.9,2042.8 L1479.9,2043.4 L1476.9,2044.1 L1473.9,2044.8 L1470.9,2045.5 L1467.9,2046.2 L1464.9,2046.9 L1461.8,2047.6 L1458.8,2048.2 L1455.8,2048.8 L1452.8,2049.4 L1449.8,2050 L1446.8,2050.4 L1443.8,2050.9 L1440.7,2051.3 L1437.7,2051.7 L1434.7,2052 L1431.7,2052.4 L1428.7,2052.7 L1425.7,2053.1 L1422.6,2053.4 L1419.6,2053.7 L1416.6,2054 L1413.6,2054.2 L1410.6,2054.5 L1407.6,2054.7 L1404.6,2055 L1401.5,2055.2 L1398.5,2055.4 L1395.5,2055.6 L1392.5,2055.8 L1389.5,2056 L1386.5,2056.2 L1383.4,2056.4 L1380.4,2056.6 L1377.4,2056.8 L1374.4,2056.9 L1371.4,2057.1 L1368.4,2057.3 L1365.4,2057.4 L1362.3,2057.6 L1359.3,2057.7 L1356.3,2057.8 L1353.3,2057.9 L1350.3,2057.9 L1347.3,2058 L1344.2,2058 L1341.2,2058 L1338.2,2058 L1335.2,2058 L1332.2,2058 L1329.2,2057.9 L1326.2,2057.9 L1323.1,2057.8 L1320.1,2057.7 L1317.1,2057.7 L1314.1,2057.6 L1311.1,2058.2 L1308,2058.9 L1305,2059.5 L1302,2060.1 L1298.9,2060.7 L1295.9,2061.3 L1292.9,2061.9 L1289.8,2062.5 L1286.8,2063 L1283.8,2063.5 L1280.7,2064 L1277.7,2064.5 L1274.7,2064.9 L1271.6,2065.4 L1268.6,2065.8 L1265.6,2066.2 L1262.5,2066.6 L1259.5,2066.9 L1256.5,2067.1 L1253.4,2067.3 L1250.4,2067.3 L1247.4,2067.3 L1244.3,2067.2 L1241.3,2067 L1238.2,2066.8 L1235.2,2066.5 L1232.2,2066.2 L1229.1,2065.8 L1226.1,2065.2 L1223.1,2064.6 L1220,2063.9 L1217,2063.1 L1214,2062.3 L1210.9,2061.5 L1207.9,2060.6 L1204.9,2059.6 L1201.8,2058.6 L1198.8,2057.5 L1195.8,2056.3 L1192.7,2055.1 L1189.7,2053.9 L1186.6,2054.5 L1183.6,2055.1 L1180.5,2055.7 L1177.4,2056.4 L1174.4,2057 L1171.3,2057.7 L1168.2,2058.5 L1165.1,2059.2 L1162.1,2059.9 L1159,2060.7 L1155.9,2061.5 L1152.9,2062.3 L1149.8,2063.1 L1146.7,2063.9 L1143.7,2064.8 L1140.6,2065.7Z" fill="rgb(243,145,127)" fill-opacity="0.87"/>
<path d="M1140.6,2027.4 L1143.6,2028.3 L1146.6,2029.3 L1149.6,2030.2 L1152.6,2031 L1155.6,2031.9 L1158.6,2032.7 L1161.7,2033.6 L1164.7,2034.4 L1167.7,2035.1 L1170.7,2035.9 L1173.7,2036.6 L1176.7,2037.4 L1179.7,2038.1 L1182.7,2038.8 L1185.7,2039.5 L1188.8,2040.1 L1191.8,2040.6 L1194.8,2041.1 L1197.8,2041.6 L1200.8,2042.1 L1203.8,2042.5 L1206.8,2043 L1209.8,2043.4 L1212.8,2043.7 L1215.9,2044.1 L1218.9,2044.4 L1221.9,2044.6 L1224.9,2044.8 L1227.9,2045.1 L1230.9,2045.3 L1233.9,2045.5 L1236.9,2045.7 L1239.9,2045.9 L1243,2046 L1246,2046.1 L1249,2046.1 L1252,2046 L1255,2046 L1258,2046 L1261,2045.9 L1264,2045.8 L1267,2045.7 L1270.1,2045.7 L1273.1,2045.6 L1276.1,2045.5 L1279.1,2045.4 L1282.1,2045.3 L1285.1,2045.2 L1288.1,2045.1 L1291.1,2044.9 L1294.1,2044.8 L1297.2,2044.7 L1300.2,2044.6 L1303.2,2044.5 L1306.2,2044.3 L1309.2,2044.2 L1312.2,2044.1 L1315.2,2044 L1318.2,2043.8 L1321.2,2043.7 L1324.3,2043.5 L1327.3,2043.4 L1330.3,2043.3 L1333.3,2043.1 L1336.3,2043 L1339.3,2042.8 L1342.3,2042.7 L1345.3,2042.5 L1348.3,2042.4 L1351.4,2042.2 L1354.4,2042 L1357.4,2041.9 L1360.4,2041.7 L1363.4,2041.5 L1366.4,2041.4 L1369.4,2041.2 L1372.4,2041 L1375.4,2040.8 L1378.5,2040.6 L1381.5,2040.5 L1384.5,2040.3 L1387.5,2040.1 L1390.5,2039.9 L1393.5,2039.7 L1396.5,2039.5 L1399.5,2039.3 L1402.5,2039 L1405.6,2038.8 L1408.6,2038.6 L1411.6,2038.4 L1414.6,2038.2 L1417.6,2037.9 L1420.6,2037.7 L1423.6,2037.4 L1426.6,2037.2 L1429.6,2036.9 L1432.7,2036.7 L1435.7,2036.4 L1438.7,2036.2 L1441.7,2035.9 L1444.7,2035.7 L1447.7,2035.4 L1450.7,2035.1 L1453.7,2034.9 L1456.7,2034.6 L1459.8,2034.3 L1462.8,2034.1 L1465.8,2033.8 L1468.8,2033.5 L1471.8,2033.3 L1474.8,2033 L1477.8,2032.7 L1480.8,2032.4 L1483.8,2032.1 L1486.9,2031.9 L1489.9,2031.6 L1492.9,2031.3 L1495.9,2031 L1498.9,2030.7 L1501.9,2030.4 L1504.9,2030.1 L1507.9,2029.8 L1510.9,2029.5 L1514,2029.2 L1517,2028.9 L1520,2028.6 L1523,2028.3 L1526,2028 L1529,2027.6 L1532,2027.3 L1535,2027 L1538,2026.7 L1541.1,2026.3 L1544.1,2026 L1547.1,2025.7 L1550.1,2025.3 L1553.1,2025 L1556.1,2024.7 L1559.1,2024.3" fill="none" stroke="#ec5535" stroke-width="1.6"/>
</g>
<path d="M1140.6,2094.6 h4.5 M1140.6,2050.4 h4.5 M1140.6,2006.3 h4.5 M1140.6,1962.1 h4.5 M1140.6,1918 h4.5 M1140.6,1873.8 h4.5 M1140.6,1829.7 h4.5 M1192.9,2138.7 v-4.5 M1245.2,2138.7 v-4.5 M1297.5,2138.7 v-4.5 M1349.9,2138.7 v-4.5 M1402.2,2138.7 v-4.5 M1454.5,2138.7 v-4.5 M1506.8,2138.7 v-4.5 M1559.1,2138.7 v-4.5 " stroke="#383838" stroke-width="1.0" fill="none"/>
<g font-size="21.9" fill="#1e1e1e">
<text x="1132.2" y="2144.4" text-anchor="end">0</text>
<text x="1134.6" y="2100.3" text-anchor="end">20</text>
<text x="1134.6" y="2056.1" text-anchor="end">40</text>
<text x="1134.6" y="2012" text-anchor="end">60</text>
<text x="1134.6" y="1967.8" text-anchor="end">80</text>
<text x="1134.6" y="1923.7" text-anchor="end">100</text>
<text x="1134.6" y="1879.5" text-anchor="end">120</text>
<text x="1134.6" y="1835.4" text-anchor="end">140</text>
<text x="1139.1" y="2156.5" text-anchor="middle">0</text>
<text x="1195.5" y="2156.5" text-anchor="middle">0.5</text>
<text x="1243.7" y="2156.5" text-anchor="middle">1</text>
<text x="1300.1" y="2156.5" text-anchor="middle">1.5</text>
<text x="1348.4" y="2156.5" text-anchor="middle">2</text>
<text x="1404.8" y="2156.5" text-anchor="middle">2.5</text>
<text x="1453" y="2156.5" text-anchor="middle">3</text>
<text x="1509.4" y="2156.5" text-anchor="middle">3.5</text>
<text x="1557.6" y="2156.5" text-anchor="middle">4</text>
</g>
<text x="1338.3" y="1810.3" font-size="27.7" text-anchor="middle">Adenosine <tspan dx="-8.5" dy="-2" textLength="44.5" lengthAdjust="spacingAndGlyphs">→</tspan><tspan dx="-8.5" dy="2"> Inosine</tspan></text>
<text x="1366.2" y="2185.1" font-size="27.7" text-anchor="middle">time post RT (h)</text>
<text transform="translate(1092.4,1978.4) rotate(-90)" font-size="27" text-anchor="middle">Flux (pmol/mg/h)</text>
<text x="1068.4" y="1802" font-size="31.5" font-weight="bold" fill="#1a1a1a">q</text>
</g>
<g>
<path d="M1685.1,1816.9 V2138.7 H2103.9" fill="none" stroke="#686868" stroke-width="1.5"/>
<clipPath id="clip-r"><rect x="1684.1" y="1815.9" width="421.9" height="323.8"/></clipPath>
<g clip-path="url(#clip-r)">
<path d="M1685.1,1982.3 L1688.2,1983.6 L1691.3,1984.9 L1694.4,1986.1 L1697.5,1987.4 L1700.6,1988.6 L1703.7,1989.8 L1706.8,1991 L1709.9,1992.3 L1713,1993.5 L1716.2,1994.7 L1719.3,1995.9 L1722.4,1997.1 L1725.5,1998.3 L1728.6,1999.5 L1731.7,2000.7 L1734.8,2001.9 L1737.9,2003 L1741,2004.2 L1744.1,2005.4 L1747.3,2006.6 L1750.4,2007.8 L1753.4,2006.6 L1756.4,2005.4 L1759.5,2004.2 L1762.5,2003 L1765.5,2001.9 L1768.6,2000.8 L1771.6,1999.7 L1774.6,1998.6 L1777.6,1997.6 L1780.7,1996.6 L1783.7,1995.5 L1786.7,1994.5 L1789.8,1993.5 L1792.8,1992.5 L1795.8,1991.5 L1798.9,1990.7 L1801.9,1989.9 L1804.9,1989.1 L1808,1988.5 L1811,1988 L1814,1987.5 L1817.1,1986.9 L1820.1,1986.5 L1823.1,1986 L1826.2,1985.6 L1829.2,1985.3 L1832.2,1985 L1835.3,1984.7 L1838.3,1984.5 L1841.3,1984.4 L1844.3,1984.3 L1847.4,1984.3 L1850.4,1984.2 L1853.4,1984.2 L1856.5,1984.3 L1859.5,1984.3 L1862.5,1984.4 L1865.6,1984.6 L1868.6,1984.8 L1871.6,1985.1 L1874.7,1985.5 L1877.7,1985.9 L1880.7,1986.3 L1883.8,1986.8 L1886.8,1987.3 L1889.8,1987.8 L1892.9,1988.4 L1895.9,1989 L1898.9,1989.7 L1902,1990.4 L1905,1991.1 L1908,1991.9 L1911,1992.6 L1914.1,1993.3 L1917.1,1994.1 L1920.1,1994.8 L1923.2,1995.5 L1926.2,1996.3 L1929.2,1997.1 L1932.3,1997.9 L1935.3,1996.7 L1938.3,1995.5 L1941.4,1994.3 L1944.4,1993.2 L1947.4,1992 L1950.5,1990.9 L1953.5,1989.8 L1956.5,1988.8 L1959.6,1987.7 L1962.6,1986.6 L1965.6,1985.5 L1968.7,1984.4 L1971.7,1983.5 L1974.7,1982.6 L1977.7,1981.9 L1980.8,1981.4 L1983.8,1981 L1986.8,1980.6 L1989.9,1980.3 L1992.9,1980.2 L1995.9,1980.1 L1999,1980.2 L2002,1980.4 L2005,1980.7 L2008.1,1981.1 L2011.1,1981.5 L2014.1,1982 L2017.2,1982.5 L2020.2,1983.1 L2023.2,1983.8 L2026.3,1984.6 L2029.3,1985.4 L2032.4,1982.2 L2035.5,1978.3 L2038.6,1973.9 L2041.7,1969.2 L2044.8,1964.2 L2047.9,1958.8 L2051.1,1952.9 L2054.2,1946.5 L2057.3,1939.7 L2060.4,1932.7 L2063.5,1925.1 L2066.6,1917 L2069.7,1908.7 L2072.8,1900.3 L2075.9,1892.1 L2079,1884.1 L2082.1,1876.1 L2085.3,1868 L2088.4,1859.9 L2091.5,1851.6 L2094.6,1843.1 L2097.7,1834.5 L2100.8,1825.8 L2103.9,1816.9 L2103.9,2137.8 L2100.9,2133.3 L2097.8,2128.9 L2094.7,2124.7 L2091.7,2120.6 L2088.6,2116.7 L2085.5,2113 L2082.5,2109.4 L2079.4,2105.9 L2076.3,2102.6 L2073.3,2099.5 L2070.2,2096.4 L2067.2,2093.5 L2064.1,2090.7 L2061,2088 L2058,2085.3 L2054.9,2082.8 L2051.8,2080.3 L2048.8,2077.9 L2045.7,2075.6 L2042.7,2073.4 L2039.6,2074.4 L2036.6,2075.3 L2033.6,2076.2 L2030.5,2077.1 L2027.5,2077.9 L2024.4,2078.6 L2021.4,2079.3 L2018.4,2079.8 L2015.3,2080.4 L2012.3,2080.9 L2009.3,2081.4 L2006.2,2081.8 L2003.2,2082.2 L2000.2,2082.5 L1997.1,2082.7 L1994.1,2082.8 L1991.1,2082.8 L1988,2082.6 L1985,2082.5 L1981.9,2082.2 L1978.9,2081.9 L1975.9,2081.6 L1972.8,2081.2 L1969.8,2080.8 L1966.8,2080.3 L1963.7,2079.8 L1960.7,2079.3 L1957.7,2078.6 L1954.6,2077.9 L1951.6,2077.2 L1948.6,2076.4 L1945.5,2075.7 L1942.5,2074.9 L1939.5,2074.2 L1936.4,2073.4 L1933.4,2072.7 L1930.3,2071.9 L1927.3,2071.1 L1924.3,2070.3 L1921.2,2069.5 L1918.2,2068.7 L1915.2,2067.8 L1912.1,2068.3 L1909.1,2068.8 L1906,2069.3 L1903,2069.8 L1899.9,2070.2 L1896.9,2070.7 L1893.9,2071 L1890.8,2071.4 L1887.8,2071.7 L1884.7,2072 L1881.7,2072.2 L1878.6,2072.5 L1875.6,2072.7 L1872.6,2072.9 L1869.5,2073.1 L1866.5,2073.3 L1863.4,2073.5 L1860.4,2073.7 L1857.3,2073.8 L1854.3,2073.9 L1851.3,2074 L1848.2,2074.1 L1845.2,2074.1 L1842.1,2074.1 L1839.1,2074 L1836,2073.9 L1833,2073.9 L1830,2073.7 L1826.9,2073.6 L1823.9,2073.5 L1820.8,2073.3 L1817.8,2073.1 L1814.7,2072.9 L1811.7,2072.8 L1808.6,2072.6 L1805.6,2072.3 L1802.6,2072.1 L1799.5,2071.8 L1796.5,2071.4 L1793.4,2071.1 L1790.4,2070.7 L1787.3,2070.2 L1784.3,2069.8 L1781.3,2069.3 L1778.2,2068.8 L1775.2,2068.3 L1772.1,2067.8 L1769.1,2069 L1766.1,2070.1 L1763.1,2071.2 L1760.1,2072.3 L1757.1,2073.5 L1754.1,2074.6 L1751.1,2075.8 L1748.1,2076.9 L1745.1,2078.1 L1742.1,2079.3 L1739.1,2080.4 L1736.1,2081.6 L1733.1,2082.8 L1730.1,2084 L1727.1,2085.2 L1724.1,2086.4 L1721.1,2087.6 L1718.1,2088.8 L1715.1,2090 L1712.1,2091.2 L1709.1,2092.4 L1706.1,2093.6 L1703.1,2094.8 L1700.1,2096 L1697.1,2097.2 L1694.1,2098.4 L1691.1,2099.6 L1688.1,2100.8 L1685.1,2102Z" fill="#d2d2d2"/>
<path d="M1685.1,2043.9 L1688.1,2043.8 L1691.1,2043.7 L1694.1,2043.6 L1697.1,2043.5 L1700.1,2043.4 L1703.1,2043.4 L1706.2,2043.3 L1709.2,2043.2 L1712.2,2043.1 L1715.2,2043 L1718.2,2042.9 L1721.2,2042.8 L1724.2,2042.7 L1727.2,2042.6 L1730.3,2042.6 L1733.3,2042.5 L1736.3,2042.4 L1739.3,2042.3 L1742.3,2042.2 L1745.3,2042.1 L1748.3,2042.1 L1751.4,2042 L1754.4,2041.9 L1757.4,2041.8 L1760.4,2041.7 L1763.4,2041.7 L1766.4,2041.6 L1769.4,2041.5 L1772.4,2041.4 L1775.5,2041.4 L1778.5,2041.3 L1781.5,2041.2 L1784.5,2041.2 L1787.5,2041.1 L1790.5,2041 L1793.5,2041 L1796.6,2040.9 L1799.6,2040.8 L1802.6,2040.8 L1805.6,2040.7 L1808.6,2040.7 L1811.6,2040.6 L1814.6,2040.5 L1817.6,2040.5 L1820.7,2040.4 L1823.7,2040.4 L1826.7,2040.3 L1829.7,2040.3 L1832.7,2040.2 L1835.7,2040.2 L1838.7,2040.1 L1841.8,2040.1 L1844.8,2040 L1847.8,2040 L1850.8,2039.9 L1853.8,2039.9 L1856.8,2039.8 L1859.8,2039.8 L1862.8,2039.7 L1865.9,2039.7 L1868.9,2039.6 L1871.9,2039.6 L1874.9,2039.5 L1877.9,2039.5 L1880.9,2039.4 L1883.9,2039.4 L1887,2039.4 L1890,2039.3 L1893,2039.3 L1896,2039.2 L1899,2039.2 L1902,2039.1 L1905,2039.1 L1908,2039.1 L1911.1,2039 L1914.1,2039 L1917.1,2039 L1920.1,2039 L1923.1,2038.9 L1926.1,2038.9 L1929.1,2038.9 L1932.2,2038.9 L1935.2,2038.9 L1938.2,2038.8 L1941.2,2038.8 L1944.2,2038.8 L1947.2,2038.8 L1950.2,2038.7 L1953.2,2038.7 L1956.3,2038.7 L1959.3,2038.7 L1962.3,2038.6 L1965.3,2038.6 L1968.3,2038.6 L1971.3,2038.5 L1974.3,2038.5 L1977.4,2038.5 L1980.4,2038.4 L1983.4,2038.4 L1986.4,2038.3 L1989.4,2038.3 L1992.4,2038.2 L1995.4,2038.2 L1998.4,2038.1 L2001.5,2038 L2004.5,2037.9 L2007.5,2037.8 L2010.5,2037.7 L2013.5,2037.6 L2016.5,2037.5 L2019.5,2037.4 L2022.6,2037.3 L2025.6,2037.1 L2028.6,2037 L2031.6,2036.9 L2034.6,2036.8 L2037.6,2036.7 L2040.6,2036.5 L2043.6,2036.4 L2046.7,2036.3 L2049.7,2036.2 L2052.7,2036 L2055.7,2035.9 L2058.7,2035.8 L2061.7,2035.7 L2064.7,2035.5 L2067.8,2035.4 L2070.8,2035.3 L2073.8,2035.1 L2076.8,2035 L2079.8,2034.8 L2082.8,2034.7 L2085.8,2034.5 L2088.8,2034.4 L2091.9,2034.2 L2094.9,2034.1 L2097.9,2033.9 L2100.9,2033.8 L2103.9,2033.6" fill="none" stroke="#70787d" stroke-width="1.45"/>
<path d="M1685.1,2103.6 L1688.3,2105.6 L1691.6,2107.5 L1694.9,2109.3 L1698.1,2110.9 L1701.4,2112.5 L1704.7,2114 L1707.9,2115.4 L1711.2,2116.7 L1714.4,2118 L1717.7,2119.2 L1720.7,2119.5 L1723.7,2119.8 L1726.8,2120.1 L1729.8,2120.3 L1732.8,2120.6 L1735.8,2120.9 L1738.8,2121.1 L1741.8,2121.4 L1744.9,2121.6 L1747.9,2121.8 L1750.9,2122 L1753.9,2122.2 L1756.9,2122.4 L1760,2122.6 L1763,2122.8 L1766,2122.9 L1769,2123.1 L1772,2123.3 L1775,2123.4 L1778.1,2123.5 L1781.1,2123.7 L1784.1,2123.8 L1787.1,2123.8 L1790.1,2123.9 L1793.1,2124 L1796.2,2124.1 L1799.2,2124.1 L1802.2,2124.2 L1805.2,2124.3 L1808.2,2124.3 L1811.2,2124.4 L1814.3,2124.5 L1817.3,2124.5 L1820.3,2124.6 L1823.3,2124.6 L1826.3,2124.7 L1829.3,2124.7 L1832.4,2124.7 L1835.4,2124.8 L1838.4,2124.8 L1841.4,2124.9 L1844.4,2124.9 L1847.5,2124.9 L1850.5,2125 L1853.5,2125 L1856.5,2125 L1859.5,2125.1 L1862.5,2125.1 L1865.6,2125.2 L1868.6,2125.2 L1871.6,2125.2 L1874.6,2125.2 L1877.6,2125.3 L1880.6,2125.3 L1883.7,2125.3 L1886.7,2125.3 L1889.7,2125.4 L1892.7,2125.4 L1895.7,2125.4 L1898.7,2125.4 L1901.8,2125.4 L1904.8,2125.4 L1907.8,2125.4 L1910.8,2125.3 L1913.8,2125.3 L1916.8,2125.3 L1919.9,2125.3 L1922.9,2125.2 L1925.9,2125.2 L1928.9,2125.2 L1931.9,2125.1 L1935,2125.1 L1938,2125 L1941,2125 L1944,2124.9 L1947,2124.9 L1950,2124.9 L1953.1,2124.8 L1956.1,2124.8 L1959.1,2124.7 L1962.1,2124.7 L1965.1,2124.6 L1968.1,2124.6 L1971.2,2124.5 L1974.2,2124.4 L1977.2,2124.3 L1980.2,2124.3 L1983.2,2124.2 L1986.2,2124.1 L1989.3,2124 L1992.3,2123.9 L1995.3,2123.8 L1998.3,2123.7 L2001.3,2123.6 L2004.3,2123.5 L2007.4,2123.4 L2010.4,2123.2 L2013.4,2123.1 L2016.4,2123 L2019.4,2122.9 L2022.5,2122.7 L2025.5,2122.6 L2028.5,2122.5 L2031.5,2122.3 L2034.5,2122.1 L2037.5,2121.9 L2040.6,2121.7 L2043.6,2121.6 L2046.6,2121.4 L2049.6,2121.2 L2052.6,2121 L2055.6,2120.8 L2058.7,2120.6 L2061.7,2120.4 L2064.7,2120.2 L2067.7,2120 L2070.7,2119.8 L2073.7,2119.6 L2076.8,2119.4 L2079.8,2119.2 L2082.8,2119 L2085.8,2118.8 L2088.8,2118.6 L2091.8,2118.4 L2094.9,2118.2 L2097.9,2118 L2100.9,2117.8 L2103.9,2117.6 L2103.9,2137.8 L2100.9,2137.6 L2097.9,2137.4 L2094.9,2137.2 L2091.8,2137 L2088.8,2136.8 L2085.8,2136.6 L2082.8,2136.3 L2079.7,2136.1 L2076.7,2135.9 L2073.7,2135.7 L2070.7,2135.5 L2067.7,2135.3 L2064.6,2135.1 L2061.6,2134.8 L2058.6,2134.6 L2055.6,2134.4 L2052.6,2134.2 L2049.5,2134 L2046.5,2133.8 L2043.5,2133.6 L2040.5,2133.4 L2037.5,2133.3 L2034.4,2133.1 L2031.4,2132.9 L2028.4,2132.7 L2025.4,2132.6 L2022.4,2132.4 L2019.3,2132.2 L2016.3,2132.2 L2013.3,2132.2 L2010.3,2132.3 L2007.3,2132.3 L2004.3,2132.3 L2001.3,2132.4 L1998.3,2132.4 L1995.2,2132.4 L1992.2,2132.5 L1989.2,2132.5 L1986.2,2132.5 L1983.2,2132.6 L1980.2,2132.6 L1977.2,2132.7 L1974.2,2132.7 L1971.2,2132.8 L1968.1,2132.8 L1965.1,2132.9 L1962.1,2133 L1959.1,2133 L1956.1,2133.1 L1953.1,2133.1 L1950.1,2133.2 L1947.1,2133.3 L1944,2133.3 L1941,2133.4 L1938,2133.5 L1935,2133.5 L1932,2133.6 L1929,2133.7 L1926,2133.8 L1923,2133.8 L1920,2133.9 L1916.9,2134 L1913.9,2134.1 L1910.9,2134.2 L1907.9,2134.3 L1904.9,2134.4 L1901.9,2134.5 L1898.9,2134.6 L1895.9,2134.7 L1892.9,2134.8 L1889.8,2134.9 L1886.8,2135.1 L1883.8,2135.2 L1880.8,2135.3 L1877.8,2135.4 L1874.8,2135.5 L1871.8,2135.6 L1868.8,2135.7 L1865.7,2135.9 L1862.7,2136 L1859.7,2136.1 L1856.7,2136.2 L1853.7,2136.4 L1850.7,2136.5 L1847.7,2136.6 L1844.7,2136.7 L1841.7,2136.9 L1838.6,2137 L1835.6,2137.1 L1832.6,2137.2 L1829.6,2137.3 L1826.6,2137.4 L1823.6,2137.5 L1820.6,2137.5 L1817.6,2137.6 L1814.6,2137.7 L1811.5,2137.7 L1808.5,2137.8 L1805.5,2137.8 L1802.5,2137.8 L1799.5,2137.8 L1796.5,2137.7 L1793.5,2137.6 L1790.5,2137.5 L1787.5,2137.4 L1784.4,2137.2 L1781.4,2137 L1778.4,2136.8 L1775.4,2136.6 L1772.4,2136.4 L1769.4,2136.2 L1766.4,2135.9 L1763.4,2135.7 L1760.3,2135.4 L1757.3,2135.1 L1754.3,2134.8 L1751.3,2134.5 L1748.3,2134.2 L1745.3,2133.8 L1742.3,2133.5 L1739.3,2133.1 L1736.3,2132.7 L1733.2,2132.3 L1730.2,2131.9 L1727.2,2131.5 L1724.2,2131 L1721.2,2130.5 L1718.2,2130.1 L1715.2,2129.6 L1712.2,2129.1 L1709.2,2128.6 L1706.1,2128.1 L1703.1,2127.6 L1700.1,2127.1 L1697.1,2126.6 L1694.1,2126.1 L1691.1,2125.5 L1688.1,2125 L1685.1,2124.4Z" fill="rgb(243,145,127)" fill-opacity="0.87"/>
<path d="M1685.1,2123.8 L1688.1,2124.3 L1691.1,2124.8 L1694.1,2125.3 L1697.1,2125.8 L1700.1,2126.3 L1703.1,2126.7 L1706.2,2127.2 L1709.2,2127.7 L1712.2,2128.1 L1715.2,2128.6 L1718.2,2129.1 L1721.2,2129.6 L1724.2,2130 L1727.2,2130.5 L1730.3,2130.9 L1733.3,2131.4 L1736.3,2131.8 L1739.3,2132.2 L1742.3,2132.6 L1745.3,2133 L1748.3,2133.4 L1751.4,2133.8 L1754.4,2134.1 L1757.4,2134.5 L1760.4,2134.8 L1763.4,2135.1 L1766.4,2135.4 L1769.4,2135.6 L1772.4,2135.7 L1775.5,2135.9 L1778.5,2136 L1781.5,2136.2 L1784.5,2136.3 L1787.5,2136.3 L1790.5,2136.3 L1793.5,2136.3 L1796.6,2136.2 L1799.6,2136.1 L1802.6,2135.9 L1805.6,2135.8 L1808.6,2135.6 L1811.6,2135.4 L1814.6,2135.2 L1817.6,2135 L1820.7,2134.8 L1823.7,2134.6 L1826.7,2134.4 L1829.7,2134.3 L1832.7,2134.1 L1835.7,2133.9 L1838.7,2133.7 L1841.8,2133.6 L1844.8,2133.4 L1847.8,2133.2 L1850.8,2133.1 L1853.8,2132.9 L1856.8,2132.7 L1859.8,2132.5 L1862.8,2132.4 L1865.9,2132.2 L1868.9,2132 L1871.9,2131.9 L1874.9,2131.7 L1877.9,2131.5 L1880.9,2131.4 L1883.9,2131.2 L1887,2131.1 L1890,2130.9 L1893,2130.8 L1896,2130.6 L1899,2130.5 L1902,2130.3 L1905,2130.2 L1908,2130 L1911.1,2129.9 L1914.1,2129.7 L1917.1,2129.6 L1920.1,2129.4 L1923.1,2129.3 L1926.1,2129.1 L1929.1,2129 L1932.2,2128.9 L1935.2,2128.7 L1938.2,2128.6 L1941.2,2128.5 L1944.2,2128.4 L1947.2,2128.2 L1950.2,2128.1 L1953.2,2128 L1956.3,2127.9 L1959.3,2127.8 L1962.3,2127.7 L1965.3,2127.6 L1968.3,2127.5 L1971.3,2127.4 L1974.3,2127.3 L1977.4,2127.2 L1980.4,2127.1 L1983.4,2127 L1986.4,2126.9 L1989.4,2126.9 L1992.4,2126.8 L1995.4,2126.7 L1998.4,2126.6 L2001.5,2126.5 L2004.5,2126.4 L2007.5,2126.4 L2010.5,2126.3 L2013.5,2126.2 L2016.5,2126.1 L2019.5,2126 L2022.6,2125.9 L2025.6,2125.8 L2028.6,2125.7 L2031.6,2125.6 L2034.6,2125.5 L2037.6,2125.4 L2040.6,2125.2 L2043.6,2125.1 L2046.7,2125 L2049.7,2124.9 L2052.7,2124.8 L2055.7,2124.7 L2058.7,2124.6 L2061.7,2124.5 L2064.7,2124.5 L2067.8,2124.4 L2070.8,2124.3 L2073.8,2124.3 L2076.8,2124.2 L2079.8,2124.1 L2082.8,2124.1 L2085.8,2124 L2088.8,2124 L2091.9,2123.9 L2094.9,2123.9 L2097.9,2123.9 L2100.9,2123.8 L2103.9,2123.8" fill="none" stroke="#ec5535" stroke-width="1.6"/>
</g>
<path d="M1685.1,2077.2 h4.5 M1685.1,2015.9 h4.5 M1685.1,1954.3 h4.5 M1685.1,1893.1 h4.5 M1685.1,1831.5 h4.5 M1737.4,2138.7 v-4.5 M1789.8,2138.7 v-4.5 M1842.1,2138.7 v-4.5 M1894.5,2138.7 v-4.5 M1946.8,2138.7 v-4.5 M1999.2,2138.7 v-4.5 M2051.6,2138.7 v-4.5 M2103.9,2138.7 v-4.5 " stroke="#686868" stroke-width="1.3" fill="none"/>
<g font-size="21.9" fill="#1e1e1e">
<text x="1674.6" y="2144.4" text-anchor="end">0</text>
<text x="1678.6" y="2082.9" text-anchor="end">50</text>
<text x="1678.6" y="2021.6" text-anchor="end">100</text>
<text x="1678.6" y="1960" text-anchor="end">150</text>
<text x="1678.6" y="1898.8" text-anchor="end">200</text>
<text x="1678.6" y="1837.2" text-anchor="end">250</text>
<text x="1683.6" y="2156.8" text-anchor="middle">0</text>
<text x="1740" y="2156.8" text-anchor="middle">0.5</text>
<text x="1788.3" y="2156.8" text-anchor="middle">1</text>
<text x="1844.7" y="2156.8" text-anchor="middle">1.5</text>
<text x="1893" y="2156.8" text-anchor="middle">2</text>
<text x="1949.4" y="2156.8" text-anchor="middle">2.5</text>
<text x="1997.7" y="2156.8" text-anchor="middle">3</text>
<text x="2054.2" y="2156.8" text-anchor="middle">3.5</text>
<text x="2102.4" y="2156.8" text-anchor="middle">4</text>
</g>
<text x="1887.5" y="1810.3" font-size="27.7" text-anchor="middle">AMP <tspan dx="-8.5" dy="-2" textLength="44.5" lengthAdjust="spacingAndGlyphs">→</tspan><tspan dx="-8.5" dy="2"> IMP</tspan></text>
<text x="1886.9" y="2184.5" font-size="27.7" text-anchor="middle">time post RT (h)</text>
<text transform="translate(1633.7,1978.4) rotate(-90)" font-size="27" text-anchor="middle">Flux (pmol/mg/h)</text>
<text x="1609.5" y="1802" font-size="31.5" font-weight="bold" fill="#1a1a1a">r</text>
</g>
<g>
<path d="M1142.4,34.2 V364.7 H1573.7" fill="none" stroke="#2a2a2a" stroke-width="1.4"/>
<clipPath id="clip-b"><rect x="1141.4" y="33.2" width="434.3" height="332.5"/></clipPath>
<g clip-path="url(#clip-b)">
<path d="M1142.4,337.4 L1145.5,337 L1148.6,336.6 L1151.6,336.2 L1154.7,335.6 L1157.8,335.1 L1160.8,334.5 L1163.9,333.8 L1167,333 L1170,332 L1173.1,331.1 L1176.2,330.1 L1179.2,329.3 L1182.3,328.5 L1185.4,327.8 L1188.4,327.1 L1191.5,326.4 L1194.6,325.7 L1197.6,325.1 L1200.7,324.5 L1203.7,323.9 L1206.8,323.4 L1209.8,321.9 L1212.9,320.5 L1215.9,319.1 L1218.9,317.8 L1221.9,316.5 L1224.9,315.3 L1228,314.2 L1231,313.2 L1234,312.2 L1237,311.2 L1240,310.2 L1243.1,309.3 L1246.1,308.4 L1249.1,307.6 L1252.1,306.9 L1255.1,306.3 L1258.2,305.7 L1261.2,305.1 L1264.2,304.5 L1267.2,303.9 L1270.2,303.4 L1273.3,303 L1276.3,302.6 L1279.3,302.3 L1282.3,302.1 L1285.4,301.8 L1288.4,301.6 L1291.4,301.4 L1294.4,301.3 L1297.4,301.1 L1300.5,301.1 L1303.5,301 L1306.5,301 L1309.5,301.1 L1312.5,301.2 L1315.6,301.3 L1318.6,301.5 L1321.6,301.7 L1324.6,301.9 L1327.6,302.1 L1330.7,302.3 L1333.7,302.6 L1336.7,303 L1339.7,303.4 L1342.7,303.9 L1345.8,304.5 L1348.8,305.1 L1351.8,305.7 L1354.8,306.4 L1357.8,307.1 L1360.9,307.9 L1363.9,308.8 L1366.9,309.8 L1369.9,310.8 L1373,311.8 L1376,312.9 L1379,313.9 L1382,315 L1385,316.1 L1388.1,317.2 L1391.1,318.3 L1394.1,319.5 L1397.1,320.6 L1400.1,321.7 L1403.2,322.7 L1406.2,323.8 L1409.2,324.9 L1412.2,325.9 L1415.2,327 L1418.3,328.1 L1421.3,328.3 L1424.3,328.6 L1427.3,328.9 L1430.4,329.2 L1433.4,329.6 L1436.4,330 L1439.4,330.4 L1442.5,330.8 L1445.5,331.3 L1448.5,331.7 L1451.5,332.2 L1454.6,332.8 L1457.6,333.3 L1460.6,333.9 L1463.6,334.4 L1466.7,335 L1469.7,335.6 L1472.7,336.2 L1475.7,336.8 L1478.8,337.3 L1481.8,337.9 L1484.8,338.5 L1487.8,339.1 L1490.9,339.7 L1493.9,340.3 L1496.9,340.9 L1499.9,341.5 L1503,342.2 L1506,342.8 L1509,343.4 L1512.1,344.1 L1515.1,344.8 L1518.1,345.4 L1521.1,346.1 L1524.2,346.8 L1527.2,347.6 L1530.2,348.3 L1533.3,346.9 L1536.4,345.6 L1539.5,344.4 L1542.6,343.1 L1545.8,341.9 L1548.9,340.7 L1552,339.5 L1555.1,338.4 L1558.2,337.3 L1561.3,336.2 L1564.4,335.1 L1567.5,334.1 L1570.6,333.1 L1573.7,332.1 L1573.7,364.7 L1570.7,364.8 L1567.7,364.8 L1564.7,364.8 L1561.7,364.8 L1558.7,364.8 L1555.6,364.8 L1552.6,364.9 L1549.6,364.9 L1546.6,364.9 L1543.6,364.9 L1540.6,364.9 L1537.5,364.9 L1534.5,364.9 L1531.5,364.9 L1528.5,364.9 L1525.5,365 L1522.5,365 L1519.4,365 L1516.4,365 L1513.4,365 L1510.4,365 L1507.4,365 L1504.4,365 L1501.4,365 L1498.3,365 L1495.3,365 L1492.3,365 L1489.3,365 L1486.3,365 L1483.3,365 L1480.2,365 L1477.2,365 L1474.2,365 L1471.2,365 L1468.2,365 L1465.2,365 L1462.1,365 L1459.1,365 L1456.1,365 L1453.1,365 L1450.1,365 L1447.1,365 L1444,365 L1441,365 L1438,365 L1435,365 L1432,365 L1429,365 L1426,365 L1422.9,365 L1419.9,365 L1416.9,364.9 L1413.9,364.9 L1410.9,364.9 L1407.9,364.9 L1404.8,364.9 L1401.8,364.9 L1398.8,364.9 L1395.8,364.9 L1392.8,364.9 L1389.8,364.9 L1386.7,364.8 L1383.7,364.8 L1380.7,364.8 L1377.7,364.8 L1374.7,364.8 L1371.7,364.8 L1368.6,364.8 L1365.6,364.7 L1362.6,364.7 L1359.6,364.7 L1356.6,364.7 L1353.6,364.6 L1350.6,364.6 L1347.5,364.6 L1344.5,364.5 L1341.5,364.5 L1338.5,364.5 L1335.5,364.4 L1332.5,364.4 L1329.4,364.3 L1326.4,364.3 L1323.4,364.2 L1320.4,364.1 L1317.4,364.1 L1314.4,364 L1311.3,364 L1308.3,363.9 L1305.3,363.8 L1302.3,363.8 L1299.3,363.7 L1296.3,363.6 L1293.2,363.5 L1290.2,363.4 L1287.2,363.4 L1284.2,363.3 L1281.2,363.2 L1278.2,363.1 L1275.2,363 L1272.1,362.9 L1269.1,362.8 L1266.1,362.7 L1263.1,362.6 L1260.1,362.4 L1257.1,362.3 L1254,362.2 L1251,362.1 L1248,362 L1245,361.9 L1242,361.8 L1239,361.7 L1235.9,361.6 L1232.9,361.5 L1229.9,361.3 L1226.9,361.2 L1223.9,361.1 L1220.9,361 L1217.8,360.9 L1214.8,360.8 L1211.8,360.7 L1208.8,360.6 L1205.8,360.5 L1202.8,360.4 L1199.7,360.3 L1196.7,360.2 L1193.7,360.1 L1190.7,360 L1187.7,359.9 L1184.7,359.8 L1181.7,359.8 L1178.6,359.7 L1175.6,359.6 L1172.6,359.5 L1169.6,359.4 L1166.6,359.3 L1163.6,359.2 L1160.5,359.1 L1157.5,359 L1154.5,358.9 L1151.5,358.8 L1148.5,358.7 L1145.5,358.6 L1142.4,358.5Z" fill="#d2d2d2"/>
<path d="M1142.4,343.6 L1145.5,343 L1148.5,342.4 L1151.5,341.8 L1154.5,341.3 L1157.5,340.7 L1160.5,340.2 L1163.6,339.7 L1166.6,339.2 L1169.6,338.7 L1172.6,338.2 L1175.6,337.7 L1178.6,337.3 L1181.7,336.8 L1184.7,336.4 L1187.7,335.9 L1190.7,335.5 L1193.7,335.2 L1196.7,334.8 L1199.7,334.4 L1202.8,334.1 L1205.8,333.8 L1208.8,333.4 L1211.8,333.1 L1214.8,332.8 L1217.8,332.5 L1220.9,332.3 L1223.9,332.1 L1226.9,331.9 L1229.9,331.7 L1232.9,331.6 L1235.9,331.4 L1239,331.3 L1242,331.1 L1245,331 L1248,330.9 L1251,330.8 L1254,330.8 L1257.1,330.7 L1260.1,330.6 L1263.1,330.6 L1266.1,330.6 L1269.1,330.5 L1272.1,330.5 L1275.2,330.5 L1278.2,330.6 L1281.2,330.6 L1284.2,330.7 L1287.2,330.8 L1290.2,331 L1293.2,331.1 L1296.3,331.3 L1299.3,331.5 L1302.3,331.6 L1305.3,331.8 L1308.3,332 L1311.3,332.3 L1314.4,332.5 L1317.4,332.8 L1320.4,333.1 L1323.4,333.5 L1326.4,333.8 L1329.4,334.1 L1332.5,334.5 L1335.5,334.9 L1338.5,335.2 L1341.5,335.6 L1344.5,336 L1347.5,336.4 L1350.6,336.9 L1353.6,337.3 L1356.6,337.8 L1359.6,338.3 L1362.6,338.8 L1365.6,339.3 L1368.6,339.9 L1371.7,340.4 L1374.7,341 L1377.7,341.6 L1380.7,342.2 L1383.7,342.8 L1386.7,343.5 L1389.8,344.1 L1392.8,344.7 L1395.8,345.3 L1398.8,345.9 L1401.8,346.5 L1404.8,347.2 L1407.9,347.8 L1410.9,348.4 L1413.9,349 L1416.9,349.6 L1419.9,350.2 L1422.9,350.8 L1426,351.4 L1429,352 L1432,352.5 L1435,353.1 L1438,353.7 L1441,354.3 L1444,354.8 L1447.1,355.4 L1450.1,355.9 L1453.1,356.4 L1456.1,356.9 L1459.1,357.4 L1462.1,357.9 L1465.2,358.3 L1468.2,358.8 L1471.2,359.2 L1474.2,359.6 L1477.2,360.1 L1480.2,360.4 L1483.3,360.8 L1486.3,361.1 L1489.3,361.5 L1492.3,361.7 L1495.3,362 L1498.3,362.2 L1501.4,362.5 L1504.4,362.7 L1507.4,363 L1510.4,363.2 L1513.4,363.4 L1516.4,363.5 L1519.4,363.7 L1522.5,363.8 L1525.5,363.9 L1528.5,364.1 L1531.5,364.2 L1534.5,364.3 L1537.5,364.4 L1540.6,364.5 L1543.6,364.6 L1546.6,364.6 L1549.6,364.7 L1552.6,364.7 L1555.6,364.8 L1558.7,364.8 L1561.7,364.8 L1564.7,364.8 L1567.7,364.8 L1570.7,364.8 L1573.7,364.7" fill="none" stroke="#70787d" stroke-width="1.45"/>
<path d="M1142.4,317.2 L1145.5,305.2 L1148.5,293.5 L1151.5,282.1 L1154.5,271 L1157.5,260.3 L1160.5,249.8 L1163.6,239.5 L1166.6,229.4 L1169.6,219.4 L1172.6,209.4 L1175.6,199.5 L1178.6,189.7 L1181.7,180 L1184.7,170.6 L1187.7,161.6 L1190.7,152.7 L1193.7,144.1 L1196.7,135.7 L1199.7,127.5 L1202.8,119.7 L1205.8,111.9 L1208.8,104.4 L1211.8,97 L1214.8,90.1 L1217.8,83.7 L1220.9,77.6 L1223.9,71.8 L1226.9,66.3 L1229.9,61.1 L1232.9,56.4 L1235.9,52 L1239,47.7 L1242,43.9 L1245,41 L1248,38.8 L1251,36.8 L1254,35.3 L1257.1,34.3 L1260.1,34.1 L1263.1,34.4 L1266.1,35 L1269.1,36 L1272.1,37.5 L1275.2,39.5 L1278.2,41.8 L1281.2,44.3 L1284.2,46.7 L1287.2,49 L1290.2,51.3 L1293.2,53.5 L1296.3,55.7 L1299.3,58 L1302.3,60.3 L1305.3,62.6 L1308.3,65 L1311.3,67.3 L1314.4,69.7 L1317.4,72.1 L1320.4,74.5 L1323.4,76.9 L1326.4,79.4 L1329.4,81.8 L1332.5,84.3 L1335.5,86.7 L1338.5,89.2 L1341.5,91.8 L1344.5,94.3 L1347.5,96.9 L1350.6,99.5 L1353.6,102 L1356.6,104.6 L1359.6,107.2 L1362.6,109.8 L1365.6,112.4 L1368.6,114.9 L1371.7,117.5 L1374.7,120.1 L1377.7,122.6 L1380.7,125.2 L1383.7,127.8 L1386.7,130.3 L1389.8,132.9 L1392.8,135.4 L1395.8,138 L1398.8,140.6 L1401.8,143.1 L1404.8,145.7 L1407.9,148.3 L1410.9,150.8 L1413.9,153.4 L1416.9,156 L1419.9,158.5 L1422.9,161.1 L1426,163.6 L1429,166.2 L1432,168.8 L1435,171.3 L1438,173.9 L1441,176.5 L1444,179 L1447.1,181.6 L1450.1,184.2 L1453.1,186.7 L1456.1,189.3 L1459.1,191.8 L1462.1,194.4 L1465.2,197 L1468.2,199.5 L1471.2,202.1 L1474.2,204.7 L1477.2,207.2 L1480.2,209.8 L1483.3,212.4 L1486.3,214.9 L1489.3,217.5 L1492.3,220 L1495.3,222.6 L1498.3,225.1 L1501.4,227.7 L1504.4,230.2 L1507.4,232.7 L1510.4,235.3 L1513.4,237.8 L1516.4,240.4 L1519.4,243 L1522.5,245.7 L1525.5,248.4 L1528.5,251.2 L1531.5,254.1 L1534.5,257 L1537.5,259.8 L1540.6,262.6 L1543.6,265.3 L1546.6,267.9 L1549.6,270.6 L1552.6,273.1 L1555.6,275.5 L1558.7,277.6 L1561.7,279.5 L1564.7,281.3 L1567.7,282.9 L1570.7,284.4 L1573.7,285.5 L1573.7,317.2 L1570.7,314.4 L1567.7,311.5 L1564.7,308.4 L1561.7,305.3 L1558.7,302 L1555.7,298.5 L1552.7,294.9 L1549.6,291.2 L1546.6,287.4 L1543.6,283.8 L1540.6,280.3 L1537.6,276.7 L1534.6,273.2 L1531.6,269.7 L1528.6,266.2 L1525.5,262.8 L1522.5,261.1 L1519.5,259.5 L1516.4,257.8 L1513.4,256 L1510.3,254.3 L1507.3,252.5 L1504.3,250.6 L1501.2,248.8 L1498.2,246.9 L1495.1,245 L1492.1,243 L1489,241.1 L1486,239.1 L1483,237 L1479.9,234.9 L1476.9,232.8 L1473.8,230.6 L1470.8,228.4 L1467.8,226.2 L1464.7,224 L1461.7,221.8 L1458.6,219.6 L1455.6,217.4 L1452.6,215.2 L1449.5,212.9 L1446.5,210.6 L1443.4,208.4 L1440.4,206.1 L1437.4,203.8 L1434.3,201.4 L1431.3,199.1 L1428.2,196.7 L1425.2,194.4 L1422.1,192 L1419.1,189.5 L1416.1,187.1 L1413,184.7 L1410,182.2 L1406.9,179.7 L1403.9,177.3 L1400.9,174.8 L1397.8,172.4 L1394.8,170 L1391.7,167.5 L1388.7,165.1 L1385.7,162.7 L1382.6,160.2 L1379.6,157.8 L1376.5,155.4 L1373.5,152.9 L1370.5,150.5 L1367.4,148.1 L1364.4,145.6 L1361.3,143.2 L1358.3,140.8 L1355.2,138.4 L1352.2,135.9 L1349.2,133.5 L1346.1,131.1 L1343.1,128.6 L1340,126.2 L1337,123.8 L1334,121.3 L1330.9,118.8 L1327.9,116.3 L1324.8,113.8 L1321.8,111.3 L1318.8,108.8 L1315.7,107.6 L1312.7,106.2 L1309.6,104.9 L1306.6,103.5 L1303.6,102 L1300.5,100.6 L1297.5,99 L1294.4,97.5 L1291.4,96 L1288.4,94.4 L1285.3,92.9 L1282.3,91.3 L1279.2,89.6 L1276.2,88 L1273.2,86.6 L1270.1,85.4 L1267.1,84.5 L1264,84 L1261,83.8 L1258,84 L1254.9,84.9 L1251.9,86.6 L1248.8,89 L1245.8,91.6 L1242.8,94.8 L1239.7,98.8 L1236.7,103.4 L1233.6,108.2 L1230.6,113.1 L1227.6,118.3 L1224.5,123.8 L1221.5,129.5 L1218.4,135.4 L1215.4,141.3 L1212.4,147.5 L1209.3,153.9 L1206.3,160.5 L1203.2,167.1 L1200.2,173.8 L1197.2,180.5 L1194.1,187.5 L1191.1,194.5 L1188,201.7 L1185,209.2 L1182,216.8 L1178.9,224.7 L1175.9,232.7 L1172.8,240.8 L1169.8,249 L1166.8,257.3 L1163.7,265.7 L1160.7,274.3 L1157.6,283 L1154.6,291.8 L1151.6,301 L1148.5,310.3 L1145.5,319.9 L1142.4,329.6Z" fill="rgb(243,145,127)" fill-opacity="0.87"/>
<path d="M1142.4,324.9 L1145.5,313.7 L1148.5,302.6 L1151.5,291.9 L1154.5,281.6 L1157.5,271.7 L1160.5,262.2 L1163.6,252.9 L1166.6,243.7 L1169.6,234.6 L1172.6,225.4 L1175.6,216.1 L1178.6,206.9 L1181.7,197.8 L1184.7,188.9 L1187.7,180.5 L1190.7,172.3 L1193.7,164.3 L1196.7,156.5 L1199.7,148.9 L1202.8,141.5 L1205.8,134.2 L1208.8,127 L1211.8,120 L1214.8,113.3 L1217.8,107 L1220.9,101.1 L1223.9,95.4 L1226.9,90 L1229.9,84.8 L1232.9,79.8 L1235.9,74.8 L1239,69.8 L1242,65.2 L1245,61.4 L1248,58.4 L1251,55.7 L1254,53.5 L1257.1,52.2 L1260.1,51.7 L1263.1,51.7 L1266.1,52.1 L1269.1,52.9 L1272.1,54.2 L1275.2,56 L1278.2,58 L1281.2,60.1 L1284.2,62.4 L1287.2,64.5 L1290.2,66.7 L1293.2,68.9 L1296.3,71.2 L1299.3,73.5 L1302.3,75.8 L1305.3,78.2 L1308.3,80.5 L1311.3,82.9 L1314.4,85.2 L1317.4,87.6 L1320.4,90 L1323.4,92.5 L1326.4,94.9 L1329.4,97.4 L1332.5,99.8 L1335.5,102.3 L1338.5,104.8 L1341.5,107.3 L1344.5,109.9 L1347.5,112.4 L1350.6,115 L1353.6,117.6 L1356.6,120.2 L1359.6,122.8 L1362.6,125.3 L1365.6,127.9 L1368.6,130.5 L1371.7,133.1 L1374.7,135.6 L1377.7,138.2 L1380.7,140.8 L1383.7,143.3 L1386.7,145.9 L1389.8,148.5 L1392.8,151 L1395.8,153.6 L1398.8,156.1 L1401.8,158.6 L1404.8,161.2 L1407.9,163.7 L1410.9,166.2 L1413.9,168.7 L1416.9,171.2 L1419.9,173.7 L1422.9,176.2 L1426,178.7 L1429,181.1 L1432,183.6 L1435,186.1 L1438,188.6 L1441,191.1 L1444,193.6 L1447.1,196 L1450.1,198.5 L1453.1,201 L1456.1,203.4 L1459.1,205.9 L1462.1,208.3 L1465.2,210.8 L1468.2,213.2 L1471.2,215.6 L1474.2,218 L1477.2,220.4 L1480.2,222.8 L1483.3,225.2 L1486.3,227.6 L1489.3,230 L1492.3,232.4 L1495.3,234.8 L1498.3,237.3 L1501.4,239.7 L1504.4,242.1 L1507.4,244.5 L1510.4,246.9 L1513.4,249.3 L1516.4,251.7 L1519.4,254.2 L1522.5,256.6 L1525.5,259 L1528.5,261.4 L1531.5,263.8 L1534.5,266.3 L1537.5,268.7 L1540.6,271.1 L1543.6,273.5 L1546.6,275.8 L1549.6,278.1 L1552.6,280.4 L1555.6,282.7 L1558.7,285 L1561.7,287.2 L1564.7,289.4 L1567.7,291.7 L1570.7,293.8 L1573.7,296" fill="none" stroke="#ec5535" stroke-width="1.6"/>
</g>
<path d="M1142.4,326.5 h4.5 M1142.4,288.3 h4.5 M1142.4,250 h4.5 M1142.4,211.8 h4.5 M1142.4,173.2 h4.5 M1142.4,135 h4.5 M1142.4,96.7 h4.5 M1142.4,58.5 h4.5 M1196.4,364.7 v-4.5 M1250.3,364.7 v-4.5 M1304.2,364.7 v-4.5 M1358.1,364.7 v-4.5 M1412,364.7 v-4.5 M1465.9,364.7 v-4.5 M1519.8,364.7 v-4.5 M1573.7,364.7 v-4.5 " stroke="#2a2a2a" stroke-width="1.2" fill="none"/>
<g font-size="21.9" fill="#1e1e1e">
<text x="1137.4" y="370.4" text-anchor="end">0</text>
<text x="1139.6" y="332.2" text-anchor="end">10</text>
<text x="1139.6" y="294" text-anchor="end">20</text>
<text x="1139.6" y="255.7" text-anchor="end">30</text>
<text x="1139.6" y="217.5" text-anchor="end">40</text>
<text x="1139.6" y="178.9" text-anchor="end">50</text>
<text x="1139.6" y="140.7" text-anchor="end">60</text>
<text x="1139.6" y="102.4" text-anchor="end">70</text>
<text x="1139.6" y="64.2" text-anchor="end">80</text>
<text x="1144.6" y="388.7" text-anchor="middle">0</text>
<text x="1202.7" y="388.7" text-anchor="middle">0.5</text>
<text x="1252.5" y="388.7" text-anchor="middle">1</text>
<text x="1310.5" y="388.7" text-anchor="middle">1.5</text>
<text x="1360.3" y="388.7" text-anchor="middle">2</text>
<text x="1418.3" y="388.7" text-anchor="middle">2.5</text>
<text x="1468.1" y="388.7" text-anchor="middle">3</text>
<text x="1526.1" y="388.7" text-anchor="middle">3.5</text>
<text x="1575.9" y="388.7" text-anchor="middle">4</text>
</g>
<text x="1358.6" y="20.1" font-size="27.7" text-anchor="middle"><tspan font-style="italic">De novo</tspan> IMP synthesis</text>
<text x="1350.5" y="421.3" font-size="27.7" text-anchor="middle">time post RT (h)</text>
<text transform="translate(1098.6,199) rotate(-90)" font-size="27" text-anchor="middle">Flux (pmol/mg/h)</text>
<text x="1068.4" y="24.3" font-size="31.5" font-weight="bold" fill="#1a1a1a">b</text>
</g>
<g>
<text x="208.7" y="2257.5" font-size="31.5" font-weight="bold" fill="#1a1a1a">s</text>
<text x="428.9" y="2260.6" font-size="27" text-anchor="middle">IMP salvage</text>
<text x="429.2" y="2293.3" font-size="27" text-anchor="middle">(inosine tracer, t=6h)</text>
<rect x="352.5" y="2566.4" width="61" height="110.9" fill="#ffffff" stroke="#000" stroke-width="2.1"/>
<rect x="448.9" y="2612.1" width="61.6" height="65.2" fill="#f9c6c7" stroke="#000" stroke-width="2.1"/>
<path d="M318.2,2338.2 V2677.3 M304.8,2677.3 H543.6 M318.2,2339.3 h-13.4 M318.2,2451.9 h-13.4 M318.2,2564.4 h-13.4 M381.9,2677.3 v14.2 M478.9,2677.3 v14.2 " stroke="#000" stroke-width="2.3" fill="none"/>
<path d="M382.5,2487.6 V2643.1 M366.8,2487.6 h31.4 M366.8,2643.1 h31.4 M478.9,2584 V2636.9 M463.2,2584 h31.4 M463.2,2636.9 h31.4 " stroke="#000" stroke-width="2" fill="none"/>
<rect x="378.1" y="2458.3" width="8.9" height="8.9" rx="1.2" fill="#000"/>
<rect x="378.1" y="2522.1" width="8.9" height="8.9" rx="1.2" fill="#000"/>
<rect x="378.1" y="2550" width="8.9" height="8.9" rx="1.2" fill="#000"/>
<rect x="378.1" y="2626.2" width="8.9" height="8.9" rx="1.2" fill="#000"/>
<rect x="378.1" y="2649.5" width="8.9" height="8.9" rx="1.2" fill="#000"/>
<rect x="474.5" y="2575.5" width="8.9" height="8.9" rx="1.2" fill="#000"/>
<rect x="474.5" y="2586.7" width="8.9" height="8.9" rx="1.2" fill="#000"/>
<rect x="474.5" y="2603.5" width="8.9" height="8.9" rx="1.2" fill="#000"/>
<rect x="474.5" y="2622.2" width="8.9" height="8.9" rx="1.2" fill="#000"/>
<rect x="474.5" y="2642.7" width="8.9" height="8.9" rx="1.2" fill="#000"/>
<text x="301.6" y="2348.8" font-size="26.5" text-anchor="end">3</text>
<text x="301.6" y="2461.4" font-size="26.5" text-anchor="end">2</text>
<text x="301.6" y="2573.9" font-size="26.5" text-anchor="end">1</text>
<text x="301.6" y="2686.8" font-size="26.5" text-anchor="end">0</text>
<text x="381.9" y="2716.8" font-size="25.2" text-anchor="middle">Control</text>
<text x="478.9" y="2716.8" font-size="25.2" text-anchor="middle">RT</text>
<text x="431" y="2416.7" font-size="24.6" text-anchor="middle"><tspan font-style="italic">p</tspan>=0.3</text>
<path d="M381.9,2428.6 H480.5" stroke="#000" stroke-width="2.1"/>
<text transform="translate(272.1,2506.8) rotate(-90)" font-size="24.9" text-anchor="middle">Relative abundance (m+4 IMP)</text>
</g>
<g>
<text x="625.5" y="2257.5" font-size="31.5" font-weight="bold" fill="#1a1a1a">t</text>
<text x="847.5" y="2260.6" font-size="27" text-anchor="middle"><tspan font-style="italic">De novo</tspan> GMP synthesis</text>
<text x="847.5" y="2293.3" font-size="27" text-anchor="middle">(glutamine tracer, t=6h)</text>
<rect x="769" y="2623" width="61" height="54.3" fill="#ffffff" stroke="#000" stroke-width="2.1"/>
<rect x="865.4" y="2498.9" width="61.6" height="178.4" fill="#f9c6c7" stroke="#000" stroke-width="2.1"/>
<path d="M734.6,2338.2 V2677.3 M721.2,2677.3 H960.7 M734.6,2339.3 h-13.4 M734.6,2451.9 h-13.4 M734.6,2564.4 h-13.4 M799,2677.3 v14.2 M895.4,2677.3 v14.2 " stroke="#000" stroke-width="2.3" fill="none"/>
<path d="M799,2568.5 V2674.2 M783.3,2568.5 h31.4 M783.3,2674.2 h31.4 M895.7,2406.8 V2587.1 M880,2406.8 h31.4 M880,2587.1 h31.4 " stroke="#000" stroke-width="2" fill="none"/>
<rect x="794.6" y="2546.3" width="8.9" height="8.9" rx="1.2" fill="#000"/>
<rect x="794.6" y="2570.2" width="8.9" height="8.9" rx="1.2" fill="#000"/>
<rect x="794.6" y="2609.7" width="8.9" height="8.9" rx="1.2" fill="#000"/>
<rect x="794.6" y="2630.9" width="8.9" height="8.9" rx="1.2" fill="#000"/>
<rect x="788.3" y="2673.5" width="8.9" height="8.9" rx="1.2" fill="#000"/>
<rect x="801.7" y="2673.5" width="8.9" height="8.9" rx="1.2" fill="#000"/>
<rect x="891.3" y="2372.8" width="8.9" height="8.9" rx="1.2" fill="#000"/>
<rect x="891.3" y="2480.1" width="8.9" height="8.9" rx="1.2" fill="#000"/>
<rect x="891.3" y="2537.6" width="8.9" height="8.9" rx="1.2" fill="#000"/>
<rect x="891.3" y="2582.1" width="8.9" height="8.9" rx="1.2" fill="#000"/>
<text x="718" y="2348.8" font-size="26.5" text-anchor="end">6</text>
<text x="718" y="2461.4" font-size="26.5" text-anchor="end">4</text>
<text x="718" y="2573.9" font-size="26.5" text-anchor="end">2</text>
<text x="718" y="2686.8" font-size="26.5" text-anchor="end">0</text>
<text x="799" y="2716.8" font-size="25.2" text-anchor="middle">Control</text>
<text x="895.4" y="2716.8" font-size="25.2" text-anchor="middle">RT</text>
<text x="847.8" y="2343.7" font-size="24.6" text-anchor="middle"><tspan font-style="italic">p</tspan>=0.02</text>
<path d="M799,2354.5 H897" stroke="#000" stroke-width="2.1"/>
<text transform="translate(688.6,2507.8) rotate(-90)" font-size="24.9" text-anchor="middle">Relative abundance (m+3 GMP)</text>
</g>
<g>
<text x="1065.5" y="2257.5" font-size="31.5" font-weight="bold" fill="#1a1a1a">u</text>
<text x="1282.5" y="2260.6" font-size="27" text-anchor="middle"><tspan font-style="italic">De novo</tspan> IMP synthesis</text>
<text x="1278.8" y="2293.3" font-size="27" text-anchor="middle">(glutamine tracer, t=6h)</text>
<rect x="1205.9" y="2623.9" width="61.6" height="54" fill="#ffffff" stroke="#000" stroke-width="2.1"/>
<rect x="1301.6" y="2557.7" width="61.6" height="120.2" fill="#f9c6c7" stroke="#000" stroke-width="2.1"/>
<path d="M1173.1,2341.3 V2677.9 M1159.7,2677.9 H1396 M1173.1,2342.4 h-13.4 M1173.1,2454 h-13.4 M1173.1,2566 h-13.4 M1235.9,2677.9 v14.2 M1332.3,2677.9 v14.2 " stroke="#000" stroke-width="2.3" fill="none"/>
<path d="M1235.9,2579.4 V2664.6 M1220.2,2579.4 h31.4 M1220.2,2664.6 h31.4 M1332.3,2437.9 V2673.9 M1316.6,2437.9 h31.4 M1316.6,2673.9 h31.4 " stroke="#000" stroke-width="2" fill="none"/>
<rect x="1232.1" y="2546" width="8.9" height="8.9" rx="1.2" fill="#000"/>
<rect x="1232.1" y="2594.5" width="8.9" height="8.9" rx="1.2" fill="#000"/>
<rect x="1232.1" y="2614.7" width="8.9" height="8.9" rx="1.2" fill="#000"/>
<rect x="1225.2" y="2644.9" width="8.9" height="8.9" rx="1.2" fill="#000"/>
<rect x="1238.6" y="2650.5" width="8.9" height="8.9" rx="1.2" fill="#000"/>
<rect x="1232.1" y="2657.9" width="8.9" height="8.9" rx="1.2" fill="#000"/>
<rect x="1327.8" y="2393" width="8.9" height="8.9" rx="1.2" fill="#000"/>
<rect x="1327.8" y="2530.8" width="8.9" height="8.9" rx="1.2" fill="#000"/>
<rect x="1334.7" y="2638" width="8.9" height="8.9" rx="1.2" fill="#000"/>
<rect x="1321" y="2644.6" width="8.9" height="8.9" rx="1.2" fill="#000"/>
<text x="1156.5" y="2351.9" font-size="26.5" text-anchor="end">6</text>
<text x="1156.5" y="2463.5" font-size="26.5" text-anchor="end">4</text>
<text x="1156.5" y="2575.5" font-size="26.5" text-anchor="end">2</text>
<text x="1156.5" y="2687.4" font-size="26.5" text-anchor="end">0</text>
<text x="1235.9" y="2716.8" font-size="25.2" text-anchor="middle">Control</text>
<text x="1332.3" y="2716.8" font-size="25.2" text-anchor="middle">RT</text>
<text x="1284.1" y="2359.2" font-size="24.6" text-anchor="middle"><tspan font-style="italic">p</tspan>=0.2</text>
<path d="M1235.3,2370.4 H1333.2" stroke="#000" stroke-width="2.1"/>
<text transform="translate(1127.1,2506.6) rotate(-90)" font-size="24.9" text-anchor="middle">Relative abundance (m+2 IMP)</text>
</g>
<g>
<text x="1492.4" y="2257.5" font-size="31.5" font-weight="bold" fill="#1a1a1a">v</text>
<text x="1718.2" y="2260.6" font-size="27" text-anchor="middle"><tspan font-style="italic">De novo</tspan> AMP synthesis</text>
<text x="1714.8" y="2293.3" font-size="27" text-anchor="middle">(glutamine tracer, t=6h)</text>
<rect x="1635.9" y="2623.9" width="61.6" height="54" fill="#ffffff" stroke="#000" stroke-width="2.1"/>
<rect x="1732" y="2607.8" width="61.6" height="70.2" fill="#f9c6c7" stroke="#000" stroke-width="2.1"/>
<path d="M1603.1,2341.3 V2677.9 M1589.7,2677.9 H1826.7 M1603.1,2342.4 h-13.4 M1603.1,2454 h-13.4 M1603.1,2566 h-13.4 M1666,2677.9 v14.2 M1762.3,2677.9 v14.2 " stroke="#000" stroke-width="2.3" fill="none"/>
<path d="M1666.6,2527.1 V2677.9 M1650.9,2527.1 h31.4 M1762.3,2543.9 V2667.4 M1746.6,2543.9 h31.4 M1746.6,2667.4 h31.4 " stroke="#000" stroke-width="2" fill="none"/>
<rect x="1662.1" y="2424.7" width="8.9" height="8.9" rx="1.2" fill="#000"/>
<rect x="1655.3" y="2647.1" width="8.9" height="8.9" rx="1.2" fill="#000"/>
<rect x="1655.3" y="2654.2" width="8.9" height="8.9" rx="1.2" fill="#000"/>
<rect x="1669" y="2653.6" width="8.9" height="8.9" rx="1.2" fill="#000"/>
<rect x="1669" y="2662.9" width="8.9" height="8.9" rx="1.2" fill="#000"/>
<rect x="1655.3" y="2666.6" width="8.9" height="8.9" rx="1.2" fill="#000"/>
<rect x="1757.9" y="2532.3" width="8.9" height="8.9" rx="1.2" fill="#000"/>
<rect x="1757.9" y="2567.1" width="8.9" height="8.9" rx="1.2" fill="#000"/>
<rect x="1757.9" y="2644.9" width="8.9" height="8.9" rx="1.2" fill="#000"/>
<rect x="1757.9" y="2661.4" width="8.9" height="8.9" rx="1.2" fill="#000"/>
<text x="1586.5" y="2351.9" font-size="26.5" text-anchor="end">6</text>
<text x="1586.5" y="2463.5" font-size="26.5" text-anchor="end">4</text>
<text x="1586.5" y="2575.5" font-size="26.5" text-anchor="end">2</text>
<text x="1586.5" y="2687.4" font-size="26.5" text-anchor="end">0</text>
<text x="1666" y="2716.8" font-size="25.2" text-anchor="middle">Control</text>
<text x="1762.3" y="2716.8" font-size="25.2" text-anchor="middle">RT</text>
<text x="1714.8" y="2390.3" font-size="24.6" text-anchor="middle"><tspan font-style="italic">p</tspan>=0.8</text>
<path d="M1665.6,2402.4 H1763.6" stroke="#000" stroke-width="2.1"/>
<text transform="translate(1554.6,2506.3) rotate(-90)" font-size="24.9" text-anchor="middle">Relative abundance (m+2 AMP)</text>
</g>
</svg></body></html>
